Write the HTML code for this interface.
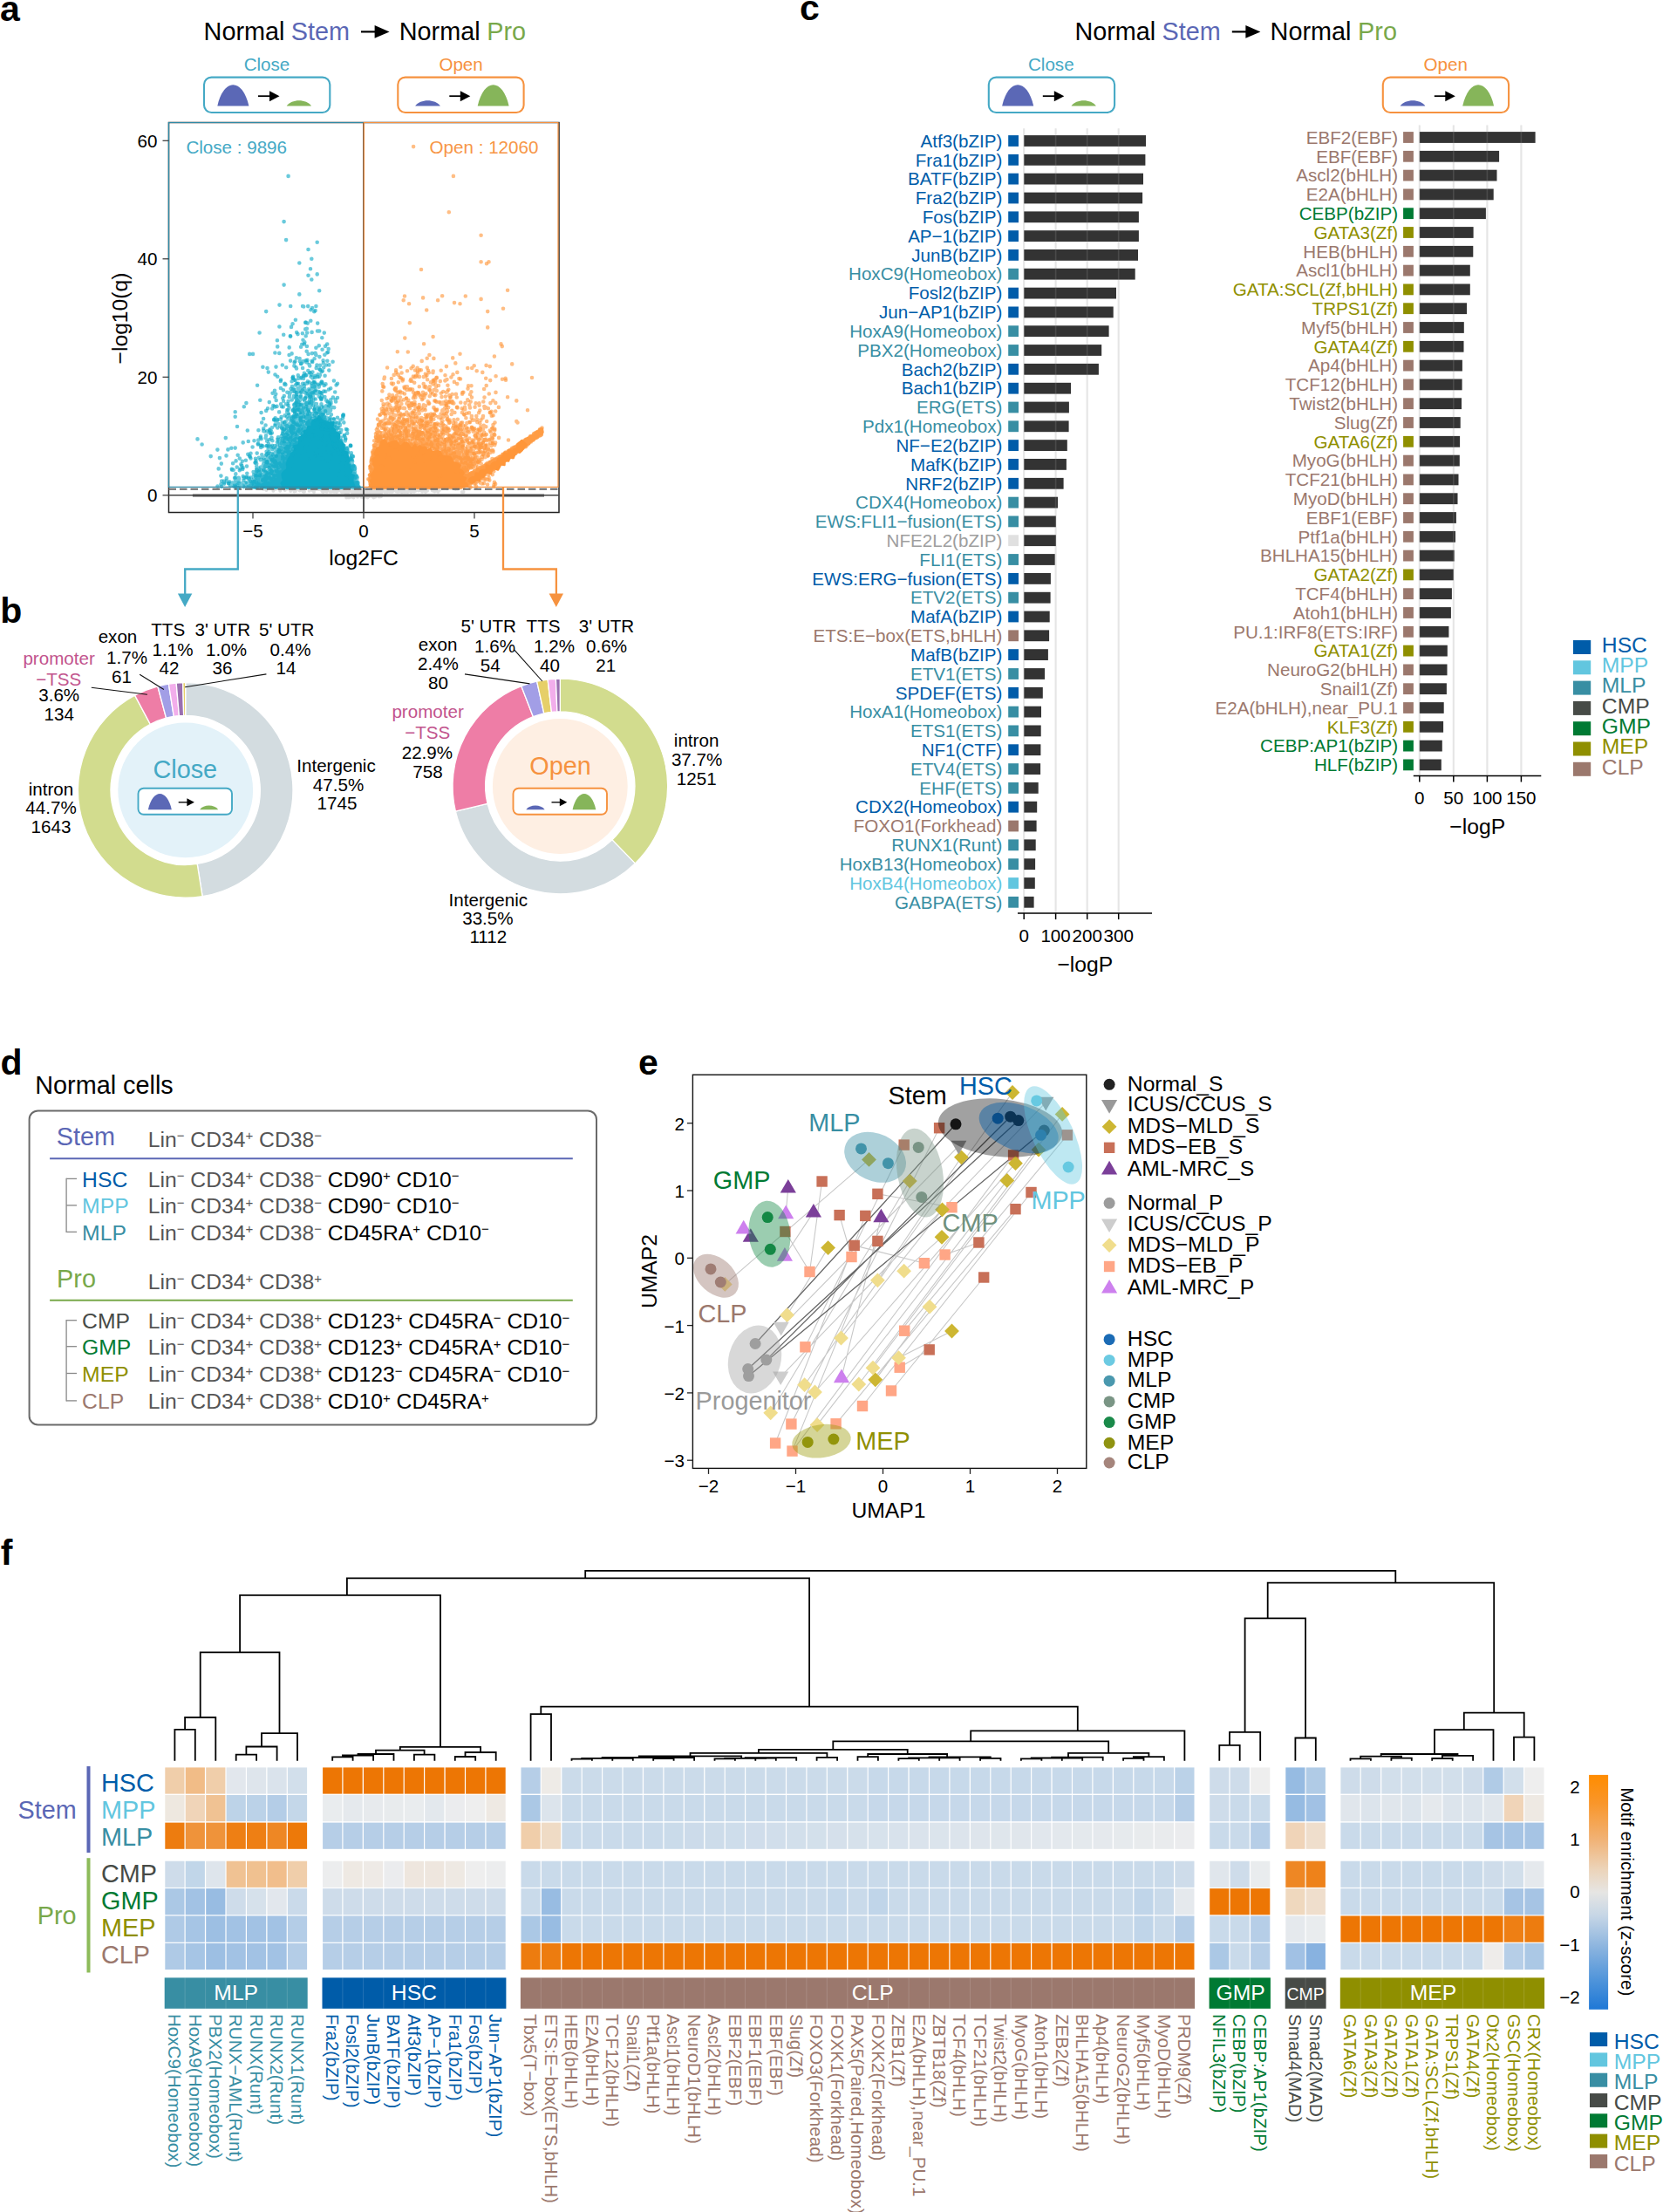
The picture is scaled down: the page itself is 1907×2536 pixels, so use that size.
<!DOCTYPE html>
<html lang="en"><head><meta charset="utf-8"><title>Figure</title>
<style>
html,body{margin:0;padding:0;background:#fff}
body{width:1907px;height:2536px;overflow:hidden}
svg{display:block;font-family:"Liberation Sans",sans-serif}
</style></head><body>
<svg width="1907" height="2536" viewBox="0 0 1907 2536">
<text x="0.0" y="23.6" font-size="41" fill="#000" font-weight="bold">a</text>
<text x="0.3" y="714.4" font-size="41" fill="#000" font-weight="bold">b</text>
<text x="917.0" y="23.3" font-size="41" fill="#000" font-weight="bold">c</text>
<text x="0.5" y="1231.5" font-size="41" fill="#000" font-weight="bold">d</text>
<text x="732.0" y="1231.5" font-size="41" fill="#000" font-weight="bold">e</text>
<text x="0.8" y="1794.3" font-size="41" fill="#000" font-weight="bold">f</text>
<text x="233.6" y="45.6" font-size="28.8" fill="#000">Normal</text>
<text x="333.8" y="45.6" font-size="28.8" fill="#5B67B5">Stem</text>
<line x1="414.0" y1="36.4" x2="430.6" y2="36.4" stroke="#000" stroke-width="2.2"/>
<path d="M446.6 36.4L429.6 29.1L429.6 43.7Z" fill="#000"/>
<text x="457.8" y="45.6" font-size="28.8" fill="#000">Normal</text>
<text x="558.3" y="45.6" font-size="28.8" fill="#78A84A">Pro</text>
<text x="306.0" y="81.0" font-size="20.6" fill="#45A9C5" text-anchor="middle">Close</text>
<text x="528.6" y="81.0" font-size="20.6" fill="#F6923F" text-anchor="middle">Open</text>
<rect x="234.0" y="88.6" width="144.3" height="40.4" fill="#fff" stroke="#45A9C5" stroke-width="2.1" rx="8.5"/>
<path d="M249.3 121.5C256.5 89.1 278.2 89.1 285.4 121.5Z" fill="#5B68B6"/>
<line x1="296.0" y1="110.2" x2="310.0" y2="110.2" stroke="#000" stroke-width="1.8"/>
<path d="M320.5 110.2L309.0 104.2L309.0 116.2Z" fill="#000"/>
<path d="M328.7 121.5C334.4 113.2 351.4 113.2 357.1 121.5Z" fill="#86B55A"/>
<rect x="456.3" y="88.6" width="144.3" height="40.4" fill="#fff" stroke="#F6923F" stroke-width="2.1" rx="8.5"/>
<path d="M476.1 121.5C481.9 113.2 499.1 113.2 504.9 121.5Z" fill="#5B68B6"/>
<line x1="515.3" y1="110.2" x2="528.8" y2="110.2" stroke="#000" stroke-width="1.8"/>
<path d="M539.3 110.2L527.8 104.2L527.8 116.2Z" fill="#000"/>
<path d="M547.7 121.5C554.9 89.1 576.4 89.1 583.6 121.5Z" fill="#86B55A"/>
<rect x="193.5" y="140.5" width="447.5" height="447.0" fill="#fff" stroke="#222" stroke-width="1.5"/>
<path d="M409.1 563.5h0M448.1 563.7h0M374.8 563.8h0M411.2 565.0h0M474.8 563.7h0M434.7 569.5h0M337.4 563.5h0M465.5 563.0h0M336.2 561.3h0M333.5 562.2h0M437.6 560.0h0M419.7 567.4h0M437.8 562.6h0M442.1 560.2h0M450.4 561.0h0M482.9 562.3h0M404.6 569.9h0M416.7 568.3h0M399.4 567.1h0M373.5 561.3h0M381.0 560.3h0M434.5 562.9h0M424.5 564.8h0M488.4 559.9h0M416.7 559.9h0M380.6 563.5h0M347.7 563.4h0M464.1 561.8h0M495.3 560.4h0M440.5 561.4h0M453.3 560.8h0M391.0 561.3h0M372.9 560.1h0M395.1 559.6h0M348.0 563.8h0M434.2 562.9h0M325.6 560.2h0M411.3 563.3h0M471.1 564.0h0M392.2 563.5h0M429.4 569.9h0M425.1 567.8h0M395.5 562.2h0M436.5 565.6h0M407.0 564.6h0M491.9 560.0h0M359.2 562.8h0M380.8 559.9h0M446.4 559.5h0M440.5 563.0h0M447.8 563.0h0M354.6 562.8h0M428.5 570.5h0M379.5 561.4h0M445.9 559.6h0M399.7 563.8h0M365.1 560.9h0M524.8 560.4h0M458.3 559.9h0M437.1 566.2h0M373.6 563.6h0M410.0 569.8h0M408.5 568.2h0M446.3 563.8h0M461.5 564.1h0M435.7 566.6h0M441.2 564.0h0M471.4 563.4h0M372.3 562.9h0M394.3 563.5h0M461.7 560.0h0M478.9 561.8h0M419.6 569.6h0M459.3 562.8h0M449.9 560.1h0M427.9 560.2h0M431.4 564.8h0M460.5 563.9h0M472.7 561.6h0M522.5 560.8h0M408.4 567.7h0M401.5 562.1h0M444.9 561.5h0M430.3 568.1h0M377.4 560.2h0M521.0 560.3h0M412.7 561.6h0M419.8 564.9h0M385.7 562.4h0M434.0 567.5h0M424.3 567.7h0M377.1 562.0h0M303.1 559.6h0M412.6 566.6h0M428.8 568.4h0M457.9 563.1h0M344.5 560.1h0M345.4 561.8h0M369.9 563.7h0M347.4 560.9h0M496.9 560.5h0M374.4 561.8h0M461.0 562.5h0M502.8 560.3h0M472.3 562.2h0M413.0 560.2h0M417.2 569.1h0M391.5 563.4h0M498.2 563.4h0M370.3 560.2h0M495.9 562.4h0M412.9 564.6h0M427.9 560.0h0M428.4 563.5h0M305.4 562.0h0M402.4 561.1h0M438.2 562.9h0M391.0 562.7h0M426.1 567.7h0M489.5 562.1h0M497.8 562.4h0M503.9 561.9h0M326.8 562.1h0M367.0 559.7h0M359.5 561.6h0M421.4 570.3h0M392.0 564.1h0M434.0 561.8h0M449.1 560.6h0M472.9 561.4h0M393.9 561.4h0M476.6 560.4h0M473.3 562.9h0M462.4 562.8h0M430.5 564.4h0M362.2 560.5h0M469.0 561.2h0M393.4 561.7h0M344.3 561.9h0M416.1 564.7h0M302.2 560.8h0M438.7 559.9h0M458.9 561.4h0M408.1 560.3h0M436.9 569.2h0M398.8 565.7h0M455.9 563.7h0M438.7 560.9h0M445.0 563.3h0M316.2 560.7h0M407.0 560.9h0M398.2 560.0h0M445.9 562.2h0M434.4 561.5h0M450.6 561.6h0M467.9 562.5h0M437.0 562.7h0M464.0 564.0h0M370.5 564.0h0M403.8 566.9h0M378.7 563.8h0M379.3 559.4h0M454.5 563.6h0M420.7 562.1h0M436.4 567.6h0M458.6 559.8h0M460.8 560.2h0M420.5 560.5h0M450.9 561.4h0M415.3 569.9h0M401.1 563.0h0M404.5 560.3h0M431.0 563.6h0M428.9 561.2h0M401.9 569.8h0M458.4 562.5h0M379.7 561.5h0M458.0 563.5h0M404.2 564.8h0M423.9 568.8h0M446.5 563.8h0M435.2 567.2h0M464.0 560.5h0M407.2 568.6h0M480.0 562.4h0M460.4 564.0h0M426.5 562.6h0M390.8 561.8h0M411.7 560.4h0M495.8 562.0h0M480.2 561.7h0M447.8 561.7h0M378.3 560.8h0M468.3 560.1h0M417.0 562.8h0M388.1 562.4h0M383.1 563.8h0M435.4 562.5h0M436.2 567.7h0M433.1 561.4h0M440.3 559.9h0M402.3 567.9h0M385.8 562.7h0M393.3 562.0h0M429.6 567.7h0M389.7 561.5h0M426.7 567.2h0M420.6 566.4h0M423.9 565.4h0M388.1 561.7h0M421.5 570.5h0M420.1 566.2h0M444.0 563.9h0M464.9 563.0h0M428.2 564.2h0M338.8 561.0h0M406.6 562.7h0M458.7 562.5h0M387.3 559.4h0M470.2 561.0h0M487.9 563.9h0M476.8 561.1h0M329.9 560.6h0M432.7 564.8h0M396.4 561.7h0M468.8 560.2h0M343.0 561.3h0M482.3 560.8h0M374.1 563.0h0M448.7 562.4h0M427.4 569.4h0M455.4 561.1h0M366.3 561.1h0M397.2 570.5h0M368.7 560.3h0M421.4 564.7h0M362.0 560.9h0M498.0 562.9h0M455.5 563.7h0M414.1 568.3h0M503.8 560.6h0M480.7 562.3h0M413.1 565.3h0M387.0 561.1h0M342.8 561.0h0M447.4 562.9h0M435.5 562.5h0M400.0 570.4h0M484.1 563.8h0M413.2 563.0h0M497.4 560.9h0M406.5 565.5h0M481.3 561.9h0M501.2 563.1h0M495.0 559.4h0M430.9 565.5h0M418.4 561.6h0M476.5 562.8h0M411.0 568.2h0M455.0 561.3h0M410.4 569.0h0M403.2 569.1h0M447.9 559.9h0M367.3 560.7h0M434.7 565.2h0M529.8 564.0h0M481.2 561.9h0M423.4 567.2h0M451.7 562.6h0M458.2 560.1h0M506.8 560.1h0M423.0 569.2h0M493.9 559.8h0M386.3 562.7h0M386.8 559.3h0M458.6 561.3h0M387.7 562.8h0M463.3 563.8h0M499.4 562.7h0M479.6 559.6h0M422.2 565.0h0M462.0 563.2h0M333.2 559.9h0M512.8 560.2h0M345.6 559.6h0M339.7 561.5h0M419.0 562.6h0M406.2 565.6h0M423.3 567.4h0M349.0 563.8h0M445.8 561.8h0M410.3 566.8h0M397.5 559.9h0M501.6 562.8h0M398.1 564.5h0M386.4 562.2h0M437.1 568.3h0M448.3 559.8h0M386.3 559.8h0M422.7 559.7h0M395.6 563.2h0M430.7 569.5h0M410.0 567.9h0M440.7 562.8h0M325.9 560.5h0M377.1 562.1h0M369.0 562.3h0M454.0 562.5h0M460.0 559.5h0M437.6 563.5h0M350.5 560.0h0M420.6 568.2h0M417.0 566.2h0M460.1 562.0h0M516.7 559.9h0M393.9 564.0h0M500.3 559.8h0M438.2 561.8h0M421.3 566.3h0M421.6 560.5h0M467.8 559.5h0M333.2 562.9h0M444.9 561.6h0M440.7 560.8h0M497.9 561.0h0M392.9 560.4h0M360.0 563.9h0M439.1 560.4h0M434.6 563.5h0M413.3 567.8h0M447.2 561.1h0M414.2 569.7h0M398.6 564.8h0M378.4 563.0h0M397.0 564.0h0M465.0 561.9h0M424.9 560.1h0M357.3 561.8h0M339.0 563.0h0M424.5 562.9h0M418.3 565.1h0M432.1 563.2h0M387.7 560.9h0M441.0 559.7h0M424.0 566.8h0M435.3 566.0h0M408.2 561.9h0M391.3 560.6h0M387.7 559.5h0M421.0 567.1h0M437.8 563.0h0M388.8 560.5h0M387.2 561.7h0M435.9 566.0h0M455.4 560.9h0M449.2 562.2h0M413.0 568.2h0M449.8 563.8h0M417.5 569.9h0M337.0 559.9h0M489.5 560.6h0M420.3 566.9h0M469.0 560.5h0M531.5 563.9h0M396.7 566.5h0M379.5 562.5h0M424.0 567.5h0M425.4 566.7h0M447.2 559.5h0M414.9 568.3h0M363.5 560.2h0M496.0 562.0h0M476.9 562.3h0M439.6 559.7h0M439.0 559.8h0M467.4 563.9h0M343.4 560.4h0M471.4 563.9h0M439.9 559.7h0M426.0 567.7h0M420.2 566.8h0M313.4 562.8h0M490.0 562.8h0M403.6 562.7h0M405.5 570.5h0M459.4 560.5h0M484.4 559.6h0M386.0 564.0h0M427.9 560.1h0M479.5 559.5h0M392.9 562.0h0M447.3 561.7h0M451.1 560.3h0M408.0 562.5h0M460.7 561.2h0M343.6 562.5h0M401.7 562.0h0M465.7 563.7h0M449.7 562.9h0M502.4 563.8h0M485.1 562.5h0M435.7 559.9h0M321.2 562.8h0M441.8 561.7h0M433.6 562.8h0M387.0 562.1h0M434.2 563.8h0" fill="none" stroke="#C9C9C9" stroke-width="4" stroke-linecap="round" opacity="0.6"/>
<line x1="193.5" y1="567.8" x2="641.0" y2="567.8" stroke="#444" stroke-width="1.6"/>
<line x1="417.0" y1="140.5" x2="417.0" y2="587.5" stroke="#444" stroke-width="1.8"/>
<line x1="220.9" y1="568.0" x2="624.0" y2="568.0" stroke="#4A4A4A" stroke-width="3.2"/>
<path d="M406.6 557.7L405.4 554.9L404.1 552.1L404.1 548.9L405.9 545.2L401.5 543.3L403.4 539.6L401.2 537.0L401.3 533.8L398.7 531.4L400.5 527.7L399.4 524.8L398.5 521.9L398.2 518.8L393.7 516.9L394.4 513.5L394.1 509.9L392.4 507.1L388.2 505.4L389.0 501.3L388.9 497.7L384.8 495.9L384.1 492.6L381.2 490.3L382.6 484.1L379.0 484.5L375.4 484.7L372.6 483.4L369.6 482.4L365.8 477.2L363.7 480.2L360.4 481.4L357.8 483.6L357.3 488.8L353.3 489.1L353.0 492.9L348.8 494.3L349.1 498.6L345.5 500.3L342.8 502.7L343.3 507.0L342.3 510.2L337.1 511.3L338.1 515.2L337.0 518.2L333.8 520.2L333.2 523.4L330.9 525.8L329.9 528.8L328.8 532.0L329.5 535.5L328.7 538.6L325.5 540.8L323.6 543.5L324.0 547.3L325.4 550.9L322.5 554.0L324.3 557.6L327.3 557.6L330.4 557.6L333.5 557.6L336.5 557.6L339.6 557.6L342.6 557.6L345.7 557.6L348.7 557.6L351.8 557.6L354.9 557.6L357.9 557.6L361.0 557.6L364.0 557.6L367.1 557.6L370.2 557.6L373.2 557.6L376.3 557.6L379.3 557.6L382.4 557.6L385.4 557.6L388.5 557.6L391.6 557.6L394.6 557.6L397.7 557.6L400.7 557.6L403.8 557.6Z" fill="#0BABC8" stroke="#0BABC8" stroke-width="2.4" stroke-linejoin="round"/>
<path d="M423.7 557.5L426.5 554.6L424.8 551.3L427.3 548.4L425.2 545.0L427.7 542.1L429.6 539.1L430.7 536.1L428.3 532.7L428.2 529.5L427.2 526.2L431.7 523.5L429.4 520.1L430.8 517.7L432.1 514.4L435.6 512.6L436.9 509.3L437.2 506.0L440.9 504.4L443.7 509.0L447.4 507.5L451.0 506.4L454.5 506.0L457.2 510.3L460.1 511.3L463.9 507.7L466.9 508.1L469.4 511.2L471.9 513.9L475.7 510.1L478.2 513.3L481.6 511.3L484.3 513.3L487.5 512.8L489.8 516.7L493.5 514.2L495.3 517.9L498.4 518.1L502.1 517.1L504.9 518.2L506.5 522.3L509.4 523.2L512.6 523.4L515.6 523.9L517.6 525.2L518.5 528.5L520.9 530.6L524.7 531.6L527.3 533.5L525.8 538.7L529.7 539.5L531.7 542.2L529.3 546.4L534.2 548.1L531.8 552.4L535.2 554.6L536.4 557.6L533.4 557.6L530.4 557.6L527.4 557.6L524.4 557.6L521.3 557.6L518.3 557.6L515.3 557.6L512.3 557.6L509.3 557.6L506.3 557.6L503.3 557.6L500.3 557.6L497.3 557.6L494.3 557.6L491.3 557.6L488.3 557.6L485.3 557.6L482.3 557.6L479.3 557.6L476.2 557.6L473.2 557.6L470.2 557.6L467.2 557.6L464.2 557.6L461.2 557.6L458.2 557.6L455.2 557.6L452.2 557.6L449.2 557.6L446.2 557.6L443.2 557.6L440.2 557.6L437.2 557.6L434.1 557.6L431.1 557.6L428.1 557.6Z" fill="#FF9639" stroke="#FF9639" stroke-width="2.4" stroke-linejoin="round"/>
<path d="M543.7 552.4L546.0 550.4L550.3 551.4L550.6 546.4L554.5 546.8L555.8 543.1L558.4 541.6L563.1 543.2L563.9 538.9L566.0 536.6L571.0 538.6L572.7 535.7L574.1 532.3L578.5 533.1L578.7 528.1L583.2 528.5L584.0 524.4L588.7 525.0L590.1 521.5L591.3 517.8L596.1 518.7L598.5 516.4L600.3 513.4L603.7 510.0L598.2 505.0L596.0 507.4L593.4 509.1L593.2 514.1L589.9 514.8L588.0 517.4L583.3 516.2L582.6 520.5L578.1 519.4L576.7 523.0L574.5 525.2L571.2 525.7L570.1 529.6L566.7 530.0L564.2 531.8L562.5 534.8L557.7 533.2L557.8 538.7L554.2 538.9L551.0 539.6L549.6 543.0L545.5 542.5L545.0 547.3L541.3 547.3L538.5 549.0L537.7 551.5L540.7 553.5Z" fill="#FF9638" stroke="#FF9638" stroke-width="2.4" stroke-linejoin="round"/>
<path d="M397.7 556.5h0M336.6 536.4h0M365.2 541.5h0M350.8 526.0h0M311.2 531.1h0M321.2 488.4h0M352.6 503.2h0M350.3 531.7h0M361.5 556.3h0M353.1 538.7h0M366.2 539.2h0M395.0 515.5h0M364.0 541.8h0M336.4 551.3h0M343.7 477.3h0M350.5 556.2h0M365.9 469.9h0M348.2 528.5h0M319.5 534.1h0M306.5 422.1h0M391.0 554.7h0M356.5 557.5h0M329.6 490.8h0M347.6 551.4h0M338.1 552.7h0M350.5 540.0h0M346.0 547.8h0M363.7 520.9h0M312.2 556.6h0M370.2 476.8h0M384.9 545.5h0M327.3 557.2h0M343.5 525.7h0M387.0 551.6h0M368.5 549.7h0M384.9 522.5h0M352.9 512.8h0M368.9 450.8h0M353.8 461.4h0M346.3 547.4h0M398.6 557.9h0M364.1 505.3h0M349.3 515.4h0M367.0 549.5h0M363.8 550.6h0M331.9 537.1h0M326.0 484.3h0M306.1 494.2h0M379.9 549.3h0M332.5 526.4h0M306.3 555.1h0M349.2 544.5h0M354.8 552.1h0M386.6 530.7h0M341.6 476.9h0M375.0 542.4h0M339.5 516.6h0M340.3 551.8h0M320.3 552.9h0M359.8 555.8h0M345.7 471.1h0M369.3 552.4h0M349.9 548.3h0M335.9 542.9h0M378.8 496.7h0M303.9 552.5h0M324.2 533.2h0M393.8 552.4h0M386.0 524.8h0M367.3 557.1h0M307.3 553.9h0M380.5 547.9h0M370.4 548.3h0M323.5 555.8h0M332.4 543.4h0M399.3 548.3h0M351.8 534.9h0M393.3 558.9h0M349.5 534.1h0M377.7 540.9h0M318.4 536.3h0M389.1 536.6h0M376.2 535.3h0M323.8 543.0h0M339.6 542.4h0M359.5 543.2h0M341.7 543.9h0M339.2 494.9h0M367.9 550.8h0M354.1 533.7h0M385.0 493.2h0M331.3 542.2h0M369.3 387.2h0M323.1 554.0h0M369.4 507.8h0M291.9 557.4h0M358.9 498.9h0M372.7 553.2h0M339.8 514.2h0M367.8 545.5h0M366.0 549.5h0M378.0 545.6h0M358.1 543.7h0M388.4 502.8h0M257.0 553.2h0M360.0 558.8h0M336.5 434.3h0M345.1 397.7h0M347.1 472.2h0M373.8 556.5h0M392.1 526.5h0M362.3 505.9h0M311.1 523.9h0M346.8 546.3h0M322.4 534.6h0M359.9 542.5h0M275.6 537.5h0M342.7 492.9h0M399.0 552.0h0M306.2 553.8h0M392.6 555.6h0M358.6 545.7h0M368.7 557.1h0M330.8 522.6h0M344.8 554.0h0M336.3 541.4h0M408.9 545.9h0M291.1 544.6h0M341.7 553.4h0M324.9 546.0h0M346.3 538.4h0M339.1 529.6h0M346.8 549.8h0M356.2 554.2h0M339.3 557.8h0M342.3 516.5h0M326.8 541.4h0M345.5 558.6h0M367.4 557.0h0M348.6 502.2h0M361.8 500.8h0M383.3 558.1h0M358.6 543.4h0M326.5 440.9h0M376.7 536.7h0M371.8 539.4h0M369.9 544.9h0M343.3 539.3h0M338.6 555.1h0M385.5 552.5h0M297.9 550.5h0M310.4 512.1h0M368.0 535.5h0M329.3 498.7h0M360.1 554.6h0M364.7 557.4h0M345.7 552.8h0M367.3 515.3h0M336.3 478.6h0M305.6 517.8h0M338.0 473.4h0M377.0 530.6h0M339.3 525.5h0M358.7 543.5h0M380.7 545.5h0M372.4 513.3h0M364.0 379.5h0M372.5 480.7h0M353.3 509.5h0M368.8 556.2h0M357.2 550.0h0M357.0 530.9h0M296.1 540.8h0M363.4 418.6h0M333.8 548.5h0M400.5 536.7h0M402.8 558.2h0M362.3 527.6h0M343.1 552.8h0M313.2 539.5h0M344.7 449.8h0M379.9 553.4h0M338.9 529.2h0M322.9 546.0h0M335.9 554.2h0M390.2 554.2h0M320.6 555.4h0M321.9 554.2h0M312.1 468.4h0M339.2 542.5h0M346.5 558.1h0M343.4 551.5h0M323.2 555.4h0M367.4 534.0h0M290.8 552.3h0M341.0 535.7h0M299.9 558.9h0M343.0 533.9h0M354.8 555.1h0M364.8 558.4h0M322.1 435.5h0M373.7 551.2h0M323.1 547.7h0M353.0 555.7h0M335.9 518.1h0M343.5 509.9h0M266.3 553.5h0M382.5 558.1h0M393.9 552.5h0M355.8 557.5h0M366.8 552.5h0M355.5 515.9h0M367.9 457.1h0M388.1 554.5h0M345.0 454.0h0M323.4 546.0h0M372.0 481.3h0M349.5 535.2h0M323.1 557.2h0M386.2 526.1h0M374.4 548.8h0M407.4 558.9h0M397.0 541.3h0M302.2 491.3h0M357.1 538.6h0M370.1 556.7h0M331.7 557.5h0M388.5 550.6h0M352.3 516.8h0M329.6 551.4h0M350.2 512.3h0M397.5 549.4h0M357.4 493.8h0M355.4 543.8h0M374.5 548.7h0M363.7 314.4h0M365.4 551.7h0M365.6 486.9h0M330.3 555.8h0M407.7 553.2h0M359.1 550.4h0M361.3 556.5h0M327.2 504.1h0M366.9 418.9h0M300.9 555.3h0M329.9 535.2h0M374.4 539.5h0M346.1 539.6h0M338.2 477.0h0M320.9 511.5h0M398.5 556.7h0M324.2 551.6h0M334.6 553.4h0M331.3 550.8h0M362.7 558.7h0M346.7 546.3h0M394.4 554.9h0M393.8 547.9h0M366.5 552.5h0M369.8 512.7h0M362.5 550.3h0M325.3 544.0h0M296.0 546.4h0M367.3 539.4h0M357.3 512.8h0M317.6 551.7h0M323.4 546.1h0M366.0 502.6h0M322.9 466.1h0M388.8 546.0h0M371.8 558.9h0M399.7 555.6h0M395.5 540.3h0M379.8 543.0h0M354.7 544.6h0M337.8 554.6h0M360.3 470.0h0M366.3 551.2h0M338.2 509.8h0M380.2 539.8h0M359.5 502.1h0M381.1 552.4h0M352.0 510.9h0M384.6 516.3h0M324.6 558.6h0M337.7 448.9h0M345.8 515.8h0M347.9 537.4h0M344.6 553.8h0M348.5 464.2h0M368.1 550.7h0M379.9 517.7h0M359.5 457.4h0M339.4 456.2h0M330.6 558.3h0M363.3 546.1h0M393.1 554.3h0M342.4 534.4h0M385.3 490.0h0M323.4 490.7h0M322.2 508.1h0M321.1 509.5h0M317.8 555.5h0M354.5 523.4h0M360.2 526.4h0M342.7 531.6h0M341.1 546.5h0M336.2 538.6h0M383.2 467.3h0M383.4 513.9h0M335.3 488.1h0M331.6 522.6h0M381.6 555.6h0M403.7 538.1h0M355.2 553.9h0M350.0 532.0h0M375.6 553.3h0M354.1 532.4h0M362.1 531.2h0M390.1 558.9h0M378.7 513.7h0M311.1 537.9h0M335.7 510.3h0M357.6 521.4h0M360.1 484.4h0M325.1 459.8h0M358.4 543.3h0M351.8 551.1h0M358.6 540.8h0M338.8 512.9h0M349.9 550.4h0M339.3 541.8h0M359.3 540.6h0M327.0 543.2h0M365.4 506.5h0M322.4 552.0h0M368.7 487.4h0M387.2 550.6h0M347.3 547.2h0M318.8 481.1h0M364.9 524.8h0M292.5 530.5h0M322.3 558.0h0M356.1 539.6h0M309.5 540.3h0M385.9 549.6h0M325.4 526.5h0M369.7 525.2h0M391.3 557.4h0M318.7 517.5h0M402.0 539.7h0M410.3 553.1h0M359.8 542.7h0M389.0 554.5h0M356.2 544.5h0M270.5 554.1h0M393.1 549.4h0M371.0 509.4h0M305.5 556.8h0M265.8 537.8h0M364.3 532.7h0M340.5 534.8h0M345.9 523.9h0M396.9 492.0h0M351.1 549.1h0M390.5 557.6h0M376.3 514.1h0M361.8 534.8h0M322.8 499.8h0M350.9 551.9h0M296.0 508.6h0M345.6 484.0h0M395.4 553.8h0M335.5 516.3h0M338.3 546.6h0M329.4 536.3h0M327.7 537.6h0M345.3 527.6h0M357.1 549.9h0M354.8 542.3h0M366.1 442.2h0M361.8 546.6h0M389.4 542.5h0M394.7 551.5h0M389.2 535.8h0M335.0 487.8h0M361.6 558.2h0M386.1 545.2h0M351.2 463.5h0M334.3 445.8h0M361.7 538.9h0M299.6 539.3h0M380.0 511.7h0M322.0 480.6h0M327.5 441.1h0M371.9 542.5h0M311.8 549.5h0M343.1 470.0h0M364.9 553.7h0M303.2 554.6h0M392.3 553.9h0M360.6 503.5h0M381.5 551.4h0M350.3 540.3h0M388.4 553.8h0M325.2 521.6h0M309.8 496.3h0M342.5 556.9h0M365.9 549.4h0M364.8 482.4h0M394.5 550.2h0M336.4 534.7h0M373.0 557.2h0M390.7 537.7h0M358.9 547.6h0M351.2 557.8h0M388.9 527.3h0M356.9 539.0h0M380.3 526.3h0M306.7 542.2h0M345.4 550.7h0M365.5 556.5h0M394.7 525.7h0M335.1 529.6h0M373.9 555.4h0M389.2 556.5h0M350.7 524.4h0M319.0 546.9h0M373.3 536.2h0M394.3 542.3h0M393.1 479.6h0M364.9 515.4h0M384.8 505.9h0M371.3 550.7h0M399.1 554.5h0M226.5 503.4h0M395.0 530.6h0M335.9 499.0h0M348.3 503.7h0M357.7 509.3h0M350.2 553.9h0M332.1 546.5h0M394.0 543.7h0M341.1 543.6h0M364.9 510.7h0M382.0 487.9h0M385.5 558.5h0M339.2 553.6h0M363.3 547.0h0M400.0 529.6h0M349.7 501.8h0M375.8 533.0h0M353.5 544.4h0M394.2 553.0h0M375.3 542.4h0M330.6 550.2h0M410.1 553.9h0M387.6 554.7h0M378.5 498.1h0M342.6 544.0h0M336.6 549.1h0M336.1 550.9h0M364.5 523.0h0M304.5 527.1h0M353.9 514.3h0M368.1 535.8h0M372.4 558.4h0M326.3 523.3h0M344.6 479.9h0M319.7 532.1h0M383.3 555.9h0M377.1 556.1h0M363.1 534.0h0M363.3 546.2h0M345.5 514.3h0M327.7 530.9h0M329.6 549.7h0M370.9 531.4h0M388.2 484.9h0M348.0 540.9h0M328.9 541.1h0M361.7 552.2h0M334.5 557.7h0M347.0 524.7h0M326.4 555.9h0M312.8 549.2h0M350.9 413.3h0M257.0 551.5h0M316.1 541.7h0M329.3 549.2h0M348.7 503.4h0M339.4 547.8h0M335.7 496.6h0M383.3 550.8h0M336.7 528.8h0M312.1 526.8h0M345.6 541.4h0M335.7 470.7h0M351.9 526.9h0M391.3 556.7h0M339.0 545.9h0M371.2 534.5h0M297.8 542.0h0M378.8 533.3h0M378.7 538.7h0M326.9 503.5h0M322.1 463.2h0M369.4 552.9h0M411.6 559.0h0M344.6 456.7h0M362.0 503.4h0M337.5 512.9h0M312.5 558.2h0M372.4 455.1h0M277.3 533.9h0M302.9 551.2h0M401.4 551.5h0M327.7 543.2h0M331.6 554.3h0M337.9 512.6h0M388.4 545.8h0M333.5 550.3h0M325.0 555.6h0M278.7 507.4h0M363.0 483.5h0M383.7 557.6h0M361.5 539.0h0M373.4 539.0h0M386.4 495.0h0M383.2 543.1h0M367.6 498.6h0M362.2 550.4h0M384.0 532.8h0M387.5 549.7h0M358.1 531.0h0M359.1 545.6h0M271.7 535.6h0M348.2 467.5h0M361.6 547.8h0M337.6 551.0h0M355.2 419.4h0M377.0 516.8h0M334.0 374.9h0M338.7 536.7h0M352.9 513.8h0M331.3 556.3h0M321.1 541.9h0M340.0 422.5h0M332.8 548.7h0M357.0 550.6h0M348.7 539.6h0M366.7 546.9h0M394.0 543.3h0M328.0 463.3h0M282.7 546.8h0M328.5 558.2h0M311.1 538.2h0M339.1 501.5h0M362.8 502.0h0M395.9 555.4h0M340.1 536.0h0M343.1 495.5h0M347.4 483.2h0M349.2 540.4h0M408.1 555.6h0M296.6 548.1h0M350.0 534.9h0M376.9 484.5h0M351.6 484.7h0M361.8 553.6h0M348.9 553.4h0M295.8 545.2h0M342.8 556.2h0M408.1 555.4h0M366.2 531.1h0M357.9 405.1h0M297.2 553.2h0M401.4 548.4h0M353.7 556.0h0M325.6 556.7h0M351.7 550.3h0M333.2 351.0h0M382.3 546.8h0M346.4 549.4h0M346.5 544.5h0M360.7 541.7h0M382.0 557.4h0M402.8 526.0h0M387.6 558.6h0M358.6 525.3h0M381.7 512.8h0M298.9 551.8h0M336.9 510.8h0M315.4 544.4h0M340.7 485.5h0M383.1 525.2h0M348.7 538.9h0M358.4 547.4h0M357.9 543.1h0M334.9 554.6h0M356.5 431.7h0M337.4 435.6h0M376.6 552.5h0M329.1 552.4h0M344.1 477.8h0M351.8 545.1h0M374.1 557.6h0M383.9 554.5h0M360.9 531.9h0M371.1 527.2h0M347.5 389.8h0M327.2 518.1h0M329.5 549.8h0M332.0 555.9h0M398.0 554.8h0M324.3 534.2h0M341.0 500.1h0M348.6 557.0h0M399.6 555.4h0M373.3 532.5h0M305.7 555.7h0M353.1 555.5h0M364.9 517.2h0M407.1 537.5h0M385.6 441.5h0M371.1 525.3h0M307.6 547.1h0M363.0 522.9h0M381.7 547.9h0M326.6 554.8h0M358.5 558.9h0M341.6 549.0h0M322.2 513.0h0M385.3 548.2h0M372.1 543.0h0M349.8 531.4h0M339.7 462.6h0M321.9 445.0h0M344.0 538.5h0M362.4 351.0h0M329.4 512.1h0M330.6 201.9h0M319.7 557.4h0M375.4 558.4h0M360.2 540.4h0M385.7 555.4h0M330.2 548.5h0M326.0 533.2h0M384.4 551.7h0M350.0 552.2h0M351.2 538.1h0M365.1 556.6h0M392.4 554.2h0M399.6 551.5h0M327.9 558.6h0M333.7 546.8h0M391.2 519.2h0M373.3 530.8h0M361.6 501.4h0M410.1 552.7h0M356.4 510.3h0M404.2 556.0h0M322.5 546.9h0M405.4 558.9h0M349.6 529.9h0M386.0 553.4h0M330.1 517.9h0M306.2 555.0h0M342.6 557.8h0M328.2 537.7h0M331.6 524.9h0M398.1 534.0h0M338.0 554.4h0M349.3 392.4h0M334.9 540.7h0M394.9 555.1h0M362.0 502.7h0M331.3 551.9h0M373.6 550.7h0M354.7 531.5h0M385.1 548.7h0M341.8 430.2h0M396.2 541.3h0M320.9 540.0h0M334.7 496.0h0M375.4 541.5h0M314.4 545.6h0M305.4 558.2h0M358.8 528.2h0M397.1 536.1h0M348.1 483.5h0M353.1 531.7h0M371.0 551.5h0M329.0 495.4h0M346.3 394.7h0M359.9 510.7h0M358.7 540.7h0M377.6 558.2h0M331.0 545.5h0M348.8 528.8h0M271.0 554.2h0M364.8 555.7h0M387.2 558.7h0M392.9 529.5h0M380.2 542.3h0M398.6 541.3h0M321.7 531.1h0M351.8 503.2h0M328.7 493.0h0M319.2 556.4h0M383.7 546.1h0M337.1 546.8h0M328.9 488.1h0M355.6 543.1h0M352.8 534.4h0M382.6 520.5h0M320.8 515.2h0M359.2 533.2h0M316.6 553.8h0M382.5 540.9h0M341.8 515.9h0M369.7 540.2h0M337.4 446.7h0M376.9 554.9h0M353.7 500.1h0M336.3 497.1h0M344.2 559.0h0M308.0 508.9h0M364.9 528.8h0M324.1 527.2h0M323.5 545.6h0M340.6 487.1h0M344.6 464.2h0M375.5 536.4h0M319.6 506.8h0M378.9 531.9h0M378.5 522.2h0M355.9 529.2h0M396.0 556.8h0M302.1 554.1h0M359.8 538.1h0M356.7 524.2h0M363.6 534.7h0M334.8 556.9h0M364.0 537.1h0M388.9 532.7h0M317.1 546.5h0M363.7 277.8h0M379.5 550.5h0M330.3 552.0h0M344.0 529.7h0M369.9 475.0h0M349.1 527.7h0M359.0 556.5h0M334.6 523.5h0M358.7 500.8h0M369.7 540.2h0M361.5 558.7h0M371.8 549.7h0M321.8 549.2h0M363.4 539.2h0M357.1 544.6h0M325.5 555.7h0M388.1 544.2h0M380.5 528.5h0M378.7 535.6h0M338.3 536.5h0M355.7 538.3h0M306.9 524.4h0M321.9 536.3h0M343.5 542.1h0M326.5 545.1h0M381.2 553.5h0M382.4 526.5h0M367.5 549.6h0M338.5 545.6h0M320.6 542.6h0M356.5 532.4h0M327.8 558.3h0M369.9 547.5h0M351.0 542.9h0M300.7 555.5h0M381.4 536.2h0M329.7 558.1h0M380.9 548.3h0M342.8 521.8h0M343.1 554.6h0M347.4 556.2h0M350.0 519.3h0M337.8 486.4h0M346.2 518.8h0M342.1 439.7h0M349.6 553.6h0M346.1 537.7h0M308.7 556.7h0M366.0 558.7h0M369.0 481.5h0M361.1 515.0h0M310.4 548.4h0M307.5 553.1h0M347.4 512.5h0M362.9 507.1h0M320.7 548.9h0M331.3 551.1h0M328.1 551.3h0M353.5 528.5h0M361.3 533.1h0M361.8 537.1h0M328.7 532.0h0M368.4 555.4h0M341.9 549.3h0M323.7 532.2h0M401.1 549.4h0M355.0 497.2h0M377.2 558.0h0M315.3 554.8h0M390.8 505.7h0M394.1 530.3h0M324.7 558.9h0M355.7 495.1h0M375.2 529.0h0M367.8 550.3h0M309.6 548.2h0M362.7 527.2h0M381.9 511.4h0M369.9 544.1h0M379.1 553.0h0M343.3 550.8h0M347.5 531.3h0M352.9 474.7h0M337.8 554.1h0M343.5 553.6h0M336.8 542.7h0M352.2 531.5h0M375.5 543.0h0M359.4 547.2h0M357.6 380.9h0M353.3 524.0h0M388.1 558.5h0M371.4 522.1h0M354.2 510.2h0M397.6 538.4h0M358.5 433.4h0M388.2 538.9h0M345.2 539.9h0M375.7 548.2h0M373.9 537.7h0M361.7 522.0h0M332.3 543.7h0M311.5 550.4h0M341.0 467.3h0M382.2 529.7h0M392.1 510.6h0M386.1 546.6h0M362.9 558.5h0M336.5 484.4h0M361.7 548.1h0M339.5 535.6h0M341.5 539.0h0M365.2 551.9h0M336.5 549.6h0M351.7 536.4h0M387.2 554.8h0M350.0 539.9h0M332.4 518.0h0M348.1 466.2h0M358.3 530.6h0M353.9 471.6h0M334.2 508.7h0M314.0 556.7h0M326.6 554.5h0M362.5 555.2h0M337.1 516.6h0M354.7 535.9h0M323.1 535.8h0M330.6 557.7h0M393.2 476.8h0M315.7 479.2h0M345.9 551.4h0M357.0 546.4h0M298.7 543.0h0M279.4 550.9h0M368.3 531.5h0M400.7 547.9h0M342.8 550.6h0M315.4 455.3h0M348.8 538.5h0M365.7 533.3h0M343.9 508.2h0M382.6 535.5h0M324.9 556.7h0M363.4 545.1h0M337.8 536.1h0M358.6 463.3h0M373.4 514.5h0M375.6 528.8h0M366.7 509.2h0M367.2 538.9h0M312.1 529.1h0M343.0 542.2h0M372.3 540.9h0M338.3 550.5h0M378.2 520.9h0M312.9 554.2h0M359.3 551.3h0M381.2 558.8h0M354.8 557.8h0M378.0 557.9h0M328.3 541.7h0M326.5 551.7h0M337.9 553.7h0M307.4 523.8h0M326.0 550.1h0M363.2 523.4h0M360.3 508.6h0M355.9 467.4h0M379.4 557.6h0M341.5 529.1h0M253.8 531.6h0M364.1 544.8h0M363.2 554.1h0M373.3 448.7h0M358.2 498.6h0M312.4 549.5h0M330.6 549.6h0M335.0 548.5h0M309.7 547.3h0M349.0 530.9h0M339.7 557.0h0M353.1 539.7h0M370.2 547.8h0M355.3 451.5h0M344.0 555.8h0M388.3 518.5h0M334.7 547.7h0M349.5 523.0h0M357.9 530.7h0M390.0 542.1h0M323.9 550.5h0M376.8 558.9h0M327.4 551.8h0M360.5 552.0h0M337.5 555.1h0M355.8 553.9h0M318.2 556.3h0M325.2 543.6h0M352.5 519.9h0M363.3 497.4h0M368.9 553.9h0M351.2 546.6h0M344.9 543.7h0M358.2 504.9h0M341.6 513.7h0M337.9 554.8h0M391.5 541.6h0M356.2 500.4h0M318.5 557.7h0M363.9 518.0h0M380.7 534.8h0M366.2 543.1h0M395.4 527.3h0M305.1 556.5h0M372.7 525.1h0M408.9 552.1h0M305.7 547.1h0M325.8 523.6h0M393.9 554.6h0M374.2 541.9h0M338.5 524.1h0M355.5 454.7h0M386.6 553.2h0M350.0 457.1h0M334.4 540.2h0M359.1 509.8h0M367.9 549.6h0M311.1 502.5h0M328.2 558.3h0M375.4 515.7h0M389.7 548.5h0M372.2 548.6h0M384.2 537.2h0M367.2 546.1h0M354.0 529.1h0M273.5 553.8h0M338.9 546.8h0M297.8 539.5h0M369.1 558.3h0M339.1 547.7h0M348.3 457.6h0M315.3 553.2h0M342.8 546.2h0M377.4 554.9h0M339.6 421.4h0M330.5 521.7h0M344.1 539.1h0M371.9 548.8h0M383.8 550.9h0M350.3 430.0h0M371.0 553.4h0M381.5 549.1h0M400.2 539.9h0M398.3 554.5h0M337.1 540.6h0M339.4 551.5h0M359.2 557.0h0M403.0 555.3h0M327.5 514.8h0M341.8 460.7h0M333.7 495.0h0M350.2 556.0h0M332.5 552.4h0M371.5 555.3h0M369.6 554.0h0M347.8 552.2h0M377.9 532.5h0M371.8 554.5h0M337.4 554.1h0M388.2 490.5h0M360.3 549.5h0M342.5 551.6h0M397.3 544.3h0M340.6 554.9h0M402.5 556.5h0M355.4 535.6h0M391.8 555.4h0M356.6 540.3h0M319.8 550.7h0M341.0 524.4h0M358.7 527.5h0M382.7 546.5h0M292.3 554.8h0M358.9 517.8h0M352.7 532.3h0M346.9 531.6h0M346.4 530.6h0M327.6 497.4h0M361.0 479.4h0M394.6 499.7h0M365.6 531.1h0M324.2 524.0h0M402.7 554.4h0M359.7 555.6h0M371.2 421.2h0M398.1 556.8h0M359.0 497.2h0M345.7 496.9h0M382.3 525.7h0M373.1 533.8h0M351.4 523.5h0M394.2 539.8h0M325.6 254.1h0M341.6 516.6h0M365.4 467.2h0M365.9 533.1h0M306.2 554.0h0M324.7 548.6h0M350.0 439.9h0M335.1 556.6h0M347.4 510.3h0M387.1 521.8h0M371.7 503.9h0M301.3 558.5h0M348.2 557.4h0M374.3 557.1h0M403.6 550.4h0M338.9 555.0h0M360.8 554.0h0M352.0 539.9h0M361.3 430.7h0M301.9 549.4h0M371.3 553.5h0M344.2 458.8h0M321.1 541.0h0M363.3 557.0h0M395.1 543.1h0M387.1 548.3h0M387.7 550.0h0M348.2 548.7h0M388.5 541.6h0M329.8 526.6h0M345.2 537.5h0M375.2 505.9h0M379.6 544.8h0M388.3 556.3h0M338.7 546.7h0M291.5 505.3h0M328.0 539.3h0M376.8 551.7h0M346.7 542.7h0M356.3 367.7h0M334.9 510.1h0M352.1 439.4h0M364.1 508.1h0M358.6 522.1h0M405.3 552.9h0M355.9 552.7h0M382.6 555.9h0M351.3 430.0h0M359.6 543.8h0M319.0 539.4h0M314.9 550.2h0M338.0 497.9h0M406.1 547.4h0M373.5 551.1h0M312.8 550.6h0M330.4 525.9h0M330.0 494.1h0M393.3 526.5h0M353.5 514.7h0M296.3 504.6h0M344.9 557.2h0M330.3 470.1h0M385.5 508.5h0M361.3 496.6h0M378.0 465.4h0M388.3 520.7h0M351.7 541.9h0M362.1 513.9h0M355.2 558.1h0M350.3 552.1h0M369.3 553.9h0M342.7 553.1h0M326.2 506.1h0M274.8 525.6h0M371.2 521.0h0M371.7 543.8h0M327.9 555.1h0M338.2 512.5h0M333.7 548.0h0M385.1 527.4h0M345.2 553.5h0M339.2 553.7h0M324.6 547.3h0M347.3 446.6h0M373.6 552.6h0M399.7 534.9h0M315.9 558.6h0M378.4 486.4h0M392.1 546.0h0M328.8 497.2h0M353.9 555.2h0M375.2 545.9h0M330.0 558.3h0M332.0 521.5h0M322.0 532.0h0M371.7 549.3h0M392.7 543.6h0M331.6 407.0h0M340.4 545.7h0M384.7 458.3h0M338.9 523.3h0M351.5 492.2h0M323.6 549.0h0M369.4 483.4h0M378.3 500.3h0M335.6 533.2h0M326.1 533.9h0M362.7 534.1h0M348.4 511.6h0M356.8 461.1h0M337.7 468.4h0M349.2 540.0h0M400.3 555.7h0M350.6 510.1h0M358.0 474.3h0M336.2 539.1h0M336.0 541.4h0M364.0 514.3h0M383.3 538.8h0M345.5 540.5h0M303.7 549.1h0M359.8 541.6h0M334.8 488.6h0M326.1 546.8h0M345.2 545.0h0M393.5 533.0h0M363.0 538.5h0M352.9 540.4h0M334.9 519.0h0M333.3 522.2h0M368.9 536.1h0M333.5 551.6h0M348.4 555.1h0M381.4 467.1h0M386.4 557.9h0M331.4 504.0h0M369.0 536.6h0M331.1 524.8h0M395.9 550.5h0M354.5 522.8h0M325.1 531.6h0M360.6 526.1h0M365.1 551.7h0M322.8 514.5h0M306.4 510.9h0M328.3 496.1h0M337.7 553.6h0M376.3 499.5h0M379.5 542.6h0M333.1 506.2h0M312.5 558.1h0M375.2 549.5h0M398.7 536.2h0M374.7 489.6h0M376.1 550.1h0M341.0 498.2h0M368.3 458.3h0M394.3 484.4h0M273.0 558.9h0M355.2 506.4h0M304.5 529.6h0M331.7 544.6h0M380.0 536.7h0M373.0 558.5h0M304.5 553.1h0M331.6 556.1h0M353.7 555.0h0M368.7 512.9h0M383.0 528.5h0M329.6 512.7h0M378.1 482.0h0M376.0 543.8h0M324.8 554.6h0M366.7 543.9h0M356.7 551.3h0M378.3 547.7h0M333.4 554.8h0M351.5 544.2h0M325.8 454.0h0M372.4 542.1h0M366.7 553.0h0M353.4 541.8h0M377.0 502.9h0M373.9 525.4h0M380.4 489.2h0M346.7 556.3h0M374.6 514.8h0M315.7 486.2h0M366.7 557.7h0M386.2 539.5h0M403.5 553.8h0M298.9 554.9h0M371.7 442.0h0M397.0 543.6h0M353.6 541.3h0M326.3 540.6h0M335.2 533.7h0M363.0 474.0h0M403.9 549.7h0M390.2 550.4h0M376.6 483.8h0M341.5 551.3h0M409.4 548.7h0M311.5 501.7h0M310.5 558.5h0M383.9 520.6h0M392.1 537.0h0M352.1 519.4h0M357.4 510.5h0M378.3 553.0h0M369.8 551.1h0M379.3 513.3h0M338.1 544.3h0M368.7 558.7h0M330.1 538.1h0M348.9 535.5h0M339.7 453.7h0M314.8 548.7h0M352.8 468.7h0M328.1 554.5h0M358.4 426.6h0M337.9 504.8h0M313.3 465.1h0M361.3 521.3h0M330.6 548.5h0M387.2 548.9h0M357.9 506.3h0M322.4 554.0h0M311.4 558.9h0M336.0 547.7h0M361.9 543.0h0M329.0 477.8h0M357.9 498.0h0M398.7 517.4h0M379.1 504.4h0M376.0 494.3h0M385.1 460.5h0M341.6 499.7h0M400.2 532.3h0M341.9 527.3h0M362.4 555.3h0M298.9 500.4h0M326.5 547.9h0M339.0 468.5h0M350.3 555.2h0M359.4 555.2h0M337.0 545.8h0M372.7 543.7h0M351.8 504.8h0M307.6 514.9h0M379.5 540.7h0M388.1 528.6h0M288.1 547.5h0M308.2 522.1h0M336.2 431.7h0M353.2 491.2h0M403.1 522.2h0M397.6 553.7h0M380.8 556.2h0M332.2 556.5h0M319.2 555.4h0M338.0 547.1h0M346.3 534.3h0M339.3 553.6h0M370.4 538.3h0M355.6 507.2h0M308.8 536.2h0M356.0 308.3h0M359.3 461.2h0M323.6 520.8h0M355.7 514.8h0M334.1 493.7h0M359.0 460.2h0M354.7 531.5h0M294.6 556.9h0M308.6 542.4h0M378.4 552.5h0M381.1 548.9h0M343.7 543.7h0M379.4 541.8h0M346.1 539.2h0M331.2 475.2h0M358.0 480.3h0M376.9 556.7h0M312.5 525.6h0M373.6 554.3h0M375.2 551.2h0M318.7 502.5h0M381.8 515.7h0M348.7 511.4h0M341.6 540.8h0M322.0 537.4h0M333.0 502.4h0M344.2 540.1h0M375.3 555.6h0M379.4 518.8h0M328.0 546.3h0M334.0 558.5h0M270.2 557.7h0M366.2 555.1h0M337.2 555.0h0M360.5 540.1h0M345.3 545.9h0M320.0 549.2h0M340.8 466.2h0M333.0 545.3h0M322.5 535.8h0M336.0 539.2h0M350.9 530.2h0M394.4 543.4h0M373.0 496.8h0M358.1 495.4h0M329.7 545.0h0M376.7 498.4h0M328.7 552.2h0M381.7 552.4h0M392.2 526.6h0M391.1 549.6h0M355.7 557.3h0M344.0 541.4h0M382.9 533.0h0M381.8 555.0h0M359.5 548.2h0M330.0 543.3h0M353.3 517.9h0M299.6 473.1h0M370.7 498.9h0M339.3 558.6h0M333.2 385.6h0M343.6 518.8h0M320.3 514.3h0M329.3 498.4h0M353.2 351.1h0M316.0 529.9h0M375.4 507.1h0M333.9 547.7h0M386.6 507.1h0M397.9 533.1h0M345.4 491.6h0M354.9 535.3h0M340.4 508.1h0M359.2 493.9h0M315.2 529.2h0M373.6 532.4h0M337.2 552.1h0M348.7 540.6h0M387.9 544.2h0M409.7 547.6h0M373.0 396.9h0M369.2 548.6h0M346.5 527.7h0M371.5 549.5h0M316.8 533.8h0M360.9 557.9h0M355.3 517.3h0M358.7 551.3h0M360.6 545.9h0M287.3 551.7h0M340.5 517.8h0M394.6 555.8h0M374.2 526.6h0M364.7 528.9h0M351.8 462.1h0M352.4 491.4h0M357.0 454.8h0M337.8 518.6h0M372.1 547.3h0M334.7 495.7h0M371.9 524.7h0M358.8 519.7h0M261.4 515.4h0M368.3 555.7h0M349.0 510.0h0M365.7 443.6h0M339.7 550.9h0M338.5 555.9h0M293.4 555.4h0M370.0 500.4h0M320.6 556.7h0M384.5 539.5h0M348.3 477.8h0M377.2 545.5h0M335.9 548.3h0M347.5 474.3h0M348.3 517.9h0M357.3 492.3h0M367.1 485.8h0M333.1 413.6h0M346.8 546.0h0M346.9 382.3h0M365.3 379.5h0M354.3 483.0h0M372.9 551.3h0M376.2 533.2h0M343.3 510.8h0M375.5 532.9h0M389.3 538.6h0M369.7 549.1h0M306.6 558.3h0M357.8 557.0h0M347.9 555.8h0M338.8 527.4h0M335.1 539.6h0M346.6 543.2h0M324.9 541.4h0M344.3 552.8h0M366.3 548.8h0M360.3 558.0h0M347.8 536.1h0M405.0 534.3h0M330.3 535.3h0M372.5 517.4h0M316.2 482.0h0M404.3 523.1h0M360.4 550.6h0M335.7 558.2h0M335.5 549.3h0M324.3 494.1h0M302.5 555.5h0M320.4 552.7h0M360.6 411.3h0M384.3 539.4h0M354.2 557.8h0M304.3 546.4h0M349.2 526.4h0M356.1 536.3h0M296.9 524.8h0M370.0 489.9h0M359.3 523.4h0M313.5 535.9h0M351.4 448.4h0M368.9 556.9h0M327.2 555.3h0M354.9 531.1h0M331.5 556.0h0M373.6 552.3h0M338.8 514.1h0M334.5 482.0h0M329.4 552.3h0M374.0 541.4h0M312.3 553.1h0M370.3 543.8h0M327.4 555.0h0M369.3 438.2h0M350.8 545.8h0M349.3 445.6h0M379.6 549.2h0M406.3 549.7h0M331.2 557.1h0M369.2 529.1h0M315.2 558.0h0M335.6 551.3h0M370.3 494.8h0M362.6 518.8h0M349.5 527.6h0M375.3 493.8h0M359.2 558.9h0M393.5 545.5h0M373.3 518.5h0M299.2 513.0h0M340.6 525.4h0M346.5 536.2h0M322.4 548.8h0M375.3 505.7h0M386.3 544.3h0M336.6 552.8h0M299.6 503.2h0M316.7 459.0h0M336.2 542.0h0M380.4 502.5h0M385.3 539.1h0M352.5 497.5h0M389.7 539.1h0M338.7 554.8h0M313.0 551.7h0M369.8 553.5h0M393.0 533.4h0M336.7 547.6h0M382.8 553.5h0M348.8 550.6h0M340.2 541.4h0M358.3 493.1h0M368.0 554.5h0M344.0 504.0h0M318.9 538.8h0M383.5 540.3h0M336.1 557.9h0M353.4 542.8h0M350.9 547.2h0M340.8 555.3h0M349.6 511.0h0M336.9 558.8h0M395.8 505.5h0M377.8 552.3h0M362.9 556.0h0M325.4 537.2h0M322.7 552.8h0M362.4 541.3h0M336.1 490.5h0M336.6 525.4h0M344.9 556.0h0M323.8 547.6h0M330.5 541.2h0M337.2 544.4h0M348.2 558.3h0M322.4 555.3h0M395.4 545.3h0M347.6 517.0h0M353.7 521.6h0M296.6 547.4h0M359.4 451.6h0M348.5 558.5h0M366.0 536.8h0M355.0 551.9h0M354.6 418.1h0M306.8 558.7h0M384.7 521.3h0M336.5 470.8h0M316.8 555.1h0M394.6 558.2h0M393.8 556.6h0M341.8 549.2h0M320.5 349.6h0M360.4 557.6h0M334.5 543.5h0M362.4 516.0h0M375.9 558.7h0M358.9 453.9h0M381.8 498.2h0M313.7 549.0h0M341.3 543.7h0M306.2 544.2h0M327.8 558.0h0M354.3 552.6h0M393.9 555.0h0M353.1 525.1h0M332.3 556.1h0M395.8 554.7h0M329.0 536.9h0M359.7 524.3h0M339.8 554.1h0M365.4 555.9h0M350.8 550.4h0M294.2 550.4h0M340.3 544.0h0M373.7 486.7h0M377.3 540.3h0M325.6 531.8h0M294.5 545.5h0M366.6 477.7h0M341.9 501.8h0M369.2 515.5h0M392.1 548.4h0M374.1 553.7h0M312.7 532.9h0M305.4 549.5h0M367.6 456.2h0M364.4 502.0h0M366.0 546.5h0M353.9 551.9h0M336.7 536.5h0M359.3 545.8h0M368.5 521.3h0M338.2 491.8h0M395.9 540.0h0M364.1 533.6h0M406.8 538.4h0M334.6 437.2h0M367.3 481.7h0M360.2 547.4h0M345.0 474.7h0M323.1 534.1h0M410.6 553.6h0M396.0 539.4h0M318.4 545.0h0M357.2 530.0h0M369.1 490.7h0M315.7 554.4h0M324.3 548.1h0M319.0 485.7h0M327.6 550.1h0M286.0 522.8h0M333.5 540.9h0M290.7 555.0h0M358.7 508.8h0M296.6 544.1h0M381.8 513.2h0M375.3 413.8h0M366.2 379.5h0M306.6 530.3h0M360.2 547.7h0M401.6 554.9h0M330.2 549.4h0M369.0 499.2h0M315.6 548.2h0M367.8 540.9h0M362.1 544.7h0M353.8 526.5h0M315.0 447.8h0M332.6 545.3h0M343.5 554.2h0M374.2 514.1h0M350.9 526.9h0M366.6 513.0h0M378.7 492.0h0M341.5 510.2h0M384.0 513.3h0M349.1 540.5h0M382.9 526.9h0M364.7 510.6h0M348.8 553.3h0M359.3 552.2h0M347.2 520.4h0M372.2 554.6h0M347.2 476.4h0M360.6 472.4h0M347.7 510.0h0M385.7 554.2h0M376.9 552.2h0M361.2 541.4h0M329.7 463.2h0M387.1 549.5h0M334.0 550.8h0M364.6 556.3h0M383.0 480.5h0M267.1 553.6h0M313.1 540.5h0M358.2 533.0h0M328.0 539.1h0M292.2 544.7h0M378.1 521.2h0M300.4 546.5h0M326.1 513.6h0M320.6 556.2h0M345.4 512.4h0M335.7 503.5h0M354.1 520.1h0M377.8 514.3h0M358.9 497.1h0M382.1 503.1h0M334.6 405.4h0M394.2 557.7h0M397.3 558.2h0M311.0 554.8h0M361.0 516.9h0M329.0 546.0h0M326.9 524.0h0M302.6 546.2h0M359.0 555.5h0M378.1 462.2h0M298.6 555.2h0M385.1 485.9h0M315.5 429.5h0M331.1 553.3h0M365.9 548.3h0M400.1 545.5h0M344.7 536.8h0M352.8 556.2h0M347.4 528.9h0M308.8 527.4h0M371.0 558.5h0M343.7 554.5h0M328.5 534.8h0M262.3 554.1h0M364.5 504.5h0M350.8 552.0h0M315.3 528.5h0M327.0 544.2h0M398.3 547.9h0M331.2 513.5h0M357.9 557.0h0M354.0 516.6h0M359.6 438.2h0M284.8 506.0h0M341.9 538.8h0M390.6 554.2h0M327.2 544.9h0M370.2 539.4h0M335.3 553.7h0M379.9 548.8h0M361.0 448.1h0M359.2 464.9h0M391.0 537.9h0M369.4 539.6h0M324.6 554.7h0M401.9 510.6h0M339.7 550.4h0M335.8 543.2h0M376.0 539.3h0M366.8 544.4h0M339.1 535.9h0M333.0 520.1h0M368.8 550.8h0M338.2 498.8h0M353.3 505.3h0M379.2 526.9h0M377.6 529.4h0M371.9 524.6h0M343.8 487.6h0M383.1 535.2h0M304.1 540.5h0M393.6 546.1h0M387.9 532.5h0M321.0 507.2h0M321.9 546.4h0M341.1 511.3h0M231.6 509.5h0M339.7 499.5h0M350.0 503.2h0M322.5 558.7h0M358.0 440.1h0M401.4 557.3h0M378.7 548.3h0M345.1 483.5h0M336.7 514.3h0M359.8 533.1h0M382.0 529.2h0M342.9 517.1h0M331.5 467.8h0M308.0 554.7h0M400.2 550.2h0M378.3 547.3h0M333.8 558.8h0M367.6 476.7h0M355.0 517.5h0M360.7 548.7h0M371.0 529.6h0M318.7 535.9h0M389.5 534.8h0M358.4 553.3h0M343.7 557.2h0M359.2 544.6h0M316.8 522.7h0M360.6 545.0h0M383.3 532.5h0M370.0 552.2h0M332.9 492.2h0M320.4 542.9h0M385.0 544.8h0M306.5 557.6h0M338.3 536.7h0M319.7 550.3h0M349.8 544.0h0M332.2 557.0h0M397.4 555.9h0M392.7 525.1h0M333.3 546.6h0M330.7 502.7h0M392.4 539.1h0M320.0 518.3h0M322.3 538.0h0M303.3 545.6h0M382.4 545.3h0M326.9 501.0h0M319.0 501.4h0M372.1 551.9h0M407.1 556.7h0M348.3 495.6h0M390.7 501.6h0M353.4 558.6h0M343.4 553.6h0M407.7 557.5h0M408.5 557.1h0M311.7 542.6h0M410.5 554.5h0M379.5 558.3h0M363.5 519.1h0M324.4 536.4h0M358.9 555.3h0M380.5 526.2h0M358.7 557.4h0M396.4 542.9h0M349.2 535.2h0M338.8 497.4h0M332.0 550.7h0M391.9 553.0h0M338.5 470.5h0M389.1 496.0h0M355.2 524.2h0M350.3 536.9h0M325.7 531.1h0M355.4 552.3h0M353.2 486.8h0M365.7 466.7h0M385.2 544.8h0M350.0 547.2h0M382.5 557.1h0M366.0 543.3h0M406.2 543.5h0M366.4 510.3h0M346.0 548.8h0M330.0 529.4h0M363.4 531.3h0M294.2 557.8h0M354.7 485.4h0M351.7 558.3h0M340.3 457.6h0M326.6 555.0h0M386.3 527.7h0M344.0 547.6h0M407.6 552.4h0M293.0 525.7h0M350.9 554.8h0M385.8 553.2h0M381.3 542.9h0M356.7 519.7h0M362.3 521.3h0M336.6 549.1h0M393.0 518.9h0M358.1 551.3h0M351.0 542.8h0M366.9 529.5h0M354.6 540.5h0M371.4 497.9h0M375.8 545.8h0M315.4 556.9h0M342.2 467.7h0M338.9 532.6h0M354.1 446.4h0M396.0 544.8h0M323.2 554.3h0M312.2 538.5h0M361.9 440.2h0M337.5 537.5h0M332.2 537.7h0M365.3 527.8h0M342.0 496.2h0M359.5 556.5h0M354.8 542.8h0M286.2 405.9h0M405.8 541.6h0M350.9 532.3h0M259.5 522.4h0M368.8 531.8h0M357.8 544.8h0M326.9 557.5h0M355.1 538.1h0M388.5 529.4h0M311.1 549.9h0M371.2 531.4h0M327.4 554.2h0M365.8 543.9h0M370.1 525.8h0M389.6 556.1h0M391.0 548.1h0M401.8 536.1h0M283.0 534.6h0M383.0 555.3h0M338.5 556.6h0M399.6 540.3h0M343.6 558.8h0M349.8 524.9h0M346.1 502.0h0M328.5 538.5h0M353.7 554.0h0M366.3 484.4h0M375.4 551.4h0M331.1 549.8h0M325.4 521.5h0M399.9 556.0h0M333.1 511.1h0M368.4 557.1h0M375.3 557.0h0M374.4 535.0h0M378.0 531.0h0M336.6 521.4h0M397.2 544.6h0M388.7 552.3h0M328.6 523.8h0M348.1 531.0h0M365.9 517.9h0M344.7 535.2h0M331.1 489.2h0M314.5 539.7h0M295.6 558.3h0M341.3 534.1h0M407.1 556.6h0M379.6 523.9h0M380.1 553.9h0M401.6 557.2h0M333.5 445.8h0M375.2 545.5h0M347.4 544.4h0M360.6 556.3h0M352.6 556.6h0M396.0 503.9h0M382.0 558.4h0M331.2 544.9h0M304.9 545.4h0M377.0 537.7h0M360.3 357.2h0M320.4 516.8h0M353.7 531.3h0M371.4 535.7h0M356.4 537.0h0M327.1 556.8h0M355.0 549.3h0M370.7 514.0h0M351.1 517.7h0M332.2 513.8h0M376.9 555.9h0M383.7 546.8h0M390.1 515.3h0M406.9 540.9h0M398.3 549.3h0M367.5 538.2h0M400.0 551.6h0M315.9 553.1h0M397.6 547.0h0M367.1 545.5h0M345.5 432.7h0M380.2 526.0h0M361.0 555.8h0M339.0 546.1h0M346.8 525.1h0M322.5 508.5h0M357.9 542.2h0M363.7 513.4h0M369.9 425.2h0M366.1 534.9h0M368.3 533.8h0M307.3 495.1h0M395.9 555.2h0M374.8 532.4h0M390.1 548.4h0M336.7 526.4h0M350.4 370.0h0M356.1 538.1h0M290.7 558.4h0M332.0 536.0h0M358.5 555.8h0M345.3 416.9h0M371.4 541.7h0M361.7 535.1h0M253.4 555.2h0M340.5 536.2h0M335.1 503.1h0M386.1 553.7h0M388.0 542.7h0M368.8 478.0h0M349.0 550.3h0M295.1 557.1h0M403.3 541.3h0M326.7 531.9h0M382.9 546.2h0M320.4 548.4h0M354.6 517.8h0M333.4 525.0h0M359.5 509.2h0M301.6 511.6h0M346.3 470.4h0M344.8 546.9h0M337.3 522.3h0M356.9 512.8h0M351.1 556.1h0M329.1 556.1h0M388.8 530.0h0M365.2 540.7h0M372.1 549.9h0M348.2 523.5h0" fill="none" stroke="#0FAAC7" stroke-width="4.6" stroke-linecap="round" opacity="0.62"/>
<path d="M372.1 542.6h0M347.1 422.0h0M330.9 529.3h0M393.9 550.4h0M337.1 544.5h0M379.4 548.8h0M350.2 507.8h0M365.8 524.4h0M352.0 548.5h0M365.9 516.8h0M333.9 498.9h0M307.1 535.3h0M368.4 547.0h0M359.4 554.3h0M401.3 543.9h0M345.3 501.5h0M344.3 502.1h0M334.1 478.3h0M377.0 514.2h0M358.4 482.4h0M354.8 488.6h0M347.9 552.0h0M375.6 553.2h0M334.8 555.5h0M329.7 555.3h0M344.2 555.5h0M298.9 510.7h0M324.9 527.1h0M382.1 534.8h0M311.8 525.5h0M321.6 528.7h0M316.8 535.9h0M369.1 475.4h0M393.5 558.0h0M367.0 526.6h0M338.7 557.9h0M336.7 538.1h0M368.8 559.0h0M359.4 544.4h0M351.9 397.0h0M357.8 553.5h0M351.8 498.3h0M343.8 556.8h0M384.7 549.5h0M377.3 530.3h0M372.9 549.4h0M406.8 535.4h0M358.8 450.4h0M369.2 554.4h0M332.5 557.6h0M371.4 550.9h0M396.8 542.0h0M348.7 526.5h0M315.9 550.1h0M381.7 542.6h0M395.0 532.1h0M358.8 541.6h0M344.8 512.6h0M389.8 487.7h0M376.4 556.4h0M316.9 530.6h0M362.3 549.5h0M324.6 518.6h0M331.4 538.8h0M380.7 535.6h0M320.5 524.4h0M377.1 551.2h0M366.9 547.4h0M322.4 551.5h0M329.6 548.6h0M343.1 511.0h0M338.7 542.8h0M357.2 533.5h0M305.9 550.4h0M398.4 528.2h0M331.2 521.3h0M355.7 478.4h0M380.1 557.5h0M360.5 544.3h0M340.8 479.9h0M372.9 514.6h0M363.9 506.8h0M391.0 537.0h0M328.6 511.2h0M375.0 542.6h0M377.2 524.2h0M350.9 551.6h0M345.5 556.5h0M383.1 556.1h0M396.7 554.3h0M367.4 544.2h0M371.9 511.7h0M331.3 542.4h0M325.3 552.2h0M347.1 487.1h0M357.5 442.3h0M325.5 552.9h0M359.7 519.3h0M342.7 541.3h0M374.9 404.5h0M331.0 528.2h0M311.6 556.0h0M379.0 534.1h0M360.4 534.3h0M379.2 544.9h0M331.0 528.0h0M269.9 549.8h0M364.9 520.2h0M338.6 540.6h0M367.8 533.7h0M389.9 547.5h0M365.2 538.7h0M364.1 540.6h0M367.9 514.5h0M375.4 514.0h0M385.0 521.0h0M346.3 543.1h0M332.2 538.5h0M384.7 553.0h0M375.2 469.4h0M351.9 525.2h0M367.0 548.2h0M340.4 439.9h0M401.1 558.3h0M364.1 549.9h0M360.9 502.9h0M327.4 556.3h0M408.0 555.1h0M254.2 551.6h0M308.3 551.3h0M387.6 530.1h0M352.4 482.0h0M352.2 507.8h0M340.5 499.8h0M335.7 542.9h0M360.8 548.8h0M306.3 540.3h0M365.3 525.0h0M404.4 535.7h0M361.5 514.6h0M311.2 558.5h0M381.3 534.7h0M376.8 548.2h0M336.5 483.8h0M379.9 475.2h0M379.6 558.7h0M333.0 556.0h0M356.4 533.8h0M375.0 511.2h0M272.7 521.8h0M375.2 526.8h0M402.5 523.8h0M334.3 542.8h0M361.3 542.7h0M369.9 544.8h0M362.2 544.1h0M317.5 552.9h0M352.5 536.2h0M362.9 527.3h0M404.6 553.0h0M354.5 548.9h0M389.4 551.3h0M382.3 555.4h0M345.8 554.1h0M320.6 521.9h0M340.0 548.5h0M305.2 546.8h0M352.9 554.2h0M392.4 524.1h0M317.2 550.4h0M390.9 558.7h0M360.8 547.1h0M314.0 546.5h0M345.1 507.4h0M327.0 549.7h0M328.9 528.3h0M375.5 555.5h0M365.6 477.7h0M393.1 535.5h0M361.4 536.3h0M327.8 542.5h0M358.9 535.9h0M328.2 520.5h0M360.8 530.8h0M385.8 550.4h0M401.4 550.2h0M342.2 547.8h0M323.7 542.9h0M358.4 532.2h0M392.3 542.5h0M327.2 523.3h0M331.2 540.4h0M367.5 546.7h0M368.1 554.8h0M332.9 527.4h0M384.3 541.7h0M404.3 535.8h0M325.9 502.9h0M348.6 489.6h0M327.9 504.9h0M383.3 541.3h0M372.3 535.4h0M342.0 517.9h0M325.3 505.1h0M371.1 517.1h0M293.9 531.2h0M308.7 536.6h0M335.2 547.9h0M272.0 489.0h0M389.6 519.7h0M337.2 531.6h0M355.9 513.3h0M359.0 502.2h0M353.4 454.4h0M330.0 529.3h0M359.8 556.1h0M374.1 507.0h0M371.1 466.8h0M339.7 512.8h0M339.9 511.5h0M377.3 553.6h0M307.9 547.3h0M329.4 449.7h0M353.8 542.4h0M336.9 533.1h0M378.4 532.5h0M323.0 527.0h0M370.7 500.9h0M303.8 535.4h0M372.4 555.3h0M358.4 535.3h0M322.3 544.0h0M309.9 559.0h0M340.4 501.4h0M348.1 556.8h0M355.5 485.4h0M318.5 526.3h0M367.5 529.3h0M372.9 555.1h0M371.5 539.9h0M382.8 540.0h0M347.2 542.5h0M318.2 557.3h0M351.5 553.7h0M331.2 540.1h0M375.8 549.0h0M350.3 531.3h0M353.0 548.2h0M380.8 552.4h0M405.0 555.6h0M350.6 555.3h0M328.3 554.3h0M340.6 525.0h0M383.9 529.1h0M341.1 555.2h0M380.2 547.6h0M385.8 522.5h0M336.4 489.6h0M391.3 558.8h0M382.0 539.6h0M356.3 454.9h0M304.7 502.1h0M366.2 333.2h0M352.0 547.7h0M335.4 549.8h0M328.4 549.1h0M349.6 540.5h0M295.1 441.8h0M368.4 549.0h0M379.2 532.2h0M342.5 554.9h0M390.7 537.3h0M382.9 555.8h0M294.3 537.4h0M311.3 543.3h0M313.8 522.6h0M377.0 523.9h0M384.6 552.2h0M320.2 549.8h0M383.3 547.6h0M324.6 487.7h0M349.0 556.7h0M323.8 557.4h0M375.3 460.2h0M368.2 499.5h0M379.5 462.6h0M326.1 531.7h0M397.6 558.1h0M389.2 529.1h0M395.2 552.6h0M329.7 550.4h0M345.2 555.3h0M320.4 551.4h0M347.1 495.1h0M370.8 558.9h0M350.7 385.2h0M351.2 451.5h0M303.5 554.7h0M401.7 543.9h0M350.2 377.4h0M330.3 510.4h0M389.0 552.9h0M350.1 548.0h0M403.1 555.4h0M378.2 493.6h0M401.0 540.5h0M343.0 551.9h0M336.4 552.5h0M338.9 528.5h0M376.9 512.7h0M370.3 538.1h0M350.6 553.8h0M369.7 495.8h0M329.9 539.8h0M397.5 550.8h0M323.0 490.6h0M352.4 412.9h0M409.4 553.3h0M378.2 524.4h0M365.9 454.3h0M330.4 514.3h0M406.9 553.0h0M353.4 540.1h0M348.2 551.2h0M315.0 531.5h0M366.5 529.2h0M366.4 517.5h0M342.1 536.6h0M389.8 486.2h0M337.6 546.6h0M374.0 546.3h0M352.6 522.1h0M368.0 553.5h0M392.0 539.8h0M324.0 497.0h0M333.6 538.7h0M355.3 510.0h0M373.6 552.3h0M350.2 513.7h0M318.8 554.7h0M396.8 540.9h0M363.4 543.9h0M365.8 496.3h0M362.4 502.1h0M385.1 533.9h0M397.3 551.0h0M385.8 523.0h0M338.0 540.0h0M301.2 524.0h0M395.2 554.0h0M357.5 543.3h0M339.7 532.3h0M374.4 512.9h0M409.6 556.5h0M375.3 553.0h0M316.3 557.1h0M336.5 532.3h0M331.3 499.3h0M346.6 533.3h0M390.7 540.0h0M362.3 515.5h0M321.0 556.5h0M360.9 527.0h0M396.0 550.0h0M356.0 557.4h0M371.9 552.3h0M343.5 479.3h0M385.0 552.3h0M366.2 554.8h0M361.9 548.1h0M294.1 540.6h0M370.9 549.9h0M354.0 547.9h0M349.4 555.8h0M335.2 481.8h0M361.9 546.2h0M399.4 519.3h0M389.6 548.8h0M388.0 542.7h0M388.1 534.2h0M311.7 533.0h0M388.0 535.9h0M366.0 544.2h0M358.8 557.5h0M356.8 492.2h0M355.0 538.6h0M361.0 529.6h0M357.8 537.9h0M349.8 555.5h0M309.6 556.8h0M345.7 528.8h0M402.7 525.2h0M373.7 550.8h0M383.5 549.2h0M371.3 545.2h0M328.3 498.3h0M393.8 525.9h0M372.9 558.9h0M334.8 543.1h0M308.4 555.6h0M366.9 539.1h0M358.2 505.9h0M364.6 545.0h0M345.5 503.4h0M385.6 489.5h0M398.6 538.2h0M358.0 558.6h0M389.8 541.8h0M347.5 558.5h0M324.1 558.5h0M361.8 529.5h0M361.2 532.6h0M344.2 514.8h0M357.6 514.7h0M372.2 521.7h0M314.6 527.5h0M345.9 544.2h0M357.8 557.4h0M363.5 496.3h0M307.9 552.9h0M409.6 557.0h0M352.3 550.5h0M371.8 381.6h0M294.0 545.3h0M368.7 457.3h0M391.4 505.1h0M338.7 537.4h0M338.4 558.3h0M396.8 556.0h0M324.7 466.5h0M343.6 480.0h0M369.4 482.7h0M387.6 556.6h0M375.1 546.2h0M373.0 545.5h0M333.8 508.8h0M371.9 542.5h0M386.5 526.9h0M341.3 540.4h0M357.3 550.8h0M356.1 533.5h0M406.8 556.0h0M335.9 531.8h0M362.9 550.8h0M324.5 529.0h0M367.7 555.9h0M348.1 493.8h0M368.7 426.2h0M356.7 485.8h0M339.6 556.3h0M342.4 487.9h0M393.5 552.5h0M381.7 543.7h0M362.6 528.7h0M369.1 532.7h0M316.1 553.5h0M380.9 557.1h0M364.2 547.0h0M392.3 554.4h0M322.2 547.3h0M372.7 551.5h0M394.9 556.9h0M296.0 555.1h0M312.1 553.3h0M268.4 557.8h0M406.7 553.3h0M330.0 551.1h0M327.9 522.6h0M358.6 554.7h0M317.5 465.9h0M312.4 505.2h0M337.4 514.4h0M368.6 533.5h0M386.3 558.4h0M358.7 508.3h0M340.7 507.6h0M344.3 454.8h0M342.8 557.6h0M335.2 556.3h0M383.2 551.1h0M351.9 494.7h0M323.7 519.9h0M350.1 503.8h0M323.3 551.5h0M340.2 538.0h0M323.4 557.5h0M364.3 431.9h0M365.7 469.0h0M394.3 557.0h0M353.2 536.9h0M363.8 496.3h0M347.9 555.0h0M332.9 558.1h0M326.1 492.3h0M371.7 512.7h0M365.8 551.5h0M338.7 536.1h0M305.6 546.3h0M355.9 555.6h0M362.2 551.0h0M363.4 486.1h0M372.7 546.4h0M322.0 541.8h0M377.3 547.8h0M340.0 546.7h0M378.4 557.1h0M369.2 519.8h0M352.4 547.6h0M339.0 484.6h0M356.5 514.4h0M374.0 465.4h0M349.1 521.5h0M372.5 507.0h0M336.5 556.8h0M296.7 538.8h0M311.0 549.4h0M352.6 535.9h0M349.4 522.8h0M395.8 558.3h0M359.7 535.2h0M296.4 493.3h0M344.0 528.0h0M331.6 511.5h0M343.3 532.8h0M403.2 551.6h0M354.2 478.8h0M346.6 497.0h0M358.1 538.0h0M356.5 355.2h0M249.5 557.5h0M314.9 551.4h0M343.4 542.7h0M361.9 544.7h0M342.2 494.3h0M378.0 546.4h0M363.4 484.1h0M326.9 530.4h0M379.4 494.5h0M340.7 541.1h0M294.2 553.4h0M362.9 502.0h0M404.0 543.0h0M394.2 543.5h0M328.5 518.3h0M357.2 530.5h0M363.9 502.2h0M386.2 522.5h0M360.5 531.5h0M330.5 549.7h0M376.2 556.4h0M383.0 542.2h0M340.8 542.7h0M338.9 465.2h0M393.0 558.5h0M336.8 495.0h0M389.7 556.5h0M337.0 540.4h0M371.8 513.7h0M373.0 521.9h0M276.4 532.4h0M375.0 500.8h0M359.3 532.6h0M352.0 486.3h0M340.1 551.5h0M368.2 492.7h0M294.9 558.2h0M350.3 547.9h0M306.2 505.8h0M345.9 554.8h0M360.8 468.7h0M374.5 532.1h0M373.4 495.1h0M336.7 501.6h0M369.5 525.9h0M323.1 503.0h0M358.4 490.5h0M370.8 547.1h0M340.1 501.7h0M373.0 550.6h0M325.5 536.4h0M361.0 510.4h0M315.4 545.9h0M389.1 540.0h0M375.0 483.1h0M330.1 549.6h0M338.6 556.1h0M269.7 472.3h0M340.5 513.1h0M390.5 527.3h0M340.2 509.6h0M358.5 554.3h0M341.6 477.7h0M366.1 532.3h0M369.6 513.5h0M327.7 541.2h0M350.7 505.8h0M383.8 558.6h0M379.6 557.5h0M349.6 450.0h0M403.2 542.9h0M374.6 558.9h0M357.6 553.4h0M342.7 525.6h0M402.2 554.6h0M359.4 516.3h0M374.8 528.1h0M397.2 556.3h0M314.7 553.3h0M358.1 554.8h0M397.4 526.6h0M383.5 518.4h0M366.6 550.2h0M328.7 555.4h0M346.9 510.6h0M355.5 554.3h0M342.5 537.0h0M373.9 555.7h0M374.2 547.2h0M391.7 553.2h0M373.4 504.4h0M305.1 499.4h0M378.6 547.7h0M395.6 538.0h0M349.3 558.0h0M342.4 548.7h0M367.5 542.8h0M353.6 551.2h0M354.9 480.2h0M326.6 476.4h0M388.0 552.9h0M251.9 525.1h0M348.2 529.9h0M358.7 499.3h0M395.0 542.6h0M398.3 534.9h0M392.9 553.7h0M353.4 491.9h0M348.6 556.0h0M350.0 539.1h0M369.9 521.3h0M311.9 540.3h0M344.2 486.0h0M374.9 558.9h0M305.2 357.1h0M370.5 555.9h0M375.7 544.2h0M409.9 555.7h0M375.9 539.5h0M344.5 543.9h0M284.3 520.8h0M313.2 530.7h0M380.3 530.0h0M353.2 551.5h0M356.9 457.4h0M391.8 515.9h0M349.2 527.4h0M364.4 497.8h0M375.8 532.1h0M322.5 547.7h0M319.9 555.2h0M324.0 555.7h0M373.1 556.8h0M323.5 522.4h0M340.3 513.2h0M324.7 526.7h0M403.2 542.6h0M337.4 553.3h0M342.2 506.4h0M343.7 473.5h0M377.2 486.7h0M360.0 515.3h0M334.8 488.7h0M362.0 527.3h0M333.2 490.8h0M359.9 557.3h0M345.1 548.3h0M330.1 557.4h0M384.0 525.6h0M319.4 542.0h0M326.6 557.8h0M338.2 526.7h0M368.1 553.0h0M374.5 484.7h0M338.0 469.9h0M374.3 544.8h0M372.5 530.9h0M396.7 532.0h0M373.6 499.4h0M357.9 517.1h0M312.6 450.8h0M330.7 550.6h0M341.5 547.0h0M361.2 444.1h0M350.0 536.9h0M345.8 543.8h0M356.9 507.8h0M347.9 543.6h0M370.2 558.5h0M316.8 523.2h0M368.4 532.3h0M385.1 531.4h0M336.6 552.0h0M337.0 554.9h0M339.9 524.0h0M363.7 536.1h0M318.5 503.8h0M373.7 556.8h0M378.6 556.3h0M270.0 558.0h0M317.1 540.2h0M350.4 430.4h0M359.8 540.0h0M362.7 473.6h0M366.5 521.1h0M340.6 526.3h0M354.4 504.1h0M341.3 533.6h0M361.7 513.9h0M372.0 540.2h0M313.7 513.3h0M336.5 505.6h0M391.2 554.0h0M388.0 553.0h0M386.5 555.7h0M381.8 535.8h0M330.9 556.9h0M328.3 526.8h0M328.4 554.6h0M332.3 545.4h0M328.7 536.5h0M382.6 480.5h0M318.8 544.0h0M369.4 549.1h0M338.1 557.7h0M330.3 534.9h0M375.9 549.5h0M353.1 482.3h0M361.2 543.4h0M337.6 526.4h0M337.6 415.6h0M270.3 543.4h0M373.1 546.6h0M411.5 558.3h0M343.0 536.3h0M378.9 523.5h0M356.8 540.5h0M364.4 541.9h0M316.2 532.2h0M357.3 548.2h0M368.5 529.2h0M366.5 534.4h0M389.3 552.4h0M381.3 540.1h0M329.7 532.5h0M317.3 550.7h0M360.1 553.5h0M333.3 556.0h0M329.4 550.2h0M346.6 511.3h0M358.9 533.0h0M359.4 548.0h0M361.3 543.9h0M350.6 529.7h0M307.2 554.0h0M362.2 447.0h0M350.4 541.2h0M341.0 521.5h0M347.9 541.7h0M330.9 541.4h0M325.3 539.3h0M355.6 528.5h0M357.5 540.5h0M324.6 552.0h0M315.2 511.4h0M349.4 509.6h0M316.0 523.4h0M375.9 495.6h0M354.6 558.8h0M355.4 548.2h0M398.9 539.5h0M398.2 515.2h0M352.1 531.2h0M342.7 515.7h0M376.6 532.9h0M343.1 553.2h0M342.6 521.4h0M319.3 520.5h0M333.8 520.8h0M340.7 546.8h0M359.3 555.6h0M315.6 525.8h0M354.8 557.8h0M392.7 555.0h0M355.9 515.1h0M369.6 400.7h0M357.1 553.0h0M333.8 550.1h0M366.4 409.1h0M340.5 548.3h0M335.4 540.2h0M367.1 518.5h0M371.5 544.8h0M329.5 539.4h0M377.3 501.9h0M383.8 552.5h0M371.4 493.8h0M357.6 510.8h0M386.8 491.0h0M317.4 554.0h0M305.0 522.0h0M346.2 551.9h0M341.0 541.3h0M337.3 464.4h0M361.0 546.1h0M403.4 547.0h0M330.1 540.6h0M356.1 518.5h0M375.2 526.8h0M304.5 533.6h0M382.0 527.9h0M381.5 549.6h0M360.1 506.9h0M376.9 545.5h0M353.7 551.5h0M312.8 555.6h0M330.3 557.7h0M353.9 558.3h0M321.2 551.2h0M263.0 552.3h0M353.7 517.6h0M367.1 530.9h0M384.2 539.9h0M404.0 555.2h0M380.1 552.8h0M379.5 461.0h0M348.1 552.4h0M357.0 537.8h0M377.4 473.0h0M392.5 538.0h0M376.7 526.1h0M357.3 429.7h0M347.8 556.4h0M344.6 533.6h0M332.4 553.5h0M382.8 495.8h0M373.8 532.4h0M305.9 556.9h0M350.0 498.6h0M329.9 554.2h0M365.3 521.9h0M368.4 493.0h0M365.1 489.3h0M386.7 496.8h0M400.3 556.8h0M339.4 552.2h0M351.8 531.8h0M376.2 553.8h0M377.0 506.9h0M386.6 498.6h0M360.2 556.5h0M329.2 471.9h0M379.5 545.6h0M365.0 509.4h0M373.9 524.7h0M310.5 497.2h0M326.7 532.5h0M388.3 542.7h0M363.2 508.4h0M311.2 540.7h0M379.1 549.1h0M352.8 548.1h0M241.7 523.1h0M400.9 557.2h0M347.7 551.3h0M339.8 552.7h0M366.1 530.2h0M358.0 450.2h0M334.5 556.1h0M335.6 371.2h0M347.0 531.5h0M381.5 542.0h0M323.0 551.6h0M339.3 520.0h0M376.9 531.8h0M291.4 549.4h0M359.2 549.7h0M346.5 546.5h0M344.2 558.9h0M351.7 402.8h0M347.1 554.6h0M338.5 541.1h0M363.8 483.7h0M338.9 482.3h0M314.9 545.5h0M361.3 497.8h0M375.5 530.8h0M375.0 519.5h0M345.6 532.7h0M336.7 476.9h0M343.1 491.4h0M382.6 541.5h0M339.5 449.5h0M368.2 516.0h0M338.6 480.7h0M409.8 554.3h0M361.5 542.1h0M267.7 538.7h0M374.1 502.6h0M379.3 458.2h0M358.4 526.1h0M311.5 523.6h0M303.3 556.3h0M375.7 473.9h0M358.5 538.3h0M326.9 544.0h0M355.2 462.5h0M349.3 541.7h0M331.3 537.3h0M345.7 449.8h0M387.0 538.2h0M360.5 484.7h0M394.3 548.1h0M372.2 496.2h0M349.2 517.0h0M375.8 542.4h0M322.5 530.3h0M384.2 555.0h0M390.1 535.6h0M383.6 557.2h0M357.9 544.1h0M353.6 405.9h0M310.5 549.2h0M367.6 531.5h0M377.9 555.0h0M305.2 558.6h0M377.4 548.1h0M389.5 551.1h0M326.4 518.5h0M311.7 523.6h0M294.2 534.4h0M344.8 525.2h0M368.7 553.6h0M329.6 545.9h0M345.5 531.7h0M349.0 506.1h0M335.7 552.8h0M350.3 531.4h0M404.8 556.1h0M311.1 543.7h0M370.1 552.3h0M319.5 541.3h0M379.2 539.4h0M325.4 525.4h0M350.9 548.3h0M362.8 543.2h0M350.7 481.7h0M407.6 544.6h0M388.7 531.2h0M372.3 533.7h0M317.7 524.3h0M302.1 480.0h0M367.8 532.0h0M380.7 556.1h0M373.4 521.2h0M392.0 549.8h0M328.9 500.1h0M345.3 520.8h0M338.4 513.0h0M343.7 527.1h0M390.9 547.6h0M374.3 537.6h0M361.6 474.1h0M290.1 558.2h0M329.4 558.9h0M399.4 556.0h0M364.8 545.1h0M354.2 555.9h0M345.5 528.5h0M407.6 559.0h0M335.1 557.4h0M339.5 552.2h0M353.7 530.8h0M350.4 541.4h0M394.7 528.1h0M342.0 529.3h0M346.3 542.6h0M342.2 549.9h0M351.1 552.6h0M329.0 504.4h0M361.0 475.8h0M293.0 558.4h0M349.8 532.8h0M362.7 539.2h0M352.5 522.4h0M350.9 526.3h0M383.0 543.6h0M326.3 536.5h0M361.1 528.9h0M363.8 500.9h0M352.4 454.2h0M322.6 545.5h0M342.2 549.7h0M348.5 558.5h0M335.8 540.9h0M352.2 505.7h0M309.4 493.2h0M363.3 546.6h0M388.4 545.3h0M381.0 557.7h0M381.6 525.5h0M382.6 535.3h0M380.2 545.1h0M336.8 547.1h0M385.4 554.8h0M325.9 499.8h0M396.2 533.9h0M365.5 553.8h0M309.8 524.5h0M322.4 555.5h0M403.5 545.0h0M273.7 547.8h0M357.3 461.1h0M396.6 550.1h0M355.6 540.3h0M351.5 479.6h0M340.4 534.1h0M400.9 558.8h0M359.9 511.8h0M392.2 521.9h0M388.3 541.4h0M382.3 522.4h0M371.7 532.2h0M367.7 551.1h0M373.5 504.4h0M370.8 416.4h0M358.3 557.8h0M382.3 554.3h0M371.5 500.3h0M401.2 555.3h0M399.0 557.7h0M358.4 546.8h0M313.3 557.3h0M372.1 552.7h0M336.4 540.4h0M301.0 550.2h0M336.2 531.6h0M337.9 472.0h0M357.3 539.7h0M316.3 451.7h0M386.4 554.5h0M348.7 544.8h0M371.4 523.7h0M371.0 470.5h0M323.6 484.9h0M323.8 418.5h0M344.6 548.7h0M353.1 483.4h0M407.7 554.6h0M326.6 439.7h0M380.5 516.6h0M325.5 554.3h0M352.1 552.9h0M332.3 535.2h0M332.1 518.4h0M369.0 496.3h0M341.7 552.3h0M389.9 509.2h0M345.0 502.1h0M337.1 527.5h0M364.9 553.5h0M350.6 510.2h0M333.4 549.6h0M372.3 551.6h0M343.5 463.8h0M373.3 531.3h0M381.9 530.7h0M320.2 529.3h0M325.0 551.1h0M382.9 436.5h0M396.7 538.1h0M360.0 531.0h0M399.4 538.3h0M385.6 552.0h0M368.7 514.6h0M396.7 551.3h0M374.0 458.8h0M355.9 550.8h0M356.4 532.6h0M327.8 513.8h0M382.5 525.1h0M370.7 553.4h0M343.2 538.3h0M357.2 557.6h0M352.3 499.9h0M348.3 541.5h0M303.7 547.0h0M374.6 556.7h0M336.0 433.7h0M394.9 557.5h0M383.1 539.7h0M348.2 555.2h0M384.5 558.3h0M374.2 496.9h0M389.0 543.7h0M336.3 558.1h0M338.2 557.6h0M307.2 542.3h0M362.0 539.4h0M279.8 547.9h0M282.4 462.1h0M314.6 545.6h0M367.3 546.4h0M392.4 531.9h0M374.1 418.5h0M332.3 525.0h0M365.0 556.1h0M373.1 534.8h0M325.1 539.0h0M341.9 530.2h0M352.8 513.6h0M371.6 559.0h0M379.9 547.7h0M360.0 553.7h0M328.2 421.3h0M365.8 548.2h0M335.6 546.5h0M287.8 557.5h0M335.0 535.6h0M283.5 558.3h0M331.7 398.4h0M315.4 488.0h0M362.7 481.5h0M324.3 456.5h0M296.5 555.6h0M335.8 540.7h0M349.6 544.2h0M362.4 398.8h0M347.2 439.8h0M323.9 558.4h0M343.0 544.0h0M337.0 454.0h0M359.1 524.3h0M334.2 506.3h0M398.3 551.4h0M390.9 543.0h0M368.7 556.1h0M357.8 538.8h0M385.8 557.6h0M315.9 529.1h0M399.0 543.8h0M327.2 545.9h0M359.7 527.1h0M402.5 553.4h0M394.7 551.3h0M359.0 533.7h0M370.1 558.2h0M355.0 438.5h0M334.4 547.5h0M386.2 533.6h0M367.2 511.2h0M376.2 549.9h0M335.9 535.0h0M364.8 539.8h0M317.0 558.8h0M362.7 542.8h0M320.1 516.5h0M357.7 497.7h0M388.4 555.8h0M363.8 531.3h0M365.4 545.0h0M334.4 490.9h0M377.1 556.5h0M362.0 537.5h0M335.9 515.0h0M351.8 376.7h0M376.1 472.8h0M340.6 523.5h0M326.6 537.2h0M345.0 549.7h0M348.1 522.5h0M374.5 528.0h0M343.6 550.2h0M372.3 547.5h0M402.7 548.9h0M347.2 546.8h0M370.1 556.0h0M298.3 458.8h0M402.1 543.1h0M330.2 558.2h0M372.5 541.1h0M368.3 531.7h0M340.4 555.7h0M389.1 528.1h0M360.3 533.4h0M330.0 549.1h0M335.0 548.9h0M367.8 439.6h0M382.4 552.5h0M369.3 521.3h0M361.7 540.0h0M330.5 464.6h0M358.3 415.0h0M377.3 424.6h0M385.0 550.7h0M293.0 553.4h0M355.1 539.2h0M327.0 523.8h0M342.2 552.3h0M326.3 509.3h0M400.5 557.4h0M332.8 550.8h0M377.3 516.4h0M353.3 500.7h0M373.5 545.3h0M360.4 557.2h0M327.0 550.3h0M319.0 548.5h0M398.4 537.9h0M344.6 557.7h0M352.7 497.3h0M385.3 541.0h0M338.6 548.0h0M341.6 544.7h0M352.9 540.7h0M359.4 528.2h0M354.8 533.6h0M347.1 514.0h0M398.2 496.7h0M378.4 557.1h0M286.6 557.3h0M329.3 470.1h0M392.2 547.3h0M379.2 510.0h0M377.4 535.1h0M370.7 545.1h0M346.4 551.4h0M368.4 552.9h0M345.2 478.6h0M381.7 533.7h0M337.4 419.4h0M397.7 521.7h0M353.4 542.8h0M387.3 548.2h0M373.6 524.7h0M351.8 549.2h0M316.5 539.1h0M327.4 556.5h0M333.6 527.9h0M372.2 521.5h0M383.5 545.4h0M387.7 557.5h0M359.5 511.3h0M388.7 533.1h0M394.1 521.1h0M368.0 544.5h0M307.2 519.9h0M293.7 558.9h0M347.2 547.2h0M363.4 538.6h0M326.4 547.3h0M343.3 301.5h0M395.4 532.7h0M336.5 547.9h0M356.1 534.6h0M359.6 517.4h0M369.0 534.0h0M330.6 474.1h0M324.5 542.6h0M390.4 552.5h0M323.3 517.7h0M334.9 503.7h0M356.2 510.0h0M329.7 530.1h0M342.0 469.9h0M338.2 506.9h0M325.9 525.6h0M351.3 454.5h0M357.9 536.3h0M324.5 536.1h0M386.8 541.7h0M373.9 557.0h0M375.6 479.6h0M368.2 529.0h0M364.6 547.1h0M333.3 502.4h0M375.8 542.1h0M357.8 514.9h0M404.9 523.4h0M362.0 483.2h0M380.8 557.1h0M373.2 553.1h0M375.2 540.8h0M335.7 551.4h0M360.8 541.0h0M389.6 539.6h0M385.0 511.8h0M401.3 533.8h0M385.4 538.0h0M351.3 556.2h0M403.6 554.4h0M322.7 518.6h0M308.8 461.1h0M314.5 534.0h0M288.5 555.0h0M341.3 556.4h0M375.8 545.6h0M324.0 555.6h0M346.9 549.6h0M396.9 548.5h0M363.7 534.0h0M274.4 558.8h0M352.1 549.7h0M367.2 534.1h0M361.9 498.0h0M378.8 480.7h0M398.3 556.0h0M339.2 542.9h0M354.4 549.7h0M380.5 557.9h0M274.2 549.0h0M328.8 544.2h0M367.7 550.3h0M379.7 517.1h0M322.5 542.1h0M355.7 519.5h0M328.1 275.1h0M350.6 557.9h0M329.3 546.4h0M358.8 527.5h0M382.7 547.4h0M362.6 497.7h0M337.8 531.0h0M347.5 513.7h0M315.3 545.7h0M368.5 463.2h0M391.2 546.4h0M279.8 466.2h0M392.3 555.2h0M377.2 518.2h0M347.9 534.7h0M338.1 545.2h0M376.1 496.0h0M308.6 519.7h0M370.4 557.6h0M366.4 423.3h0M391.3 536.9h0M326.9 554.4h0M389.8 534.0h0M392.3 523.7h0M381.6 557.6h0M384.4 545.8h0M383.0 550.4h0M345.6 521.7h0M385.9 554.5h0M297.9 545.1h0M368.1 517.9h0M323.3 541.6h0M357.5 520.2h0M331.2 546.4h0M329.0 543.1h0M309.0 556.4h0M311.9 527.5h0M371.0 539.8h0M334.0 494.1h0M353.4 543.2h0M292.5 549.4h0M330.1 506.9h0M402.9 547.2h0M311.7 532.7h0M374.9 525.8h0M357.3 486.1h0M339.0 555.5h0M330.6 460.0h0M331.5 544.5h0M352.9 521.4h0M305.3 554.7h0M383.6 543.6h0M379.1 470.6h0M342.1 557.2h0M365.9 487.0h0M297.0 538.7h0M305.8 544.3h0M353.3 555.1h0M361.0 543.2h0M361.5 550.0h0M321.1 554.4h0M384.2 449.5h0M336.7 455.5h0M339.6 549.6h0M346.1 546.4h0M406.4 538.3h0M333.9 551.4h0M319.9 526.0h0M376.2 554.8h0M327.9 548.5h0M347.5 531.2h0M329.1 554.3h0M374.0 556.1h0M388.1 515.5h0M346.6 513.5h0M350.2 552.4h0M355.8 556.0h0M347.6 548.3h0M372.7 556.0h0M347.2 550.9h0M349.3 551.0h0M302.1 539.3h0M331.5 525.4h0M387.6 557.6h0M398.5 553.2h0M362.4 553.7h0M353.3 522.8h0M371.8 555.0h0M368.8 478.3h0M359.7 555.6h0M278.6 536.2h0M364.7 548.3h0M338.0 501.2h0M339.5 539.5h0M351.7 513.8h0M350.7 553.1h0M381.5 545.4h0M293.0 530.4h0M366.5 555.9h0M348.5 550.2h0M369.6 529.0h0M326.0 536.9h0M361.0 438.4h0M354.9 547.1h0M383.3 553.8h0M340.7 545.4h0M355.4 553.5h0M335.5 542.5h0M366.2 473.5h0M371.0 545.2h0M338.5 535.3h0M344.3 543.0h0M352.7 500.5h0M388.7 551.8h0M358.0 443.3h0M370.9 550.8h0M374.0 546.3h0M386.4 556.0h0M379.2 488.9h0M368.7 551.9h0M333.8 494.6h0M307.0 468.2h0M390.7 514.1h0M330.1 523.5h0M371.1 481.8h0M337.9 539.8h0M319.7 550.8h0M339.6 461.6h0M389.4 555.0h0M352.4 477.2h0M339.1 524.0h0M330.2 550.6h0M389.1 519.1h0M364.5 546.4h0M352.9 554.5h0M321.9 552.6h0M341.4 483.3h0M336.8 558.7h0M364.2 558.7h0M330.3 544.0h0M397.1 552.1h0M371.4 553.3h0M338.6 525.2h0M367.1 537.6h0M353.2 520.6h0M351.6 540.1h0M352.2 543.4h0M403.4 547.7h0M343.4 512.6h0M377.9 469.3h0M367.7 556.0h0M369.5 557.6h0M354.6 536.3h0M381.6 531.0h0M317.9 547.0h0M363.3 544.5h0M303.1 494.5h0M337.9 549.3h0M309.3 546.5h0M341.9 545.4h0M372.2 558.0h0M339.5 539.5h0M323.6 549.0h0M390.5 557.1h0M343.3 337.4h0M375.4 542.4h0M307.1 547.7h0M333.9 524.9h0M354.6 487.1h0M368.3 514.9h0M386.3 514.6h0M326.5 533.6h0M336.7 514.1h0M367.4 517.2h0M338.6 529.1h0M402.3 511.1h0M360.1 535.3h0M324.5 556.5h0M327.7 531.0h0M344.8 541.3h0M354.5 539.7h0M382.5 547.0h0M340.8 477.7h0M380.8 522.2h0M390.4 557.6h0M345.7 551.1h0M370.4 551.3h0M395.9 549.9h0M357.3 320.5h0M368.4 528.6h0M344.1 541.8h0M394.1 557.0h0M373.8 511.4h0M358.3 503.5h0M335.9 542.2h0M318.2 397.4h0M361.0 496.6h0M382.0 537.4h0M332.1 541.2h0M337.7 467.9h0M362.8 551.9h0M329.4 473.5h0M375.2 394.5h0M363.4 529.4h0M328.3 523.8h0M369.7 547.5h0M353.7 552.6h0M352.9 558.3h0M355.1 473.9h0M369.1 549.1h0M384.5 547.6h0M323.1 540.6h0M328.4 540.4h0M326.2 538.0h0M371.1 544.7h0M382.9 510.1h0M334.7 458.5h0M289.0 557.0h0M364.2 558.1h0M347.4 543.0h0M394.4 510.7h0M351.3 528.6h0M394.9 551.0h0M392.6 549.4h0M335.7 432.8h0M337.5 535.0h0M328.4 550.0h0M347.6 518.2h0M359.2 518.2h0M335.1 553.9h0M340.2 381.1h0M327.1 549.1h0M345.3 541.1h0M341.0 556.3h0M365.1 522.3h0M374.0 471.5h0M343.8 543.8h0M355.1 533.1h0M366.3 517.1h0M307.6 546.6h0M382.4 539.9h0M306.7 546.5h0M354.4 545.1h0M353.2 484.3h0M402.0 555.7h0M350.4 543.8h0M361.1 505.9h0M385.8 533.3h0M390.4 549.4h0M316.2 555.9h0M379.0 546.7h0M324.7 554.5h0M351.4 466.3h0M408.5 554.4h0M335.3 546.0h0M340.4 550.0h0M369.6 535.5h0M371.9 502.2h0M365.1 547.0h0M284.6 548.6h0M358.6 518.2h0M355.5 427.4h0M331.6 542.0h0M317.1 545.3h0M376.5 532.7h0M378.3 515.1h0M340.4 553.4h0M345.3 482.5h0M284.9 547.5h0M309.5 547.9h0M325.4 531.1h0M355.0 533.9h0M380.0 552.7h0M289.0 555.9h0M338.1 554.5h0M353.3 513.7h0M345.0 550.4h0M366.2 556.9h0M360.9 556.5h0M339.9 554.9h0M354.3 505.5h0M389.9 547.8h0M358.4 486.2h0M269.7 513.6h0M312.8 552.6h0M337.1 557.4h0M327.7 545.8h0M383.1 551.0h0M393.3 556.5h0M405.9 536.9h0M340.3 528.2h0M312.3 558.4h0M372.1 541.3h0M366.0 506.4h0M351.2 509.0h0M353.0 531.3h0M354.9 542.3h0M320.1 472.4h0M365.9 510.0h0M357.5 544.6h0M401.4 550.3h0M333.3 547.0h0M307.4 533.1h0M289.8 552.2h0M358.8 548.6h0M366.7 550.6h0M357.8 512.7h0M378.3 551.1h0M328.6 541.8h0M393.0 551.0h0M368.3 534.9h0M329.9 528.6h0M371.1 482.6h0M409.5 554.2h0M354.0 531.5h0M361.6 356.1h0M329.6 513.7h0M383.5 558.7h0M335.8 507.7h0M342.7 541.9h0M368.5 497.9h0M397.0 551.7h0M358.2 557.6h0M370.2 475.0h0M356.9 463.5h0M365.8 396.2h0M350.3 498.5h0M362.1 539.3h0M338.1 552.3h0M370.0 544.3h0M273.7 551.8h0M300.3 521.3h0M366.2 539.5h0M363.4 526.8h0M358.3 558.4h0M314.7 557.2h0M364.5 537.3h0M381.3 519.5h0M376.7 547.2h0M318.6 530.7h0M399.3 540.6h0M346.3 516.7h0M320.3 549.9h0M319.6 529.0h0M361.3 532.6h0M404.1 548.5h0M329.8 528.9h0M365.1 553.7h0M291.1 549.5h0M326.6 550.3h0M372.3 466.8h0M368.1 540.2h0M257.1 554.6h0M321.6 532.7h0M332.2 523.0h0M366.6 484.1h0M383.5 532.3h0M377.9 513.5h0M305.8 511.3h0M376.8 549.7h0M332.3 546.3h0M340.3 542.2h0M354.3 504.5h0M294.2 531.8h0M378.9 553.2h0M359.2 518.6h0M405.3 534.7h0M369.5 546.4h0M397.4 554.9h0M306.3 530.4h0M336.4 508.8h0M361.8 499.5h0M368.1 556.9h0M346.0 533.8h0M323.4 546.3h0M367.0 449.9h0M394.9 542.9h0M398.6 535.1h0M352.8 555.7h0M348.3 538.3h0M360.3 555.1h0M384.7 533.5h0M365.0 538.9h0M376.0 554.2h0M356.4 486.3h0M340.2 550.9h0M349.7 554.4h0M355.2 496.0h0M379.6 555.5h0M394.0 553.2h0M377.5 558.6h0M367.3 499.2h0M362.2 519.3h0M352.8 551.3h0M391.0 532.9h0M367.3 541.4h0M374.7 523.1h0M303.7 558.5h0M324.6 552.0h0M338.9 484.7h0M386.7 544.0h0M362.8 476.7h0M350.3 556.6h0M352.1 522.0h0M354.3 538.8h0M337.7 504.6h0M374.4 547.8h0M354.9 552.5h0M319.9 519.3h0M339.0 545.3h0M324.8 545.4h0M334.2 541.0h0M360.3 493.0h0M405.8 552.7h0M351.5 545.1h0M259.8 551.5h0M400.0 526.9h0M359.9 511.5h0M364.8 529.7h0M318.0 481.5h0M388.4 525.0h0M334.9 532.2h0M357.2 520.4h0M373.7 522.3h0M317.2 547.0h0M337.2 518.2h0M326.8 557.1h0M387.7 547.6h0M328.2 520.5h0M372.0 556.7h0M342.1 558.8h0M367.8 546.6h0M372.1 549.4h0M329.6 532.5h0M316.7 535.7h0M365.0 558.0h0M389.1 541.9h0M316.6 550.3h0M376.7 541.2h0M403.8 527.1h0M336.9 558.1h0M374.5 558.8h0M358.1 494.8h0M312.4 532.7h0M385.0 533.4h0M372.3 406.7h0M332.1 520.7h0M333.6 532.4h0M356.7 546.7h0M371.5 519.3h0M372.6 550.1h0M356.8 551.3h0M369.1 553.5h0M344.7 532.9h0M328.7 540.4h0M330.6 502.3h0M352.7 544.1h0M270.6 528.4h0M354.7 547.6h0M354.8 557.7h0M365.9 511.8h0M329.6 525.3h0M267.1 531.2h0M317.2 554.4h0M373.8 478.6h0M346.9 447.2h0M361.1 492.2h0M350.6 478.4h0M346.5 551.4h0M387.6 555.3h0M322.0 503.4h0M378.5 512.3h0M368.9 508.3h0M347.3 534.2h0M331.5 502.0h0M352.0 550.2h0M359.7 555.1h0M374.0 539.3h0M324.6 551.8h0M357.1 486.5h0M281.6 553.6h0M373.6 545.8h0M362.3 546.0h0M357.3 516.9h0M287.5 525.5h0M294.7 519.6h0M314.8 511.3h0M407.2 547.5h0M389.4 546.8h0M329.0 554.7h0M280.5 555.9h0M342.5 557.0h0M352.6 470.8h0M340.5 452.0h0M345.8 558.6h0M358.7 528.1h0M346.7 548.7h0M339.3 538.2h0M330.2 552.8h0M317.1 546.5h0M362.2 505.3h0M386.3 538.8h0M396.2 526.7h0M367.3 555.0h0M357.3 499.5h0M337.0 552.9h0M329.5 557.1h0M365.1 516.2h0M368.2 550.1h0M369.9 558.9h0M331.8 557.9h0M353.3 470.0h0M373.5 555.7h0M366.2 540.0h0M326.1 505.4h0M378.1 541.3h0M353.5 286.0h0M311.9 520.1h0M367.4 550.4h0M322.8 535.1h0M352.1 550.7h0M323.4 556.4h0M306.2 529.0h0M372.3 532.0h0M343.4 532.2h0M317.7 555.8h0M368.4 501.8h0M303.9 550.7h0M269.1 548.0h0M309.1 533.6h0M321.6 519.7h0M367.1 552.9h0M329.8 532.9h0M270.0 550.3h0M355.8 517.3h0M363.1 543.3h0M354.5 474.6h0M334.2 552.2h0M368.7 541.0h0M406.4 543.2h0M381.6 414.7h0M397.7 553.8h0M381.4 515.3h0M352.4 556.8h0M345.6 553.6h0M325.8 506.7h0M298.8 556.9h0M301.4 556.1h0M363.7 533.9h0M365.6 556.5h0M377.1 535.1h0M352.2 381.5h0M326.6 540.0h0M365.3 529.3h0M340.5 475.6h0M324.3 553.5h0M372.9 548.2h0M333.2 558.3h0M361.5 531.0h0M393.8 475.6h0M266.2 538.7h0M377.6 555.0h0M348.2 431.1h0M317.6 556.3h0M357.0 553.9h0M341.6 557.4h0M331.5 549.0h0M377.0 553.7h0M336.3 509.6h0M317.4 549.3h0M319.4 555.7h0M350.9 520.8h0M370.6 474.2h0M360.3 559.0h0M362.1 517.5h0M361.6 538.2h0M366.0 554.9h0M407.9 558.5h0M378.0 534.6h0M355.6 557.3h0M336.2 555.4h0M374.3 557.0h0M329.1 537.8h0M384.9 548.0h0M345.9 520.7h0M374.4 558.0h0M391.5 524.5h0M314.3 480.9h0M347.0 555.4h0M345.3 492.6h0M335.0 533.4h0M350.5 521.2h0M358.1 493.8h0M325.1 549.3h0M354.5 498.9h0M337.7 514.2h0M312.2 556.5h0M317.2 534.8h0M373.1 556.6h0M338.6 525.3h0M392.4 558.8h0M343.2 527.1h0M365.5 541.8h0M401.6 548.3h0M375.6 542.8h0M348.2 558.9h0M405.1 542.7h0M344.3 536.8h0M336.0 493.4h0M313.7 546.9h0M367.9 554.9h0M381.1 543.6h0M314.5 557.7h0M369.7 470.4h0M378.7 516.6h0M389.3 541.2h0M377.0 446.6h0M380.3 555.5h0M349.9 546.8h0M384.3 558.4h0M382.7 548.1h0M357.3 296.8h0M402.8 519.3h0M382.2 545.9h0M359.2 489.7h0M334.6 526.1h0M328.2 556.9h0M334.9 528.8h0M302.6 526.0h0M357.3 548.4h0M373.9 494.2h0M319.1 545.1h0M357.1 538.9h0M394.3 516.9h0M338.3 554.9h0M385.0 528.5h0M345.5 518.1h0M379.0 541.4h0M349.2 558.0h0M327.3 543.8h0M354.6 547.0h0M335.0 496.9h0M339.1 496.2h0M379.8 553.2h0M373.5 555.4h0M370.8 508.7h0M328.5 557.4h0M312.5 556.0h0M382.5 540.4h0M302.2 493.9h0M360.7 557.4h0M380.6 548.3h0M346.7 550.9h0M372.3 554.5h0M344.9 543.6h0M373.3 539.8h0M300.8 550.6h0M264.1 557.2h0M344.1 555.0h0M363.1 550.5h0M376.4 549.7h0M391.8 530.8h0M357.8 524.4h0M339.7 486.5h0M371.9 507.7h0M318.7 536.5h0M296.5 536.7h0M388.4 549.7h0M330.7 533.5h0M393.6 556.6h0M309.7 538.1h0M387.0 456.0h0M360.4 547.7h0M360.3 554.3h0M347.5 544.4h0M323.2 504.4h0M340.5 555.8h0M367.9 538.4h0M342.9 504.7h0M300.2 484.5h0M351.0 555.1h0M298.8 501.7h0M394.5 528.8h0M397.2 514.1h0M346.6 520.3h0" fill="none" stroke="#0FAAC7" stroke-width="4.6" stroke-linecap="round" opacity="0.62"/>
<path d="M311.8 553.1h0M341.3 554.6h0M351.3 540.3h0M367.6 513.2h0M371.5 557.9h0M382.9 530.4h0M351.6 510.0h0M349.8 534.4h0M336.5 478.1h0M379.8 558.9h0M308.3 547.8h0M353.7 531.1h0M287.5 519.7h0M352.7 476.0h0M364.7 552.2h0M300.2 555.6h0M358.6 515.9h0M325.2 507.2h0M370.6 486.7h0M405.5 554.3h0M318.9 557.1h0M317.3 557.3h0M318.0 515.5h0M342.4 545.7h0M350.8 476.6h0M351.9 554.5h0M347.5 509.5h0M343.0 508.1h0M370.7 522.0h0M352.9 437.3h0M369.8 510.7h0M386.3 558.6h0M281.9 527.7h0M362.9 491.6h0M330.6 513.3h0M384.5 504.7h0M392.1 524.7h0M388.4 551.4h0M365.6 478.4h0M375.6 548.9h0M353.7 518.3h0M326.6 555.9h0M353.6 551.7h0M326.0 544.6h0M390.4 545.1h0M361.0 558.7h0M395.3 513.8h0M386.3 553.9h0M366.8 554.4h0M404.1 529.1h0M341.1 512.8h0M379.2 556.6h0M337.1 548.7h0M335.8 547.9h0M309.2 494.2h0M351.2 553.6h0M357.5 529.6h0M330.0 542.8h0M384.4 556.7h0M344.2 550.0h0M380.6 556.9h0M333.8 558.8h0M376.7 528.7h0M392.2 546.0h0M383.3 555.1h0M372.3 554.0h0M301.2 551.1h0M375.8 537.4h0M358.1 548.1h0M322.6 557.6h0M364.4 491.5h0M331.9 545.1h0M311.7 527.2h0M353.7 551.6h0M295.8 509.5h0M362.7 550.4h0M357.3 554.0h0M345.5 471.5h0M331.4 495.4h0M349.4 553.1h0M350.2 543.6h0M318.5 533.3h0M290.6 541.0h0M327.6 483.4h0M283.8 493.5h0M385.8 511.8h0M357.8 533.4h0M347.1 529.0h0M361.6 512.4h0M365.5 471.1h0M336.9 555.8h0M272.1 556.4h0M385.1 496.9h0M356.2 453.9h0M353.2 524.4h0M380.4 532.1h0M398.4 554.3h0M322.6 508.2h0M329.2 515.9h0M349.3 524.8h0M355.9 557.4h0M321.0 550.6h0M376.4 542.3h0M397.7 534.5h0M353.1 515.0h0M372.5 515.3h0M360.9 530.0h0M369.4 466.5h0M331.1 548.4h0M357.0 543.4h0M332.3 485.4h0M328.4 554.9h0M384.2 527.0h0M329.8 544.5h0M319.3 553.8h0M380.5 554.3h0M352.5 540.9h0M302.7 538.1h0M342.3 530.0h0M408.7 555.5h0M352.8 529.9h0M337.7 463.5h0M397.8 540.4h0M317.8 522.0h0M352.8 545.9h0M337.3 557.0h0M359.3 552.8h0M371.2 550.5h0M316.2 533.3h0M320.0 523.4h0M369.6 535.2h0M383.8 521.1h0M380.3 532.8h0M365.4 557.5h0M326.4 484.2h0M387.3 525.2h0M318.3 490.5h0M330.3 548.2h0M293.2 555.7h0M353.2 527.5h0M316.0 558.5h0M338.9 441.5h0M330.7 514.7h0M372.0 505.5h0M370.4 554.7h0M372.3 545.1h0M376.4 515.2h0M389.9 558.9h0M342.7 494.0h0M379.4 512.0h0M308.5 534.0h0M353.3 425.1h0M368.4 541.1h0M398.5 549.2h0M401.8 548.9h0M329.8 489.0h0M362.8 527.2h0M345.3 549.7h0M351.5 552.2h0M317.9 522.6h0M377.4 418.4h0M352.3 507.5h0M380.7 536.7h0M253.4 545.6h0M369.5 530.7h0M371.8 554.4h0M334.6 532.8h0M340.9 526.5h0M382.6 539.9h0M379.9 541.7h0M403.3 550.8h0M355.8 477.6h0M385.4 555.7h0M391.3 493.0h0M341.8 541.0h0M371.0 551.4h0M323.1 540.5h0M358.9 545.8h0M347.1 351.0h0M379.4 493.3h0M342.8 517.9h0M369.9 545.3h0M403.5 533.3h0M382.0 546.8h0M319.3 519.0h0M366.6 552.2h0M314.4 548.9h0M376.0 548.2h0M311.1 539.3h0M290.0 405.9h0M318.0 552.2h0M344.4 513.2h0M321.6 538.3h0M374.1 540.5h0M326.8 513.8h0M380.7 554.1h0M324.5 537.1h0M348.3 430.5h0M392.6 527.7h0M349.6 502.2h0M361.4 494.8h0M375.3 500.3h0M353.0 551.4h0M371.0 541.1h0M327.5 553.0h0M319.1 551.9h0M360.5 536.6h0M367.8 521.2h0M377.9 519.3h0M388.1 543.8h0M377.6 534.9h0M338.9 503.6h0M365.1 499.6h0M326.5 508.6h0M358.5 545.8h0M364.4 545.3h0M326.7 534.6h0M340.4 529.9h0M359.5 509.7h0M363.8 550.5h0M390.4 481.6h0M393.8 538.2h0M332.8 553.6h0M340.2 544.7h0M356.5 522.0h0M340.6 543.5h0M349.1 470.2h0M378.6 514.4h0M397.1 545.5h0M407.9 557.4h0M330.8 543.3h0M377.2 535.1h0M391.9 532.1h0M351.1 538.2h0M332.1 480.6h0M336.2 553.7h0M347.8 543.0h0M341.6 539.7h0M366.2 557.5h0M342.0 516.8h0M314.3 481.5h0M361.0 554.2h0M333.2 488.0h0M366.0 516.6h0M312.1 534.6h0M336.2 539.8h0M335.3 523.0h0M341.3 493.3h0M405.7 534.0h0M342.0 549.9h0M366.7 526.2h0M334.8 545.5h0M387.2 528.8h0M351.5 537.1h0M356.7 515.1h0M389.5 546.7h0M394.3 535.5h0M353.2 476.7h0M341.3 515.9h0M339.7 502.8h0M345.6 523.3h0M364.9 528.2h0M375.3 557.8h0M326.8 529.3h0M378.2 558.5h0M349.3 516.9h0M385.2 550.5h0M365.7 511.8h0M387.2 516.5h0M356.4 501.1h0M340.2 465.3h0M321.6 525.0h0M367.1 531.5h0M384.7 553.7h0M336.6 555.5h0M304.9 534.8h0M368.5 527.9h0M397.8 558.0h0M364.6 501.6h0M367.9 456.6h0M366.8 551.4h0M378.9 550.7h0M392.8 554.1h0M390.0 554.5h0M323.2 524.3h0M328.4 545.4h0M337.9 486.3h0M350.2 525.7h0M373.9 557.8h0M365.5 503.3h0M397.3 551.0h0M355.9 531.6h0M357.3 549.6h0M344.1 520.1h0M323.3 546.3h0M355.1 453.4h0M399.8 555.5h0M357.2 536.3h0M355.9 540.0h0M343.3 552.3h0M355.3 452.2h0M366.5 553.5h0M355.0 427.2h0M319.9 547.6h0M349.2 459.6h0M369.1 550.6h0M382.2 539.1h0M313.0 521.2h0M335.5 527.3h0M344.7 546.7h0M327.9 486.5h0M335.9 557.0h0M368.8 505.3h0M381.9 455.6h0M328.8 542.0h0M342.6 551.6h0M386.7 518.5h0M322.6 478.1h0M365.3 547.5h0M324.6 555.1h0M340.9 470.1h0M376.6 553.8h0M327.1 545.8h0M397.0 555.5h0M376.7 465.2h0M353.5 543.8h0M353.7 551.0h0M277.9 528.7h0M373.1 508.6h0M382.3 536.3h0M400.9 531.7h0M323.5 557.2h0M369.9 479.6h0M337.6 491.2h0M373.5 440.4h0M370.5 532.7h0M378.0 489.8h0M346.4 547.4h0M328.9 552.4h0M387.0 439.8h0M403.0 528.8h0M355.6 508.6h0M302.9 555.3h0M383.3 537.0h0M348.0 523.6h0M369.2 453.9h0M373.1 471.4h0M350.7 521.0h0M367.4 556.7h0M369.0 514.9h0M321.8 437.0h0M346.4 525.8h0M326.7 540.1h0M334.2 557.8h0M324.6 550.9h0M331.0 544.0h0M380.3 524.8h0M355.0 458.4h0M309.5 548.3h0M337.5 555.1h0M343.0 515.4h0M306.8 532.8h0M293.3 558.8h0M346.0 536.6h0M361.4 552.0h0M358.0 523.6h0M373.4 538.8h0M370.9 487.7h0M363.3 472.5h0M395.9 501.8h0M317.9 555.4h0M393.7 537.2h0M343.6 551.7h0M328.6 544.6h0M310.9 549.3h0M377.1 506.0h0M408.5 555.9h0M370.5 533.0h0M331.4 540.7h0M355.4 505.4h0M386.3 559.0h0M343.1 550.7h0M304.2 532.7h0M350.8 558.0h0M314.7 551.9h0M394.9 539.9h0M317.0 527.5h0M315.4 404.5h0M363.4 500.9h0M368.4 498.2h0M323.9 540.4h0M336.2 552.9h0M347.9 491.5h0M390.0 508.9h0M319.6 553.9h0M364.7 546.5h0M348.0 434.0h0M338.9 550.4h0M376.7 553.4h0M383.7 551.6h0M336.9 483.2h0M309.8 534.2h0M341.1 507.0h0M380.1 558.3h0M311.5 550.7h0M285.9 549.0h0M371.0 475.6h0M349.9 487.8h0M372.4 553.0h0M336.0 534.6h0M337.4 557.2h0M364.4 558.2h0M377.9 539.7h0M348.8 558.8h0M362.7 546.7h0M381.2 496.2h0M320.5 526.7h0M258.8 502.1h0M354.6 462.2h0M308.8 548.4h0M364.5 532.6h0M312.5 540.7h0M325.8 529.9h0M347.8 499.3h0M350.1 546.1h0M310.1 553.7h0M328.3 544.5h0M369.5 507.8h0M373.2 557.0h0M364.2 545.2h0M324.8 525.7h0M333.0 544.1h0M327.1 540.0h0M394.9 543.0h0M380.2 558.0h0M368.3 504.2h0M330.6 544.9h0M322.5 553.9h0M351.3 522.5h0M310.8 555.1h0M331.6 557.6h0M365.1 506.6h0M315.5 541.7h0M332.2 554.6h0M377.0 549.8h0M314.5 544.8h0M369.1 555.2h0M329.6 538.5h0M361.3 468.0h0M378.8 537.7h0M337.5 547.5h0M399.7 529.6h0M362.5 551.1h0M356.5 537.3h0M337.1 539.5h0M327.8 539.4h0M339.9 554.8h0M359.6 507.8h0M378.2 547.4h0M368.1 554.7h0M337.3 540.8h0M353.5 497.1h0M396.9 558.5h0M346.7 538.4h0M400.4 552.6h0M355.0 447.9h0M376.5 543.4h0M368.9 482.5h0M340.8 551.6h0M368.9 542.3h0M356.8 532.5h0M391.9 555.2h0M295.8 553.9h0M369.4 439.3h0M348.1 536.1h0M347.7 538.0h0M390.3 554.2h0M331.2 524.7h0M333.5 539.5h0M334.5 547.9h0M382.8 488.5h0M344.4 496.9h0M347.5 491.7h0M376.6 522.1h0M338.2 508.0h0M353.5 557.0h0M334.6 548.6h0M348.7 532.9h0M363.5 518.1h0M370.3 482.2h0M308.1 511.5h0M332.6 543.9h0M345.4 553.6h0M332.2 553.6h0M349.5 517.3h0M383.9 541.3h0M361.9 557.0h0M308.1 549.0h0M338.4 549.7h0M352.2 550.6h0M400.7 528.6h0M342.4 492.8h0M334.4 529.2h0M332.3 526.6h0M404.0 532.6h0M354.9 494.4h0M377.1 549.0h0M355.4 546.2h0M342.8 488.7h0M379.3 550.6h0M387.1 551.2h0M381.1 549.5h0M393.6 475.9h0M328.5 548.7h0M352.9 503.3h0M378.3 545.4h0M297.3 555.4h0M305.1 547.2h0M336.8 549.5h0M384.6 523.0h0M336.5 483.3h0M336.4 511.8h0M332.4 521.6h0M351.4 516.8h0M381.8 553.3h0M367.2 424.1h0M382.8 540.6h0M365.3 546.8h0M344.4 519.5h0M371.7 488.1h0M351.5 553.7h0M369.5 558.2h0M390.7 545.5h0M357.4 545.2h0M337.8 554.2h0M371.0 534.7h0M362.6 533.3h0M366.3 532.8h0M373.2 548.4h0M405.8 554.0h0M384.7 557.1h0M335.6 543.0h0M314.7 557.7h0M368.3 498.2h0M360.5 524.9h0M383.7 531.0h0M332.8 385.2h0M332.9 537.2h0M380.4 515.4h0M382.6 553.5h0M383.8 504.8h0M372.4 537.3h0M330.0 558.3h0M361.5 486.7h0M331.5 548.8h0M352.3 464.8h0M317.6 523.0h0M334.2 531.3h0M387.5 508.6h0M353.5 551.6h0M373.6 545.4h0M322.4 516.8h0M391.4 557.9h0M376.1 513.2h0M366.9 430.0h0M371.4 543.4h0M348.8 394.5h0M359.2 554.8h0M377.0 487.9h0M364.5 516.5h0M314.8 554.1h0M374.5 547.0h0M356.1 529.1h0M385.2 533.8h0M364.9 500.7h0M358.5 550.0h0M383.8 543.9h0M316.4 524.0h0M353.4 557.5h0M339.3 518.7h0M367.1 534.6h0M339.9 530.1h0M347.4 499.9h0M351.7 535.3h0M333.2 500.9h0M390.0 512.0h0M347.3 492.9h0M398.0 534.2h0M287.4 553.8h0M367.0 468.5h0M388.5 522.3h0M398.2 543.8h0M317.4 543.1h0M363.4 510.3h0M381.6 545.8h0M339.9 519.3h0M300.5 535.7h0M317.1 556.3h0M368.2 551.6h0M333.8 490.0h0M341.7 522.0h0M369.2 549.3h0M378.0 524.6h0M331.6 543.8h0M328.6 515.3h0M304.5 549.0h0M350.1 456.1h0M279.2 557.6h0M337.4 519.1h0M362.5 537.3h0M349.5 556.0h0M344.9 479.6h0M367.6 546.2h0M356.0 509.2h0M326.7 552.7h0M397.8 551.0h0M380.1 497.8h0M332.9 552.8h0M316.3 553.1h0M374.2 547.5h0M368.6 557.2h0M362.5 407.0h0M365.4 500.5h0M362.9 528.8h0M338.4 551.8h0M366.1 503.7h0M326.8 556.1h0M368.7 513.2h0M361.5 553.0h0M378.2 538.1h0M345.4 513.5h0M364.5 506.6h0M359.7 438.4h0M335.3 497.1h0M359.6 556.4h0M394.4 558.1h0M319.1 529.7h0M373.3 552.3h0M330.9 552.5h0M353.3 552.4h0M380.5 551.0h0M333.9 544.8h0M354.0 517.0h0M374.3 558.9h0M394.2 527.3h0M339.1 545.7h0M332.0 520.8h0M312.8 553.0h0M366.0 552.3h0M339.0 548.9h0M385.6 551.2h0M387.0 553.7h0M368.0 559.0h0M376.3 554.7h0M378.0 543.4h0M331.3 556.0h0M386.3 533.5h0M339.2 554.2h0M410.6 557.4h0M383.3 504.7h0M329.4 536.4h0M324.9 557.7h0M378.5 554.1h0M276.8 554.3h0M337.7 508.8h0M327.8 535.6h0M342.8 541.6h0M293.1 546.6h0M352.1 552.0h0M331.5 550.6h0M360.9 557.7h0M361.5 547.8h0M346.0 541.6h0M349.7 515.8h0M318.9 517.8h0M342.9 529.1h0M375.4 557.6h0M307.4 555.0h0M343.9 545.1h0M320.8 546.0h0M370.3 538.6h0M364.2 370.6h0M362.5 494.3h0M325.7 555.0h0M359.8 552.4h0M385.2 503.2h0M348.7 549.7h0M351.6 488.7h0M318.8 531.9h0M313.0 543.2h0M365.4 532.2h0M339.9 549.9h0M322.1 543.7h0M328.7 553.6h0M339.7 532.3h0M355.3 504.3h0M294.6 538.2h0M358.5 547.2h0M354.8 482.4h0M355.9 548.0h0M345.7 556.1h0M346.6 520.8h0M360.7 543.8h0M400.0 553.2h0M347.8 525.3h0M408.9 546.7h0M387.0 553.2h0M341.2 490.7h0M387.0 478.9h0M311.7 556.4h0M401.9 553.9h0M384.5 518.9h0M367.2 498.6h0M308.6 504.2h0M361.3 538.5h0M328.1 543.8h0M390.6 496.0h0M361.0 477.8h0M347.7 534.4h0M315.6 525.3h0M386.9 558.0h0M380.0 552.9h0M373.5 500.1h0M344.5 481.4h0M304.3 549.7h0M383.6 540.7h0M326.5 533.0h0M366.8 525.8h0M374.8 522.8h0M365.2 449.0h0M347.5 541.4h0M378.2 552.6h0M362.6 538.1h0M350.3 527.6h0M335.5 557.9h0M397.4 538.3h0M358.2 552.7h0M328.1 558.0h0M334.3 555.7h0M389.8 554.6h0M353.7 558.2h0M341.6 526.3h0M375.0 550.0h0M288.4 553.8h0M347.9 483.3h0M369.8 508.0h0M350.3 537.9h0M334.5 557.5h0M339.1 497.6h0M351.9 536.6h0M337.8 544.6h0M370.0 557.2h0M385.7 542.5h0M356.6 541.8h0M389.4 546.7h0M366.0 543.4h0M328.9 530.0h0M367.0 544.5h0M316.0 557.5h0M353.2 556.8h0M353.9 471.8h0M369.1 533.6h0M336.6 529.9h0M359.5 490.0h0M333.0 523.8h0M344.1 527.6h0M308.7 555.9h0M358.4 535.3h0M324.0 555.6h0M399.3 553.9h0M380.8 550.6h0M379.9 542.9h0M319.7 555.6h0M394.0 530.8h0M357.0 507.5h0M368.6 557.6h0M381.5 502.3h0M364.7 489.5h0M393.5 477.0h0M333.8 551.3h0M404.3 552.3h0M371.8 552.2h0M351.7 556.0h0M360.7 469.4h0M360.1 503.2h0M357.5 553.5h0M336.1 543.0h0M324.1 537.4h0M352.2 490.7h0M330.3 537.0h0M329.4 554.8h0M348.2 477.9h0M365.5 558.2h0M323.6 504.1h0M338.9 558.1h0M335.8 553.3h0M283.2 553.5h0M369.5 540.5h0M354.4 553.1h0M370.3 558.4h0M349.2 472.5h0M391.4 550.8h0M368.0 548.2h0M380.1 542.8h0M379.9 488.6h0M335.9 446.9h0M313.6 550.3h0M326.8 536.2h0M381.5 493.7h0M380.9 544.3h0M348.6 530.1h0M373.4 556.1h0M347.1 517.6h0M311.9 496.3h0M382.0 549.2h0M333.4 556.1h0M297.3 541.3h0M363.0 555.4h0M393.5 542.8h0M399.9 552.3h0M342.3 535.6h0M345.2 416.9h0M393.6 557.0h0M382.1 499.5h0M373.8 514.5h0M401.1 557.9h0M350.7 468.9h0M367.5 522.4h0M363.5 553.3h0M376.6 537.6h0M327.5 554.5h0M281.9 547.5h0M355.0 556.6h0M319.1 552.5h0M355.7 510.2h0M350.3 551.7h0M369.5 535.5h0M372.6 515.5h0M319.2 553.2h0M325.1 493.0h0M357.7 485.3h0M389.7 544.8h0M300.6 543.6h0M311.8 555.6h0M409.3 553.4h0M279.5 558.3h0M394.4 549.4h0M318.7 524.6h0M334.7 526.0h0M319.8 557.0h0M396.7 542.8h0M365.9 541.4h0M330.8 520.6h0M376.6 546.0h0M332.7 540.3h0M385.3 545.0h0M349.5 527.3h0M388.6 534.0h0M334.0 553.4h0M325.7 538.8h0M317.3 534.6h0M389.2 525.4h0M353.5 536.7h0M362.0 509.4h0M371.6 531.7h0M358.5 558.9h0M340.1 528.5h0M383.9 527.0h0M359.3 485.2h0M352.0 523.1h0M338.3 531.2h0M374.4 544.1h0M378.3 514.2h0M334.4 552.6h0M374.3 553.9h0M365.4 553.8h0M358.2 519.0h0M374.5 547.5h0M337.9 525.4h0M361.8 507.6h0M360.8 547.7h0M396.3 502.9h0M322.3 525.3h0M341.8 515.5h0M367.7 542.5h0M365.3 507.7h0M359.8 555.3h0M334.9 547.1h0M362.1 465.4h0M325.0 558.9h0M323.8 552.1h0M371.2 555.6h0M361.8 457.5h0M390.7 550.3h0M384.4 531.7h0M348.7 442.4h0M259.8 548.2h0M378.3 521.9h0M374.4 543.9h0M338.2 532.3h0M369.5 522.7h0M377.2 521.4h0M386.7 554.5h0M314.6 535.2h0M298.6 557.8h0M346.9 468.0h0M354.9 481.1h0M320.3 545.4h0M360.7 443.4h0M336.5 482.8h0M351.7 494.2h0M330.7 494.6h0M339.1 557.1h0M378.2 554.3h0M387.4 533.0h0M383.4 499.6h0M347.4 504.7h0M353.7 555.8h0M404.8 554.5h0M283.3 542.7h0M390.0 558.2h0M317.9 390.3h0M348.2 351.5h0M346.1 534.9h0M376.4 544.4h0M344.4 443.4h0M394.7 553.9h0M378.8 533.9h0M385.4 558.7h0M363.3 518.5h0M358.8 449.2h0M372.2 537.6h0M308.6 518.2h0M363.3 554.9h0M346.0 523.1h0M342.5 537.8h0M380.0 553.1h0M341.5 553.7h0M329.7 550.8h0M386.9 523.4h0M325.9 555.5h0M310.3 556.2h0M329.0 552.5h0M377.9 513.7h0M362.9 463.0h0M344.9 528.1h0M383.4 543.0h0M327.1 528.6h0M355.8 553.1h0M382.7 546.5h0M321.5 513.1h0M371.0 521.9h0M397.8 548.5h0M378.8 487.8h0M349.5 543.5h0M375.3 554.3h0M369.2 480.8h0M403.6 538.6h0M322.6 544.1h0M317.1 540.4h0M379.5 535.2h0M348.1 539.9h0M320.7 551.2h0M401.1 547.4h0M368.2 519.1h0M391.8 550.4h0M373.0 555.1h0M391.1 558.4h0M357.6 493.4h0M327.9 501.8h0M356.7 526.5h0M397.8 554.2h0M397.5 554.6h0M388.4 548.6h0M340.1 553.1h0M278.2 537.9h0M336.0 543.4h0M301.9 532.9h0M362.6 533.1h0M332.1 452.5h0M364.8 539.9h0M329.4 517.9h0M362.7 514.7h0M355.1 538.4h0M384.2 517.6h0M304.1 549.0h0M340.0 559.0h0M347.5 552.3h0M375.8 554.1h0M348.6 476.5h0M389.1 556.7h0M398.0 541.5h0M401.4 535.7h0M314.8 526.4h0M331.7 548.5h0M356.1 510.2h0M352.3 552.3h0M373.8 544.5h0M297.1 553.4h0M357.8 557.6h0M353.8 514.9h0M375.5 552.4h0M298.6 527.1h0M375.5 558.4h0M331.3 553.1h0M345.2 433.6h0M350.5 369.5h0M311.0 552.7h0M272.0 555.9h0M385.7 523.4h0M366.4 540.5h0M398.9 548.1h0M346.9 540.9h0M384.3 534.6h0M369.3 529.4h0M347.7 557.9h0M376.0 557.5h0M366.2 547.1h0M371.2 549.8h0M330.7 524.8h0M333.5 523.5h0M336.4 541.2h0M346.2 488.2h0M361.9 503.7h0M343.4 518.2h0M365.7 542.4h0M332.3 511.8h0M390.8 548.0h0M336.1 557.1h0M338.6 436.0h0M387.6 497.7h0M250.7 537.4h0M326.1 553.5h0M335.2 550.9h0M368.3 557.8h0M384.3 545.1h0M324.5 523.9h0M348.2 414.4h0M337.4 530.2h0M334.4 539.6h0M370.2 540.9h0M377.1 544.0h0M292.9 545.3h0M342.9 461.8h0M355.0 526.5h0M328.3 544.1h0M353.6 513.1h0M390.1 506.1h0M348.6 557.9h0M391.9 549.2h0M320.9 541.6h0M395.3 544.0h0M359.7 547.3h0M336.9 551.5h0M349.2 547.8h0M342.3 542.5h0M376.9 552.7h0M382.4 535.9h0M357.5 488.4h0M365.3 555.1h0M353.1 507.5h0M362.3 507.3h0M341.7 459.8h0M344.4 532.0h0M391.2 554.4h0M384.0 537.0h0M330.1 537.8h0M360.5 553.4h0M355.6 528.9h0M374.2 550.4h0M392.5 556.9h0M371.9 536.5h0M310.8 493.5h0M346.2 558.0h0M371.9 542.6h0M381.0 550.7h0M340.8 553.5h0M357.7 540.6h0M366.9 557.9h0M375.3 484.6h0M377.9 521.4h0M372.4 533.5h0M326.7 546.9h0M343.2 533.5h0M356.0 533.9h0M353.4 486.1h0M362.5 513.6h0M362.7 421.9h0M331.2 536.4h0M373.0 483.3h0M368.8 495.2h0M379.9 484.6h0M366.8 552.2h0M391.1 543.8h0M394.0 556.7h0M339.3 462.0h0M347.2 501.6h0M274.8 539.3h0M401.9 540.4h0M345.2 468.1h0M328.0 487.3h0M386.0 509.7h0M307.8 426.6h0M394.9 551.1h0M354.8 526.1h0M355.6 477.6h0M378.1 463.9h0M371.3 448.6h0M373.3 517.9h0M345.1 550.6h0M329.4 509.0h0M362.3 471.0h0M364.6 499.9h0M336.6 446.3h0M375.7 548.8h0M337.6 504.2h0M305.7 520.9h0M320.8 558.2h0M343.9 414.2h0M311.8 557.9h0M254.1 557.9h0M392.8 549.7h0M332.3 549.9h0M385.3 484.3h0M328.2 536.3h0M390.2 557.0h0M344.4 535.6h0M383.6 543.4h0M350.6 506.9h0M353.7 556.5h0M381.1 556.3h0M374.6 496.2h0M335.1 539.4h0M393.0 553.2h0M304.9 556.4h0M327.3 526.2h0M376.2 403.7h0M383.5 554.5h0M339.8 518.3h0M361.1 432.9h0M366.7 548.9h0M339.9 410.4h0M327.7 555.9h0M359.4 552.4h0M371.9 522.4h0M371.1 554.7h0M315.3 466.4h0M400.2 547.5h0M337.4 523.4h0M339.9 450.1h0M323.6 544.3h0M389.5 546.6h0M352.6 451.3h0M398.3 558.0h0M376.2 503.8h0M350.8 513.1h0M324.5 542.5h0M368.4 558.8h0M249.4 515.6h0M386.3 539.8h0M383.8 557.1h0M349.8 557.3h0M305.3 553.6h0M323.9 538.8h0M336.0 539.3h0M345.4 472.9h0M339.8 548.1h0M318.9 531.6h0M337.4 520.3h0M363.0 518.4h0M398.2 492.7h0M400.9 530.3h0M382.3 545.3h0M393.4 553.0h0M365.2 554.6h0M309.4 558.5h0M329.4 534.6h0M330.0 540.8h0M383.8 530.5h0M311.5 549.8h0M348.6 540.1h0M394.6 547.6h0M381.8 542.1h0M347.6 544.1h0M364.0 555.5h0M365.3 554.1h0M352.3 521.4h0M309.6 543.4h0M350.8 548.0h0M324.3 555.5h0M367.1 515.9h0M348.4 549.7h0M361.6 404.7h0M343.6 515.4h0M381.6 551.5h0M347.0 508.1h0M316.5 555.8h0M357.5 527.7h0M328.0 545.4h0M342.5 448.8h0M353.8 531.2h0M327.9 541.3h0M394.6 552.8h0M359.7 506.2h0M332.3 523.0h0M378.0 557.7h0M326.5 550.5h0M347.4 554.9h0M335.5 489.1h0M346.3 544.8h0M395.1 558.6h0M352.2 529.2h0M337.3 534.3h0M353.2 557.5h0M288.9 555.0h0M276.4 555.5h0M328.2 552.9h0M331.9 556.8h0M390.2 557.5h0M363.5 488.7h0M342.3 538.8h0M362.1 558.2h0M366.1 557.8h0M333.6 512.7h0M362.1 406.4h0M374.2 540.6h0M301.4 420.8h0M366.8 555.9h0M361.9 449.6h0M363.8 546.8h0M355.8 555.4h0M347.4 549.8h0M319.9 550.7h0M379.2 551.9h0M327.8 550.0h0M337.3 546.6h0M347.3 414.2h0M330.4 480.3h0M359.9 477.3h0M322.5 538.1h0M300.2 510.9h0M361.0 530.6h0M377.4 528.6h0M378.0 541.6h0M346.8 544.5h0M364.2 450.2h0M324.6 525.0h0M347.8 541.9h0M307.7 553.8h0M340.6 531.2h0M338.3 545.1h0M402.7 547.7h0M323.8 541.4h0M285.8 556.1h0M339.3 470.7h0M353.1 517.5h0M307.6 557.6h0M381.8 546.8h0M343.1 550.8h0M332.4 508.7h0M346.5 540.4h0M328.0 539.8h0M369.5 507.9h0M327.0 538.2h0M393.0 556.5h0M375.9 543.3h0M339.8 531.1h0M322.5 545.1h0M299.9 544.4h0M335.4 534.9h0M289.6 512.5h0M358.2 535.6h0M336.9 554.0h0M331.6 549.5h0M334.1 558.7h0M367.4 528.4h0M382.1 532.9h0M344.8 534.4h0M398.7 546.4h0M382.7 531.2h0M344.6 542.1h0M361.5 540.9h0M362.3 540.5h0M333.8 535.6h0M371.1 495.9h0M359.5 522.7h0M331.8 558.4h0M393.6 538.6h0M383.9 543.3h0M351.9 550.9h0M354.7 503.6h0M372.3 556.9h0M366.5 524.7h0M335.4 505.0h0M305.2 470.9h0M362.5 538.6h0M376.1 554.6h0M352.3 484.7h0M355.4 546.1h0M402.3 546.0h0M401.6 557.6h0M315.8 513.7h0M341.8 492.2h0M343.7 551.0h0M357.9 514.7h0M320.9 548.2h0M376.1 542.6h0M335.6 526.5h0M332.9 539.1h0M335.4 528.5h0M397.9 531.5h0M322.5 547.8h0M331.9 532.7h0M366.0 431.7h0M376.9 522.4h0M365.1 538.6h0M376.7 515.0h0M362.9 491.9h0M328.1 490.8h0M383.6 552.8h0M349.4 542.1h0M358.6 550.6h0M366.0 558.5h0M361.5 557.5h0M380.9 496.5h0M341.6 445.0h0M364.7 429.4h0M339.9 550.6h0M338.2 532.2h0M316.7 557.8h0M366.0 554.4h0M395.8 525.5h0M393.9 511.5h0M381.9 542.5h0M330.7 547.8h0M348.9 545.3h0M351.2 542.5h0M353.6 523.2h0M323.1 538.0h0M373.5 532.6h0M368.0 541.8h0M360.8 537.8h0M390.2 554.9h0M364.7 514.8h0M309.8 558.8h0M341.9 549.5h0M347.7 503.2h0M329.7 543.2h0M339.4 544.4h0M325.2 383.7h0M400.2 546.7h0M343.6 411.0h0M299.1 535.5h0M318.7 546.6h0M321.6 541.4h0M389.6 552.6h0M320.4 374.5h0M350.5 524.7h0M367.3 551.4h0M361.2 515.3h0M357.7 538.2h0M367.0 541.9h0M325.3 491.9h0M333.1 493.1h0M322.5 534.0h0M328.3 541.8h0M363.2 507.1h0M351.9 415.4h0M318.8 522.0h0M284.7 556.9h0M293.3 543.1h0M344.8 553.2h0M320.3 530.2h0M361.6 549.6h0M364.8 440.8h0M347.6 467.8h0M321.5 554.0h0M293.6 528.4h0M375.4 549.5h0M361.9 535.0h0M347.6 542.5h0M353.3 558.4h0M311.4 556.4h0M336.8 485.7h0M352.5 538.4h0M287.0 558.1h0M367.2 533.4h0M357.5 524.4h0M361.6 548.7h0M300.2 555.1h0M351.6 542.6h0M333.3 535.7h0M316.2 552.4h0M361.7 536.9h0M345.6 554.7h0M334.3 557.0h0M357.0 489.6h0M365.9 510.5h0M344.8 465.7h0M336.8 545.7h0M354.7 556.1h0M316.5 420.6h0M316.1 531.1h0M335.5 517.6h0M305.1 545.0h0M353.2 490.0h0M340.7 524.2h0M324.7 537.1h0M315.6 551.8h0M350.4 513.0h0M359.4 557.4h0M378.0 505.8h0M380.8 555.6h0M373.5 527.6h0M355.1 544.1h0M358.5 510.0h0M320.3 540.6h0M346.7 547.1h0M370.0 508.4h0M318.4 524.4h0M370.2 534.3h0M390.8 548.0h0M356.0 539.0h0M372.8 531.2h0M362.4 557.6h0M335.1 527.9h0M379.4 550.8h0M361.9 532.0h0M336.0 556.7h0M340.8 487.2h0M341.9 527.5h0M269.9 547.5h0M392.5 548.1h0M383.8 554.7h0M353.6 486.8h0M375.4 547.5h0M403.2 551.9h0M359.2 557.5h0M320.3 404.9h0M362.4 514.1h0M341.8 515.1h0M307.6 532.3h0M323.9 550.5h0M384.1 552.4h0M388.1 506.2h0M370.3 521.6h0M360.2 528.2h0M296.3 549.7h0M262.1 554.2h0M269.7 477.7h0M389.9 511.8h0M355.2 540.8h0M388.9 535.0h0M399.9 528.4h0M333.0 449.7h0M323.4 555.7h0M364.2 546.1h0M402.3 525.5h0M337.4 550.3h0M314.0 541.2h0M371.8 477.8h0M336.5 519.9h0M353.3 553.0h0M366.5 500.0h0M384.7 558.9h0M357.7 413.9h0M361.6 546.6h0M372.6 430.7h0M338.4 472.3h0M351.8 530.1h0M340.9 548.2h0M353.4 523.1h0M340.8 557.6h0M325.6 326.6h0M398.1 537.9h0M345.5 558.2h0M302.6 550.7h0M365.2 534.2h0M347.3 543.0h0M374.1 534.6h0M330.9 504.0h0M367.8 450.3h0M343.2 546.0h0M316.6 539.9h0M357.2 499.2h0M309.9 553.8h0M300.1 546.9h0M345.2 549.3h0M342.7 528.9h0M392.0 537.8h0M351.7 553.1h0M344.7 513.6h0M407.4 555.0h0M373.6 549.1h0M364.0 484.9h0M339.7 523.8h0M389.5 552.1h0M377.3 552.3h0M344.4 554.2h0M325.0 502.5h0M360.1 548.3h0M353.5 315.8h0M327.7 542.2h0M347.4 548.3h0M356.9 531.8h0M360.5 526.8h0M379.2 445.2h0M376.7 400.1h0M401.5 557.6h0M398.6 555.2h0M336.0 556.6h0M306.4 529.6h0M392.9 549.6h0M394.2 542.5h0M376.2 555.6h0M361.0 541.6h0M368.1 540.3h0M339.2 553.9h0M361.4 541.8h0M369.0 455.3h0M371.2 549.4h0M359.7 511.2h0M347.0 530.8h0M294.3 554.1h0M375.2 517.4h0M319.9 533.1h0M360.3 540.7h0M347.4 534.5h0M378.4 554.8h0M341.7 542.4h0M326.4 555.1h0M331.0 542.8h0M371.1 516.1h0M315.6 550.1h0M332.5 516.2h0M351.1 462.1h0M361.3 471.0h0M324.9 447.2h0M303.6 557.2h0M376.6 533.3h0M337.7 538.2h0M360.2 552.2h0M385.9 522.8h0M369.7 548.7h0M369.6 535.8h0M331.8 479.2h0M359.5 507.9h0M368.6 555.3h0M382.2 494.8h0M318.1 509.9h0M321.3 517.5h0M338.3 533.1h0M394.7 547.0h0M304.1 541.8h0M341.9 520.8h0M389.5 522.3h0M353.9 534.9h0M368.5 554.7h0M358.1 513.1h0M343.0 447.0h0M320.0 532.9h0M359.2 557.8h0M336.0 541.5h0M358.8 535.4h0M346.9 536.9h0M337.9 549.6h0M331.2 529.2h0M357.6 540.8h0M365.2 496.3h0M330.4 556.2h0M372.6 535.5h0M351.4 504.0h0M346.7 481.8h0M407.4 548.4h0M378.1 550.2h0M345.8 521.4h0M297.3 557.3h0M315.6 518.2h0M373.3 547.4h0M365.3 501.9h0M336.2 542.8h0M355.0 556.7h0M335.6 549.6h0M350.3 542.2h0M335.8 556.8h0M354.3 539.7h0M385.7 553.8h0M364.3 532.5h0M335.7 433.6h0M353.2 534.4h0M368.7 516.9h0M354.0 529.5h0M322.8 533.3h0M337.5 530.5h0M409.4 557.1h0M328.1 540.2h0M338.8 509.0h0M367.8 530.0h0M314.1 546.7h0M328.3 554.7h0M357.8 555.2h0M349.8 551.6h0M373.7 517.1h0M346.1 549.8h0M344.0 519.5h0M329.6 558.5h0M365.2 532.3h0M329.2 529.3h0M302.4 530.9h0M368.8 437.6h0M347.5 491.1h0M351.5 479.4h0M377.2 509.3h0M369.5 529.8h0M335.1 541.9h0M295.9 546.3h0M333.7 534.9h0M378.3 530.4h0M319.1 549.0h0M334.2 491.1h0M379.7 550.0h0M318.2 431.8h0M375.8 496.8h0M304.5 530.5h0M332.8 542.6h0M361.1 551.5h0M348.2 442.7h0M345.7 522.5h0M372.8 525.4h0M319.2 558.3h0M304.6 487.5h0M345.2 539.4h0M376.6 546.9h0M339.5 507.8h0M341.5 515.1h0M383.0 538.7h0M339.5 548.7h0M345.0 545.8h0M365.4 525.3h0M358.1 353.0h0M313.1 528.3h0M361.0 521.4h0M331.9 486.6h0M377.1 525.9h0M377.1 552.2h0M325.7 537.5h0M332.1 515.2h0M351.4 556.0h0M353.9 547.4h0M353.9 553.9h0M395.1 498.9h0M362.3 506.8h0M360.5 555.8h0M336.1 550.5h0M379.6 527.7h0M349.8 474.3h0M400.2 551.5h0M364.3 540.9h0M365.1 530.6h0M399.1 553.5h0M337.7 509.6h0M373.0 513.6h0M402.5 533.6h0M265.3 513.8h0M359.6 528.7h0M310.4 542.8h0M377.1 534.3h0M359.0 530.1h0M341.5 542.3h0M329.5 522.7h0M336.1 554.6h0M339.8 557.0h0M333.4 553.1h0M335.0 494.1h0M365.6 529.9h0M318.9 538.3h0M350.3 557.2h0M339.2 538.0h0M361.5 558.0h0M338.1 534.9h0M372.0 505.3h0M357.0 531.1h0M341.9 551.2h0M327.6 514.3h0M341.5 383.1h0M319.7 558.5h0M354.4 484.6h0M340.3 558.5h0M335.5 558.3h0M363.9 499.7h0M329.4 554.7h0M342.1 433.9h0M377.5 556.4h0M355.8 502.2h0M381.1 524.4h0M329.5 553.5h0M385.1 548.3h0M350.1 538.0h0M404.4 547.8h0M371.1 517.6h0M324.1 512.1h0M345.0 511.6h0M338.4 414.2h0M350.4 541.9h0M340.1 459.5h0M346.7 551.5h0M387.9 535.7h0M346.7 551.7h0M392.2 541.4h0M364.1 542.6h0M332.1 556.7h0M374.2 546.7h0M381.6 546.1h0M347.6 542.6h0M402.1 555.8h0M331.4 534.4h0M375.4 516.2h0M314.9 552.8h0M325.6 517.0h0M361.1 551.0h0M343.5 517.4h0M344.1 502.4h0M352.8 370.6h0M383.5 549.6h0M356.0 488.7h0M367.7 538.2h0M318.1 542.3h0M396.7 557.5h0M334.7 557.8h0M387.4 557.5h0M394.0 519.6h0M376.4 487.5h0M370.9 526.7h0M302.8 555.4h0M389.5 549.0h0M384.2 556.9h0M311.9 490.3h0M291.5 551.8h0M333.9 529.2h0M407.9 554.7h0M293.0 540.9h0M308.9 556.8h0M367.5 516.7h0M383.7 526.9h0M368.3 557.6h0M342.2 518.5h0M398.8 548.5h0M399.8 549.9h0M363.1 546.4h0M387.1 558.0h0M332.7 527.1h0M359.1 555.5h0M360.0 523.5h0M340.8 552.8h0M362.2 449.3h0M305.5 542.4h0M368.4 524.5h0M357.5 535.6h0M372.9 540.0h0M349.3 541.1h0M345.3 558.8h0M345.7 463.6h0M329.8 548.6h0M385.7 525.8h0M340.8 458.7h0M397.9 545.2h0M329.3 496.3h0M386.1 557.7h0M346.5 558.3h0M297.6 381.5h0M363.0 451.1h0M386.0 525.8h0M352.6 538.8h0M361.8 498.7h0M333.2 545.2h0M369.3 540.2h0M336.3 544.1h0M312.2 515.1h0M363.2 541.4h0M374.2 503.5h0M325.7 536.5h0M278.8 546.1h0M397.1 519.4h0M338.9 366.8h0M302.4 557.7h0M364.2 512.6h0M337.7 536.6h0M356.5 542.7h0M365.5 499.3h0M379.5 549.6h0M381.7 558.7h0M323.5 542.7h0M344.4 540.0h0M372.2 515.5h0M360.4 487.8h0M297.9 555.7h0M370.4 531.2h0M383.6 518.2h0M387.6 539.0h0M343.5 549.3h0M338.1 512.1h0M364.4 548.0h0M326.1 540.5h0M336.0 550.0h0M367.4 473.2h0M401.2 554.4h0M322.5 549.0h0M393.1 557.5h0M344.1 496.3h0M309.6 492.2h0M331.8 455.1h0M330.8 508.6h0M349.9 522.7h0M336.0 539.7h0M356.0 552.7h0M358.2 546.7h0M392.3 543.9h0M336.1 470.0h0M353.6 541.0h0M302.2 557.2h0M363.0 504.7h0M342.8 545.6h0M341.0 514.0h0M334.7 542.5h0M401.9 511.3h0M325.4 542.3h0M364.6 546.1h0M336.1 549.5h0M353.2 533.9h0M329.8 548.3h0M345.9 554.1h0M328.6 554.5h0M378.3 509.3h0M367.3 522.0h0M384.7 549.1h0M375.8 460.8h0M335.5 551.5h0M376.1 552.2h0M339.8 474.9h0M338.8 529.5h0M338.1 505.7h0M373.5 555.0h0M403.2 536.8h0M357.7 483.2h0M370.3 476.9h0M370.6 413.2h0M348.6 540.4h0M348.4 540.8h0M342.5 521.4h0M324.1 549.1h0M388.9 549.1h0M363.3 558.2h0M346.8 539.7h0M388.9 555.4h0M337.6 539.9h0M333.7 486.1h0M329.7 528.4h0M364.7 556.0h0M378.6 478.7h0M369.8 547.9h0M335.0 443.1h0M353.1 551.6h0M400.1 530.9h0M350.6 524.7h0M340.5 455.1h0M405.8 556.4h0M268.5 556.9h0M395.9 523.5h0M330.5 497.9h0M342.4 467.1h0M340.2 529.8h0M338.1 550.3h0M361.2 551.5h0M339.5 554.8h0M340.6 440.0h0M299.7 558.9h0M344.7 546.7h0M339.3 504.7h0M315.3 530.7h0M359.8 505.5h0M402.9 548.0h0M360.2 494.5h0M386.6 537.1h0M318.1 509.9h0M312.5 554.9h0M322.7 557.4h0M391.1 545.8h0M363.3 547.7h0M309.4 558.3h0M362.0 545.1h0M384.9 556.3h0M371.3 523.3h0M328.7 538.2h0M348.1 558.1h0M338.1 536.5h0M385.6 520.8h0M355.3 558.8h0M331.7 536.5h0M355.3 544.4h0M325.7 555.0h0M337.4 518.6h0M353.1 527.9h0M313.8 557.1h0M334.6 547.4h0M338.0 544.7h0M404.9 548.9h0M393.4 550.9h0M398.2 554.1h0M317.9 507.1h0M382.5 558.2h0M316.5 530.2h0M360.7 558.3h0M340.4 490.5h0M314.7 466.0h0M398.4 513.5h0M356.4 508.4h0M399.0 548.5h0M348.9 427.9h0M363.3 472.4h0M377.2 553.8h0M329.5 511.1h0M337.9 539.4h0M375.9 540.0h0M323.7 551.9h0M334.4 542.5h0M404.0 556.9h0M400.9 542.1h0M345.5 534.1h0M362.0 544.7h0M389.6 519.7h0M369.7 535.3h0M369.1 478.2h0M347.9 505.3h0M384.7 509.7h0M335.5 495.1h0M363.3 545.2h0M355.9 518.0h0M348.8 531.6h0M376.3 541.1h0M286.6 551.2h0M312.1 510.7h0M342.7 516.5h0M347.2 556.1h0M394.1 537.2h0M300.3 545.3h0M350.2 533.8h0M365.0 531.5h0M338.5 478.5h0M393.3 529.4h0M359.8 526.4h0M372.5 555.4h0M358.7 549.9h0M340.6 551.7h0M367.1 509.3h0M336.1 491.1h0M357.1 543.0h0M371.3 557.8h0M392.0 535.3h0M373.2 515.8h0M324.0 519.2h0M357.7 445.1h0M327.4 527.2h0M325.1 536.3h0M376.8 535.1h0M337.2 550.5h0M340.0 543.2h0M344.9 545.1h0M322.5 514.2h0M393.8 534.7h0M329.4 529.3h0M365.4 537.5h0M335.2 521.0h0M389.0 558.0h0M373.3 532.3h0M371.4 503.8h0M328.6 551.6h0M339.2 527.0h0M368.2 557.4h0M286.9 523.7h0M364.3 549.6h0M348.4 546.1h0M331.8 533.5h0M386.3 530.0h0M352.8 551.7h0M393.5 513.8h0M319.7 530.9h0M358.9 490.1h0M332.3 555.5h0M347.5 535.5h0M337.0 548.2h0M350.8 503.3h0M324.4 540.0h0M302.2 543.9h0M300.2 527.0h0M354.5 527.2h0M371.6 510.5h0M330.7 503.5h0M394.3 557.9h0M334.9 448.5h0M365.0 493.8h0M359.1 532.4h0M355.7 495.6h0M324.6 497.5h0M363.2 520.2h0M403.3 557.0h0M391.5 543.7h0M381.9 540.5h0M319.6 551.6h0" fill="none" stroke="#0FAAC7" stroke-width="4.6" stroke-linecap="round" opacity="0.62"/>
<path d="M454.3 544.4h0M601.2 506.8h0M496.2 475.9h0M447.7 503.8h0M433.4 500.0h0M546.9 542.3h0M564.9 531.8h0M436.0 540.1h0M506.0 529.1h0M524.4 488.1h0M462.6 551.7h0M476.2 548.2h0M573.5 525.8h0M551.1 546.3h0M441.4 528.4h0M546.6 547.4h0M545.0 545.3h0M553.8 543.9h0M481.8 531.5h0M470.6 537.0h0M459.8 553.6h0M590.9 513.0h0M484.2 487.6h0M495.8 537.5h0M531.7 548.3h0M438.7 542.9h0M554.0 492.1h0M477.6 542.2h0M442.8 527.9h0M478.6 483.2h0M464.5 551.8h0M441.9 519.5h0M481.1 550.9h0M433.8 552.7h0M477.3 488.9h0M552.0 542.9h0M554.9 540.3h0M497.5 508.0h0M478.2 523.0h0M440.9 526.0h0M524.1 553.4h0M466.7 553.4h0M434.5 536.8h0M480.7 540.5h0M504.8 521.8h0M497.6 524.8h0M563.3 534.3h0M479.2 547.1h0M558.7 518.3h0M464.8 535.6h0M458.6 533.9h0M463.0 486.3h0M428.7 548.0h0M436.2 520.0h0M454.2 426.9h0M465.9 554.1h0M467.2 516.5h0M441.3 537.3h0M442.5 556.1h0M452.7 501.2h0M471.2 548.2h0M448.6 555.2h0M597.4 513.1h0M426.2 541.2h0M502.6 557.9h0M475.9 538.2h0M474.1 168.1h0M445.5 483.4h0M472.1 537.2h0M454.4 511.1h0M602.5 504.7h0M526.2 536.0h0M450.4 556.3h0M453.4 556.2h0M589.0 520.1h0M548.7 540.5h0M432.1 519.0h0M463.2 557.1h0M542.1 548.0h0M466.9 546.7h0M575.2 530.4h0M494.6 558.5h0M460.4 556.7h0M447.9 469.7h0M584.2 517.9h0M508.7 550.6h0M450.4 558.0h0M531.9 552.0h0M440.2 549.0h0M609.8 501.7h0M575.7 529.2h0M521.1 530.8h0M488.6 544.7h0M489.8 557.2h0M602.8 505.9h0M463.9 545.8h0M431.9 540.6h0M444.1 421.5h0M525.0 535.3h0M505.4 537.5h0M467.1 509.1h0M462.1 490.7h0M554.6 548.7h0M520.2 488.4h0M491.5 556.7h0M473.1 524.0h0M553.6 538.3h0M571.4 531.2h0M619.5 496.1h0M582.1 455.3h0M532.2 529.4h0M490.8 484.9h0M499.2 556.1h0M430.7 554.6h0M532.5 540.4h0M574.9 528.7h0M435.3 487.5h0M455.6 555.3h0M481.0 542.0h0M461.5 544.8h0M560.0 539.4h0M460.0 558.8h0M432.0 520.1h0M470.8 550.2h0M460.8 558.4h0M467.5 531.3h0M526.5 547.5h0M520.5 481.3h0M517.4 432.5h0M482.7 556.7h0M600.1 510.2h0M522.8 492.7h0M446.7 549.4h0M476.3 507.2h0M506.3 485.0h0M470.7 556.3h0M515.3 505.4h0M502.1 512.1h0M551.9 544.0h0M443.0 550.3h0M506.0 550.4h0M452.4 467.9h0M455.9 550.5h0M487.0 518.7h0M482.5 525.3h0M496.0 554.0h0M597.6 512.9h0M550.0 509.9h0M438.4 534.4h0M446.4 543.0h0M489.1 554.3h0M476.7 531.0h0M621.4 494.4h0M528.2 548.8h0M439.3 527.4h0M552.0 540.4h0M532.5 552.5h0M456.7 512.4h0M591.5 517.4h0M570.1 529.0h0M544.6 549.4h0M459.0 511.6h0M475.3 538.1h0M430.4 528.0h0M448.2 500.8h0M478.2 520.3h0M534.9 548.3h0M440.6 511.7h0M514.3 522.2h0M586.7 518.2h0M426.4 524.9h0M462.4 533.1h0M471.6 422.2h0M471.7 517.4h0M490.4 529.3h0M535.2 551.1h0M430.4 558.6h0M476.2 543.7h0M516.7 527.4h0M426.5 557.9h0M548.5 538.9h0M575.9 527.7h0M539.0 549.9h0M478.9 516.4h0M498.4 555.1h0M425.7 532.8h0M460.8 529.6h0M563.6 532.9h0M459.3 546.1h0M498.6 558.2h0M506.6 519.9h0M603.7 505.5h0M454.5 537.6h0M439.6 543.1h0M480.6 535.4h0M507.0 541.5h0M482.5 535.6h0M483.8 557.4h0M554.8 543.5h0M491.2 533.2h0M519.8 545.6h0M593.9 511.1h0M539.5 547.0h0M495.0 536.4h0M448.8 550.4h0M579.8 525.4h0M440.6 491.6h0M553.8 537.0h0M447.3 513.8h0M567.3 510.1h0M585.0 517.6h0M585.4 516.0h0M444.9 540.0h0M538.4 543.6h0M557.5 537.9h0M431.2 517.2h0M459.9 504.8h0M469.2 530.9h0M531.7 551.4h0M540.1 551.2h0M579.3 524.9h0M554.6 519.5h0M476.4 534.0h0M569.3 534.2h0M435.1 501.8h0M597.6 509.6h0M454.7 541.3h0M528.4 492.9h0M551.4 543.5h0M607.9 506.1h0M620.3 497.0h0M551.6 538.7h0M478.3 500.2h0M448.8 530.3h0M484.4 515.4h0M441.5 526.3h0M480.3 533.7h0M453.6 525.9h0M431.8 503.9h0M452.2 555.4h0M502.5 546.8h0M561.4 535.6h0M524.1 529.9h0M563.0 530.8h0M527.7 546.8h0M482.0 509.4h0M457.8 551.0h0M535.4 550.0h0M430.8 553.1h0M609.4 503.4h0M501.2 540.2h0M589.4 516.1h0M456.0 536.1h0M450.2 526.7h0M489.5 517.1h0M443.0 526.6h0M490.1 435.2h0M587.2 519.6h0M485.0 548.4h0M481.1 540.0h0M542.8 536.0h0M505.1 554.9h0M447.9 525.2h0M461.1 535.4h0M475.4 539.4h0M427.6 543.0h0M463.6 531.9h0M614.4 501.2h0M578.4 524.7h0M431.8 548.4h0M461.2 549.1h0M483.8 522.7h0M490.4 558.6h0M427.1 554.8h0M479.5 541.2h0M481.7 546.1h0M460.4 483.4h0M438.9 555.0h0M531.8 551.7h0M487.4 552.3h0M601.3 507.2h0M453.3 540.6h0M541.1 527.6h0M449.1 556.1h0M443.1 539.8h0M470.8 555.4h0M446.4 452.6h0M499.0 534.2h0M570.8 525.1h0M442.7 547.5h0M459.9 534.0h0M520.1 546.3h0M575.6 528.4h0M510.2 533.0h0M556.0 538.2h0M510.7 547.6h0M456.2 509.8h0M471.8 518.7h0M535.3 549.9h0M442.7 554.7h0M537.1 533.7h0M597.6 508.6h0M614.4 499.3h0M446.8 553.1h0M442.1 523.4h0M442.8 515.2h0M531.3 552.7h0M424.9 536.6h0M486.5 558.4h0M543.4 549.6h0M592.9 517.4h0M533.9 550.0h0M490.4 503.9h0M454.5 550.2h0M564.6 535.0h0M449.9 552.7h0M503.2 528.2h0M529.8 555.0h0M500.8 531.0h0M590.6 515.3h0M450.8 492.6h0M547.8 500.7h0M605.9 505.8h0M462.3 506.3h0M545.2 545.5h0M528.7 558.8h0M599.8 509.9h0M523.0 496.3h0M524.6 551.0h0M437.5 549.7h0M460.3 556.8h0M434.1 521.3h0M526.2 555.3h0M486.1 518.1h0M540.3 544.7h0M430.7 520.1h0M558.5 543.2h0M518.8 555.4h0M565.6 534.3h0M455.1 487.6h0M456.8 552.2h0M521.6 492.6h0M455.5 500.5h0M583.5 520.5h0M468.2 558.9h0M484.1 544.7h0M466.9 556.3h0M532.7 556.7h0M614.7 499.8h0M477.0 508.4h0M440.8 538.3h0M565.6 476.3h0M461.2 548.0h0M478.7 558.8h0M507.9 539.6h0M429.9 542.6h0M431.7 550.4h0M499.3 437.1h0M494.7 535.1h0M458.4 504.1h0M551.8 502.6h0M495.5 540.6h0M556.3 537.4h0M555.7 542.0h0M426.8 557.5h0M472.0 533.3h0M474.5 538.8h0M550.4 485.5h0M515.0 555.9h0M456.8 481.2h0M490.1 542.1h0M532.3 537.2h0M469.4 556.3h0M446.3 554.8h0M537.0 525.2h0M499.6 543.9h0M476.5 516.3h0M549.1 508.1h0M497.2 520.9h0M518.0 542.6h0M535.9 550.2h0M454.7 544.4h0M610.8 500.9h0M491.4 522.8h0M523.1 557.3h0M553.5 548.9h0M470.1 510.8h0M426.9 526.2h0M477.4 498.9h0M480.1 504.7h0M541.1 529.0h0M432.2 529.9h0M556.7 541.8h0M502.0 506.3h0M483.8 535.4h0M428.6 548.1h0M488.6 552.6h0M535.3 528.2h0M474.1 548.3h0M427.8 541.7h0M553.3 512.7h0M608.9 502.0h0M515.6 481.5h0M490.9 550.0h0M551.9 509.0h0M477.9 520.9h0M520.2 524.4h0M447.6 555.5h0M596.3 515.2h0M445.8 558.9h0M458.2 531.1h0M443.1 515.7h0M509.5 504.1h0M510.2 541.4h0M480.9 452.5h0M481.6 558.2h0M452.8 445.9h0M452.6 522.9h0M482.3 553.0h0M531.5 536.9h0M455.5 512.0h0M556.4 536.0h0M467.1 516.5h0M535.6 545.7h0M472.2 534.5h0M440.5 538.3h0M515.9 540.1h0M511.7 551.6h0M495.8 555.2h0M555.1 504.9h0M546.7 425.3h0M463.0 516.5h0M479.7 549.2h0M496.6 386.1h0M534.0 517.8h0M488.5 536.9h0M554.7 541.8h0M447.4 532.3h0M437.5 540.4h0M475.2 512.1h0M443.7 541.2h0M583.4 518.6h0M569.6 529.4h0M464.3 490.2h0M445.7 533.6h0M435.8 496.0h0M479.9 467.6h0M563.9 532.4h0M616.9 496.4h0M495.0 543.2h0M468.9 550.4h0M488.4 547.7h0M610.1 502.1h0M452.0 509.3h0M449.3 484.2h0M469.3 554.2h0M496.6 440.4h0M532.5 495.7h0M476.5 539.9h0M565.9 535.9h0M557.8 537.9h0M553.3 539.8h0M436.5 554.6h0M451.7 429.9h0M480.6 525.4h0M514.8 531.1h0M428.5 551.4h0M532.0 521.2h0M553.8 537.4h0M435.6 545.3h0M514.7 556.8h0M551.6 542.6h0M493.1 534.0h0M499.3 512.6h0M580.4 522.5h0M456.4 493.9h0M474.4 477.7h0M605.7 503.0h0M443.4 557.7h0M458.5 537.3h0M453.5 553.7h0M524.4 531.9h0M593.6 514.0h0M461.6 528.4h0M552.0 542.7h0M446.5 499.0h0M475.7 529.6h0M575.9 523.8h0M465.3 558.7h0M541.4 543.5h0M454.4 448.2h0M499.3 531.4h0M555.2 540.9h0M541.0 455.6h0M548.5 547.1h0M478.4 526.6h0M556.7 537.6h0M533.4 551.5h0M431.1 552.1h0M512.5 435.1h0M550.8 540.8h0M443.2 549.9h0M499.6 548.0h0M578.0 527.9h0M497.7 452.6h0M453.2 534.1h0M609.1 504.0h0M583.7 520.0h0M523.9 544.3h0M464.3 557.8h0M457.1 554.7h0M449.8 541.5h0M451.7 553.8h0M538.7 549.1h0M537.7 550.4h0M504.8 536.1h0M527.3 551.8h0M568.1 554.9h0M554.3 543.6h0M478.9 526.7h0M431.5 557.6h0M427.9 525.8h0M427.6 537.4h0M550.9 513.1h0M578.7 526.1h0M512.7 525.6h0M502.1 520.8h0M497.3 558.8h0M440.1 534.6h0M540.4 517.1h0M489.4 509.2h0M556.8 511.1h0M438.5 555.4h0M491.0 424.8h0M591.2 513.8h0M439.9 549.2h0M433.0 557.1h0M598.0 509.6h0M488.2 546.9h0M554.9 542.4h0M450.3 553.5h0M456.6 511.3h0M585.5 518.1h0M589.4 515.2h0M493.9 545.0h0M485.7 531.9h0M509.0 540.0h0M585.6 516.7h0M560.5 533.5h0M510.9 548.8h0M451.9 556.7h0M443.8 526.7h0M515.6 554.8h0M506.7 550.2h0M608.0 500.6h0M450.5 538.8h0M485.4 547.4h0M621.5 490.6h0M453.1 456.9h0M426.8 557.8h0M613.5 497.4h0M434.7 547.0h0M466.1 547.9h0M526.4 541.9h0M440.0 555.5h0M513.5 492.2h0M536.5 552.3h0M460.9 544.5h0M520.9 550.0h0M583.3 520.4h0M503.9 532.1h0M463.0 557.5h0M530.1 451.8h0M471.2 552.9h0M484.7 553.9h0M491.9 551.9h0M549.3 542.5h0M523.5 494.8h0M472.3 539.4h0M478.5 537.8h0M459.4 531.9h0M472.8 525.3h0M576.8 523.9h0M509.1 514.3h0M536.5 531.1h0M485.2 496.0h0M517.9 519.9h0M496.1 530.9h0M441.6 516.3h0M426.4 556.9h0M620.4 493.8h0M468.5 515.2h0M464.2 558.9h0M534.6 546.7h0M436.7 514.8h0M438.7 513.1h0M583.7 522.5h0M484.0 525.2h0M506.2 554.2h0M525.0 537.5h0M442.7 551.8h0M461.0 518.7h0M478.7 518.8h0M531.2 541.6h0M523.2 523.7h0M433.6 519.1h0M504.5 534.8h0M455.9 557.0h0M619.4 497.2h0M444.8 532.5h0M443.3 553.4h0M595.8 512.7h0M539.0 534.3h0M576.9 528.3h0M490.7 547.1h0M533.1 548.9h0M519.1 546.0h0M498.6 534.0h0M451.9 520.3h0M514.6 529.7h0M583.4 522.4h0M454.1 554.6h0M553.1 541.1h0M535.9 538.1h0M563.0 534.0h0M612.2 501.3h0M451.0 439.8h0M443.1 523.4h0M518.9 538.6h0M427.1 532.8h0M561.8 531.4h0M480.9 538.5h0M455.1 546.8h0M449.3 558.0h0M618.7 495.1h0M539.9 516.2h0M540.8 529.6h0M437.1 558.3h0M476.7 538.7h0M448.9 434.0h0M548.5 502.8h0M486.8 555.8h0M441.1 534.0h0M560.0 537.3h0M500.5 491.6h0M484.1 556.1h0M450.6 549.8h0M566.9 533.8h0M498.6 552.8h0M438.8 556.6h0M489.1 550.2h0M487.8 546.2h0M518.9 526.1h0M444.7 550.1h0M537.7 554.0h0M433.5 528.4h0M443.1 502.5h0M474.7 551.8h0M564.9 534.7h0M523.9 546.4h0M512.3 532.9h0M468.3 458.7h0M454.6 535.8h0M482.4 508.1h0M584.1 518.6h0M542.0 481.7h0M487.0 557.6h0M504.7 544.1h0M575.5 525.7h0M541.6 534.3h0M452.1 546.2h0M483.4 549.2h0M442.6 546.9h0M488.8 444.4h0M581.0 522.6h0M437.0 546.4h0M481.6 555.2h0M492.2 447.1h0M433.0 558.9h0M468.8 525.0h0M432.4 505.7h0M473.8 530.0h0M566.8 529.6h0M499.3 537.9h0M618.9 496.6h0M493.3 536.4h0M526.3 495.2h0M587.5 521.7h0M530.1 524.5h0M431.0 510.0h0M472.4 530.2h0M533.2 526.8h0M439.5 554.0h0M498.4 534.8h0M471.6 546.9h0M524.2 546.6h0M568.2 471.5h0M525.5 497.6h0M442.1 553.0h0M478.3 450.1h0M455.5 511.7h0M550.2 485.0h0M476.1 533.6h0M454.0 548.2h0M547.9 538.3h0M478.6 425.5h0M508.2 498.0h0M452.7 554.1h0M471.2 518.3h0M423.6 549.7h0M555.2 513.9h0M547.8 497.2h0M430.0 535.7h0M563.8 529.3h0M434.1 518.6h0M620.2 496.1h0M474.4 557.8h0M557.3 542.0h0M458.9 495.4h0M472.7 550.3h0M477.5 523.9h0M479.6 524.7h0M470.7 517.5h0M525.5 536.9h0M609.3 503.8h0M524.3 534.6h0M568.5 529.0h0M577.4 526.3h0M481.5 556.2h0M430.0 552.7h0M574.6 526.8h0M543.3 543.2h0M475.7 556.3h0M485.5 552.4h0M536.7 494.2h0M586.2 521.9h0M619.8 493.0h0M455.4 528.3h0M430.9 538.7h0M572.7 527.5h0M466.4 513.3h0M478.8 478.6h0M446.4 544.4h0M427.1 555.8h0M545.1 545.8h0M473.5 494.9h0M462.1 557.1h0M505.3 545.0h0M472.2 529.2h0M616.3 500.0h0M492.4 537.7h0M495.1 507.4h0M507.0 552.4h0M618.3 497.1h0M443.5 555.7h0M545.6 462.4h0M559.8 535.7h0M477.7 545.8h0M592.2 513.9h0M516.3 557.6h0M557.3 489.2h0M432.4 548.8h0M430.5 514.7h0M469.1 555.5h0M548.6 540.7h0M468.6 529.7h0M491.3 497.4h0M544.4 542.5h0M497.6 447.1h0M498.4 537.4h0M483.5 525.5h0M497.9 534.5h0M467.9 543.0h0M431.5 555.3h0M560.1 515.5h0M497.5 521.0h0M481.7 489.6h0M427.3 552.5h0M463.6 535.6h0M425.9 546.0h0M461.6 535.5h0M439.4 552.3h0M556.4 550.3h0M440.8 534.6h0M457.7 556.6h0M470.9 548.8h0M466.8 510.1h0M453.8 461.5h0M469.5 541.6h0M543.9 547.5h0M508.5 488.4h0M442.8 530.8h0M547.2 546.0h0M619.9 496.9h0M459.6 550.0h0M450.3 551.7h0M500.1 527.6h0M455.9 545.2h0M606.5 503.4h0M436.6 555.6h0M587.8 518.3h0M464.6 544.4h0M548.7 541.3h0M501.4 549.6h0M496.4 549.6h0M511.8 543.0h0M457.9 537.7h0M542.6 546.3h0M535.7 548.9h0M449.7 540.8h0M461.9 549.8h0M462.7 520.8h0M458.1 551.6h0M517.5 519.1h0M450.6 440.6h0M443.1 469.4h0M567.1 527.4h0M542.6 550.9h0M535.5 531.1h0M549.9 493.4h0M436.1 548.4h0M442.5 557.8h0M517.9 541.7h0M551.6 342.9h0M490.8 549.9h0M434.8 548.3h0M434.8 517.0h0M461.4 543.5h0M430.9 550.4h0M512.5 546.4h0M561.2 533.4h0M462.9 546.7h0M557.7 539.6h0M582.8 521.4h0M536.4 506.7h0M594.1 512.3h0M469.5 474.7h0M452.7 490.5h0M436.1 549.4h0M426.8 542.2h0M475.0 553.6h0M432.8 525.1h0M475.6 550.3h0M462.8 537.4h0M445.5 539.9h0M453.8 542.2h0M442.8 484.9h0M446.6 485.3h0M480.8 474.1h0M555.3 536.0h0M585.2 517.5h0M584.2 523.3h0M495.0 529.7h0M543.3 546.6h0M458.4 493.2h0M499.9 521.6h0M515.7 527.3h0M434.0 487.1h0M518.3 506.6h0M568.5 527.1h0M477.8 538.1h0M444.4 558.3h0M493.4 553.7h0M453.6 544.7h0M506.9 552.1h0M603.4 506.6h0M460.9 534.1h0M536.5 445.6h0M603.9 508.5h0M439.3 555.6h0M517.5 543.7h0M509.1 528.7h0M469.1 348.3h0M439.1 533.8h0M507.2 513.0h0M477.7 547.6h0M485.3 523.1h0M592.2 518.4h0M448.9 557.3h0M579.5 523.7h0M503.2 550.4h0M538.1 548.9h0M460.8 556.1h0M426.5 534.7h0M577.7 526.0h0M453.9 506.5h0M575.2 526.7h0M561.8 529.8h0M435.1 548.0h0M500.8 432.9h0M442.0 558.4h0M436.9 514.9h0M457.0 552.8h0M592.0 515.7h0M516.2 524.9h0M442.0 506.9h0M562.3 472.9h0M523.9 548.9h0M482.4 552.7h0M511.3 531.6h0M446.7 539.6h0M597.0 513.5h0M433.5 536.3h0M433.3 552.7h0M572.5 533.3h0M599.6 513.5h0M427.4 553.8h0M565.9 538.1h0M479.6 541.7h0M502.9 478.4h0M440.0 550.9h0M450.9 492.9h0M613.5 499.8h0M553.3 547.3h0M555.2 495.9h0M562.4 532.0h0M467.2 549.1h0M561.0 538.8h0M545.5 524.7h0M567.7 534.9h0M488.8 535.9h0M445.3 536.3h0M603.4 504.2h0M435.0 545.3h0M479.0 547.9h0M444.7 548.9h0M532.8 553.5h0M453.4 553.6h0M539.7 549.3h0M430.3 523.5h0M577.8 523.7h0M455.5 510.4h0M479.8 520.0h0M532.1 549.4h0M606.4 507.8h0M483.6 555.8h0M498.1 493.6h0M523.7 546.5h0M515.5 541.5h0M529.7 543.2h0M437.2 556.5h0M445.3 556.7h0M496.1 552.8h0M543.6 551.0h0M465.2 504.3h0M476.9 556.0h0M492.5 552.1h0M537.8 547.8h0M471.1 557.8h0M486.3 537.4h0M476.7 526.2h0M564.7 536.4h0M488.0 553.6h0M429.4 554.4h0M489.5 517.8h0M533.9 554.0h0M585.5 520.1h0M539.7 517.4h0M491.1 557.1h0M461.5 512.3h0M449.7 472.2h0M533.2 545.4h0M456.6 553.8h0M490.9 519.4h0M553.7 536.8h0M621.3 495.4h0M438.7 528.9h0M473.5 462.2h0M458.9 551.6h0M449.9 539.4h0M496.4 545.8h0M447.9 553.3h0M591.2 518.2h0M490.2 552.3h0M572.1 524.4h0M494.0 558.5h0M531.6 547.8h0M501.3 543.1h0M489.8 555.9h0M523.2 552.7h0M451.8 557.9h0M463.9 493.1h0M505.3 478.8h0M424.1 552.1h0M492.2 552.6h0M515.9 558.5h0M577.0 528.2h0M604.6 506.3h0M527.5 486.6h0M442.0 539.6h0M504.1 500.9h0M503.0 442.0h0M458.8 540.5h0M561.5 534.3h0M433.6 555.0h0M436.1 516.0h0M489.6 540.4h0M427.2 544.5h0M429.6 557.3h0M470.4 537.5h0M475.0 530.7h0M458.4 547.5h0M457.0 550.5h0M557.0 537.1h0M597.0 508.4h0M583.0 519.8h0M578.4 522.2h0M449.1 555.8h0M502.1 529.1h0M425.9 533.8h0M461.5 538.9h0M424.9 549.6h0M575.6 525.5h0M434.4 524.7h0M519.4 513.6h0M443.7 555.6h0M557.2 513.8h0M456.8 490.8h0M457.7 553.1h0M525.1 534.9h0M445.5 520.0h0M458.0 557.1h0M524.2 543.1h0M611.2 501.3h0M480.6 558.9h0M427.4 548.9h0M512.7 551.6h0M513.7 494.5h0M453.3 551.5h0M514.4 543.0h0M581.9 524.7h0M431.7 514.1h0M526.7 546.3h0M477.2 551.1h0M437.5 547.5h0M455.0 453.5h0M617.1 498.7h0M444.5 542.8h0M481.7 535.9h0M501.9 548.0h0M546.0 546.5h0M437.7 536.1h0M526.9 533.2h0M501.5 532.1h0M508.7 524.5h0M487.1 488.1h0M463.7 555.1h0M493.0 518.8h0M468.7 556.6h0M515.4 526.0h0M523.1 554.8h0M443.7 457.0h0M576.9 524.5h0M480.6 558.8h0M473.7 540.4h0M494.2 492.2h0M476.6 550.9h0M440.5 524.6h0M553.4 541.6h0M464.0 549.4h0M527.4 550.0h0M612.1 498.1h0M538.0 552.1h0M503.5 525.0h0M616.6 497.6h0M502.8 549.9h0M485.3 503.4h0M446.3 557.8h0M430.4 547.8h0M451.4 554.7h0M477.6 491.9h0M539.0 555.6h0M510.8 493.3h0M456.7 555.7h0M430.2 513.6h0M507.3 542.6h0M581.6 521.5h0M458.9 557.8h0M460.0 527.1h0M429.8 532.6h0M547.1 481.0h0M449.8 503.6h0M534.6 549.8h0M495.4 544.1h0M513.1 520.4h0M536.3 555.9h0M583.4 517.1h0M489.7 511.8h0M531.9 556.0h0M575.8 397.1h0M456.7 500.1h0M527.6 557.0h0M445.3 519.0h0M443.4 543.9h0M540.3 491.9h0M554.4 537.3h0M580.5 523.7h0M477.4 552.6h0M483.0 521.3h0M430.6 554.5h0M460.3 551.5h0M576.2 526.0h0M534.9 499.1h0M491.6 537.6h0M484.4 549.6h0M505.3 557.8h0M493.7 528.5h0M513.5 544.9h0M473.7 503.4h0M493.0 540.0h0M431.5 538.0h0M472.8 547.9h0M490.4 552.0h0M491.4 540.8h0M561.9 532.4h0M540.8 552.9h0M547.6 541.8h0M467.0 550.6h0M542.9 544.8h0M495.8 510.3h0M430.6 554.7h0M451.2 554.3h0M493.5 540.7h0M534.4 545.8h0M615.1 501.1h0M613.0 498.1h0M458.3 549.1h0M561.0 504.2h0M440.1 532.7h0M497.6 533.9h0M586.6 521.7h0M461.5 530.0h0M431.6 557.6h0M558.0 302.2h0M434.6 555.1h0M431.2 536.5h0M504.4 535.3h0M597.1 514.5h0M454.6 558.1h0M532.3 498.0h0M437.8 538.4h0M488.2 558.0h0M465.5 540.1h0M431.6 532.6h0M511.6 464.0h0M556.7 504.1h0M497.8 540.7h0M470.5 529.3h0M473.0 525.0h0M523.6 546.8h0M589.4 517.9h0M438.3 517.6h0M442.0 540.0h0M469.9 553.0h0M501.4 513.6h0M441.1 556.1h0M542.1 547.5h0M500.7 522.2h0M611.9 499.8h0M620.8 493.0h0M550.8 546.4h0M466.8 483.4h0M531.8 530.5h0M457.0 557.7h0M561.3 535.4h0M483.3 545.8h0M500.5 555.2h0M437.9 490.7h0M435.6 547.2h0M446.0 557.8h0M467.1 550.9h0M449.7 526.0h0M587.6 516.4h0M455.5 556.1h0M507.7 511.1h0M465.2 557.0h0M512.7 555.4h0M449.0 509.3h0M544.3 512.3h0M457.4 544.6h0M442.5 557.2h0M468.4 516.8h0M465.0 533.3h0M570.0 527.9h0M520.3 544.9h0M581.0 523.0h0M499.1 512.7h0M540.2 517.1h0M484.7 551.4h0M424.8 534.7h0M459.5 556.7h0M541.6 543.8h0M545.9 543.0h0M442.1 551.0h0M467.2 534.4h0M532.6 549.6h0M616.1 496.9h0M440.2 554.8h0M446.3 499.6h0M441.6 557.0h0M514.2 544.5h0M502.0 544.2h0M517.8 529.1h0M572.1 527.4h0M464.3 504.8h0M439.0 506.6h0M507.3 538.9h0M514.5 554.5h0M504.9 519.7h0M484.0 540.4h0M441.3 538.0h0M469.5 535.7h0M490.3 545.5h0M469.8 446.9h0M453.7 549.4h0M442.3 504.8h0M606.0 502.9h0M614.4 497.7h0M442.6 529.7h0M462.7 538.4h0M567.2 493.4h0M444.6 541.1h0M545.7 542.0h0M448.6 501.8h0M455.6 533.0h0M509.7 547.0h0M487.9 475.5h0M431.8 544.4h0M452.1 558.6h0M520.0 545.9h0M510.0 523.7h0M495.1 545.9h0M491.8 552.7h0M543.6 545.8h0M545.5 512.4h0M498.2 545.1h0M608.5 500.6h0M612.6 499.9h0M599.6 510.5h0M465.5 542.1h0M540.4 542.9h0M602.5 509.9h0M519.3 557.1h0M476.1 554.7h0M559.6 549.8h0M489.4 549.0h0M562.7 532.3h0M438.1 529.5h0M592.2 516.0h0M457.2 540.6h0M480.7 519.3h0M448.7 512.4h0M451.2 548.7h0M514.9 531.6h0M467.6 556.9h0M595.8 514.4h0M531.9 553.1h0M496.8 539.7h0M586.8 517.6h0M427.4 550.5h0M455.1 556.3h0M543.6 548.4h0M483.9 497.5h0M584.7 520.5h0M429.4 554.2h0M476.1 518.3h0M506.7 543.7h0M455.6 461.6h0M531.4 549.7h0M436.6 542.8h0M549.5 508.8h0M459.2 550.3h0M576.2 524.5h0M452.8 548.9h0M550.8 536.2h0M503.8 557.3h0M563.7 532.3h0M471.6 518.5h0M450.3 507.5h0M476.5 549.9h0M512.8 526.4h0M553.5 544.8h0M429.9 543.7h0M537.9 546.9h0M481.9 555.7h0M542.8 548.9h0M470.8 530.1h0M568.5 449.9h0M590.9 513.0h0M455.2 530.4h0M494.0 481.4h0M484.3 546.2h0M451.9 525.7h0M430.3 540.9h0M614.0 496.4h0M611.1 500.3h0M439.9 528.1h0M471.7 544.9h0M493.2 532.3h0M524.9 491.4h0M495.4 550.3h0M434.2 523.6h0M455.9 556.2h0M455.8 508.2h0M494.7 544.5h0M460.0 475.6h0M437.6 552.9h0M466.7 532.2h0M481.8 502.7h0M582.6 517.9h0M470.6 436.6h0M557.1 539.9h0M546.0 549.5h0M609.3 501.4h0M533.3 546.9h0M459.0 506.8h0M458.7 500.7h0M455.9 541.3h0M458.5 432.7h0M439.7 533.0h0M487.5 518.1h0M524.8 547.6h0M509.9 557.9h0M541.2 513.6h0M501.3 544.8h0M551.6 300.2h0M481.2 557.0h0M506.5 533.7h0M571.2 526.0h0M497.6 549.3h0M461.3 553.4h0M511.3 538.5h0M538.4 546.0h0M460.1 548.4h0M546.8 543.6h0M556.7 542.5h0M499.1 492.8h0M505.6 534.0h0M457.5 551.3h0M440.8 556.1h0M587.1 520.9h0M438.1 526.8h0M523.9 467.0h0M432.6 542.0h0M466.5 550.8h0M431.1 547.2h0M554.7 536.1h0M538.5 517.4h0M455.3 541.0h0M578.4 526.2h0M426.1 555.8h0M519.9 539.8h0M600.2 508.2h0M427.6 552.2h0M486.7 546.5h0M428.8 510.6h0M504.7 526.0h0M441.1 553.0h0M546.0 549.1h0M430.1 543.8h0M457.4 538.0h0M468.7 548.7h0M543.4 543.5h0M610.0 500.5h0M544.9 549.4h0M456.6 555.6h0M530.5 511.7h0M473.9 533.1h0M448.3 542.5h0M507.2 501.4h0M462.6 515.7h0M430.1 551.3h0M472.2 550.5h0M511.5 539.8h0M472.7 535.0h0M431.3 555.9h0M601.4 508.4h0M500.7 516.9h0M511.1 542.6h0M450.9 545.1h0M500.0 511.0h0M537.7 545.3h0M510.9 454.6h0M506.1 550.1h0M542.9 543.8h0M440.6 513.6h0M483.2 536.9h0M440.1 499.8h0M566.6 498.1h0M533.5 528.2h0M455.5 554.5h0M457.9 534.8h0M566.3 528.1h0M436.3 503.7h0M439.3 551.0h0M437.5 525.5h0M502.1 530.1h0M437.8 532.2h0M433.3 556.7h0M494.4 557.8h0M587.3 521.7h0M492.6 558.7h0M534.6 492.9h0M466.0 536.7h0M492.7 494.8h0M532.6 552.5h0M469.3 554.9h0M425.3 549.7h0M486.8 539.0h0M596.7 512.8h0M581.7 521.2h0M436.5 557.2h0M532.9 540.3h0M503.2 553.7h0M434.5 552.9h0M546.5 518.7h0M536.3 491.4h0M466.1 494.9h0M613.0 499.2h0M582.7 517.9h0M521.6 506.2h0M498.2 507.2h0M455.3 544.3h0M544.5 544.9h0M612.1 503.2h0M482.8 424.2h0M606.1 504.4h0M571.9 466.9h0M604.5 507.1h0M541.6 528.3h0M437.5 554.7h0M540.6 533.7h0M584.9 519.7h0M535.4 553.3h0M516.9 519.3h0M478.2 515.7h0M470.8 553.2h0M544.5 519.4h0M557.7 442.1h0M493.5 497.9h0M566.8 533.8h0M484.6 557.2h0M482.6 545.6h0M557.4 532.3h0M457.0 511.5h0M582.9 520.5h0M470.1 551.7h0M534.5 545.5h0M554.9 541.0h0M535.6 546.3h0M453.3 555.3h0M562.2 507.7h0M476.9 451.7h0M574.8 527.1h0M428.4 551.8h0M503.3 540.3h0M502.0 531.6h0M463.5 505.9h0M463.3 480.9h0M555.5 455.6h0M619.5 494.4h0M479.9 541.8h0M485.4 534.8h0M495.5 491.8h0M459.4 420.7h0M445.3 525.3h0M433.1 537.5h0M427.7 556.1h0M571.8 524.6h0M464.5 549.6h0M517.3 558.6h0M437.9 500.0h0M537.2 549.7h0M539.3 549.0h0M594.1 512.9h0M468.5 555.0h0M534.2 514.4h0M462.0 527.3h0M603.2 506.3h0M477.5 504.8h0M507.4 538.1h0M451.0 538.4h0M434.1 495.5h0M539.9 527.1h0M503.1 536.2h0M576.1 525.5h0M487.4 554.6h0M508.1 509.8h0M442.9 539.3h0M463.0 540.5h0M473.5 530.4h0M500.8 448.1h0M434.7 556.6h0M615.7 498.0h0M439.8 552.2h0M468.7 529.5h0M454.1 539.7h0M454.8 558.0h0M440.3 522.2h0M529.6 554.4h0M502.2 552.9h0M528.9 503.6h0M534.2 546.8h0M590.8 518.5h0M551.3 538.6h0M500.2 552.3h0M598.2 512.3h0M480.6 527.5h0M615.3 500.3h0M473.5 496.9h0M455.8 532.7h0M466.6 533.0h0M555.9 537.2h0M428.2 539.9h0M520.9 519.4h0M494.1 509.8h0M488.4 451.3h0M464.2 553.3h0M505.2 526.7h0M557.8 540.7h0M506.8 524.4h0M456.6 525.4h0M442.7 539.8h0M498.8 557.0h0M567.5 526.6h0M448.0 542.2h0M431.0 530.6h0M438.2 537.5h0M443.1 463.3h0M506.6 548.6h0M428.3 540.9h0M469.4 552.3h0M584.6 523.5h0M440.5 434.3h0M489.8 533.9h0M525.1 534.4h0M486.5 542.7h0M478.2 547.2h0M466.9 541.5h0M500.5 493.4h0M589.3 520.7h0M494.4 523.0h0M525.6 532.2h0M473.0 543.9h0M483.4 540.2h0M571.1 528.3h0M449.5 537.2h0M455.3 538.8h0M494.3 474.5h0M497.9 542.4h0M578.5 528.3h0M497.4 410.9h0M486.0 548.5h0M517.2 548.9h0M589.0 516.5h0M599.0 513.4h0M445.1 546.4h0M544.3 549.9h0M456.5 489.4h0M562.8 495.4h0M540.8 542.4h0M548.8 541.5h0M461.9 553.3h0M598.9 510.9h0M475.4 501.3h0M502.4 514.1h0M492.3 493.1h0M445.4 552.4h0M508.6 492.2h0M480.8 498.4h0M563.2 532.2h0M486.2 510.9h0M455.6 534.7h0M569.7 525.6h0M474.2 491.0h0M530.9 507.5h0M465.6 498.7h0M507.2 557.8h0M490.1 512.3h0M549.5 548.0h0M437.1 558.5h0M514.0 550.7h0M564.8 531.8h0M437.4 556.5h0M554.3 521.2h0M483.0 533.2h0M504.0 507.5h0M481.2 549.9h0M447.7 546.1h0M596.5 512.8h0M465.9 531.2h0M455.0 541.8h0M544.2 528.3h0M600.7 505.6h0M429.6 557.8h0M438.8 543.0h0M522.6 484.9h0M556.7 536.9h0M443.7 531.2h0M443.2 556.1h0M603.4 508.7h0M453.3 553.6h0M476.2 498.9h0M441.9 532.6h0M452.5 554.2h0M432.6 519.6h0M538.5 546.7h0M446.3 554.2h0M466.8 546.6h0M450.5 480.1h0M448.5 546.8h0M444.9 541.5h0M468.4 515.0h0M500.3 544.9h0M544.1 491.4h0M475.0 547.0h0M519.9 201.9h0M555.6 539.9h0M498.3 459.5h0M596.9 512.3h0M562.2 532.4h0M456.8 545.8h0M469.3 551.6h0M515.2 536.4h0M468.8 550.2h0M481.9 544.6h0M463.1 549.0h0M453.2 496.0h0M443.6 490.7h0M455.1 548.5h0M436.0 500.9h0M471.1 524.1h0M541.9 534.8h0M479.9 452.5h0M472.0 547.6h0M580.8 520.2h0M579.8 525.0h0M503.9 524.7h0M434.6 538.1h0M604.6 506.6h0M472.3 554.2h0M492.2 462.4h0M485.6 527.8h0M525.2 554.4h0M573.4 525.2h0M440.2 536.0h0M447.0 554.9h0M429.8 558.4h0M580.8 525.8h0M452.7 493.1h0M450.2 530.5h0M444.2 549.0h0M424.2 548.5h0M575.2 523.2h0M503.4 556.5h0M469.9 556.0h0M512.2 469.9h0M531.4 449.7h0M550.6 538.9h0M427.5 535.1h0M502.5 551.3h0M469.3 543.9h0M472.6 472.9h0M451.5 558.7h0M589.8 518.9h0M481.2 515.2h0M448.9 499.5h0M542.2 526.2h0M468.2 506.6h0M543.4 519.9h0M587.5 515.5h0M479.9 543.4h0M478.8 542.9h0M444.6 462.6h0M519.4 550.8h0M444.8 540.4h0M562.0 535.2h0M499.9 550.3h0M501.7 554.3h0M458.6 531.8h0M489.9 494.5h0M471.6 537.9h0M555.2 540.3h0M482.4 542.3h0M554.6 504.0h0M550.2 537.3h0M506.6 547.8h0M438.3 547.6h0M466.1 500.9h0M568.1 526.7h0M473.1 496.3h0M446.2 555.8h0M513.0 555.0h0M450.2 453.2h0M461.2 556.9h0M509.7 488.0h0M594.2 514.8h0M540.2 545.1h0M449.8 535.7h0M476.8 550.4h0M607.1 505.0h0M503.2 525.0h0M491.6 539.7h0M458.0 545.8h0M480.8 443.2h0M550.5 539.2h0M441.4 543.0h0M525.9 508.2h0M494.4 552.9h0M457.2 544.4h0M438.5 556.3h0M458.0 479.7h0M428.0 535.0h0M480.8 552.9h0M454.8 516.9h0M562.5 539.5h0M475.7 544.4h0M577.8 527.0h0M598.1 510.7h0M512.0 542.6h0M428.7 548.6h0M551.2 545.2h0M425.2 548.0h0M445.9 546.0h0M547.5 546.9h0M470.8 476.0h0M430.0 520.2h0M460.5 510.0h0M478.3 542.6h0M478.3 495.3h0M511.4 459.9h0M545.8 547.0h0M435.5 519.2h0M439.8 533.3h0M446.2 552.5h0M537.5 536.6h0M498.7 525.4h0M464.7 529.4h0M531.6 547.5h0M443.2 548.1h0M517.3 517.4h0M531.1 512.4h0M533.5 462.1h0M560.2 535.3h0M523.3 526.3h0M493.5 556.1h0M505.0 549.4h0M466.0 551.5h0M557.6 418.9h0M460.1 536.4h0M465.0 557.0h0M466.3 535.8h0M496.7 508.7h0M456.3 493.4h0M567.9 532.1h0M462.7 547.3h0M471.9 532.5h0M511.4 488.8h0M452.1 538.2h0M554.7 542.8h0M500.9 549.0h0M462.1 434.8h0M453.4 543.7h0M488.6 558.6h0M486.1 557.9h0M544.1 541.9h0M445.1 554.4h0M497.5 552.8h0M542.9 551.6h0M456.0 533.5h0M524.0 536.5h0M459.8 527.5h0M540.9 489.8h0M453.3 541.9h0M495.4 545.2h0M533.0 492.5h0M480.6 531.6h0M595.8 509.4h0M532.9 494.1h0M547.1 546.4h0M587.2 417.4h0M476.0 558.6h0M550.1 544.8h0M445.6 553.7h0M544.5 542.5h0M534.9 546.3h0M486.1 556.3h0M531.5 508.9h0M581.1 525.3h0M446.4 544.9h0M605.3 508.1h0M557.5 542.2h0M453.5 540.1h0M458.6 533.6h0M489.2 555.4h0M433.0 480.6h0M450.9 552.5h0M445.2 497.2h0M512.2 544.2h0M534.7 547.0h0M431.4 533.2h0M594.6 513.4h0M518.5 501.7h0M473.0 506.3h0M475.5 460.7h0M427.4 554.7h0M428.1 539.4h0M466.0 456.6h0M464.5 492.6h0M575.6 527.3h0M546.8 545.7h0M466.3 545.3h0M464.0 544.8h0M457.0 514.9h0M434.1 556.4h0M574.9 524.5h0M440.7 558.9h0M559.2 533.5h0M464.8 490.5h0M425.2 544.9h0M476.8 545.5h0M515.4 540.6h0M507.7 549.1h0M616.2 499.0h0M467.7 556.0h0M460.3 499.6h0M523.8 556.6h0M516.5 455.8h0M484.0 458.1h0M452.0 513.5h0M558.3 541.8h0M513.7 557.3h0M503.8 525.2h0M485.0 453.4h0M553.6 541.1h0M463.6 523.3h0M474.0 535.6h0M496.0 451.4h0M456.3 535.8h0M459.7 542.2h0M478.6 421.7h0M453.4 558.0h0M458.5 548.8h0M445.2 556.9h0M530.1 494.6h0M476.0 524.1h0M526.4 538.2h0M477.9 523.9h0M468.3 524.5h0M549.1 473.3h0M551.6 269.7h0M459.4 541.9h0M599.0 507.5h0M453.1 546.3h0M435.6 540.9h0M455.7 545.1h0M456.2 537.8h0M499.7 470.4h0M484.7 498.5h0M427.9 537.0h0M473.6 506.9h0M533.7 546.0h0M531.3 551.1h0M536.5 552.6h0M452.4 534.4h0M551.1 545.6h0M455.1 536.0h0M507.1 551.3h0M555.7 536.2h0M481.4 497.5h0M515.7 499.4h0M534.5 523.6h0M617.0 494.7h0M509.6 554.6h0M491.2 523.6h0M535.2 550.9h0M529.5 505.8h0M522.7 557.5h0M559.5 540.2h0M466.0 528.5h0M548.5 539.1h0M445.1 552.5h0M472.5 540.4h0M487.0 517.5h0M443.2 548.9h0M465.0 545.4h0M455.6 467.9h0M483.7 550.0h0M483.8 558.6h0M447.1 555.5h0M497.9 500.6h0M505.9 540.9h0M460.7 521.6h0M602.6 510.9h0M583.9 524.7h0M434.1 552.4h0M553.1 539.2h0M482.8 548.5h0M550.6 541.6h0M547.5 539.6h0M619.2 493.9h0M501.7 521.7h0M551.8 492.6h0M433.5 551.0h0M461.1 544.3h0M470.6 554.7h0M459.7 546.8h0M481.1 552.3h0M503.4 532.9h0M425.3 552.1h0M489.4 430.2h0M467.6 551.3h0M564.2 537.1h0M493.5 533.2h0M556.4 544.1h0M486.6 549.2h0M516.8 558.4h0M454.7 463.5h0M441.6 512.0h0M474.4 526.6h0M515.7 557.5h0M599.9 513.0h0M445.7 493.3h0M477.0 524.8h0M511.1 494.1h0M461.3 450.3h0M440.4 474.3h0M542.5 547.6h0M432.5 547.7h0M524.2 440.1h0M589.7 514.4h0M507.6 557.0h0M486.1 557.8h0M517.6 554.8h0M494.2 479.0h0M592.0 512.3h0M603.8 505.2h0M447.0 544.2h0M517.3 549.5h0M437.2 533.8h0M449.4 459.6h0M429.9 554.0h0M483.6 558.2h0M487.3 545.6h0M432.1 546.2h0M596.3 515.3h0M426.4 556.9h0M499.4 550.3h0M488.1 558.5h0M507.5 526.4h0M482.9 519.4h0M612.2 499.0h0M529.4 526.2h0M494.4 493.7h0M537.3 551.6h0M549.6 543.2h0M592.1 512.0h0M427.3 552.6h0M462.0 490.8h0M611.3 501.8h0M582.9 522.5h0M568.6 530.3h0M434.7 557.1h0M497.7 510.9h0M497.8 523.1h0M573.0 527.2h0M430.7 554.6h0M465.7 555.9h0M426.3 552.0h0M443.4 556.1h0M475.9 546.4h0M434.5 554.3h0M487.9 443.0h0M523.9 543.4h0M540.6 544.0h0M507.0 501.1h0M533.7 552.4h0M458.0 553.2h0M447.5 543.3h0M437.8 510.3h0M589.8 517.8h0M440.5 535.5h0M441.5 549.1h0M463.7 555.8h0M468.4 556.9h0M582.9 521.2h0M496.7 538.8h0M486.6 518.0h0M447.0 548.1h0M525.9 544.4h0M466.7 551.6h0M612.5 497.9h0M462.0 535.6h0M610.3 501.4h0M501.1 542.6h0M494.0 558.7h0M516.8 550.2h0M550.5 537.4h0M479.0 538.5h0M432.3 496.1h0M547.4 524.4h0M478.1 543.0h0M482.4 481.7h0M434.3 503.8h0M612.7 501.6h0M489.5 555.5h0M503.5 461.1h0M512.7 477.5h0M535.1 529.0h0M448.0 503.6h0M610.0 433.0h0M511.1 517.5h0M433.6 550.0h0M535.2 520.0h0M469.6 523.2h0M553.7 543.0h0M549.5 518.0h0M505.6 507.2h0M495.5 511.5h0M446.7 531.2h0M444.6 556.6h0M516.4 552.3h0M452.8 487.4h0M550.6 539.0h0M427.6 536.2h0M477.1 430.6h0M512.5 550.3h0M552.2 540.1h0M426.4 543.1h0M549.7 544.6h0M500.5 554.8h0M437.9 525.0h0M452.4 549.2h0M497.3 490.3h0M467.7 514.9h0M472.2 508.6h0M472.2 528.0h0M609.6 504.5h0M444.1 550.4h0M537.2 528.5h0M440.5 513.1h0M565.8 531.0h0M620.4 496.8h0M454.9 557.0h0M555.2 544.0h0M440.5 550.9h0M514.0 554.9h0M499.8 508.0h0M449.3 551.2h0M470.9 548.3h0M528.0 548.6h0M470.5 519.4h0M582.1 526.3h0M446.8 516.1h0M430.4 557.6h0M452.8 538.8h0M465.5 525.4h0M432.5 523.7h0M452.9 556.9h0M521.2 492.4h0M489.1 552.6h0M526.3 557.3h0M488.7 553.5h0M539.1 550.6h0M434.2 520.3h0M516.8 551.9h0M594.2 511.3h0M536.5 555.9h0M611.1 504.2h0M486.9 525.7h0M555.1 541.5h0M479.7 472.4h0M528.6 484.9h0M559.2 522.6h0M444.4 546.3h0M463.9 529.3h0M563.4 507.9h0M508.2 498.6h0M560.8 539.9h0M436.2 556.4h0M435.3 537.0h0M464.0 502.6h0M561.6 531.2h0M469.1 487.8h0M499.7 505.3h0M483.7 413.9h0M450.1 455.4h0M485.3 556.0h0M548.7 504.0h0M535.8 552.8h0M443.2 528.9h0M474.8 513.6h0M513.3 551.6h0M455.5 550.9h0M454.9 520.7h0M480.5 509.3h0M430.8 538.3h0M440.2 538.0h0M464.4 519.3h0M470.0 552.0h0M444.8 545.6h0M598.7 510.1h0M561.3 533.3h0M469.1 519.1h0M579.2 519.9h0M443.7 537.6h0M428.0 532.6h0M510.9 536.1h0M473.2 541.2h0M515.1 558.8h0M542.8 517.1h0M542.7 549.9h0M554.8 487.8h0M486.5 555.2h0M611.6 502.4h0M468.5 536.2h0M450.0 546.1h0M434.6 520.5h0M434.0 556.5h0M463.3 536.8h0M492.7 552.3h0M491.5 551.5h0M524.0 552.6h0M520.7 552.1h0M531.5 546.5h0M462.1 540.3h0M520.8 546.5h0M575.9 525.3h0M432.6 552.0h0M507.1 553.6h0M583.8 521.7h0M536.7 528.1h0M463.8 531.5h0M516.5 520.4h0M498.4 486.4h0M500.6 531.4h0M489.4 536.8h0M450.1 531.7h0M432.5 523.3h0M558.0 536.1h0M448.1 479.1h0M427.6 521.2h0M427.6 549.7h0M512.0 536.5h0M449.3 530.7h0M533.9 547.3h0M467.3 549.8h0M489.6 530.3h0M443.6 553.8h0M495.1 554.0h0M590.2 519.9h0M451.1 509.8h0M460.6 427.5h0M562.7 535.8h0M449.2 555.0h0M444.3 548.3h0M431.1 518.0h0M439.9 517.0h0M454.0 446.7h0M611.8 500.6h0M436.1 526.6h0M539.8 551.1h0M512.6 481.3h0M491.5 530.8h0M559.4 532.9h0M453.9 536.7h0M494.9 540.6h0M544.5 481.5h0M497.8 548.5h0M461.6 542.8h0M559.6 533.5h0M463.7 535.3h0M436.3 543.3h0M589.0 519.7h0M534.0 553.8h0M466.0 516.3h0M454.3 522.7h0M560.2 544.1h0M458.6 545.6h0M490.4 540.3h0M502.3 503.6h0M577.2 524.8h0M460.5 537.4h0M529.0 538.9h0M563.8 530.1h0M556.8 523.7h0M449.8 529.0h0M539.4 545.4h0M461.1 499.1h0M508.0 554.6h0M536.8 550.0h0M552.3 544.7h0M598.4 514.5h0M584.3 522.6h0M456.3 470.8h0M497.9 543.1h0M542.3 518.7h0M490.0 532.8h0M526.4 434.1h0M594.7 512.5h0M429.5 552.7h0M458.2 557.7h0M599.7 512.1h0M439.8 554.7h0M433.7 546.9h0M500.5 556.6h0M562.5 531.9h0M520.8 531.1h0M451.9 511.7h0M472.7 518.2h0M460.3 533.3h0M558.2 538.8h0M538.5 545.7h0M513.2 471.3h0M519.9 511.0h0M515.2 515.8h0M461.4 524.5h0M452.1 543.7h0M461.5 518.0h0M529.8 529.7h0M507.2 515.5h0M463.7 536.9h0M460.9 547.6h0M589.1 515.4h0M487.8 549.3h0M474.1 497.0h0M443.6 552.3h0M541.2 507.3h0M435.5 521.2h0M458.4 556.9h0M482.9 495.6h0M486.7 522.2h0M438.9 543.8h0M487.9 555.9h0M435.6 553.0h0M558.9 537.7h0M439.5 526.0h0M479.1 534.2h0M488.3 550.6h0M596.6 514.4h0M442.2 524.0h0M477.9 549.1h0M445.6 551.0h0M549.4 537.7h0M492.6 530.0h0M477.8 545.0h0M502.7 477.9h0M500.1 554.6h0M499.6 557.7h0M483.0 309.0h0M544.4 543.0h0M571.6 530.5h0M521.4 556.4h0M568.6 528.3h0M441.7 554.5h0M435.2 550.0h0M488.8 478.4h0M505.4 509.2h0M577.0 353.7h0M621.2 493.7h0M545.1 544.7h0M441.4 543.0h0M468.3 505.1h0M439.6 540.4h0M458.9 525.9h0M613.6 500.9h0M463.4 523.5h0M503.2 551.9h0M531.4 552.2h0M592.9 513.3h0M506.1 546.5h0M425.8 548.9h0M460.3 544.9h0M501.1 507.9h0M503.7 550.8h0M532.6 535.9h0M515.1 460.9h0M464.9 556.2h0M570.6 528.0h0M541.4 545.6h0M465.1 527.5h0M587.1 518.9h0M519.7 552.5h0M509.1 555.3h0M438.3 448.4h0M436.9 550.0h0M475.0 486.1h0M597.4 510.0h0M481.8 545.4h0M454.9 536.2h0M483.3 537.5h0M459.5 554.7h0M568.7 533.4h0M446.4 528.9h0M510.4 436.4h0M483.9 523.7h0M476.1 533.2h0M577.9 526.9h0M522.7 535.4h0M507.0 544.7h0M526.5 556.6h0M496.7 555.8h0M512.0 507.0h0M476.1 554.8h0M538.0 473.4h0M485.4 550.3h0M567.5 535.8h0M539.9 548.9h0M556.0 524.2h0M469.4 538.3h0M475.3 555.1h0M458.6 545.4h0M436.5 558.6h0M499.4 520.7h0M480.6 542.0h0M563.8 538.5h0M516.4 551.1h0M441.8 527.9h0M453.7 495.5h0M490.4 555.3h0M470.8 545.0h0M603.5 507.2h0M442.2 531.1h0M454.8 538.5h0M519.2 410.4h0M551.5 488.9h0M434.5 552.4h0M443.5 554.1h0M436.7 506.6h0M466.0 539.1h0M607.3 506.0h0M520.4 553.2h0M437.2 541.5h0M561.4 536.5h0M429.0 518.1h0M452.1 512.6h0M595.7 509.4h0M499.0 505.6h0M566.7 534.9h0M612.8 500.2h0M554.1 498.2h0M533.0 553.0h0M512.6 544.0h0M436.4 541.3h0M592.3 459.4h0M426.7 527.6h0M546.1 549.8h0M431.4 528.7h0M448.0 517.5h0M516.3 558.8h0M532.1 554.4h0M424.8 554.8h0M497.8 531.7h0M574.0 523.5h0M579.3 518.8h0M476.7 553.8h0M480.0 541.0h0M480.9 525.5h0M496.0 552.8h0M492.2 525.4h0M536.4 545.6h0M432.9 555.9h0M427.5 552.0h0M467.1 536.8h0M501.4 485.6h0M480.1 517.2h0M565.2 529.5h0M435.4 534.1h0M509.1 511.1h0M433.6 537.5h0M505.8 553.1h0M440.9 432.6h0M482.7 534.5h0M511.0 532.4h0M451.1 501.1h0M504.7 544.1h0M505.0 540.8h0M566.2 533.7h0M498.1 435.4h0M471.9 535.8h0M450.7 544.7h0M444.9 485.2h0M461.7 553.9h0M462.3 531.5h0M509.2 555.0h0M445.3 526.7h0M437.9 546.4h0M531.5 525.3h0M524.9 525.9h0M476.4 544.0h0M596.9 509.8h0M567.3 532.5h0M561.3 537.7h0M467.1 553.8h0M581.4 522.3h0M483.8 482.5h0M463.5 518.9h0M515.2 503.2h0M501.0 558.6h0M451.0 505.7h0M461.9 537.6h0M586.0 519.3h0M542.3 550.3h0M591.6 517.0h0M526.2 524.7h0M471.6 527.3h0M445.8 538.0h0M579.4 520.7h0M590.2 517.2h0M538.2 546.1h0M475.7 473.7h0M437.6 558.8h0M517.8 510.3h0M433.2 558.0h0M429.3 556.8h0M560.1 539.1h0M599.9 508.8h0M471.4 557.2h0M448.9 530.2h0M498.1 521.5h0M548.1 529.2h0M459.1 450.4h0M603.6 504.6h0M450.8 527.1h0M504.0 525.9h0M619.8 496.5h0M451.6 550.4h0M541.7 543.9h0M457.2 557.3h0M563.8 534.8h0M557.2 503.6h0M607.9 506.1h0M572.7 524.4h0M450.2 553.1h0M492.5 500.8h0" fill="none" stroke="#FF963A" stroke-width="4.6" stroke-linecap="round" opacity="0.62"/>
<path d="M458.5 551.6h0M438.9 482.6h0M541.6 548.4h0M478.2 554.7h0M566.8 529.2h0M514.4 557.8h0M460.5 522.7h0M514.8 243.3h0M443.0 541.0h0M471.3 532.8h0M435.6 534.9h0M470.7 524.1h0M496.9 549.9h0M596.7 509.8h0M451.4 546.8h0M469.7 519.5h0M483.9 537.2h0M516.8 529.5h0M546.1 557.7h0M606.3 504.5h0M492.7 501.4h0M507.4 546.5h0M447.0 534.5h0M557.6 533.4h0M456.8 552.8h0M542.9 548.3h0M520.8 538.0h0M437.0 558.7h0M583.2 523.3h0M486.6 555.1h0M467.6 520.8h0M492.0 537.4h0M516.1 548.9h0M500.2 551.4h0M523.5 553.3h0M502.5 511.3h0M455.3 547.0h0M451.0 533.5h0M475.9 463.8h0M495.4 544.1h0M489.7 548.1h0M453.2 549.8h0M430.7 557.2h0M582.0 519.0h0M565.9 529.7h0M593.2 512.8h0M484.6 539.7h0M513.3 523.2h0M604.5 506.3h0M443.1 556.5h0M430.5 521.5h0M618.9 492.6h0M440.1 524.8h0M424.1 544.5h0M443.0 530.8h0M439.8 541.7h0M509.8 516.8h0M436.1 540.1h0M490.7 495.0h0M598.6 510.3h0M585.2 522.0h0M448.2 551.8h0M451.6 524.6h0M441.1 552.1h0M516.8 545.8h0M444.6 531.0h0M589.0 515.2h0M497.9 554.9h0M468.3 494.2h0M479.3 548.3h0M461.8 517.5h0M534.7 556.5h0M613.5 500.9h0M530.8 532.3h0M568.3 461.9h0M424.9 554.7h0M499.3 542.9h0M557.5 535.8h0M489.2 532.9h0M590.5 514.4h0M515.9 552.1h0M456.0 552.5h0M542.5 549.0h0M615.5 498.4h0M439.1 538.3h0M474.8 521.2h0M515.0 528.3h0M475.8 538.4h0M486.5 549.8h0M561.4 537.2h0M522.1 520.7h0M497.0 555.6h0M442.6 556.3h0M510.2 558.2h0M469.7 553.1h0M469.6 526.5h0M506.1 554.4h0M482.0 554.6h0M482.1 545.4h0M482.6 530.8h0M526.1 520.1h0M459.0 542.4h0M572.7 532.0h0M472.8 535.3h0M440.4 547.3h0M513.6 548.1h0M492.8 557.1h0M429.5 558.4h0M427.6 548.8h0M462.1 541.8h0M476.2 553.9h0M514.4 544.9h0M510.7 541.1h0M563.0 539.2h0M488.3 484.9h0M442.3 515.0h0M491.8 427.2h0M435.5 525.1h0M555.6 513.3h0M528.3 461.5h0M532.9 547.6h0M537.5 547.8h0M558.7 539.4h0M470.9 545.1h0M454.1 545.1h0M591.4 517.3h0M475.5 554.8h0M482.4 551.4h0M510.9 556.7h0M499.2 496.8h0M435.4 543.2h0M431.7 546.8h0M501.1 550.6h0M569.8 534.0h0M524.7 548.8h0M458.1 494.7h0M436.1 537.4h0M537.4 554.9h0M509.8 549.2h0M467.4 557.7h0M463.9 557.2h0M527.5 510.7h0M459.3 546.9h0M483.3 538.5h0M455.9 518.6h0M562.5 537.1h0M549.5 503.9h0M451.4 530.3h0M497.8 553.2h0M432.4 543.7h0M488.1 491.8h0M437.0 543.2h0M424.4 537.3h0M530.9 497.7h0M438.0 531.7h0M492.2 554.2h0M461.2 556.0h0M465.0 535.3h0M509.7 546.4h0M444.6 548.5h0M449.9 538.7h0M428.7 549.1h0M526.6 548.8h0M426.3 557.3h0M431.8 548.1h0M475.8 553.0h0M600.2 511.2h0M473.5 543.4h0M448.3 527.3h0M437.2 548.5h0M553.4 509.7h0M474.7 554.1h0M458.9 554.0h0M442.9 543.3h0M434.9 558.4h0M486.8 518.7h0M545.6 513.6h0M524.3 544.9h0M446.8 509.1h0M557.3 538.9h0M469.5 542.8h0M453.5 476.0h0M489.9 537.0h0M493.5 507.4h0M455.7 528.5h0M474.3 535.2h0M450.0 554.2h0M588.7 516.1h0M599.7 509.6h0M429.8 538.0h0M463.2 536.1h0M568.6 529.1h0M442.1 505.7h0M435.5 544.7h0M468.5 550.5h0M617.0 498.3h0M438.8 553.9h0M427.4 551.1h0M444.1 538.9h0M450.8 501.8h0M505.7 474.6h0M461.2 485.3h0M508.2 515.4h0M442.1 542.7h0M502.2 547.1h0M436.2 519.8h0M429.2 505.3h0M515.7 534.8h0M589.6 520.0h0M541.6 543.0h0M441.4 553.9h0M498.9 499.0h0M456.9 472.6h0M434.4 529.8h0M547.4 542.7h0M468.6 533.1h0M482.9 552.9h0M616.4 500.0h0M514.0 551.6h0M449.1 558.5h0M472.3 500.1h0M476.2 553.8h0M493.1 489.4h0M434.6 537.6h0M455.8 499.2h0M466.2 558.2h0M552.7 544.3h0M590.6 517.6h0M603.1 512.1h0M571.0 528.1h0M489.6 519.4h0M488.0 431.5h0M457.8 504.1h0M498.2 558.3h0M482.1 528.1h0M510.2 510.4h0M563.9 533.5h0M561.8 535.4h0M438.7 440.0h0M549.3 539.0h0M617.4 498.1h0M549.5 546.9h0M448.1 517.0h0M450.3 537.6h0M510.2 557.4h0M432.8 543.2h0M431.8 492.6h0M519.6 550.8h0M473.4 485.0h0M490.7 548.3h0M522.9 451.9h0M571.5 532.8h0M499.6 515.4h0M479.1 558.4h0M519.2 544.7h0M486.1 486.7h0M551.7 539.0h0M493.6 531.3h0M605.8 504.7h0M618.9 496.7h0M459.5 548.3h0M563.6 532.4h0M575.7 522.8h0M435.2 552.8h0M594.0 515.1h0M436.0 547.5h0M565.2 528.9h0M437.8 459.1h0M532.4 547.0h0M461.1 539.8h0M463.5 443.8h0M440.1 513.1h0M444.0 548.8h0M432.7 551.4h0M439.2 539.9h0M429.4 554.9h0M481.3 502.7h0M609.4 503.2h0M555.5 537.8h0M507.6 553.4h0M481.2 546.6h0M471.8 553.1h0M446.6 517.7h0M584.1 521.1h0M528.4 532.9h0M568.5 529.4h0M591.9 514.5h0M488.3 537.1h0M463.4 510.7h0M438.3 518.2h0M460.0 543.4h0M619.8 494.5h0M494.8 483.3h0M569.1 533.5h0M454.8 534.8h0M537.3 523.9h0M455.2 558.8h0M497.1 514.2h0M505.8 549.1h0M442.8 509.7h0M467.6 551.8h0M597.7 512.5h0M430.5 531.5h0M463.7 534.2h0M438.4 536.6h0M514.6 503.1h0M597.3 511.2h0M545.3 548.2h0M568.8 532.2h0M495.6 488.8h0M593.5 511.0h0M595.1 512.2h0M503.0 548.1h0M448.0 546.5h0M608.4 500.4h0M463.4 549.4h0M482.8 550.3h0M478.3 538.1h0M481.2 529.8h0M469.0 519.6h0M599.3 511.0h0M468.7 550.0h0M506.2 542.8h0M515.8 459.7h0M516.6 522.1h0M508.3 528.6h0M601.7 506.6h0M518.7 452.1h0M496.2 554.9h0M528.3 548.3h0M449.1 552.8h0M483.4 467.6h0M552.4 543.3h0M595.7 513.6h0M448.7 516.0h0M525.3 502.6h0M429.2 524.2h0M488.4 537.7h0M473.9 449.7h0M441.2 542.7h0M449.0 493.9h0M448.9 457.1h0M476.6 553.8h0M619.4 494.5h0M456.6 483.5h0M452.5 517.4h0M595.8 514.9h0M522.2 524.1h0M530.3 512.0h0M453.0 556.0h0M486.4 503.6h0M531.5 488.3h0M446.8 556.6h0M443.8 536.5h0M481.0 541.6h0M587.2 513.8h0M505.4 551.9h0M459.6 558.6h0M439.7 525.4h0M454.3 555.0h0M462.6 537.5h0M527.0 534.9h0M506.6 538.4h0M540.6 510.6h0M442.7 543.5h0M584.0 517.9h0M535.4 555.6h0M602.6 507.9h0M467.1 549.3h0M522.6 554.0h0M579.6 433.7h0M460.9 515.8h0M514.1 536.1h0M434.0 558.6h0M495.0 546.6h0M435.3 551.1h0M458.3 528.1h0M481.3 495.3h0M436.2 557.0h0M521.7 551.4h0M524.2 537.0h0M550.8 553.4h0M491.8 494.1h0M448.2 557.3h0M535.8 518.3h0M459.4 553.7h0M479.2 542.8h0M458.7 557.0h0M498.5 486.9h0M588.5 518.6h0M576.7 527.3h0M514.1 549.5h0M479.5 552.1h0M497.5 528.4h0M492.1 509.0h0M538.4 552.0h0M487.1 508.0h0M476.1 532.9h0M613.8 498.2h0M447.9 557.1h0M465.7 548.5h0M474.2 540.2h0M472.3 484.0h0M547.1 537.6h0M517.5 507.2h0M438.3 545.2h0M443.1 521.4h0M540.6 551.5h0M474.7 525.1h0M451.5 478.7h0M426.4 558.5h0M439.6 556.5h0M524.8 480.8h0M483.7 554.0h0M457.0 547.2h0M478.1 524.5h0M481.1 533.4h0M604.1 507.2h0M532.6 545.8h0M437.3 533.6h0M479.5 531.0h0M480.4 519.4h0M432.2 542.0h0M620.6 492.5h0M459.9 549.7h0M437.3 543.8h0M424.5 534.9h0M494.6 526.9h0M425.3 557.7h0M551.4 545.5h0M486.3 546.7h0M523.2 524.4h0M437.8 525.5h0M500.6 470.4h0M533.2 553.5h0M497.3 467.4h0M465.1 550.2h0M449.2 496.5h0M563.9 534.7h0M495.4 527.5h0M617.6 497.4h0M438.6 538.6h0M489.8 535.4h0M440.8 556.3h0M535.0 503.7h0M587.0 519.2h0M500.8 551.9h0M485.5 531.5h0M567.3 498.8h0M431.0 558.7h0M449.8 558.3h0M516.7 539.6h0M509.2 553.0h0M576.7 521.0h0M542.0 548.1h0M495.1 557.9h0M440.4 470.5h0M532.0 553.0h0M591.5 515.2h0M477.8 533.7h0M582.1 520.6h0M564.4 526.1h0M462.6 514.2h0M452.2 479.3h0M507.5 494.0h0M491.4 502.1h0M461.3 536.0h0M532.6 553.2h0M433.4 535.7h0M438.3 548.4h0M511.1 556.8h0M608.4 505.3h0M529.8 521.8h0M439.2 527.7h0M447.7 530.2h0M436.8 522.8h0M498.6 555.3h0M597.8 507.7h0M522.9 505.2h0M619.2 494.1h0M599.3 507.8h0M551.0 545.0h0M574.6 523.2h0M533.0 466.9h0M552.8 554.5h0M526.4 501.1h0M539.0 484.1h0M463.7 534.6h0M505.9 540.6h0M597.1 512.9h0M528.6 487.7h0M448.3 526.8h0M540.9 477.1h0M445.2 556.7h0M458.0 532.1h0M435.6 530.7h0M541.5 547.6h0M439.0 538.2h0M462.6 487.8h0M582.8 523.5h0M612.8 499.8h0M483.4 559.0h0M440.2 443.8h0M450.2 523.7h0M555.9 535.5h0M551.3 545.2h0M453.4 533.9h0M451.1 539.9h0M441.0 558.4h0M517.6 554.0h0M509.8 474.4h0M484.6 533.7h0M482.9 514.6h0M534.6 545.3h0M441.9 492.6h0M451.2 504.9h0M433.1 505.1h0M464.4 498.6h0M437.0 546.4h0M531.4 556.4h0M489.7 558.1h0M436.2 483.3h0M457.4 494.0h0M542.6 494.7h0M489.9 523.4h0M445.9 544.5h0M506.3 538.1h0M448.7 458.2h0M559.8 522.3h0M499.8 519.0h0M427.5 519.1h0M540.8 532.2h0M476.8 511.6h0M473.7 419.9h0M435.1 554.3h0M614.9 501.9h0M545.3 547.1h0M436.7 537.4h0M578.2 520.7h0M425.2 545.3h0M605.9 508.4h0M475.3 533.8h0M525.4 551.8h0M424.4 547.4h0M533.2 538.6h0M496.5 550.5h0M598.4 512.0h0M438.5 553.2h0M431.8 519.6h0M549.6 464.7h0M449.5 517.8h0M578.0 524.0h0M566.8 534.7h0M475.9 548.6h0M459.1 467.7h0M487.8 532.8h0M509.0 542.8h0M438.0 545.4h0M608.6 500.5h0M503.1 527.8h0M539.3 549.3h0M460.1 541.4h0M544.9 525.7h0M558.2 533.9h0M609.4 501.8h0M556.4 540.3h0M435.5 484.6h0M455.3 552.9h0M541.0 542.8h0M497.3 480.7h0M499.2 546.6h0M565.5 487.1h0M478.9 549.5h0M527.6 517.5h0M487.8 537.6h0M606.7 505.9h0M515.4 553.0h0M474.5 479.7h0M489.7 551.7h0M532.9 550.8h0M541.9 546.1h0M448.2 556.1h0M454.3 546.0h0M556.1 541.3h0M539.1 452.2h0M444.6 516.6h0M561.8 473.1h0M543.4 551.7h0M454.5 498.7h0M528.0 545.2h0M455.1 540.6h0M559.0 555.5h0M454.0 508.0h0M503.9 541.7h0M457.5 549.4h0M475.5 557.7h0M576.5 526.8h0M505.8 450.7h0M472.2 514.1h0M461.4 508.3h0M462.4 547.2h0M434.3 506.4h0M619.9 496.5h0M487.7 470.0h0M544.9 545.9h0M450.6 506.1h0M503.0 551.4h0M482.8 542.4h0M438.7 543.3h0M466.0 519.3h0M452.3 518.7h0M438.1 553.6h0M519.5 520.2h0M498.3 548.3h0M478.3 554.6h0M601.7 512.4h0M454.5 527.6h0M436.8 544.6h0M480.9 556.5h0M543.6 541.9h0M477.0 514.2h0M464.2 542.2h0M494.1 478.5h0M475.6 520.8h0M432.0 557.4h0M520.0 520.0h0M452.0 538.9h0M442.5 537.2h0M589.7 516.2h0M441.9 543.8h0M478.6 558.7h0M440.3 540.6h0M469.9 556.9h0M565.6 531.4h0M436.7 557.0h0M434.5 557.2h0M459.5 552.6h0M536.7 543.1h0M541.1 545.5h0M583.0 518.5h0M459.9 532.6h0M485.5 548.3h0M601.1 509.8h0M428.0 557.2h0M489.5 518.3h0M481.3 486.6h0M503.7 557.6h0M449.4 544.6h0M427.5 554.4h0M589.6 513.3h0M503.2 557.4h0M524.3 551.3h0M562.2 436.1h0M516.7 539.3h0M542.1 544.0h0M488.3 533.9h0M444.8 542.8h0M483.8 505.5h0M587.1 515.1h0M464.1 500.7h0M442.8 519.8h0M488.5 518.4h0M443.9 534.9h0M547.6 546.8h0M544.3 549.6h0M435.9 557.6h0M477.1 496.4h0M449.9 509.8h0M537.4 526.0h0M446.3 555.4h0M476.3 491.9h0M582.5 526.4h0M515.9 539.9h0M426.5 529.5h0M513.8 491.1h0M446.4 545.8h0M526.8 549.6h0M460.7 546.5h0M483.2 552.3h0M569.6 533.1h0M429.0 515.7h0M456.6 540.8h0M435.9 548.2h0M537.7 546.8h0M433.4 531.4h0M435.1 531.1h0M454.1 552.4h0M425.5 543.7h0M507.6 506.2h0M557.2 533.5h0M562.6 538.7h0M618.4 497.6h0M506.4 554.9h0M488.7 531.9h0M489.9 547.2h0M615.3 498.7h0M463.3 521.7h0M432.1 532.2h0M445.1 549.1h0M588.4 515.8h0M544.8 499.4h0M514.4 551.9h0M543.7 519.9h0M509.6 542.7h0M462.2 553.7h0M591.0 519.9h0M598.1 514.2h0M511.8 550.4h0M505.7 424.8h0M447.0 520.1h0M537.7 547.6h0M524.4 557.0h0M481.1 547.4h0M480.0 555.4h0M488.8 546.6h0M541.4 545.5h0M472.2 523.6h0M555.8 533.8h0M435.8 539.5h0M446.8 555.4h0M468.3 510.0h0M443.0 530.2h0M453.2 556.0h0M490.1 494.7h0M583.1 520.7h0M521.2 513.7h0M427.4 527.6h0M438.9 544.8h0M494.9 537.2h0M451.0 549.1h0M545.3 523.1h0M464.2 482.6h0M489.0 557.9h0M491.4 462.8h0M472.4 539.7h0M531.2 525.5h0M436.2 545.3h0M548.4 539.0h0M487.3 522.7h0M492.8 443.3h0M599.7 510.8h0M445.2 557.6h0M546.2 513.2h0M507.0 547.1h0M477.4 522.6h0M521.3 549.5h0M494.4 518.5h0M597.0 509.9h0M559.7 537.3h0M520.9 437.9h0M574.9 527.3h0M586.4 523.0h0M479.5 558.2h0M558.1 536.9h0M465.4 505.5h0M446.3 474.2h0M487.1 533.5h0M573.9 523.6h0M484.9 512.1h0M480.0 535.4h0M577.6 527.3h0M464.2 509.5h0M458.6 554.4h0M498.8 550.3h0M554.1 507.3h0M475.5 532.7h0M444.1 502.6h0M594.0 514.5h0M472.0 462.4h0M437.2 524.7h0M443.2 533.5h0M540.4 512.1h0M462.8 467.9h0M443.4 524.3h0M550.4 543.5h0M475.7 432.4h0M473.5 497.0h0M460.0 558.4h0M489.8 421.6h0M606.6 505.8h0M470.5 520.8h0M555.5 543.1h0M463.7 557.9h0M472.8 529.2h0M497.2 547.7h0M427.8 556.0h0M497.5 467.0h0M464.1 544.8h0M511.4 558.2h0M440.3 486.5h0M512.2 537.1h0M480.7 551.6h0M433.0 541.3h0M564.3 534.8h0M586.3 522.2h0M454.8 520.5h0M428.1 524.2h0M513.0 502.9h0M448.3 552.2h0M450.4 554.0h0M519.2 500.3h0M469.5 550.5h0M478.2 552.8h0M473.9 556.4h0M532.9 523.2h0M489.8 557.7h0M517.5 550.4h0M545.7 533.2h0M485.3 509.4h0M607.7 502.2h0M429.8 556.8h0M451.9 518.6h0M563.7 530.2h0M611.8 502.1h0M524.9 534.1h0M448.9 439.6h0M465.6 529.1h0M513.8 514.4h0M481.3 547.5h0M522.6 500.7h0M455.1 530.0h0M548.8 539.9h0M477.3 554.8h0M610.8 500.5h0M458.8 448.8h0M527.9 511.2h0M458.9 467.3h0M561.8 493.6h0M434.5 530.2h0M490.2 476.6h0M498.8 558.0h0M607.3 505.9h0M450.9 544.3h0M462.9 475.5h0M598.9 509.4h0M504.7 499.4h0M567.8 528.6h0M566.9 498.2h0M511.3 520.7h0M459.3 549.2h0M513.8 550.2h0M551.4 481.6h0M463.0 541.1h0M438.3 544.4h0M527.7 522.8h0M547.7 542.4h0M584.7 516.5h0M528.9 518.1h0M429.8 527.4h0M560.6 547.9h0M480.2 524.1h0M433.3 555.1h0M504.4 553.8h0M567.4 531.2h0M501.8 526.4h0M515.7 530.8h0M533.5 531.8h0M455.2 549.9h0M483.5 549.5h0M509.5 558.3h0M461.3 534.3h0M552.1 548.0h0M460.0 544.3h0M494.8 551.0h0M588.7 519.6h0M490.6 558.7h0M450.9 475.1h0M495.8 546.8h0M611.9 501.5h0M440.8 547.4h0M524.4 510.6h0M605.6 508.4h0M566.8 534.4h0M446.2 480.5h0M426.7 550.6h0M455.8 554.0h0M551.4 542.9h0M585.3 518.9h0M507.0 547.7h0M525.9 527.8h0M594.5 512.4h0M540.8 546.9h0M438.9 544.6h0M426.5 546.4h0M448.6 531.2h0M426.0 555.9h0M437.4 556.3h0M550.5 493.4h0M539.1 552.6h0M458.1 521.9h0M505.3 537.5h0M562.5 534.4h0M606.6 504.6h0M449.6 537.7h0M509.1 506.9h0M441.6 555.3h0M561.8 531.7h0M459.1 554.1h0M598.8 507.9h0M488.1 542.0h0M453.1 470.3h0M455.0 558.5h0M444.3 530.3h0M463.3 533.6h0M615.4 495.8h0M453.1 487.7h0M446.8 520.7h0M476.2 551.3h0M509.1 514.7h0M476.3 543.3h0M450.5 480.9h0M491.0 557.3h0M459.2 521.5h0M551.8 531.8h0M549.5 462.2h0M518.1 552.8h0M502.5 521.2h0M439.1 551.5h0M435.5 547.3h0M489.9 502.4h0M576.6 525.9h0M472.9 499.6h0M536.3 517.5h0M527.3 535.9h0M542.8 533.4h0M458.9 488.2h0M556.5 535.6h0M474.8 522.5h0M478.1 545.6h0M509.7 525.1h0M473.4 473.9h0M535.1 554.6h0M457.6 545.0h0M432.8 553.1h0M467.8 539.7h0M538.5 549.7h0M577.8 526.8h0M463.8 529.1h0M509.3 551.7h0M529.7 540.6h0M460.2 537.4h0M541.8 491.3h0M463.4 553.7h0M538.1 502.5h0M528.4 528.7h0M559.2 357.1h0M520.8 536.3h0M555.8 468.0h0M461.4 550.1h0M486.2 540.4h0M448.2 545.8h0M503.4 504.3h0M518.7 542.3h0M428.3 545.1h0M438.3 543.1h0M453.7 503.2h0M542.3 546.8h0M460.9 554.3h0M481.2 545.1h0M584.5 524.3h0M544.9 547.9h0M470.8 549.0h0M502.0 500.9h0M506.8 490.1h0M488.9 558.5h0M588.1 518.1h0M440.2 552.6h0M472.1 484.5h0M525.5 543.5h0M557.0 467.1h0M534.4 552.3h0M620.7 494.9h0M576.6 522.9h0M556.4 541.2h0M612.4 502.8h0M535.4 553.2h0M444.4 467.2h0M498.1 550.9h0M518.0 534.7h0M460.4 513.2h0M555.3 511.4h0M585.3 522.2h0M433.6 518.2h0M537.7 552.1h0M448.1 514.0h0M508.3 526.6h0M479.1 427.7h0M574.0 531.4h0M512.8 540.4h0M434.5 530.2h0M481.4 541.7h0M545.4 502.8h0M508.2 469.7h0M492.7 552.0h0M468.7 530.1h0M427.5 553.9h0M559.0 536.8h0M550.8 527.2h0M492.6 533.4h0M452.9 543.9h0M471.3 434.7h0M433.4 549.2h0M498.1 494.7h0M588.6 515.2h0M470.7 446.0h0M540.9 553.7h0M519.9 520.8h0M528.1 526.7h0M534.7 541.4h0M527.5 526.2h0M578.8 520.6h0M584.1 520.9h0M497.8 558.1h0M492.5 532.0h0M452.6 522.5h0M461.6 546.9h0M619.0 495.0h0M466.1 541.4h0M498.4 552.4h0M433.4 530.6h0M472.2 553.5h0M483.6 525.6h0M473.3 499.2h0M471.4 551.7h0M563.8 476.8h0M516.1 539.1h0M435.1 528.5h0M435.3 556.3h0M530.1 514.6h0M562.8 529.7h0M465.8 457.1h0M463.8 511.0h0M517.7 475.0h0M443.7 501.7h0M552.6 526.7h0M484.0 544.9h0M483.1 548.8h0M470.1 526.4h0M604.9 504.1h0M480.2 485.0h0M439.2 510.5h0M507.6 520.7h0M480.5 555.0h0M435.4 558.3h0M449.9 535.5h0M588.3 518.4h0M462.1 549.3h0M484.5 528.5h0M532.0 523.8h0M438.1 527.7h0M518.5 460.1h0M427.3 558.9h0M452.7 509.9h0M514.5 556.3h0M470.5 514.4h0M523.0 498.5h0M512.2 549.1h0M543.7 419.3h0M433.4 541.8h0M471.0 525.8h0M552.9 537.7h0M527.4 529.4h0M541.3 544.1h0M454.5 544.7h0M566.3 540.2h0M554.7 541.5h0M476.8 468.7h0M457.3 510.6h0M552.3 542.7h0M426.0 530.7h0M491.6 551.2h0M497.0 520.0h0M458.9 455.6h0M463.9 540.3h0M552.0 537.9h0M492.8 549.5h0M521.4 532.9h0M617.4 497.8h0M448.2 539.6h0M545.7 549.0h0M439.5 551.7h0M465.0 490.2h0M450.2 497.1h0M495.3 517.2h0M541.9 542.2h0M436.4 540.4h0M444.1 542.2h0M566.4 531.9h0M545.6 554.3h0M471.2 551.9h0M480.8 469.6h0M544.1 541.9h0M448.0 540.7h0M485.6 528.4h0M558.1 538.3h0M428.9 541.9h0M442.8 547.2h0M484.5 556.6h0M566.0 529.9h0M476.3 502.3h0M461.6 534.6h0M556.7 537.2h0M564.8 544.1h0M451.1 553.1h0M545.0 509.9h0M490.7 460.3h0M527.5 518.2h0M530.2 534.5h0M590.9 517.0h0M428.4 551.5h0M522.6 488.7h0M425.9 540.0h0M502.2 515.9h0M538.2 534.9h0M441.7 506.6h0M591.4 516.9h0M447.9 518.6h0M460.1 505.0h0M431.7 554.6h0M603.7 506.7h0M486.6 443.6h0M542.6 534.3h0M467.1 481.4h0M464.1 523.0h0M424.7 547.2h0M550.2 493.4h0M467.3 543.5h0M458.9 528.7h0M438.9 550.0h0M555.3 466.0h0M500.0 443.6h0M455.5 520.2h0M522.3 555.2h0M526.5 529.7h0M568.6 533.2h0M429.1 513.2h0M533.1 547.6h0M545.0 547.7h0M433.6 518.8h0M522.6 552.4h0M505.2 534.5h0M501.3 557.0h0M469.3 482.9h0M527.6 552.0h0M586.9 515.1h0M460.5 556.6h0M469.8 545.4h0M446.5 540.4h0M446.4 549.8h0M477.8 553.0h0M464.0 506.1h0M463.1 494.6h0M529.5 540.3h0M493.9 541.0h0M490.7 549.6h0M476.6 548.9h0M522.1 535.1h0M497.5 554.9h0M504.1 520.2h0M525.4 558.6h0M545.7 547.1h0M459.2 485.7h0M532.2 551.5h0M566.7 534.7h0M472.2 436.9h0M504.4 539.2h0M587.1 520.9h0M452.2 552.1h0M561.5 536.5h0M523.8 455.5h0M513.5 546.4h0M532.4 555.5h0M436.1 501.4h0M550.5 539.9h0M468.1 529.4h0M565.6 490.9h0M546.4 541.2h0M478.1 530.9h0M550.1 528.6h0M481.1 555.6h0M452.0 538.9h0M511.6 549.3h0M615.5 498.3h0M596.0 508.2h0M452.0 547.3h0M536.7 522.3h0M509.3 553.3h0M559.3 538.2h0M434.6 538.5h0M439.4 549.5h0M469.9 468.2h0M466.4 523.5h0M480.6 540.9h0M535.5 552.8h0M425.6 549.1h0M458.4 551.4h0M481.2 518.5h0M445.1 544.6h0M486.2 551.5h0M562.0 534.4h0M570.6 529.8h0M528.1 538.3h0M530.1 489.8h0M542.5 511.3h0M472.0 557.1h0M493.2 552.7h0M556.6 510.7h0M467.2 555.1h0M602.6 510.6h0M464.2 531.2h0M605.8 507.0h0M497.2 543.7h0M538.8 553.1h0M516.6 557.7h0M559.8 534.7h0M505.4 461.6h0M516.8 505.6h0M489.8 508.7h0M458.8 498.6h0M536.1 553.7h0M445.1 557.3h0M436.6 557.3h0M482.9 533.3h0M427.0 557.2h0M441.9 558.3h0M473.2 552.0h0M600.4 511.1h0M508.3 548.0h0M477.3 494.3h0M459.8 522.5h0M435.3 541.8h0M458.4 517.3h0M526.3 538.4h0M452.8 534.9h0M422.3 549.2h0M584.9 518.7h0M451.0 546.1h0M541.8 551.0h0M591.3 519.4h0M442.4 543.7h0M483.5 501.2h0M541.5 544.6h0M546.7 538.4h0M522.0 511.2h0M502.6 543.3h0M459.7 524.3h0M527.1 490.7h0M482.6 547.9h0M439.4 517.7h0M511.7 549.5h0M608.2 503.1h0M487.2 555.7h0M533.5 524.9h0M459.0 534.0h0M587.4 519.3h0M537.8 553.6h0M488.3 553.8h0M504.2 487.7h0M560.6 540.1h0M543.3 549.0h0M462.9 504.1h0M543.8 546.2h0M441.3 553.2h0M503.2 537.8h0M549.7 543.7h0M497.3 550.8h0M525.6 521.7h0M590.2 517.8h0M493.6 518.1h0M500.7 553.0h0M505.7 524.8h0M489.9 506.7h0M549.0 514.0h0M425.3 550.6h0M540.5 550.1h0M493.0 509.4h0M474.1 535.4h0M485.5 535.5h0M445.4 541.1h0M609.7 500.8h0M533.1 548.1h0M564.7 537.5h0M537.3 551.4h0M495.6 537.1h0M504.1 529.2h0M482.3 552.9h0M546.0 540.7h0M592.8 515.2h0M461.2 555.1h0M557.8 498.1h0M547.2 541.5h0M516.2 557.6h0M617.8 498.3h0M568.4 528.3h0M464.1 468.1h0M487.8 428.9h0M435.9 551.5h0M481.7 551.1h0M502.2 551.1h0M521.1 497.3h0M452.1 549.2h0M621.0 492.1h0M431.7 528.2h0M482.5 555.4h0M583.3 523.3h0M481.1 554.3h0M443.6 535.9h0M597.1 510.1h0M437.8 548.8h0M612.4 502.4h0M450.1 545.8h0M549.3 538.7h0M444.1 521.0h0M552.5 544.2h0M543.3 533.2h0M537.1 548.0h0M515.5 555.2h0M443.7 558.8h0M457.5 534.8h0M441.1 547.0h0M552.0 543.2h0M555.8 540.8h0M508.9 521.7h0M477.0 526.2h0M489.9 501.4h0M430.3 517.9h0M511.8 449.7h0M507.9 486.5h0M439.7 466.1h0M444.2 485.4h0M463.9 495.2h0M607.6 501.6h0M496.6 556.1h0M499.5 441.0h0M446.6 548.4h0M426.4 546.3h0M484.6 553.7h0M609.1 503.8h0M477.2 511.1h0M474.9 542.3h0M471.8 551.0h0M582.6 518.8h0M497.5 550.5h0M466.1 530.9h0M428.2 553.7h0M430.4 525.8h0M432.8 542.9h0M475.2 556.7h0M476.3 546.1h0M525.5 529.3h0M523.5 524.8h0M569.2 532.5h0M449.8 491.2h0M491.0 505.6h0M447.2 547.1h0M449.5 526.1h0M446.8 485.3h0M466.4 499.3h0M486.3 547.5h0M546.8 538.9h0M527.6 527.2h0M568.6 531.5h0M487.0 542.1h0M466.3 545.1h0M511.6 530.0h0M463.5 535.8h0M508.0 516.5h0M501.3 555.9h0M428.1 538.8h0M488.3 544.7h0M620.5 498.4h0M513.3 480.4h0M613.1 502.5h0M508.6 526.5h0M439.2 530.1h0M568.3 536.0h0M501.2 535.2h0M451.4 541.0h0M446.9 553.5h0M584.5 521.7h0M539.9 542.8h0M491.8 547.3h0M460.2 538.5h0M425.5 529.8h0M537.0 526.5h0M428.8 521.2h0M533.8 524.9h0M503.4 534.9h0M512.7 517.0h0M498.2 553.4h0M467.2 558.6h0M508.7 551.1h0M467.2 496.7h0M471.6 551.0h0M559.9 468.3h0M496.9 546.0h0M504.7 543.0h0M454.7 526.4h0M491.1 504.1h0M576.3 523.3h0M470.7 556.8h0M558.8 534.2h0M495.2 509.3h0M433.8 515.0h0M446.0 542.8h0M571.1 532.6h0M524.0 551.5h0M523.7 547.2h0M611.2 503.4h0M471.4 509.5h0M544.4 526.5h0M511.5 504.1h0M471.6 545.2h0M487.1 540.1h0M582.1 332.7h0M473.2 521.4h0M539.5 558.9h0M577.9 522.7h0M488.3 547.1h0M563.8 492.0h0M488.8 544.7h0M459.9 557.5h0M496.6 556.4h0M455.2 543.4h0M573.0 527.6h0M462.8 554.6h0M440.2 555.3h0M498.4 557.8h0M447.9 539.5h0M441.0 548.2h0M481.4 537.9h0M484.8 548.6h0M582.9 521.8h0M529.6 506.0h0M552.4 544.0h0M577.6 521.3h0M602.4 504.4h0M532.7 552.9h0M476.5 545.0h0M450.6 555.0h0M617.0 500.3h0M491.0 529.0h0M482.5 499.2h0M507.8 537.0h0M427.8 529.9h0M481.9 499.8h0M439.5 531.4h0M516.3 535.2h0M448.7 548.0h0M447.6 544.5h0M480.7 558.5h0M509.7 473.8h0M547.8 508.3h0M516.7 549.6h0M454.8 555.6h0M477.0 549.0h0M443.5 512.3h0M512.2 516.4h0M453.9 524.1h0M483.9 527.0h0M571.0 527.2h0M432.6 538.9h0M526.0 499.1h0M524.6 552.2h0M450.9 516.5h0M579.2 522.3h0M554.3 460.5h0M440.4 506.9h0M447.2 538.7h0M482.5 536.8h0M428.9 558.9h0M505.8 555.3h0M484.3 554.8h0M551.9 544.0h0M426.1 528.5h0M557.3 538.3h0M433.3 498.5h0M543.1 544.8h0M492.2 524.2h0M614.0 500.4h0M564.5 529.7h0M483.2 557.0h0M487.1 525.5h0M535.4 546.0h0M487.5 490.3h0M547.7 545.2h0M598.8 507.5h0M469.6 525.9h0M441.5 523.0h0M471.4 527.9h0M528.8 540.0h0M567.9 526.9h0M568.9 529.4h0M530.3 450.1h0M451.1 552.1h0M426.7 525.5h0M439.5 556.9h0M554.3 518.5h0M462.6 538.2h0M451.9 520.5h0M462.9 458.4h0M503.1 538.2h0M441.8 557.0h0M572.3 529.4h0M436.1 558.5h0M526.9 515.3h0M523.1 547.6h0M444.7 521.2h0M456.1 558.6h0M584.1 521.4h0M424.9 548.9h0M454.6 552.0h0M551.4 541.9h0M506.3 550.2h0M499.0 453.3h0M511.2 531.2h0M546.6 541.2h0M463.9 538.8h0M460.4 551.5h0M428.9 539.5h0M449.3 543.0h0M500.9 552.9h0M479.5 532.0h0M492.7 454.2h0M497.9 555.5h0M452.8 539.4h0M454.3 524.8h0M521.0 522.4h0M491.0 540.9h0M430.1 537.4h0M584.1 520.3h0M439.9 550.6h0M476.3 546.2h0M568.6 526.8h0M519.4 536.3h0M431.1 556.6h0M449.8 531.2h0M455.6 557.5h0M574.4 525.6h0M533.3 552.1h0M494.7 512.1h0M535.8 533.2h0M547.8 546.9h0M454.5 498.9h0M455.1 545.9h0M604.3 503.8h0M543.5 547.3h0M499.5 544.5h0M494.6 489.3h0M601.6 509.8h0M503.6 499.0h0M483.4 523.3h0M460.6 538.3h0M468.7 499.0h0M435.4 555.4h0M468.7 558.6h0M426.8 551.2h0M468.9 465.0h0M459.2 533.5h0M510.5 430.3h0M445.8 517.3h0M464.4 551.5h0M465.7 558.2h0M578.5 527.3h0M464.3 558.1h0M579.4 523.5h0M475.1 454.1h0M487.7 499.1h0M478.6 519.2h0M532.5 475.5h0M509.8 518.7h0M454.1 531.4h0M449.0 517.0h0M478.1 553.6h0M452.6 533.2h0M461.4 542.0h0M449.9 532.7h0M607.4 506.2h0M501.2 558.7h0M620.3 494.9h0M514.9 556.0h0M427.5 558.2h0M532.5 549.0h0M515.8 535.1h0M484.8 526.7h0M503.7 547.9h0M571.8 531.8h0M458.1 558.3h0M508.4 546.2h0M473.7 547.8h0M494.2 557.6h0M523.7 558.0h0M530.0 538.0h0M467.7 495.5h0M513.2 505.4h0M546.4 547.9h0M523.3 518.1h0M501.9 551.2h0M438.3 471.7h0M506.5 529.8h0M579.6 525.3h0M454.4 542.4h0M508.4 549.5h0M515.1 484.0h0M606.7 502.3h0M437.4 538.0h0M444.6 550.8h0M616.2 500.8h0M536.5 546.5h0M436.6 535.4h0M591.2 516.3h0M559.3 534.3h0M495.8 499.3h0M496.0 552.3h0M447.3 546.2h0M583.6 518.7h0M500.9 524.9h0M619.0 497.2h0M480.5 545.8h0M449.7 528.2h0M484.9 518.1h0M475.5 536.9h0M614.1 501.3h0M552.2 543.9h0M485.7 489.7h0M480.7 553.9h0M442.9 542.3h0M477.1 520.4h0M476.5 543.9h0M442.0 474.2h0M596.8 512.4h0M475.0 509.2h0M472.0 528.4h0M466.9 557.6h0M538.0 548.8h0M499.2 530.9h0M466.1 546.0h0M486.3 552.9h0M468.7 544.3h0M429.3 558.9h0M596.9 512.2h0M507.7 542.9h0M531.5 548.1h0M589.3 517.9h0M455.6 536.0h0M587.0 519.1h0M542.3 549.2h0M453.8 555.7h0M437.2 553.0h0M536.0 539.9h0M528.0 434.5h0M536.6 526.2h0M466.3 551.9h0M436.5 558.6h0M444.5 514.1h0M531.6 556.4h0M565.6 527.6h0M451.1 558.7h0M492.7 506.1h0M457.3 529.0h0M476.4 455.8h0M514.9 485.0h0M502.1 516.7h0M477.9 549.6h0M455.4 483.0h0M488.7 484.9h0M546.1 527.4h0M535.7 550.3h0M510.3 467.5h0M451.8 525.0h0M425.0 546.0h0M456.9 554.6h0M479.2 558.6h0M445.7 517.6h0M519.4 527.2h0M451.4 547.4h0M509.3 539.5h0M453.7 556.2h0M595.5 510.6h0M538.8 508.3h0M511.0 544.5h0M485.7 440.1h0M534.2 556.7h0M461.7 544.2h0M588.7 517.8h0M436.0 555.4h0M586.9 517.5h0M494.1 549.9h0M444.0 549.0h0M430.4 558.4h0M565.4 538.2h0M483.9 482.7h0M457.0 553.9h0M544.6 466.7h0M517.4 508.6h0M501.8 534.6h0M430.4 514.7h0M565.4 459.3h0M467.4 536.5h0M474.0 538.8h0M595.9 511.4h0M495.2 544.4h0M549.1 530.5h0M520.7 543.2h0M465.0 497.2h0M476.4 467.2h0M457.0 471.2h0M520.2 558.5h0M599.1 508.4h0M522.1 527.1h0M456.5 555.8h0M461.6 436.4h0M454.7 534.3h0M538.0 553.2h0M448.2 555.1h0M583.9 521.9h0M557.7 533.4h0M466.3 523.6h0M492.4 407.0h0M522.3 558.4h0M449.0 509.6h0M476.5 532.3h0M449.4 478.9h0M462.3 557.1h0M516.0 548.5h0M523.5 557.0h0M544.9 529.9h0M492.7 539.0h0M608.8 502.1h0M428.1 545.0h0M435.9 500.8h0M470.3 525.3h0M546.4 540.9h0M512.9 546.1h0M507.2 470.9h0M568.2 526.6h0M496.5 436.3h0M432.6 536.2h0M534.7 551.3h0M526.2 547.8h0M489.4 538.6h0M440.9 539.9h0M499.7 544.0h0M493.7 534.9h0M473.3 547.0h0M448.2 556.3h0M602.1 509.4h0M545.6 501.2h0M514.9 514.0h0M472.5 538.1h0M431.1 553.6h0M431.1 500.9h0M483.3 531.7h0M518.2 545.5h0M497.9 474.6h0M584.4 520.4h0M536.3 549.0h0M605.5 506.2h0M521.0 558.3h0M488.1 550.0h0M586.6 519.9h0M512.9 556.3h0M525.5 552.4h0M469.1 544.7h0M447.3 547.4h0M489.9 546.9h0M481.2 537.8h0M456.1 553.9h0M552.2 497.9h0M580.0 519.8h0M492.4 555.8h0M467.9 557.2h0M429.2 552.3h0M615.3 498.6h0M526.7 529.8h0M550.4 511.8h0M519.2 556.8h0M504.1 511.4h0M608.8 501.9h0M454.1 456.6h0M510.1 513.1h0M493.9 539.0h0M502.2 555.4h0M440.2 556.2h0M468.1 550.8h0M492.3 531.1h0M567.3 491.8h0M509.9 520.1h0M523.5 553.0h0M537.3 550.6h0M537.7 553.9h0M527.9 545.4h0M431.6 558.1h0M501.7 549.3h0M597.1 511.0h0M444.5 540.3h0M464.0 555.1h0M478.8 517.9h0M531.1 537.6h0M463.5 547.3h0M599.2 510.1h0M597.3 510.5h0M491.7 554.2h0M621.4 495.5h0M460.9 552.2h0M563.8 499.9h0M507.3 534.5h0M524.4 550.8h0M495.2 550.7h0M441.5 533.9h0M467.1 493.9h0M563.5 538.6h0M500.8 542.4h0M429.7 539.8h0M542.1 507.9h0M539.4 544.4h0M557.4 539.5h0M465.2 511.3h0M469.1 523.1h0M443.9 538.2h0M455.0 557.5h0M584.1 517.8h0M437.2 523.9h0M552.3 545.5h0M614.9 501.2h0M462.1 557.3h0M541.7 545.8h0M448.2 536.3h0M517.8 552.0h0M452.3 516.8h0M475.0 557.5h0M522.6 542.1h0M545.9 545.2h0M449.4 528.8h0M465.4 492.9h0M593.1 510.7h0M443.6 551.6h0M534.7 547.0h0M431.5 539.0h0M432.7 555.5h0M534.3 538.7h0M529.9 473.1h0M450.7 525.9h0M537.5 554.4h0M487.4 490.6h0M456.0 459.1h0M564.0 516.5h0M467.1 499.2h0M530.4 531.9h0M516.7 536.2h0M475.1 557.1h0M549.1 492.3h0M553.1 535.2h0M519.5 553.0h0M548.2 519.3h0M512.2 550.1h0M454.4 511.1h0M433.0 553.0h0M550.8 491.4h0M528.1 501.0h0M541.3 542.4h0M487.3 545.8h0M448.2 534.1h0M552.0 545.0h0M602.7 509.3h0M562.1 503.6h0M457.6 507.7h0M563.3 533.0h0M529.0 496.9h0M617.4 497.7h0M425.5 554.9h0M600.1 509.5h0M432.6 557.7h0M574.1 526.5h0M531.9 556.0h0M450.6 533.9h0M479.7 513.5h0M502.7 511.2h0M445.9 556.2h0M424.9 544.1h0M453.7 552.6h0M465.2 516.0h0M529.8 522.7h0M466.0 556.0h0M439.4 508.3h0M520.9 524.1h0M528.1 554.6h0M535.3 521.4h0M442.2 520.4h0M529.1 492.2h0M460.0 524.3h0M519.7 543.2h0M485.8 432.1h0M495.8 518.6h0M450.4 558.2h0M581.6 525.2h0M586.9 515.5h0M454.4 547.3h0M502.1 344.2h0M465.7 542.7h0M435.4 475.7h0M449.9 554.1h0M502.9 486.7h0M485.4 540.7h0M538.1 551.5h0M450.0 537.3h0M467.5 527.8h0M531.6 548.5h0M440.1 526.3h0M604.4 510.2h0M452.2 538.9h0M437.3 513.1h0M456.4 539.6h0M552.1 542.4h0M459.9 556.4h0M445.9 555.3h0M456.4 535.2h0M504.3 519.6h0M440.6 556.0h0M610.0 501.0h0M451.4 554.2h0M461.4 477.3h0M447.2 503.6h0M490.9 541.9h0M463.6 540.0h0M432.5 525.3h0M425.0 537.9h0M533.3 469.1h0M543.7 544.4h0M549.1 539.2h0M474.1 485.4h0M460.3 551.2h0M492.0 554.6h0M548.4 541.3h0M502.1 509.7h0M505.8 542.9h0M457.2 556.7h0M465.9 494.9h0M577.2 527.8h0M484.9 526.3h0M518.4 534.9h0M542.7 542.5h0M471.4 551.4h0M447.9 500.9h0M479.6 498.9h0M491.1 527.7h0M433.6 516.2h0M496.4 552.8h0M479.6 542.0h0M429.4 527.1h0M451.6 556.7h0M539.2 523.1h0M512.3 552.4h0M438.7 529.1h0M437.2 558.1h0M472.3 531.0h0M429.9 556.6h0M449.8 534.2h0M454.9 552.1h0M558.6 535.8h0M500.9 550.8h0M445.4 555.8h0M541.2 422.0h0M490.6 489.6h0M439.5 550.3h0M469.8 549.5h0M512.5 537.3h0M467.4 527.9h0M461.2 550.3h0M496.7 425.5h0M478.7 502.6h0M470.7 556.1h0M522.4 510.5h0M535.5 520.8h0M447.9 537.1h0M495.0 523.8h0M445.9 549.8h0M536.3 538.6h0M605.9 508.5h0M550.8 540.6h0M434.3 494.4h0M616.3 495.7h0M454.4 550.7h0M558.2 537.0h0M603.9 507.5h0M545.9 542.7h0M599.4 510.4h0M540.2 547.9h0M461.8 552.7h0M536.1 554.3h0M480.0 450.3h0M554.1 537.1h0M595.1 515.4h0M453.7 544.0h0M593.0 514.4h0M472.2 539.4h0M536.8 459.3h0M506.4 555.6h0M499.4 452.8h0M446.7 541.8h0M559.5 520.8h0M441.4 523.0h0M467.2 541.7h0M434.7 554.8h0M496.4 427.2h0M488.4 555.6h0M446.1 455.8h0M426.1 551.4h0M531.7 469.8h0M456.5 537.5h0M472.8 535.1h0M509.7 532.6h0M527.5 546.0h0M466.8 558.7h0M454.0 556.6h0M525.0 513.8h0M460.0 542.1h0M440.7 536.7h0M425.8 548.3h0M619.9 493.3h0M499.6 552.5h0M516.8 551.0h0M487.6 533.5h0M455.8 514.9h0M475.8 556.7h0M456.6 555.2h0M457.1 556.9h0M590.6 512.7h0M525.0 531.1h0M561.7 537.1h0M566.1 536.4h0M449.3 539.6h0M432.9 552.7h0M469.1 548.7h0M502.2 505.2h0M455.7 553.4h0M496.9 542.3h0M536.6 552.1h0M563.7 538.1h0M607.6 502.9h0M575.5 530.3h0M493.9 438.2h0M504.2 527.2h0M453.3 554.3h0M492.3 557.8h0M532.7 550.3h0M475.9 483.0h0M453.2 548.1h0M489.6 534.8h0M592.7 515.1h0M453.7 551.2h0M459.3 474.3h0M427.6 554.7h0M506.4 497.3h0M583.0 504.5h0M486.2 539.6h0M546.2 548.2h0M482.4 545.2h0M565.2 516.2h0M577.1 522.8h0M495.5 543.4h0M605.8 502.7h0M425.4 546.0h0M597.9 511.6h0M569.3 527.0h0M442.8 555.9h0M457.5 552.9h0M436.0 552.4h0M518.0 547.3h0M567.5 531.3h0M516.8 535.6h0M482.6 538.8h0M549.3 514.7h0M545.9 548.2h0M518.0 529.6h0M565.5 531.8h0M446.2 517.2h0M450.3 533.2h0M539.7 530.7h0M490.4 502.8h0M474.9 551.7h0M531.4 553.8h0M441.1 500.4h0M589.4 516.7h0M456.3 536.3h0M453.2 558.9h0M489.2 355.5h0M434.9 502.9h0M445.3 530.0h0M567.2 531.5h0M471.8 558.7h0M445.8 507.6h0M561.3 550.6h0M467.5 536.4h0M496.7 499.3h0M451.0 540.1h0M539.9 532.1h0M499.7 524.9h0M470.5 557.7h0M460.7 520.8h0M595.7 516.1h0M541.6 546.4h0M464.9 553.3h0M476.2 512.7h0M506.1 503.4h0M512.0 537.5h0M550.1 546.8h0M513.8 555.4h0M493.5 558.8h0M615.3 498.2h0M446.3 499.4h0M552.4 545.2h0M508.8 554.0h0M559.3 535.0h0M554.7 535.7h0M473.8 554.3h0M466.1 519.3h0M436.8 555.5h0M572.2 531.1h0M550.3 519.3h0M466.8 542.7h0M426.7 557.8h0M441.0 527.4h0M460.6 521.1h0M456.2 526.7h0M484.8 529.6h0M530.1 484.6h0M465.0 543.2h0M447.9 504.1h0M452.3 556.2h0M524.8 510.6h0M436.2 531.9h0M514.9 504.9h0M440.8 533.0h0M452.4 513.0h0M604.3 508.3h0M518.4 462.0h0M571.4 528.3h0M540.8 527.6h0M485.3 486.8h0M478.6 468.5h0M508.9 535.2h0M562.8 533.7h0M506.9 551.1h0M474.2 539.8h0M439.1 506.3h0M488.7 558.9h0M544.3 549.3h0M468.8 553.7h0M447.8 477.8h0M507.2 547.4h0M473.3 539.4h0M526.6 551.5h0M533.5 541.8h0M448.1 491.8h0M588.2 515.5h0M583.8 522.7h0M537.8 546.3h0M486.5 527.2h0M431.4 523.2h0M565.1 508.3h0M545.9 540.6h0M508.4 461.3h0M593.7 511.2h0M527.6 538.3h0M449.4 541.9h0M468.1 539.6h0M456.3 515.7h0M467.8 403.5h0M532.7 551.9h0M488.5 545.2h0M534.0 530.2h0M498.8 528.2h0M532.2 547.7h0M443.8 471.4h0M530.1 544.2h0M457.4 474.4h0M451.1 554.6h0M508.7 522.3h0M533.4 555.6h0M540.2 535.5h0M455.3 513.4h0M441.8 536.2h0M456.9 459.5h0M436.0 525.0h0M489.1 525.2h0M469.9 505.1h0M554.8 520.3h0M543.9 540.6h0M440.4 558.1h0M462.4 543.7h0M462.9 555.9h0M534.4 554.1h0M487.5 546.1h0M527.7 487.1h0M574.5 394.4h0M595.4 513.4h0M513.7 527.0h0M460.0 557.4h0M473.8 532.9h0M594.2 516.8h0M551.4 538.5h0M462.5 509.8h0M505.8 463.0h0M463.7 554.1h0M618.8 494.1h0M428.4 548.5h0M566.4 556.0h0M514.2 467.1h0M434.1 487.1h0M444.5 551.8h0M493.1 552.1h0M441.8 516.6h0M494.7 545.1h0M468.0 558.6h0M456.1 534.6h0M539.7 543.4h0M477.0 556.7h0M556.3 548.7h0M464.8 528.0h0M477.7 431.7h0M489.0 555.8h0M493.9 553.9h0M513.5 532.0h0M460.7 557.7h0M441.6 534.8h0M480.6 548.9h0M432.4 543.6h0M504.9 514.5h0M496.2 538.8h0M437.7 557.9h0M540.7 479.2h0M593.2 515.4h0M465.6 557.3h0M444.1 526.3h0M527.1 510.6h0M477.4 552.6h0M503.6 553.8h0M483.2 524.5h0M446.8 521.9h0M587.7 524.1h0M454.0 557.2h0M429.6 548.5h0M479.0 529.6h0M553.9 521.1h0M436.9 502.5h0M480.5 495.1h0M522.4 546.1h0M511.2 462.7h0M462.3 537.1h0M497.0 556.9h0M541.3 551.6h0M541.5 504.6h0M452.2 551.9h0M453.8 558.6h0M426.5 528.4h0M499.1 504.6h0M437.0 543.0h0M479.1 556.8h0M506.4 493.5h0M465.2 547.2h0M489.1 539.2h0M455.0 489.2h0M437.7 557.9h0M464.0 553.3h0M610.7 502.3h0M601.2 509.2h0M478.0 542.3h0M430.6 553.9h0M495.3 550.0h0M562.5 533.5h0M477.2 556.8h0M437.6 545.8h0M462.1 542.7h0M569.1 532.9h0M477.0 499.2h0M466.0 550.1h0M490.1 556.9h0M551.6 498.7h0M453.2 545.8h0M469.0 558.3h0M451.5 507.4h0M578.8 526.0h0M451.4 550.6h0M500.4 460.7h0M526.9 509.3h0M550.0 544.8h0M545.4 533.1h0M434.8 530.7h0M454.2 512.7h0M452.8 540.1h0M497.1 544.9h0M475.2 553.3h0M529.8 515.6h0M466.6 554.7h0M459.0 541.6h0M442.5 497.4h0M467.0 552.7h0M468.7 517.3h0M534.7 535.3h0M581.9 523.0h0M511.7 534.4h0M428.4 527.3h0M483.7 496.4h0M521.8 539.4h0M536.1 555.2h0M602.9 511.4h0M437.5 545.6h0M474.5 512.7h0M448.4 551.2h0M497.0 538.7h0M475.4 521.7h0M485.3 523.3h0M438.7 544.4h0M543.5 532.1h0M488.6 537.6h0M551.6 511.1h0M566.9 408.6h0M472.2 464.8h0M515.6 525.4h0M505.9 524.2h0M565.2 529.3h0M548.4 541.5h0M430.6 550.8h0M452.1 530.3h0M443.5 537.1h0M533.6 555.6h0M521.3 549.7h0M483.1 523.5h0M513.4 546.0h0M429.9 544.6h0M510.0 555.6h0M566.4 528.8h0M443.7 511.0h0M594.0 511.2h0M428.9 531.2h0M604.9 508.6h0M560.0 531.8h0M440.3 538.0h0M592.0 512.9h0M510.4 520.4h0M436.3 551.0h0M430.2 552.1h0M509.1 463.0h0M451.7 486.6h0M529.7 542.9h0M494.9 556.0h0M467.8 546.1h0M462.8 548.7h0M561.4 539.8h0M492.4 551.5h0M544.5 540.2h0M451.9 557.6h0M505.8 558.2h0M438.8 507.4h0M448.7 538.0h0M524.3 426.9h0M435.8 510.1h0M514.1 556.0h0M490.1 478.0h0M447.9 495.7h0M429.3 549.4h0M537.1 544.2h0M483.0 545.4h0M500.0 549.3h0M520.2 557.4h0M485.4 509.3h0M504.4 521.7h0M487.7 513.9h0M517.1 535.9h0M459.5 538.2h0M514.4 516.0h0M429.4 532.0h0M464.2 522.8h0M593.5 514.2h0M524.4 530.9h0M548.5 544.7h0M507.9 506.2h0M444.5 537.2h0M444.7 553.3h0M438.3 538.8h0M540.4 449.3h0M446.9 544.5h0M502.2 537.8h0M460.2 552.3h0M465.6 513.3h0M485.0 449.7h0M494.5 497.9h0M481.1 481.5h0M549.1 540.0h0M488.0 517.6h0M484.2 547.7h0M456.2 503.1h0M520.3 551.4h0M551.6 544.0h0M619.6 499.1h0M477.9 558.0h0M539.2 543.0h0M482.6 536.1h0M582.1 519.7h0M433.0 537.2h0M472.0 479.7h0M443.0 516.5h0M470.5 527.7h0M489.6 485.8h0M564.9 502.5h0M584.0 522.4h0M441.0 558.0h0M443.8 553.4h0M527.1 546.2h0M513.1 448.6h0M594.4 511.4h0M464.8 499.6h0M451.1 539.7h0M609.4 505.0h0M428.3 538.5h0M496.3 521.7h0M466.5 446.9h0M485.1 547.1h0M458.3 542.4h0M438.6 553.5h0M476.9 532.3h0M480.7 464.1h0M468.7 528.6h0M424.5 551.8h0M443.8 519.2h0M494.6 546.8h0M557.2 433.8h0M461.7 548.0h0M498.9 490.8h0M536.2 458.4h0M476.7 538.3h0M547.0 542.3h0M456.2 508.7h0M494.8 556.9h0" fill="none" stroke="#FF963A" stroke-width="4.6" stroke-linecap="round" opacity="0.62"/>
<path d="M538.6 514.6h0M610.4 503.7h0M429.4 532.9h0M562.2 531.8h0M539.0 545.8h0M536.7 549.1h0M562.4 462.1h0M477.8 535.9h0M567.3 534.1h0M570.1 531.1h0M462.7 511.8h0M435.7 536.3h0M610.5 503.2h0M588.7 519.4h0M513.4 547.1h0M526.1 552.0h0M442.3 556.7h0M534.4 479.2h0M525.0 493.9h0M566.3 531.8h0M585.1 523.5h0M481.2 507.5h0M588.6 514.9h0M515.9 484.1h0M544.3 511.6h0M481.9 486.2h0M427.8 535.1h0M454.5 540.6h0M527.5 405.7h0M456.3 552.8h0M468.6 519.4h0M552.1 542.3h0M459.6 544.3h0M575.3 528.1h0M562.6 518.7h0M463.4 524.1h0M448.6 459.6h0M442.7 506.8h0M594.8 510.6h0M536.8 551.7h0M424.9 555.8h0M565.5 517.9h0M462.6 543.5h0M496.2 550.5h0M528.6 509.7h0M489.2 522.6h0M477.5 553.2h0M479.5 467.2h0M471.7 557.8h0M454.6 522.7h0M443.9 517.8h0M457.0 550.6h0M449.2 550.0h0M497.4 555.1h0M439.9 510.8h0M590.5 517.3h0M462.4 541.3h0M445.7 530.8h0M461.2 528.3h0M588.2 516.4h0M548.1 538.7h0M533.0 546.0h0M492.6 503.0h0M612.9 501.3h0M479.4 555.6h0M426.5 550.4h0M503.8 508.2h0M439.3 539.8h0M568.4 528.3h0M499.1 476.7h0M475.7 537.4h0M463.0 554.4h0M452.0 551.7h0M448.8 543.4h0M551.0 544.8h0M513.8 553.3h0M528.8 537.0h0M518.0 526.6h0M453.2 552.2h0M565.5 529.0h0M538.8 552.1h0M546.3 477.1h0M448.0 552.4h0M575.3 531.3h0M446.9 518.1h0M497.0 510.7h0M435.0 544.4h0M479.9 510.8h0M435.5 543.5h0M554.0 477.1h0M428.2 549.1h0M437.3 513.0h0M430.9 501.1h0M449.9 554.7h0M441.1 487.1h0M446.3 547.1h0M490.5 537.0h0M566.8 531.6h0M453.3 553.2h0M440.2 523.4h0M471.4 535.0h0M472.5 521.4h0M598.9 511.1h0M488.7 496.1h0M467.3 552.8h0M599.6 507.1h0M551.4 542.6h0M462.5 556.6h0M432.3 552.2h0M467.0 425.3h0M466.5 554.3h0M469.1 528.3h0M587.4 514.7h0M519.7 547.5h0M588.7 519.9h0M459.3 519.5h0M444.8 542.3h0M441.5 513.5h0M519.5 542.2h0M441.0 554.5h0M510.7 558.0h0M426.9 555.3h0M616.1 495.3h0M436.0 546.0h0M514.3 550.9h0M538.3 544.2h0M490.3 501.7h0M617.7 497.5h0M477.9 551.6h0M518.3 470.8h0M581.2 524.1h0M471.1 518.4h0M551.2 543.1h0M569.5 528.1h0M524.1 536.3h0M524.2 540.7h0M539.9 536.5h0M442.3 542.5h0M440.0 490.2h0M525.2 489.7h0M568.3 531.7h0M520.1 484.7h0M438.1 558.6h0M459.0 552.9h0M475.5 544.9h0M436.6 538.0h0M562.7 533.2h0M567.5 484.5h0M476.6 544.5h0M449.4 538.0h0M431.4 545.4h0M447.1 515.5h0M462.2 544.4h0M431.7 545.4h0M482.0 548.1h0M560.4 535.6h0M560.0 537.9h0M427.6 545.6h0M578.6 527.2h0M589.5 518.3h0M435.7 551.7h0M457.6 547.7h0M541.4 527.0h0M596.7 513.8h0M536.4 495.0h0M513.0 543.3h0M468.7 556.2h0M590.0 516.0h0M511.6 555.4h0M560.1 514.7h0M547.3 484.1h0M433.5 513.9h0M500.6 506.2h0M558.5 531.4h0M426.8 542.0h0M441.2 531.7h0M482.3 556.9h0M445.5 521.1h0M481.5 550.4h0M473.9 456.3h0M592.3 517.1h0M520.4 537.9h0M467.7 547.9h0M454.9 545.5h0M475.3 539.5h0M485.1 509.2h0M585.3 519.6h0M611.4 499.0h0M479.8 547.5h0M493.4 485.9h0M597.2 511.1h0M518.2 520.6h0M468.8 465.8h0M442.2 476.4h0M452.1 556.2h0M499.6 523.2h0M526.4 522.9h0M572.1 501.9h0M466.5 497.1h0M547.6 551.9h0M500.2 551.2h0M439.5 528.2h0M480.0 553.1h0M489.9 539.7h0M515.3 509.2h0M499.7 534.6h0M448.9 540.9h0M564.5 535.5h0M460.4 513.7h0M471.8 517.5h0M473.3 511.1h0M602.9 507.6h0M427.4 556.4h0M557.3 536.8h0M463.7 517.8h0M584.9 521.9h0M518.8 531.1h0M459.7 490.1h0M497.3 550.7h0M497.6 538.1h0M450.5 544.8h0M474.7 534.3h0M468.0 553.6h0M434.7 552.6h0M431.1 558.5h0M518.6 461.1h0M596.9 513.5h0M534.1 556.4h0M564.1 538.1h0M530.3 538.0h0M533.6 517.6h0M588.5 517.5h0M533.3 555.6h0M616.8 497.0h0M433.2 534.6h0M488.9 555.5h0M536.1 549.3h0M481.5 547.4h0M447.5 542.7h0M498.2 524.0h0M480.9 498.6h0M603.6 504.6h0M552.9 539.5h0M478.2 551.3h0M484.6 553.1h0M456.1 547.6h0M501.7 557.8h0M582.2 522.8h0M461.8 533.6h0M551.4 536.2h0M563.1 535.6h0M470.9 554.7h0M457.2 553.6h0M467.0 481.4h0M529.4 536.2h0M479.6 509.4h0M449.5 509.6h0M474.4 557.7h0M521.0 347.1h0M437.7 543.9h0M454.3 556.7h0M541.7 532.1h0M525.2 548.3h0M508.2 549.0h0M439.2 443.3h0M511.8 516.0h0M562.6 531.4h0M462.7 541.8h0M456.3 556.9h0M542.1 544.9h0M486.7 554.5h0M466.6 547.3h0M554.0 540.2h0M507.0 531.7h0M513.0 524.0h0M530.5 528.1h0M539.5 546.1h0M502.0 512.5h0M433.1 538.6h0M437.5 538.4h0M459.2 508.4h0M514.9 542.3h0M522.6 496.9h0M585.5 516.7h0M501.6 504.1h0M428.7 555.9h0M450.9 550.7h0M538.7 548.9h0M553.6 539.2h0M450.7 548.3h0M465.3 514.5h0M455.8 492.7h0M475.4 547.6h0M466.9 510.9h0M594.5 514.6h0M513.6 531.5h0M472.3 544.3h0M430.9 497.3h0M542.4 506.1h0M621.0 492.9h0M535.1 473.7h0M441.7 546.9h0M498.9 469.3h0M467.9 540.5h0M439.6 463.2h0M451.0 500.1h0M581.8 518.5h0M490.1 556.9h0M446.0 526.3h0M446.4 536.8h0M486.4 468.2h0M567.2 536.5h0M487.2 523.8h0M587.2 515.4h0M436.3 546.9h0M464.3 545.1h0M591.9 517.2h0M446.8 535.0h0M522.3 531.3h0M533.5 546.5h0M461.9 545.3h0M440.6 527.4h0M553.0 523.7h0M438.1 473.7h0M490.2 556.7h0M493.6 551.7h0M473.9 431.6h0M491.4 549.4h0M485.0 549.0h0M565.8 534.6h0M433.5 542.4h0M579.9 522.9h0M446.0 540.1h0M495.6 546.5h0M549.5 527.6h0M494.1 509.9h0M510.1 558.3h0M537.8 544.4h0M498.6 555.3h0M472.1 527.8h0M495.9 511.2h0M555.5 541.7h0M448.0 551.5h0M539.7 545.5h0M514.5 482.7h0M431.3 540.3h0M510.0 507.0h0M432.4 558.2h0M492.6 554.5h0M435.6 547.9h0M504.6 543.4h0M554.9 543.6h0M514.9 531.1h0M560.7 510.6h0M603.8 508.4h0M437.4 548.9h0M446.8 544.1h0M533.8 546.2h0M488.9 543.6h0M469.2 526.9h0M561.8 420.1h0M474.5 535.2h0M427.8 555.4h0M494.9 554.4h0M582.7 522.6h0M432.0 539.9h0M566.2 534.2h0M502.8 528.2h0M432.9 524.2h0M558.2 505.2h0M548.9 528.3h0M545.8 545.5h0M516.6 551.3h0M448.7 555.1h0M499.2 528.6h0M477.9 552.9h0M505.1 549.4h0M588.8 519.3h0M597.4 511.1h0M550.9 542.6h0M531.4 555.0h0M462.7 344.2h0M572.4 529.4h0M543.6 546.3h0M547.0 496.2h0M478.4 527.4h0M444.9 542.6h0M561.5 539.2h0M527.5 348.3h0M570.0 531.8h0M464.9 552.3h0M551.5 547.2h0M443.3 548.5h0M438.5 556.8h0M516.6 539.4h0M459.6 459.8h0M431.8 552.5h0M576.2 522.9h0M530.6 511.0h0M457.2 527.6h0M500.6 543.3h0M522.4 514.8h0M586.3 516.5h0M471.0 535.7h0M459.5 537.4h0M517.4 503.0h0M510.7 553.5h0M538.4 549.2h0M609.1 500.8h0M520.9 558.1h0M429.8 539.6h0M503.6 525.4h0M437.1 504.4h0M465.5 443.4h0M448.3 528.6h0M448.2 556.4h0M456.9 429.8h0M543.1 542.0h0M467.0 538.3h0M517.1 533.4h0M490.3 552.5h0M558.1 510.4h0M543.5 549.3h0M514.7 538.4h0M470.6 548.2h0M525.8 548.9h0M583.9 521.5h0M443.1 546.0h0M491.6 554.8h0M614.4 500.4h0M464.1 475.1h0M429.9 538.8h0M536.2 544.5h0M470.1 532.3h0M599.6 512.1h0M569.3 528.2h0M447.4 549.1h0M533.2 518.8h0M559.1 540.4h0M581.8 523.0h0M571.8 526.2h0M506.5 455.1h0M517.1 549.3h0M474.0 553.3h0M531.9 548.1h0M520.5 557.2h0M453.7 522.5h0M486.9 453.7h0M520.5 502.2h0M508.3 531.1h0M454.0 491.9h0M452.3 537.3h0M555.9 541.9h0M475.6 550.8h0M507.1 339.2h0M453.4 545.2h0M555.6 542.7h0M472.0 558.8h0M517.3 515.9h0M442.4 540.4h0M506.9 495.9h0M601.8 508.2h0M484.3 552.6h0M499.7 497.9h0M512.6 492.6h0M469.6 556.4h0M565.3 531.3h0M435.3 544.4h0M528.7 543.7h0M444.6 553.2h0M457.4 550.8h0M459.9 433.5h0M580.9 519.7h0M470.2 478.5h0M443.6 504.4h0M456.8 438.3h0M478.0 502.7h0M428.8 553.2h0M517.2 551.8h0M447.3 515.6h0M463.1 547.0h0M482.7 550.8h0M439.2 557.4h0M435.7 500.5h0M535.2 519.5h0M576.0 522.6h0M454.3 523.5h0M513.8 548.6h0M495.9 507.9h0M595.4 513.0h0M446.6 464.1h0M436.6 554.6h0M445.8 551.4h0M442.0 514.5h0M526.5 550.0h0M478.4 551.3h0M434.3 547.7h0M537.0 532.7h0M519.4 543.8h0M450.3 503.7h0M499.0 536.9h0M484.0 558.4h0M500.9 557.9h0M461.6 485.4h0M481.8 510.7h0M480.7 553.0h0M501.5 537.0h0M433.7 508.7h0M578.8 526.3h0M439.3 504.7h0M609.9 502.0h0M457.1 521.7h0M434.3 553.0h0M525.3 548.9h0M555.9 516.9h0M555.2 536.0h0M482.9 524.4h0M592.2 515.4h0M458.4 528.3h0M485.1 341.4h0M538.4 518.7h0M450.8 519.0h0M592.6 515.2h0M547.1 541.1h0M430.2 543.7h0M434.8 557.9h0M492.9 545.4h0M469.5 526.3h0M560.2 533.2h0M479.7 555.2h0M451.2 455.8h0M525.0 537.6h0M464.8 544.6h0M500.9 557.9h0M515.3 528.4h0M459.7 549.8h0M499.2 557.3h0M480.9 431.9h0M566.4 532.5h0M563.1 539.0h0M489.0 496.3h0M511.8 548.3h0M472.6 545.7h0M499.0 514.3h0M439.9 551.7h0M488.3 517.1h0M558.3 535.9h0M620.9 498.0h0M460.6 501.7h0M456.5 522.2h0M609.9 503.6h0M452.9 446.7h0M492.1 539.7h0M584.4 524.0h0M563.7 535.4h0M443.9 546.2h0M493.3 558.0h0M471.7 501.0h0M450.7 551.0h0M496.7 558.6h0M493.3 520.7h0M616.9 497.5h0M444.4 552.1h0M606.4 503.4h0M585.1 520.3h0M469.6 532.0h0M539.7 460.6h0M548.0 492.7h0M442.5 539.3h0M450.0 546.4h0M481.1 555.8h0M456.6 526.5h0M435.7 548.1h0M601.0 509.0h0M444.6 541.9h0M506.3 509.1h0M493.1 547.4h0M522.6 493.0h0M507.0 539.5h0M484.8 524.1h0M486.9 491.8h0M511.5 526.8h0M478.0 542.1h0M564.4 531.7h0M587.6 520.3h0M556.3 534.4h0M508.8 477.8h0M427.2 557.4h0M484.1 470.5h0M468.2 547.1h0M473.3 533.1h0M512.0 473.7h0M522.7 549.9h0M562.2 532.6h0M545.3 545.2h0M511.7 555.4h0M433.7 555.0h0M474.7 550.1h0M549.3 542.7h0M567.6 533.4h0M559.4 537.8h0M445.8 547.1h0M528.1 545.9h0M493.1 542.2h0M597.9 514.3h0M474.6 549.8h0M461.6 514.6h0M477.3 518.0h0M564.0 534.7h0M537.6 545.9h0M492.2 506.8h0M490.4 557.5h0M440.5 551.3h0M595.6 511.8h0M559.2 530.9h0M526.7 519.1h0M442.8 540.2h0M439.0 526.1h0M434.9 514.5h0M466.6 543.2h0M510.6 541.3h0M543.7 550.3h0M580.0 435.8h0M453.9 538.0h0M435.4 529.6h0M444.9 543.1h0M553.8 535.0h0M557.7 540.9h0M530.7 503.4h0M445.2 541.2h0M521.6 557.3h0M440.2 520.5h0M450.1 536.9h0M477.2 476.6h0M507.4 529.7h0M499.0 535.8h0M537.7 553.6h0M469.7 518.2h0M453.8 484.5h0M477.1 533.7h0M519.5 429.2h0M511.9 513.6h0M434.8 547.4h0M438.5 537.1h0M514.9 519.5h0M531.8 557.9h0M581.0 522.8h0M455.6 544.2h0M442.1 551.4h0M612.6 501.4h0M443.4 551.7h0M565.4 534.1h0M425.8 556.8h0M449.6 534.6h0M491.5 558.3h0M506.4 523.8h0M522.0 550.6h0M455.8 528.6h0M467.4 538.1h0M463.6 529.9h0M545.6 539.8h0M434.1 551.9h0M469.6 547.0h0M467.7 558.9h0M544.5 547.6h0M425.8 527.5h0M449.4 504.3h0M448.5 552.5h0M534.8 546.4h0M559.3 533.9h0M482.4 455.3h0M590.9 519.2h0M604.3 508.1h0M498.6 533.5h0M540.5 442.3h0M499.4 459.6h0M556.8 516.6h0M562.3 530.1h0M441.5 540.3h0M524.3 466.8h0M528.3 511.3h0M558.5 539.5h0M468.4 513.3h0M431.9 548.5h0M499.5 532.4h0M577.1 523.6h0M497.8 549.7h0M606.5 502.7h0M480.7 527.3h0M524.1 553.6h0M504.7 536.9h0M619.7 496.3h0M470.5 517.7h0M565.2 506.5h0M512.8 528.5h0M543.4 547.8h0M447.5 557.9h0M531.8 552.7h0M447.7 544.9h0M556.2 499.0h0M425.9 541.3h0M428.8 527.2h0M494.1 545.5h0M458.5 532.4h0M538.8 531.7h0M483.9 539.3h0M579.0 526.4h0M535.1 556.3h0M462.4 546.2h0M507.6 534.2h0M573.9 527.2h0M453.1 526.0h0M483.9 553.3h0M472.1 549.5h0M612.4 497.0h0M459.1 551.2h0M546.2 545.5h0M488.5 484.0h0M487.0 453.0h0M498.6 546.2h0M600.2 506.9h0M562.3 536.2h0M471.1 541.5h0M532.5 554.2h0M451.8 499.2h0M493.7 510.7h0M516.3 556.3h0M619.4 492.5h0M451.7 556.7h0M470.8 556.6h0M511.5 515.7h0M516.2 544.0h0M455.2 553.9h0M450.2 553.5h0M490.2 526.3h0M459.0 540.3h0M613.0 499.2h0M593.6 514.3h0M462.0 483.0h0M446.5 547.5h0M481.2 545.2h0M466.3 472.6h0M450.7 544.3h0M470.3 534.8h0M606.8 503.2h0M591.7 515.3h0M452.9 552.7h0M443.5 553.5h0M480.9 550.3h0M430.2 541.7h0M509.7 547.3h0M457.3 548.3h0M500.6 551.8h0M495.9 552.7h0M495.4 556.3h0M555.6 541.1h0M529.7 468.2h0M430.9 508.2h0M513.9 555.0h0M454.9 536.5h0M528.2 544.6h0M611.6 500.0h0M491.1 475.3h0M535.9 513.3h0M506.9 555.1h0M475.2 517.4h0M475.2 438.7h0M574.6 526.0h0M450.6 553.6h0M602.2 506.0h0M486.0 511.1h0M502.7 551.1h0M592.0 515.7h0M476.7 549.0h0M609.0 506.4h0M510.4 541.5h0M464.5 495.5h0M548.5 547.6h0M439.8 540.3h0M558.7 533.8h0M438.7 510.4h0M449.7 470.2h0M441.7 543.1h0M595.2 513.0h0M494.9 511.7h0M613.4 502.3h0M575.5 524.3h0M478.6 547.8h0M491.3 525.7h0M441.1 546.2h0M541.8 525.7h0M517.0 538.6h0M583.7 520.8h0M565.1 528.2h0M528.7 557.0h0M524.3 559.0h0M452.5 531.2h0M560.7 536.9h0M447.7 556.5h0M448.5 550.3h0M496.7 548.8h0M428.6 557.7h0M461.1 519.9h0M476.0 553.3h0M505.6 526.4h0M435.6 519.7h0M531.6 549.8h0M579.2 523.3h0M516.1 523.9h0M557.3 538.9h0M571.5 525.4h0M586.1 517.4h0M534.1 537.6h0M426.5 555.4h0M464.7 541.6h0M599.4 508.6h0M481.2 534.7h0M496.4 538.0h0M544.0 531.8h0M591.2 519.4h0M512.5 558.2h0M520.1 533.9h0M488.1 554.7h0M533.8 339.5h0M548.1 530.1h0M619.4 493.5h0M511.4 521.2h0M534.4 555.8h0M490.2 497.6h0M569.7 526.5h0M488.1 500.1h0M539.0 546.5h0M542.4 548.9h0M445.0 548.1h0M445.4 545.9h0M536.6 512.7h0M469.4 488.7h0M564.4 536.3h0M449.1 509.0h0M507.1 535.3h0M531.3 552.2h0M473.4 519.6h0M523.9 539.5h0M530.3 530.7h0M481.5 505.8h0M434.3 555.1h0M619.9 496.8h0M446.6 544.5h0M444.1 552.7h0M612.0 500.1h0M433.0 558.4h0M513.7 553.0h0M570.5 530.2h0M470.4 553.4h0M537.4 551.7h0M485.6 536.3h0M611.2 500.6h0M451.7 538.1h0M449.7 554.5h0M534.9 536.8h0M501.9 554.6h0M477.2 478.6h0M525.2 531.7h0M519.5 499.1h0M483.5 516.9h0M555.4 541.8h0M500.2 514.6h0M590.1 516.2h0M459.0 536.6h0M489.5 488.0h0M540.8 549.4h0M462.4 515.5h0M464.1 545.9h0M473.0 556.5h0M576.6 520.8h0M454.5 487.1h0M491.6 542.2h0M433.3 555.1h0M543.1 505.9h0M532.3 556.0h0M525.4 513.9h0M438.2 496.2h0M511.0 544.4h0M590.0 514.3h0M453.6 544.0h0M565.7 531.0h0M479.3 450.5h0M525.8 503.1h0M458.4 510.3h0M535.3 548.1h0M441.5 494.4h0M614.7 499.7h0M539.3 531.2h0M480.6 542.0h0M495.7 552.6h0M540.4 530.8h0M463.0 557.0h0M615.0 499.5h0M599.9 508.8h0M514.1 552.2h0M486.1 394.3h0M524.9 517.0h0M604.9 509.3h0M433.0 543.6h0M440.4 537.9h0M478.8 542.3h0M600.5 509.8h0M445.5 526.9h0M552.0 524.0h0M483.3 540.4h0M473.8 545.7h0M432.6 502.7h0M473.6 499.5h0M531.6 529.5h0M441.3 554.6h0M479.0 512.4h0M456.9 545.4h0M523.1 555.7h0M510.0 556.0h0M445.9 535.2h0M464.9 531.5h0M453.3 557.5h0M522.0 549.3h0M483.3 479.0h0M511.9 511.1h0M452.9 549.4h0M434.7 550.1h0M480.4 522.0h0M543.4 541.0h0M564.2 531.0h0M548.7 509.9h0M434.3 531.6h0M476.5 558.9h0M528.0 539.2h0M445.2 554.4h0M481.3 524.7h0M517.2 512.8h0M462.8 504.8h0M518.8 517.4h0M525.4 518.7h0M479.6 558.6h0M442.1 539.7h0M488.5 544.9h0M470.2 556.6h0M464.1 445.2h0M533.7 549.1h0M522.4 554.0h0M444.3 545.7h0M596.7 510.9h0M618.4 495.3h0M461.5 507.1h0M428.8 547.4h0M447.1 550.5h0M499.7 516.1h0M488.3 523.4h0M574.0 525.3h0M430.3 531.7h0M488.4 522.1h0M549.3 511.0h0M605.8 505.5h0M493.0 544.6h0M515.2 533.6h0M597.5 514.3h0M450.6 511.6h0M451.0 511.0h0M586.6 518.4h0M600.3 510.0h0M498.9 551.5h0M467.0 548.3h0M453.9 533.8h0M445.0 502.0h0M480.3 532.4h0M597.2 511.3h0M464.7 523.7h0M464.2 525.1h0M451.8 516.6h0M433.9 550.3h0M537.0 548.6h0M432.1 530.1h0M570.2 527.1h0M460.0 536.6h0M456.6 522.8h0M577.7 522.5h0M469.8 370.2h0M504.7 551.0h0M549.7 539.7h0M478.9 537.3h0M437.0 558.9h0M569.8 526.8h0M566.4 535.0h0M503.6 532.8h0M521.4 473.0h0M517.7 507.4h0M479.4 513.0h0M434.2 554.1h0M613.7 501.5h0M492.3 511.8h0M596.8 508.9h0M509.2 492.9h0M555.9 504.0h0M424.4 544.9h0M449.4 558.6h0M563.1 533.0h0M462.9 543.3h0M453.9 505.3h0M512.6 557.4h0M558.4 535.5h0M520.9 519.7h0M485.7 554.7h0M562.1 538.9h0M510.1 542.9h0M543.0 550.1h0M519.6 500.6h0M541.0 543.8h0M518.4 545.5h0M449.9 528.8h0M455.1 553.3h0M554.0 540.3h0M428.5 534.5h0M536.6 516.2h0M488.0 550.0h0M425.1 544.3h0M618.2 498.7h0M537.0 547.5h0M490.4 532.5h0M431.9 535.4h0M578.3 525.5h0M460.6 556.5h0M427.8 558.5h0M467.9 489.7h0M539.2 543.9h0M491.6 530.8h0M520.8 545.8h0M438.0 550.2h0M444.3 558.2h0M610.9 502.7h0M481.0 552.6h0M438.3 515.2h0M425.3 546.5h0M511.4 534.2h0M540.6 547.3h0M467.0 461.7h0M504.9 558.0h0M578.7 524.1h0M466.5 462.8h0M542.2 549.1h0M457.9 512.7h0M467.2 553.2h0M434.7 552.7h0M452.0 491.9h0M446.0 545.5h0M544.3 540.2h0M487.9 558.7h0M513.0 544.9h0M438.2 556.6h0M448.2 467.0h0M508.2 558.2h0M432.3 525.5h0M436.0 537.5h0M443.8 554.6h0M436.7 483.8h0M501.2 535.3h0M528.3 514.1h0M443.6 552.4h0M550.3 470.5h0M541.2 549.6h0M531.7 551.8h0M470.8 555.3h0M471.3 546.4h0M439.8 526.1h0M433.5 516.3h0M467.5 535.2h0M524.4 520.3h0M497.9 514.2h0M445.0 537.2h0M438.4 520.6h0M453.0 557.6h0M521.6 508.8h0M435.6 543.5h0M434.8 512.9h0M457.3 547.7h0M467.4 500.3h0M443.0 511.2h0M452.0 533.0h0M450.7 556.3h0M467.2 553.7h0M580.7 524.1h0M553.2 544.2h0M493.2 532.4h0M502.5 540.0h0M449.9 521.1h0M507.7 530.9h0M438.1 498.0h0M442.4 544.0h0M619.5 499.2h0M434.5 548.4h0M451.4 532.2h0M601.9 511.8h0M513.4 441.7h0M446.7 534.6h0M488.3 552.7h0M468.0 552.1h0M493.2 521.3h0M562.2 518.9h0M529.3 529.1h0M471.0 545.0h0M604.3 508.7h0M564.1 531.4h0M490.7 508.2h0M500.2 506.2h0M603.3 507.7h0M493.8 497.9h0M454.3 538.7h0M440.6 514.9h0M444.3 543.8h0M469.9 542.0h0M487.8 514.1h0M467.8 545.7h0M500.5 542.6h0M561.9 540.7h0M443.0 545.7h0M490.7 529.4h0M483.6 542.1h0M525.2 554.5h0M500.8 495.3h0M582.8 517.4h0M448.8 509.2h0M435.5 500.4h0M599.1 513.9h0M555.0 544.4h0M515.7 552.8h0M442.7 501.7h0M553.4 540.0h0M524.3 537.8h0M483.8 542.2h0M504.0 558.1h0M469.0 549.0h0M493.1 545.6h0M460.5 536.5h0M471.0 558.7h0M529.0 526.7h0M453.1 535.4h0M463.5 548.9h0M429.4 510.7h0M617.3 498.8h0M431.8 546.4h0M480.9 509.9h0M453.1 537.7h0M543.0 543.6h0M549.1 543.2h0M460.8 534.6h0M529.4 538.8h0M538.5 546.0h0M446.0 495.2h0M522.9 556.9h0M446.1 538.3h0M621.0 495.8h0M426.7 541.7h0M429.3 525.4h0M541.2 546.6h0M469.6 498.2h0M506.3 554.4h0M460.3 517.2h0M465.1 548.8h0M456.0 533.4h0M490.5 519.8h0M532.7 532.6h0M425.2 556.5h0M536.1 544.4h0M542.4 543.1h0M478.3 500.3h0M537.9 551.3h0M575.6 529.1h0M430.8 558.9h0M543.9 520.7h0M452.5 552.9h0M591.1 512.7h0M496.1 543.6h0M595.4 511.1h0M507.5 526.9h0M489.5 477.5h0M437.4 555.9h0M604.9 507.6h0M463.4 530.6h0M457.5 548.2h0M503.0 537.3h0M562.1 533.4h0M472.9 544.8h0M550.9 541.2h0M474.8 541.9h0M462.3 541.5h0M491.7 555.3h0M458.1 519.4h0M590.4 512.9h0M514.3 446.8h0M496.6 533.2h0M450.1 552.6h0M575.4 524.4h0M449.7 516.4h0M563.6 511.1h0M524.2 545.9h0M597.5 511.0h0M527.9 552.0h0M449.8 552.7h0M525.3 532.8h0M553.6 535.7h0M616.3 501.0h0M599.3 509.1h0M438.5 556.3h0M519.2 490.6h0M466.5 551.5h0M440.9 544.9h0M497.0 550.7h0M566.3 530.3h0M438.3 514.9h0M461.7 550.0h0M444.3 546.7h0M555.1 446.0h0M525.3 544.9h0M437.7 468.7h0M593.5 484.5h0M459.6 520.1h0M500.3 549.1h0M603.6 503.6h0M448.5 498.4h0M529.9 547.0h0M546.5 539.5h0M504.1 519.7h0M447.9 519.9h0M542.3 547.4h0M563.9 531.6h0M605.4 508.4h0M535.1 490.8h0M611.1 499.9h0M486.0 527.8h0M591.0 516.0h0M491.4 550.4h0M497.2 436.9h0M453.0 534.7h0M568.1 529.1h0M439.3 500.0h0M470.8 532.0h0M505.8 541.7h0M480.9 424.4h0M442.8 548.0h0M431.2 553.8h0M528.2 499.0h0M434.2 557.2h0M611.5 500.2h0M554.4 543.3h0M480.8 537.3h0M525.8 557.3h0M515.1 499.6h0M427.6 532.7h0M493.2 534.6h0M511.9 420.1h0M427.6 522.6h0M553.8 507.3h0M505.8 552.2h0M563.9 531.4h0M484.7 533.5h0M442.0 549.1h0M583.8 517.8h0M463.9 555.9h0M527.6 512.2h0M535.8 504.5h0M557.1 540.5h0M543.6 545.7h0M541.2 490.3h0M473.7 541.9h0M480.6 550.9h0M559.2 375.4h0M453.4 533.8h0M527.7 513.8h0M464.2 531.8h0M566.1 533.5h0M486.3 480.1h0M448.6 556.9h0M481.6 540.7h0M494.9 477.0h0M441.7 554.3h0M547.9 547.9h0M433.3 517.0h0M496.7 534.5h0M450.9 494.8h0M463.9 546.3h0M435.1 545.0h0M485.6 544.4h0M438.6 516.5h0M508.5 537.8h0M542.7 548.9h0M533.3 529.2h0M456.0 509.8h0M535.0 554.1h0M617.4 495.7h0M442.9 516.9h0M608.3 503.8h0M525.7 523.7h0M432.4 556.2h0M455.9 429.0h0M472.0 553.0h0M528.0 525.7h0M494.6 539.9h0M450.1 545.2h0M429.9 553.2h0M485.0 456.8h0M582.7 519.5h0M454.3 552.2h0M514.6 558.3h0M452.4 557.8h0M464.1 530.8h0M472.5 544.6h0M517.7 537.6h0M428.3 547.0h0M503.9 520.7h0M437.0 551.7h0M499.5 507.6h0M481.5 495.4h0M482.4 511.3h0M486.3 548.8h0M474.8 551.3h0M469.9 522.1h0M540.9 545.6h0M460.8 520.7h0M487.9 465.4h0M520.3 462.4h0M461.5 555.9h0M496.9 542.4h0M473.7 492.4h0M536.5 529.6h0M608.2 506.0h0M485.8 551.6h0M455.4 502.8h0M534.4 555.9h0M549.5 545.8h0M517.6 524.5h0M460.8 497.3h0M437.5 548.1h0M438.9 536.9h0M489.7 410.8h0M479.3 494.6h0M446.0 549.1h0M435.0 558.9h0M431.3 542.0h0M495.0 508.8h0M500.8 517.8h0M489.4 546.7h0M581.4 523.6h0M554.6 537.5h0M620.8 495.4h0M536.5 518.5h0M434.8 519.5h0M483.6 533.2h0M440.0 471.9h0M450.6 517.0h0M586.9 517.5h0M459.5 547.7h0M476.0 424.5h0M498.0 475.9h0M525.3 547.1h0M474.5 495.4h0M460.5 544.3h0M441.6 486.1h0M577.5 521.7h0M477.8 515.6h0M472.4 542.6h0M527.7 511.7h0M576.9 529.1h0M482.3 529.2h0M489.0 522.2h0M523.7 545.4h0M595.5 509.5h0M444.2 542.6h0M491.5 537.7h0M444.2 536.4h0M436.8 528.6h0M572.7 523.8h0M537.8 495.6h0M609.8 502.1h0M581.4 522.0h0M468.0 476.4h0M430.6 525.1h0M509.1 545.0h0M442.7 549.9h0M545.8 500.6h0M426.7 538.0h0M438.7 507.0h0M459.5 507.1h0M511.1 504.0h0M470.3 518.2h0M432.7 510.5h0M542.4 542.0h0M513.9 503.6h0M458.0 503.1h0M454.1 444.8h0M491.5 500.3h0M474.9 535.5h0M544.4 554.7h0M443.5 544.5h0M469.3 551.4h0M490.0 523.9h0M617.0 498.0h0M536.3 422.0h0M561.5 538.1h0M599.1 509.9h0M551.1 517.5h0M505.4 522.6h0M591.6 516.6h0M544.7 542.8h0M473.9 550.9h0M500.4 487.5h0M497.7 549.5h0M472.3 482.8h0M428.1 534.0h0M535.4 546.7h0M466.4 556.2h0M487.1 532.6h0M472.2 464.8h0M496.5 533.4h0M436.9 556.6h0M425.6 540.5h0M440.4 516.9h0M446.3 549.8h0M571.1 531.5h0M485.7 532.8h0M438.3 487.9h0M544.5 543.2h0M462.1 510.3h0M486.9 509.5h0M537.2 550.9h0M602.3 510.0h0M451.2 557.1h0M525.7 553.4h0M473.4 484.7h0M425.0 543.8h0M555.2 534.5h0M508.2 449.0h0M434.3 554.8h0M606.4 508.3h0M456.1 543.0h0M455.0 554.9h0M598.7 513.9h0M478.3 553.7h0M460.7 484.6h0M487.0 542.9h0M471.8 543.4h0M533.9 500.0h0M507.6 518.4h0M432.5 551.8h0M458.9 556.4h0M541.0 545.1h0M511.5 527.8h0M456.9 484.2h0M596.4 512.3h0M448.8 536.3h0M524.7 510.7h0M442.3 557.1h0M432.3 556.3h0M494.2 450.3h0M594.9 511.8h0M507.5 482.6h0M558.2 483.0h0M542.8 547.2h0M474.7 471.1h0M567.2 531.5h0M497.2 519.2h0M453.7 511.8h0M499.6 550.6h0M554.9 554.1h0M494.6 480.2h0M472.9 526.7h0M536.3 512.1h0M498.1 551.9h0M568.6 431.3h0M472.3 536.1h0M435.3 555.3h0M503.5 552.1h0M539.0 467.4h0M512.7 512.2h0M475.7 527.7h0M593.1 514.1h0M430.5 558.3h0M490.3 551.2h0M487.7 555.1h0M467.5 519.2h0M446.2 552.7h0M498.0 554.9h0M480.5 546.1h0M455.5 529.6h0M441.4 553.4h0M489.4 520.1h0M561.3 531.9h0M570.0 530.8h0M608.6 502.5h0M499.3 546.1h0M615.8 500.0h0M444.1 552.6h0M552.9 538.8h0M446.2 557.5h0M567.1 535.6h0M614.0 501.6h0M556.9 538.7h0M570.6 525.9h0M463.4 551.2h0M462.3 544.5h0M579.1 524.1h0M470.0 552.3h0M479.8 556.8h0M578.6 523.7h0M546.6 547.9h0M616.6 500.2h0M435.4 526.7h0M594.0 516.9h0M615.9 496.0h0M489.8 531.2h0M457.9 558.8h0M477.6 547.9h0M550.1 542.1h0M569.2 530.4h0M560.4 538.3h0M479.3 502.2h0M475.8 548.9h0M461.9 534.2h0M618.7 496.2h0M494.9 536.6h0M456.5 449.7h0M482.4 548.1h0M452.2 556.4h0M498.3 545.2h0M583.8 520.2h0M473.6 521.0h0M447.0 528.2h0M455.3 509.9h0M441.9 541.3h0M483.5 487.7h0M442.1 549.1h0M560.5 300.2h0M446.1 539.8h0M438.3 552.2h0M439.1 499.3h0M439.5 550.7h0M431.6 536.6h0M502.6 550.7h0M427.4 542.1h0M496.8 534.5h0M454.3 525.3h0M608.8 505.2h0M534.8 549.2h0M522.3 416.4h0M519.7 525.8h0M561.6 538.9h0M499.1 490.4h0M506.4 551.9h0M449.2 552.9h0M481.6 521.7h0M459.0 519.1h0M484.1 538.8h0M448.3 548.0h0M428.7 554.1h0M457.7 467.8h0M465.9 510.0h0M450.8 546.2h0M570.7 525.5h0M472.4 486.1h0M521.6 538.2h0M608.1 505.4h0M560.6 536.3h0M496.6 523.2h0M514.8 548.0h0M426.5 529.3h0M524.7 490.0h0M585.7 518.1h0M484.1 518.1h0M519.2 541.4h0M474.0 523.2h0M431.8 551.1h0M493.4 537.3h0M427.1 518.0h0M459.0 499.9h0M449.4 469.3h0M582.8 524.8h0M505.5 521.2h0M516.7 550.4h0M429.2 540.7h0M615.3 499.6h0M451.4 540.0h0M452.4 528.1h0M467.8 542.6h0M539.9 552.5h0M533.4 525.2h0M471.5 548.9h0M564.8 536.0h0M547.3 544.5h0M499.2 502.5h0M468.5 545.1h0M479.9 547.2h0M457.1 551.0h0M522.6 558.1h0M427.2 547.6h0M587.1 518.3h0M492.1 499.4h0M585.3 520.9h0M487.7 540.9h0M497.3 496.4h0M539.9 526.3h0M512.6 531.5h0M463.2 543.2h0M436.5 528.9h0M480.6 552.3h0M432.7 508.4h0M429.1 539.0h0M464.1 558.9h0M512.0 519.9h0M451.4 558.7h0M554.6 542.9h0M430.2 534.6h0M463.5 518.2h0M484.7 555.9h0M548.0 543.2h0M476.7 544.9h0M451.4 543.4h0M573.6 526.7h0M526.6 520.7h0M460.6 525.7h0M466.9 443.4h0M535.8 546.1h0M474.6 516.7h0M440.1 545.1h0M461.5 558.0h0M571.1 528.4h0M475.3 494.2h0M431.2 545.7h0M464.3 387.6h0M493.8 536.6h0M484.4 517.7h0M551.6 508.6h0M443.5 550.1h0M446.4 538.3h0M454.1 556.4h0M513.1 517.0h0M427.4 547.7h0M462.7 481.2h0M475.8 542.7h0M437.8 515.4h0M466.4 492.3h0M444.5 547.9h0M464.8 521.8h0M576.3 526.2h0M466.9 533.6h0M461.1 546.1h0M495.4 558.2h0M548.8 545.0h0M439.5 469.2h0M500.0 511.2h0M550.9 542.6h0M429.2 559.0h0M543.5 507.1h0M588.6 519.5h0M499.0 486.0h0M452.9 556.7h0M468.7 533.2h0M485.9 464.3h0M448.2 535.0h0M509.0 541.8h0M495.8 554.4h0M435.5 557.1h0M448.8 544.1h0M444.9 553.8h0M598.8 508.3h0M555.5 541.0h0M497.6 555.5h0M471.8 517.2h0M487.3 535.2h0M426.4 555.5h0M428.0 546.6h0M561.9 533.8h0M547.5 545.7h0M479.6 498.4h0M433.0 550.8h0M527.7 558.9h0M454.0 517.9h0M443.2 504.5h0M593.7 515.3h0M439.8 555.7h0M588.5 517.9h0M497.3 502.9h0M457.6 527.6h0M502.1 554.7h0M566.8 536.0h0M446.6 549.6h0M535.7 540.0h0M539.4 527.8h0M543.7 540.4h0M473.1 446.5h0M544.5 550.1h0M444.8 526.5h0M491.9 550.7h0M439.5 546.1h0M441.2 531.1h0M433.6 503.5h0M613.6 499.7h0M553.3 426.9h0M462.7 554.3h0M456.1 518.4h0M515.3 493.0h0M445.4 552.4h0M458.6 553.8h0M549.6 514.6h0M485.0 556.9h0M530.9 516.4h0M607.3 505.0h0M482.6 538.0h0M456.3 543.2h0M528.3 488.2h0M477.5 556.7h0M602.3 507.7h0M504.8 437.1h0M541.6 547.8h0M448.7 557.4h0M515.9 519.5h0M485.7 516.8h0M446.7 558.0h0M490.3 482.8h0M553.5 544.1h0M544.8 540.1h0M494.3 492.5h0M564.1 516.9h0M464.4 558.2h0M474.9 463.7h0M467.6 521.8h0M440.3 556.9h0M456.2 466.4h0M533.0 555.0h0M552.3 536.2h0M438.5 556.2h0M575.3 529.2h0M469.8 462.3h0M543.8 545.2h0M548.5 542.7h0M558.1 510.9h0M433.1 490.5h0M490.2 513.3h0M504.0 551.5h0M430.8 510.5h0M512.8 541.0h0M555.2 542.4h0M549.6 513.4h0M532.6 556.4h0M430.1 520.5h0M470.6 519.8h0M498.3 524.1h0M490.0 545.2h0M546.9 548.9h0M538.3 534.4h0M497.6 556.5h0M451.5 522.2h0M568.1 507.6h0M440.5 515.4h0M491.3 496.4h0M486.4 455.8h0M536.3 534.1h0M502.6 529.0h0M438.6 543.2h0M437.7 526.4h0M492.5 518.0h0M425.1 549.6h0M500.9 534.6h0M467.5 486.7h0M469.1 493.0h0M482.9 528.5h0M521.7 523.5h0M499.1 507.9h0M511.0 491.2h0M509.3 520.5h0M447.3 543.2h0M524.8 547.0h0M608.2 506.5h0M562.2 540.1h0M535.4 485.1h0M515.4 551.8h0M438.9 549.5h0M446.6 544.7h0M467.6 515.1h0M449.8 551.5h0M532.0 550.2h0M426.3 536.4h0M591.2 516.7h0M444.7 558.7h0M453.5 557.0h0M440.3 517.2h0M607.0 502.7h0M443.1 550.0h0M620.0 496.8h0M453.4 557.0h0M436.1 475.4h0M475.1 555.8h0M440.2 542.4h0M590.2 519.3h0M469.4 528.0h0M440.9 508.7h0M448.9 503.8h0M451.9 544.1h0M440.7 527.5h0M445.8 525.2h0M435.8 545.3h0M468.2 496.3h0M478.8 537.8h0M568.5 528.7h0M519.9 485.2h0M542.5 525.3h0M469.1 552.2h0M588.3 516.6h0M589.5 512.8h0M448.8 557.3h0M452.3 530.8h0M454.6 516.7h0M460.9 558.5h0M535.4 554.2h0M518.7 552.8h0M451.3 540.7h0M471.7 539.7h0M435.1 545.3h0M454.9 557.5h0M486.4 558.9h0M454.8 547.6h0M494.8 540.0h0M439.0 528.9h0M536.9 544.7h0M589.4 515.9h0M534.4 550.6h0M534.1 535.8h0M501.4 551.7h0M508.2 528.3h0M621.0 493.8h0M577.6 525.4h0M611.4 504.4h0M433.0 558.3h0M477.1 558.8h0M441.0 558.5h0M470.8 510.8h0M551.7 541.8h0M549.3 537.3h0M456.3 537.6h0M518.4 558.6h0M542.5 546.8h0M540.0 545.6h0M539.3 549.9h0M464.8 552.5h0M609.7 505.2h0M499.0 525.9h0M471.1 529.7h0M448.5 549.6h0M508.5 549.9h0M461.2 555.2h0M445.4 506.5h0M534.0 528.0h0M605.0 470.2h0M490.3 537.3h0M616.7 497.9h0M530.2 506.7h0M453.5 547.8h0M517.0 541.0h0M496.0 502.9h0M467.5 550.2h0M600.3 511.6h0M521.8 552.3h0M530.1 517.6h0M503.2 544.9h0M438.2 509.7h0M436.5 510.3h0M472.8 503.1h0M428.0 549.2h0M472.7 526.8h0M565.9 532.9h0M584.6 523.2h0M440.6 547.0h0M598.8 511.6h0M523.0 534.4h0M510.7 557.9h0M514.5 461.4h0M481.1 554.5h0M435.9 549.8h0M613.0 497.7h0M554.9 543.1h0M457.6 478.6h0M452.4 507.6h0M459.5 496.2h0M455.5 500.8h0M547.1 541.4h0M598.5 511.2h0M552.7 499.5h0M462.2 537.4h0M516.3 510.0h0M473.1 544.5h0M449.8 520.8h0M500.5 531.0h0M531.5 557.1h0M485.4 508.7h0M579.9 520.7h0M500.4 433.4h0M506.1 553.0h0M454.0 509.1h0M469.8 528.2h0M541.5 550.5h0M602.5 508.1h0M590.5 519.4h0M487.2 545.8h0M517.3 512.0h0M607.6 502.4h0M539.8 516.0h0M589.1 513.3h0M476.4 507.1h0M512.4 535.0h0M427.8 541.9h0M521.0 506.9h0M448.8 551.5h0M492.4 521.4h0M602.8 507.1h0M433.8 546.7h0M462.5 554.2h0M440.9 540.3h0M448.7 503.3h0M503.2 537.1h0M524.7 548.1h0M437.7 523.0h0M569.6 528.2h0M440.9 522.3h0M481.1 536.0h0M566.4 527.8h0M560.8 451.5h0M433.8 537.8h0M452.5 542.7h0M507.7 557.6h0M539.5 519.3h0M497.1 526.4h0M426.2 545.5h0M463.9 546.5h0M512.2 537.8h0M509.2 535.0h0M564.6 490.7h0M487.5 516.2h0M457.7 513.9h0M431.3 545.7h0M434.2 508.5h0M484.5 504.2h0M525.3 517.7h0M487.1 481.1h0M433.6 549.2h0M457.7 540.3h0M478.1 553.5h0M456.3 520.1h0M593.1 513.0h0M524.6 467.4h0M431.5 528.9h0M486.0 556.6h0M469.1 534.0h0M435.0 505.7h0M500.9 517.5h0M527.8 532.5h0M487.6 511.4h0M435.1 506.4h0M518.9 551.8h0M455.3 461.5h0M598.2 510.2h0M499.0 524.1h0M602.8 509.9h0M612.3 500.0h0M463.0 536.3h0M539.3 551.6h0M440.9 549.8h0M531.9 552.2h0M549.1 540.4h0M550.1 528.6h0M428.4 545.7h0M471.6 532.4h0M618.8 496.6h0M610.3 502.0h0M442.9 557.6h0M436.0 551.4h0M620.9 494.9h0M435.6 556.7h0M579.3 523.2h0M522.3 535.5h0M431.9 553.8h0M435.2 507.8h0M480.0 550.6h0M482.9 556.7h0M563.6 471.9h0M444.3 551.8h0M543.1 545.7h0M523.3 505.2h0M458.3 524.4h0M485.2 558.7h0M591.8 517.5h0M617.5 498.5h0M466.1 551.5h0M455.3 550.9h0M602.1 508.4h0M443.7 514.1h0M489.7 500.2h0M429.8 544.2h0M448.2 547.5h0M598.4 510.3h0M465.1 534.1h0M515.7 528.2h0M479.9 520.5h0M545.2 542.9h0M443.0 551.0h0M435.0 546.0h0M467.0 528.6h0M486.0 538.0h0M455.8 403.2h0M532.9 546.4h0M500.8 512.8h0M553.6 478.9h0M536.9 524.9h0M436.3 537.3h0M525.2 551.0h0M480.2 528.1h0M533.0 505.8h0M463.1 535.5h0M431.7 552.9h0M454.8 542.6h0M603.5 505.8h0M526.1 532.2h0M615.0 500.6h0M578.9 528.3h0M532.8 555.5h0M482.0 529.8h0M492.2 521.1h0M469.1 489.7h0M531.4 532.2h0M445.1 538.1h0M477.1 508.3h0M462.2 519.7h0M485.0 547.9h0M584.5 523.3h0M447.3 519.6h0M469.3 508.7h0M438.8 550.4h0M516.1 512.7h0M566.2 558.3h0M502.1 493.7h0M461.3 547.9h0M458.8 541.1h0M495.8 541.7h0M517.8 535.7h0M538.2 464.3h0M554.6 536.2h0M459.2 531.8h0M482.2 491.1h0M475.1 537.1h0M435.1 539.9h0M443.3 499.3h0M485.8 558.4h0M436.6 552.9h0M541.3 544.1h0M457.3 558.4h0M536.2 522.6h0M497.7 535.5h0M450.9 554.7h0M442.1 543.8h0M507.1 531.5h0M512.2 465.1h0M463.5 555.6h0M481.2 533.6h0M534.4 551.0h0M536.8 524.4h0M578.7 526.3h0M491.5 543.4h0M430.7 557.1h0M482.9 508.8h0M548.0 535.6h0M442.2 540.8h0M506.3 480.9h0M516.2 558.0h0M569.2 532.9h0M576.0 434.8h0M462.5 522.0h0M427.2 554.5h0M522.1 516.3h0M490.0 552.3h0M602.5 505.3h0M428.7 527.4h0M490.1 532.6h0M450.0 547.4h0M430.6 556.8h0M458.8 557.1h0M456.2 551.3h0M522.6 554.2h0M581.1 521.8h0M532.1 542.7h0M432.5 557.7h0M441.6 540.3h0M574.3 529.2h0M521.0 557.3h0M532.8 540.4h0M537.6 508.4h0M478.3 541.5h0M586.1 518.4h0M587.8 515.5h0M534.1 534.2h0M601.5 510.6h0M604.4 506.8h0M438.4 555.5h0M485.1 508.2h0M502.4 554.9h0M454.5 495.0h0M473.7 546.5h0M454.9 520.0h0M478.9 551.4h0M596.6 514.7h0M603.7 506.7h0M450.5 558.4h0M480.6 531.4h0M488.7 555.7h0M465.2 533.2h0M535.5 554.2h0M575.8 529.5h0M508.9 517.5h0M523.4 505.3h0M495.6 547.9h0M562.0 535.0h0M493.7 552.5h0M520.7 523.2h0M464.1 549.0h0M579.9 523.1h0M557.5 536.4h0M559.6 533.2h0M424.8 534.7h0M506.3 542.2h0M594.1 512.7h0M594.1 511.3h0M478.3 553.1h0M594.3 514.3h0M493.5 502.7h0M573.1 530.1h0M607.1 504.4h0M620.6 494.5h0M467.1 502.4h0M534.4 549.0h0M434.2 552.9h0M583.5 524.5h0M464.0 339.5h0M559.2 538.3h0M594.9 516.0h0M431.8 556.6h0M445.4 557.5h0M452.1 538.8h0M438.3 488.2h0M557.9 514.6h0M432.0 549.2h0M443.5 541.0h0M476.9 556.8h0M491.7 548.9h0M441.0 555.7h0M580.1 518.9h0M465.5 539.1h0M464.0 451.5h0M509.5 555.1h0M587.6 519.1h0M541.9 544.7h0M541.3 519.8h0M502.9 498.6h0M427.3 540.8h0M449.3 531.1h0M484.5 496.4h0M489.1 540.2h0M442.3 530.4h0M441.8 558.8h0M571.8 530.0h0M479.2 551.5h0M592.3 483.1h0M546.1 541.1h0M552.3 538.7h0M475.5 453.4h0M617.0 498.2h0M482.7 453.8h0M554.7 541.1h0M437.2 546.5h0M480.0 539.8h0M533.1 548.2h0M461.0 547.0h0M521.9 556.7h0M502.2 533.3h0M510.9 496.5h0M509.3 521.1h0M453.9 550.2h0M458.1 534.6h0M426.9 556.2h0M548.3 538.0h0M438.1 530.3h0M450.1 522.4h0M602.0 507.9h0M588.8 516.2h0M502.3 530.6h0M442.8 535.9h0M538.1 484.0h0M470.4 557.4h0M447.6 538.7h0M464.4 484.9h0M493.5 548.0h0M507.6 540.5h0M493.6 539.8h0M446.8 556.7h0M498.7 529.7h0M561.8 536.3h0M436.1 555.6h0M476.6 451.1h0M568.2 533.7h0M438.1 549.5h0M502.7 527.7h0M431.9 532.9h0M444.6 554.6h0M613.0 499.3h0M448.2 545.7h0M438.4 544.0h0M450.4 524.5h0M432.5 516.1h0M576.2 523.7h0M616.0 496.7h0M546.4 496.1h0M481.0 548.7h0M506.4 552.8h0M467.4 555.1h0M545.5 544.2h0M485.2 535.1h0M515.3 453.4h0M511.4 533.5h0M431.5 511.1h0M444.3 548.0h0M452.1 519.5h0M469.3 500.4h0M551.8 513.0h0M481.8 545.2h0M497.4 523.9h0M607.9 504.7h0M605.6 504.2h0M614.1 501.7h0M430.1 550.9h0M458.1 465.4h0M433.5 534.7h0M454.1 424.4h0M451.1 458.4h0M459.0 530.7h0M518.5 533.1h0M547.1 542.0h0M452.5 517.2h0M456.7 529.7h0M587.9 520.1h0M535.5 551.4h0M441.4 557.5h0M454.3 558.2h0M483.1 544.4h0M457.6 553.2h0M441.8 480.0h0M524.8 510.6h0M488.5 496.9h0M446.4 514.6h0M448.3 551.0h0M449.1 536.4h0M496.3 529.7h0M552.8 541.7h0M469.9 556.1h0M471.9 527.2h0M572.8 532.1h0M447.2 555.6h0M483.7 518.1h0M542.7 543.1h0M453.6 542.4h0M474.7 558.3h0M451.5 545.1h0M566.9 552.9h0M508.9 554.2h0M462.8 529.1h0M428.2 516.5h0M572.6 527.5h0M558.1 535.1h0M438.2 551.6h0M539.3 549.4h0M564.6 502.3h0M426.6 545.7h0M450.1 488.6h0M463.6 545.2h0M542.3 524.5h0M496.9 496.2h0M466.9 556.8h0M457.8 477.0h0M456.9 558.3h0M435.3 554.4h0M607.4 503.7h0M450.2 546.5h0M562.7 533.3h0M532.3 542.3h0M445.0 538.2h0M465.2 493.9h0M516.1 454.9h0M435.0 539.9h0M446.6 545.1h0M513.7 551.6h0M454.3 485.5h0M508.5 475.8h0M444.2 554.4h0M550.4 544.1h0M473.5 520.6h0M480.3 467.1h0M486.0 511.1h0M615.7 497.6h0M611.8 501.4h0M486.5 527.9h0M441.0 531.4h0M513.9 556.0h0M518.5 524.1h0M460.4 463.0h0M571.5 525.7h0M544.9 543.6h0M442.5 549.1h0M454.7 537.8h0M513.3 497.5h0M559.2 538.0h0M495.4 545.0h0M612.0 503.7h0M444.0 543.9h0M493.2 447.2h0M532.3 475.1h0M501.8 558.2h0M501.1 538.2h0M483.8 482.6h0M588.7 516.3h0M512.7 532.7h0M466.2 493.2h0M492.4 518.3h0M529.1 532.1h0M522.8 490.4h0M604.8 507.0h0M505.1 537.0h0M439.4 543.7h0M451.6 547.6h0M493.7 558.9h0M521.7 533.2h0M569.0 527.8h0M536.1 511.6h0M472.8 555.3h0M561.4 538.4h0M439.4 506.7h0M525.2 493.0h0M497.9 527.0h0M487.0 548.0h0M441.6 496.8h0M478.8 535.2h0M560.8 534.6h0M516.8 500.2h0M597.5 509.9h0M448.9 555.1h0M544.7 499.2h0M501.2 469.5h0M581.5 519.7h0M460.8 551.5h0M563.9 531.5h0M442.6 538.2h0M468.9 544.1h0M442.0 543.1h0M537.1 442.3h0M448.2 531.8h0M489.5 554.7h0M540.2 547.8h0M539.5 544.7h0M443.7 533.0h0M529.5 557.7h0M487.1 506.5h0M468.7 534.2h0M430.6 545.9h0M543.6 492.4h0M457.9 548.4h0M481.2 545.1h0M546.1 545.2h0M509.6 519.2h0M425.7 554.0h0M471.9 489.6h0M541.5 544.1h0M467.8 524.8h0M559.2 539.3h0M498.5 532.9h0M447.6 556.6h0M436.4 537.2h0M534.1 487.9h0M446.7 519.5h0M462.6 542.5h0M609.0 501.8h0M495.8 475.8h0M597.1 512.6h0M584.7 516.2h0M499.6 516.9h0M480.0 529.8h0M460.0 519.8h0M426.7 549.3h0M478.9 548.3h0M497.6 557.0h0M482.8 551.9h0M576.0 528.4h0M427.1 553.9h0M423.9 544.8h0M511.7 496.7h0M477.3 550.3h0M472.1 552.0h0M485.5 537.5h0M518.1 554.6h0M603.7 507.3h0M443.6 530.3h0M574.8 524.1h0M471.4 509.4h0M517.2 515.7h0M602.7 505.0h0M452.6 539.2h0M471.7 529.8h0M469.2 552.4h0M481.4 544.6h0M454.4 466.6h0M563.1 535.0h0M438.5 545.4h0M445.4 554.9h0M493.9 520.4h0M548.0 542.6h0M464.4 530.4h0M497.6 552.1h0M496.0 505.5h0M528.4 553.4h0M428.0 543.3h0M433.9 557.3h0M519.9 544.6h0M502.7 538.9h0M546.5 546.6h0M432.9 549.8h0" fill="none" stroke="#FF963A" stroke-width="4.6" stroke-linecap="round" opacity="0.62"/>
<line x1="193.5" y1="560.7" x2="641.0" y2="560.7" stroke="#6A6A6A" stroke-width="2.1" stroke-dasharray="8.5 4"/>
<path d="M416.6 140.5L193.5 140.5L193.5 558.4L416.5 558.4" fill="none" stroke="#2F8AA6" stroke-width="1.2"/>
<path d="M417.3 558.4L417.3 140.5L640.0 140.5L640.0 558.4L417.3 558.4" fill="none" stroke="#F6923F" stroke-width="1.2"/>
<text x="213.4" y="176.0" font-size="20.6" fill="#45A9C5">Close : 9896</text>
<text x="492.6" y="176.0" font-size="20.6" fill="#F79646">Open : 12060</text>
<line x1="186.5" y1="567.8" x2="193.5" y2="567.8" stroke="#333" stroke-width="1.2"/>
<text x="180.5" y="575.1" font-size="20.6" fill="#000" text-anchor="end">0</text>
<line x1="186.5" y1="432.3" x2="193.5" y2="432.3" stroke="#333" stroke-width="1.2"/>
<text x="180.5" y="439.6" font-size="20.6" fill="#000" text-anchor="end">20</text>
<line x1="186.5" y1="296.8" x2="193.5" y2="296.8" stroke="#333" stroke-width="1.2"/>
<text x="180.5" y="304.1" font-size="20.6" fill="#000" text-anchor="end">40</text>
<line x1="186.5" y1="161.3" x2="193.5" y2="161.3" stroke="#333" stroke-width="1.2"/>
<text x="180.5" y="168.6" font-size="20.6" fill="#000" text-anchor="end">60</text>
<line x1="290.0" y1="587.5" x2="290.0" y2="594.5" stroke="#333" stroke-width="1.2"/>
<text x="290.0" y="616.0" font-size="20.6" fill="#000" text-anchor="middle">−5</text>
<line x1="417.0" y1="587.5" x2="417.0" y2="594.5" stroke="#333" stroke-width="1.2"/>
<text x="417.0" y="616.0" font-size="20.6" fill="#000" text-anchor="middle">0</text>
<line x1="544.0" y1="587.5" x2="544.0" y2="594.5" stroke="#333" stroke-width="1.2"/>
<text x="544.0" y="616.0" font-size="20.6" fill="#000" text-anchor="middle">5</text>
<text x="417.0" y="648.0" font-size="24.7" fill="#000" text-anchor="middle">log2FC</text>
<text x="145.5" y="365.0" font-size="24.7" fill="#000" text-anchor="middle" transform="rotate(-90 145.5 365.0)">−log10(q)</text>
<path d="M272.8 558.5V652.5H212.2V682" fill="none" stroke="#45A9C5" stroke-width="2.3"/>
<path d="M203.9 680.5H220.3L212.1 696Z" fill="#45A9C5"/>
<path d="M577 558.5V652.5H637.9V682" fill="none" stroke="#F6923F" stroke-width="2.3"/>
<path d="M629.6 680.5H646L637.8 696Z" fill="#F6923F"/>
<path d="M212.70 782.60A123.3 123.3 0 0 1 232.12 1027.66L226.18 990.43A85.6 85.6 0 0 0 212.70 820.30Z" fill="#D3DCE0" stroke="#fff" stroke-width="1.3" stroke-linejoin="round"/>
<path d="M232.12 1027.66A123.3 123.3 0 0 1 154.60 797.15L172.36 830.40A85.6 85.6 0 0 0 226.18 990.43Z" fill="#D2DC8E" stroke="#fff" stroke-width="1.3" stroke-linejoin="round"/>
<path d="M154.60 797.15A123.3 123.3 0 0 1 180.81 786.79L190.56 823.21A85.6 85.6 0 0 0 172.36 830.40Z" fill="#EE7DA6" stroke="#fff" stroke-width="1.3" stroke-linejoin="round"/>
<path d="M180.81 786.79A123.3 123.3 0 0 1 193.39 784.12L199.29 821.36A85.6 85.6 0 0 0 190.56 823.21Z" fill="#A29EE6" stroke="#fff" stroke-width="1.3" stroke-linejoin="round"/>
<path d="M193.39 784.12A123.3 123.3 0 0 1 202.17 783.05L205.39 820.61A85.6 85.6 0 0 0 199.29 821.36Z" fill="#F2AEEB" stroke="#fff" stroke-width="1.3" stroke-linejoin="round"/>
<path d="M202.17 783.05A123.3 123.3 0 0 1 209.75 782.64L210.65 820.32A85.6 85.6 0 0 0 205.39 820.61Z" fill="#9A6FB0" stroke="#fff" stroke-width="1.3" stroke-linejoin="round"/>
<path d="M209.75 782.64A123.3 123.3 0 0 1 212.70 782.60L212.70 820.30A85.6 85.6 0 0 0 210.65 820.32Z" fill="#E6CF69" stroke="#fff" stroke-width="1.3" stroke-linejoin="round"/>
<circle cx="212.7" cy="905.9" r="77.4" fill="#E3F2F9"/>
<text x="212.3" y="892.0" font-size="28.8" fill="#45A9C5" text-anchor="middle">Close</text>
<rect x="158.5" y="903.7" width="107.5" height="30.1" fill="#fff" stroke="#45A9C5" stroke-width="1.9" rx="6.3"/>
<path d="M169.9 928.2C175.3 904.1 191.4 904.1 196.8 928.2Z" fill="#5B68B6"/>
<line x1="204.7" y1="919.8" x2="215.4" y2="919.8" stroke="#000" stroke-width="1.341"/>
<path d="M222.9 919.8L214.4 915.3L214.4 924.3Z" fill="#000"/>
<path d="M229.1 928.2C233.3 922.1 246.0 922.1 250.2 928.2Z" fill="#86B55A"/>
<line x1="104.8" y1="788.2" x2="168.9" y2="796.3" stroke="#111" stroke-width="1.1"/>
<line x1="160.2" y1="773.2" x2="187.9" y2="790.5" stroke="#111" stroke-width="1.1"/>
<line x1="305.4" y1="772.9" x2="212.1" y2="787.7" stroke="#111" stroke-width="1.1"/>
<text x="192.7" y="729.2" font-size="20.6" fill="#000" text-anchor="middle">TTS</text>
<text x="198.0" y="752.0" font-size="20.6" fill="#000" text-anchor="middle">1.1%</text>
<text x="194.0" y="773.0" font-size="20.6" fill="#000" text-anchor="middle">42</text>
<text x="255.3" y="729.2" font-size="20.6" fill="#000" text-anchor="middle">3' UTR</text>
<text x="259.5" y="752.0" font-size="20.6" fill="#000" text-anchor="middle">1.0%</text>
<text x="255.0" y="773.0" font-size="20.6" fill="#000" text-anchor="middle">36</text>
<text x="328.7" y="729.2" font-size="20.6" fill="#000" text-anchor="middle">5' UTR</text>
<text x="333.0" y="752.0" font-size="20.6" fill="#000" text-anchor="middle">0.4%</text>
<text x="328.0" y="773.0" font-size="20.6" fill="#000" text-anchor="middle">14</text>
<text x="135.0" y="737.4" font-size="20.6" fill="#000" text-anchor="middle">exon</text>
<text x="145.5" y="760.5" font-size="20.6" fill="#000" text-anchor="middle">1.7%</text>
<text x="139.5" y="782.6" font-size="20.6" fill="#000" text-anchor="middle">61</text>
<text x="67.6" y="762.2" font-size="20.6" fill="#C2548D" text-anchor="middle">promoter</text>
<text x="67.3" y="785.7" font-size="20.6" fill="#C2548D" text-anchor="middle">−TSS</text>
<text x="67.7" y="803.5" font-size="20.6" fill="#000" text-anchor="middle">3.6%</text>
<text x="67.7" y="826.4" font-size="20.6" fill="#000" text-anchor="middle">134</text>
<text x="385.5" y="884.9" font-size="20.6" fill="#000" text-anchor="middle">Intergenic</text>
<text x="388.0" y="906.6" font-size="20.6" fill="#000" text-anchor="middle">47.5%</text>
<text x="386.5" y="928.2" font-size="20.6" fill="#000" text-anchor="middle">1745</text>
<text x="58.5" y="911.5" font-size="20.6" fill="#000" text-anchor="middle">intron</text>
<text x="58.5" y="933.2" font-size="20.6" fill="#000" text-anchor="middle">44.7%</text>
<text x="58.5" y="954.9" font-size="20.6" fill="#000" text-anchor="middle">1643</text>
<path d="M642.30 778.20A123.3 123.3 0 0 1 728.24 989.92L701.96 962.88A85.6 85.6 0 0 0 642.30 815.90Z" fill="#D2DC8E" stroke="#fff" stroke-width="1.3" stroke-linejoin="round"/>
<path d="M728.24 989.92A123.3 123.3 0 0 1 522.39 930.20L559.05 921.43A85.6 85.6 0 0 0 701.96 962.88Z" fill="#D3DCE0" stroke="#fff" stroke-width="1.3" stroke-linejoin="round"/>
<path d="M522.39 930.20A123.3 123.3 0 0 1 597.77 786.52L611.39 821.68A85.6 85.6 0 0 0 559.05 921.43Z" fill="#EE7DA6" stroke="#fff" stroke-width="1.3" stroke-linejoin="round"/>
<path d="M597.77 786.52A123.3 123.3 0 0 1 615.64 781.12L623.79 817.92A85.6 85.6 0 0 0 611.39 821.68Z" fill="#A29EE6" stroke="#fff" stroke-width="1.3" stroke-linejoin="round"/>
<path d="M615.64 781.12A123.3 123.3 0 0 1 628.08 779.02L632.43 816.47A85.6 85.6 0 0 0 623.79 817.92Z" fill="#E6CF69" stroke="#fff" stroke-width="1.3" stroke-linejoin="round"/>
<path d="M628.08 779.02A123.3 123.3 0 0 1 637.40 778.30L638.89 815.97A85.6 85.6 0 0 0 632.43 816.47Z" fill="#F2AEEB" stroke="#fff" stroke-width="1.3" stroke-linejoin="round"/>
<path d="M637.40 778.30A123.3 123.3 0 0 1 642.30 778.20L642.30 815.90A85.6 85.6 0 0 0 638.89 815.97Z" fill="#9A6FB0" stroke="#fff" stroke-width="1.3" stroke-linejoin="round"/>
<circle cx="642.3" cy="901.5" r="77.4" fill="#FEEFE3"/>
<text x="642.5" y="887.8" font-size="28.8" fill="#F6923F" text-anchor="middle">Open</text>
<rect x="588.5" y="903.7" width="107.5" height="30.1" fill="#fff" stroke="#F6923F" stroke-width="1.9" rx="6.3"/>
<path d="M603.3 928.2C607.5 922.1 620.4 922.1 624.7 928.2Z" fill="#5B68B6"/>
<line x1="632.5" y1="919.8" x2="642.8" y2="919.8" stroke="#000" stroke-width="1.341"/>
<path d="M650.3 919.8L641.8 915.3L641.8 924.3Z" fill="#000"/>
<path d="M656.6 928.2C661.9 904.1 678.0 904.1 683.3 928.2Z" fill="#86B55A"/>
<line x1="533.0" y1="772.9" x2="607.5" y2="783.9" stroke="#111" stroke-width="1.1"/>
<line x1="589.6" y1="744.9" x2="621.9" y2="781.0" stroke="#111" stroke-width="1.1"/>
<text x="560.2" y="724.7" font-size="20.6" fill="#000" text-anchor="middle">5' UTR</text>
<text x="567.5" y="747.8" font-size="20.6" fill="#000" text-anchor="middle">1.6%</text>
<text x="562.3" y="769.5" font-size="20.6" fill="#000" text-anchor="middle">54</text>
<text x="623.0" y="724.7" font-size="20.6" fill="#000" text-anchor="middle">TTS</text>
<text x="635.5" y="747.8" font-size="20.6" fill="#000" text-anchor="middle">1.2%</text>
<text x="630.5" y="769.5" font-size="20.6" fill="#000" text-anchor="middle">40</text>
<text x="695.5" y="724.7" font-size="20.6" fill="#000" text-anchor="middle">3' UTR</text>
<text x="695.5" y="747.8" font-size="20.6" fill="#000" text-anchor="middle">0.6%</text>
<text x="694.8" y="769.5" font-size="20.6" fill="#000" text-anchor="middle">21</text>
<text x="502.2" y="745.8" font-size="20.6" fill="#000" text-anchor="middle">exon</text>
<text x="502.4" y="767.5" font-size="20.6" fill="#000" text-anchor="middle">2.4%</text>
<text x="502.4" y="789.7" font-size="20.6" fill="#000" text-anchor="middle">80</text>
<text x="490.6" y="822.9" font-size="20.6" fill="#C2548D" text-anchor="middle">promoter</text>
<text x="490.3" y="847.4" font-size="20.6" fill="#C2548D" text-anchor="middle">−TSS</text>
<text x="489.9" y="869.9" font-size="20.6" fill="#000" text-anchor="middle">22.9%</text>
<text x="490.5" y="892.1" font-size="20.6" fill="#000" text-anchor="middle">758</text>
<text x="798.6" y="855.5" font-size="20.6" fill="#000" text-anchor="middle">intron</text>
<text x="799.1" y="877.7" font-size="20.6" fill="#000" text-anchor="middle">37.7%</text>
<text x="798.7" y="899.9" font-size="20.6" fill="#000" text-anchor="middle">1251</text>
<text x="559.8" y="1038.5" font-size="20.6" fill="#000" text-anchor="middle">Intergenic</text>
<text x="559.4" y="1060.4" font-size="20.6" fill="#000" text-anchor="middle">33.5%</text>
<text x="559.8" y="1081.2" font-size="20.6" fill="#000" text-anchor="middle">1112</text>
<text x="1232.4" y="45.6" font-size="28.8" fill="#000">Normal</text>
<text x="1332.6" y="45.6" font-size="28.8" fill="#5B67B5">Stem</text>
<line x1="1412.8" y1="36.4" x2="1429.4" y2="36.4" stroke="#000" stroke-width="2.2"/>
<path d="M1445.4 36.4L1428.4 29.1L1428.4 43.7Z" fill="#000"/>
<text x="1456.6" y="45.6" font-size="28.8" fill="#000">Normal</text>
<text x="1557.1" y="45.6" font-size="28.8" fill="#78A84A">Pro</text>
<text x="1205.3" y="81.0" font-size="20.6" fill="#45A9C5" text-anchor="middle">Close</text>
<text x="1657.7" y="81.0" font-size="20.6" fill="#F6923F" text-anchor="middle">Open</text>
<rect x="1133.8" y="88.6" width="144.3" height="40.4" fill="#fff" stroke="#45A9C5" stroke-width="2.1" rx="8.5"/>
<path d="M1149.1 121.5C1156.3 89.1 1178.0 89.1 1185.2 121.5Z" fill="#5B68B6"/>
<line x1="1195.8" y1="110.2" x2="1209.8" y2="110.2" stroke="#000" stroke-width="1.8"/>
<path d="M1220.3 110.2L1208.8 104.2L1208.8 116.2Z" fill="#000"/>
<path d="M1228.5 121.5C1234.2 113.2 1251.2 113.2 1256.9 121.5Z" fill="#86B55A"/>
<rect x="1585.8" y="88.6" width="144.3" height="40.4" fill="#fff" stroke="#F6923F" stroke-width="2.1" rx="8.5"/>
<path d="M1605.6 121.5C1611.4 113.2 1628.6 113.2 1634.4 121.5Z" fill="#5B68B6"/>
<line x1="1644.8" y1="110.2" x2="1658.3" y2="110.2" stroke="#000" stroke-width="1.8"/>
<path d="M1668.8 110.2L1657.3 104.2L1657.3 116.2Z" fill="#000"/>
<path d="M1677.2 121.5C1684.4 89.1 1705.9 89.1 1713.1 121.5Z" fill="#86B55A"/>
<line x1="1174.2" y1="147.3" x2="1174.2" y2="1047.1" stroke="#E2E2E2" stroke-width="2.0"/>
<line x1="1210.6" y1="147.3" x2="1210.6" y2="1047.1" stroke="#E2E2E2" stroke-width="2.0"/>
<line x1="1246.7" y1="147.3" x2="1246.7" y2="1047.1" stroke="#E2E2E2" stroke-width="2.0"/>
<line x1="1282.7" y1="147.3" x2="1282.7" y2="1047.1" stroke="#E2E2E2" stroke-width="2.0"/>
<rect x="1174.2" y="155.1" width="139.8" height="12.8" fill="#333333"/>
<rect x="1156.2" y="155.1" width="11.8" height="12.8" fill="#005CA9"/>
<text x="1149.3" y="168.7" font-size="20.6" fill="#005CA9" text-anchor="end">Atf3(bZIP)</text>
<rect x="1174.2" y="176.9" width="139.2" height="12.8" fill="#333333"/>
<rect x="1156.2" y="176.9" width="11.8" height="12.8" fill="#005CA9"/>
<text x="1149.3" y="190.5" font-size="20.6" fill="#005CA9" text-anchor="end">Fra1(bZIP)</text>
<rect x="1174.2" y="198.7" width="136.8" height="12.8" fill="#333333"/>
<rect x="1156.2" y="198.7" width="11.8" height="12.8" fill="#005CA9"/>
<text x="1149.3" y="212.3" font-size="20.6" fill="#005CA9" text-anchor="end">BATF(bZIP)</text>
<rect x="1174.2" y="220.6" width="135.9" height="12.8" fill="#333333"/>
<rect x="1156.2" y="220.6" width="11.8" height="12.8" fill="#005CA9"/>
<text x="1149.3" y="234.2" font-size="20.6" fill="#005CA9" text-anchor="end">Fra2(bZIP)</text>
<rect x="1174.2" y="242.4" width="131.7" height="12.8" fill="#333333"/>
<rect x="1156.2" y="242.4" width="11.8" height="12.8" fill="#005CA9"/>
<text x="1149.3" y="256.0" font-size="20.6" fill="#005CA9" text-anchor="end">Fos(bZIP)</text>
<rect x="1174.2" y="264.2" width="131.7" height="12.8" fill="#333333"/>
<rect x="1156.2" y="264.2" width="11.8" height="12.8" fill="#005CA9"/>
<text x="1149.3" y="277.8" font-size="20.6" fill="#005CA9" text-anchor="end">AP−1(bZIP)</text>
<rect x="1174.2" y="286.0" width="130.8" height="12.8" fill="#333333"/>
<rect x="1156.2" y="286.0" width="11.8" height="12.8" fill="#005CA9"/>
<text x="1149.3" y="299.6" font-size="20.6" fill="#005CA9" text-anchor="end">JunB(bZIP)</text>
<rect x="1174.2" y="307.8" width="127.5" height="12.8" fill="#333333"/>
<rect x="1156.2" y="307.8" width="11.8" height="12.8" fill="#388EA3"/>
<text x="1149.3" y="321.4" font-size="20.6" fill="#388EA3" text-anchor="end">HoxC9(Homeobox)</text>
<rect x="1174.2" y="329.7" width="105.8" height="12.8" fill="#333333"/>
<rect x="1156.2" y="329.7" width="11.8" height="12.8" fill="#005CA9"/>
<text x="1149.3" y="343.3" font-size="20.6" fill="#005CA9" text-anchor="end">Fosl2(bZIP)</text>
<rect x="1174.2" y="351.5" width="102.5" height="12.8" fill="#333333"/>
<rect x="1156.2" y="351.5" width="11.8" height="12.8" fill="#005CA9"/>
<text x="1149.3" y="365.1" font-size="20.6" fill="#005CA9" text-anchor="end">Jun−AP1(bZIP)</text>
<rect x="1174.2" y="373.3" width="97.4" height="12.8" fill="#333333"/>
<rect x="1156.2" y="373.3" width="11.8" height="12.8" fill="#388EA3"/>
<text x="1149.3" y="386.9" font-size="20.6" fill="#388EA3" text-anchor="end">HoxA9(Homeobox)</text>
<rect x="1174.2" y="395.1" width="89.0" height="12.8" fill="#333333"/>
<rect x="1156.2" y="395.1" width="11.8" height="12.8" fill="#388EA3"/>
<text x="1149.3" y="408.7" font-size="20.6" fill="#388EA3" text-anchor="end">PBX2(Homeobox)</text>
<rect x="1174.2" y="416.9" width="85.7" height="12.8" fill="#333333"/>
<rect x="1156.2" y="416.9" width="11.8" height="12.8" fill="#005CA9"/>
<text x="1149.3" y="430.5" font-size="20.6" fill="#005CA9" text-anchor="end">Bach2(bZIP)</text>
<rect x="1174.2" y="438.8" width="53.8" height="12.8" fill="#333333"/>
<rect x="1156.2" y="438.8" width="11.8" height="12.8" fill="#005CA9"/>
<text x="1149.3" y="452.4" font-size="20.6" fill="#005CA9" text-anchor="end">Bach1(bZIP)</text>
<rect x="1174.2" y="460.6" width="51.7" height="12.8" fill="#333333"/>
<rect x="1156.2" y="460.6" width="11.8" height="12.8" fill="#388EA3"/>
<text x="1149.3" y="474.2" font-size="20.6" fill="#388EA3" text-anchor="end">ERG(ETS)</text>
<rect x="1174.2" y="482.4" width="51.4" height="12.8" fill="#333333"/>
<rect x="1156.2" y="482.4" width="11.8" height="12.8" fill="#388EA3"/>
<text x="1149.3" y="496.0" font-size="20.6" fill="#388EA3" text-anchor="end">Pdx1(Homeobox)</text>
<rect x="1174.2" y="504.2" width="49.6" height="12.8" fill="#333333"/>
<rect x="1156.2" y="504.2" width="11.8" height="12.8" fill="#005CA9"/>
<text x="1149.3" y="517.8" font-size="20.6" fill="#005CA9" text-anchor="end">NF−E2(bZIP)</text>
<rect x="1174.2" y="526.0" width="48.7" height="12.8" fill="#333333"/>
<rect x="1156.2" y="526.0" width="11.8" height="12.8" fill="#005CA9"/>
<text x="1149.3" y="539.6" font-size="20.6" fill="#005CA9" text-anchor="end">MafK(bZIP)</text>
<rect x="1174.2" y="547.9" width="45.4" height="12.8" fill="#333333"/>
<rect x="1156.2" y="547.9" width="11.8" height="12.8" fill="#005CA9"/>
<text x="1149.3" y="561.5" font-size="20.6" fill="#005CA9" text-anchor="end">NRF2(bZIP)</text>
<rect x="1174.2" y="569.7" width="38.8" height="12.8" fill="#333333"/>
<rect x="1156.2" y="569.7" width="11.8" height="12.8" fill="#388EA3"/>
<text x="1149.3" y="583.3" font-size="20.6" fill="#388EA3" text-anchor="end">CDX4(Homeobox)</text>
<rect x="1174.2" y="591.5" width="36.7" height="12.8" fill="#333333"/>
<rect x="1156.2" y="591.5" width="11.8" height="12.8" fill="#388EA3"/>
<text x="1149.3" y="605.1" font-size="20.6" fill="#388EA3" text-anchor="end">EWS:FLI1−fusion(ETS)</text>
<rect x="1174.2" y="613.3" width="36.7" height="12.8" fill="#333333"/>
<rect x="1156.2" y="613.3" width="11.8" height="12.8" fill="#E0E0E0"/>
<text x="1149.3" y="626.9" font-size="20.6" fill="#9E9E9E" text-anchor="end">NFE2L2(bZIP)</text>
<rect x="1174.2" y="635.1" width="35.5" height="12.8" fill="#333333"/>
<rect x="1156.2" y="635.1" width="11.8" height="12.8" fill="#388EA3"/>
<text x="1149.3" y="648.7" font-size="20.6" fill="#388EA3" text-anchor="end">FLI1(ETS)</text>
<rect x="1174.2" y="657.0" width="30.7" height="12.8" fill="#333333"/>
<rect x="1156.2" y="657.0" width="11.8" height="12.8" fill="#005CA9"/>
<text x="1149.3" y="670.6" font-size="20.6" fill="#005CA9" text-anchor="end">EWS:ERG−fusion(ETS)</text>
<rect x="1174.2" y="678.8" width="30.4" height="12.8" fill="#333333"/>
<rect x="1156.2" y="678.8" width="11.8" height="12.8" fill="#388EA3"/>
<text x="1149.3" y="692.4" font-size="20.6" fill="#388EA3" text-anchor="end">ETV2(ETS)</text>
<rect x="1174.2" y="700.6" width="29.5" height="12.8" fill="#333333"/>
<rect x="1156.2" y="700.6" width="11.8" height="12.8" fill="#005CA9"/>
<text x="1149.3" y="714.2" font-size="20.6" fill="#005CA9" text-anchor="end">MafA(bZIP)</text>
<rect x="1174.2" y="722.4" width="28.9" height="12.8" fill="#333333"/>
<rect x="1156.2" y="722.4" width="11.8" height="12.8" fill="#9B786D"/>
<text x="1149.3" y="736.0" font-size="20.6" fill="#9B786D" text-anchor="end">ETS:E−box(ETS,bHLH)</text>
<rect x="1174.2" y="744.2" width="27.7" height="12.8" fill="#333333"/>
<rect x="1156.2" y="744.2" width="11.8" height="12.8" fill="#005CA9"/>
<text x="1149.3" y="757.8" font-size="20.6" fill="#005CA9" text-anchor="end">MafB(bZIP)</text>
<rect x="1174.2" y="766.1" width="23.8" height="12.8" fill="#333333"/>
<rect x="1156.2" y="766.1" width="11.8" height="12.8" fill="#388EA3"/>
<text x="1149.3" y="779.7" font-size="20.6" fill="#388EA3" text-anchor="end">ETV1(ETS)</text>
<rect x="1174.2" y="787.9" width="21.6" height="12.8" fill="#333333"/>
<rect x="1156.2" y="787.9" width="11.8" height="12.8" fill="#005CA9"/>
<text x="1149.3" y="801.5" font-size="20.6" fill="#005CA9" text-anchor="end">SPDEF(ETS)</text>
<rect x="1174.2" y="809.7" width="19.8" height="12.8" fill="#333333"/>
<rect x="1156.2" y="809.7" width="11.8" height="12.8" fill="#388EA3"/>
<text x="1149.3" y="823.3" font-size="20.6" fill="#388EA3" text-anchor="end">HoxA1(Homeobox)</text>
<rect x="1174.2" y="831.5" width="19.5" height="12.8" fill="#333333"/>
<rect x="1156.2" y="831.5" width="11.8" height="12.8" fill="#388EA3"/>
<text x="1149.3" y="845.1" font-size="20.6" fill="#388EA3" text-anchor="end">ETS1(ETS)</text>
<rect x="1174.2" y="853.3" width="19.2" height="12.8" fill="#333333"/>
<rect x="1156.2" y="853.3" width="11.8" height="12.8" fill="#005CA9"/>
<text x="1149.3" y="866.9" font-size="20.6" fill="#005CA9" text-anchor="end">NF1(CTF)</text>
<rect x="1174.2" y="875.2" width="18.9" height="12.8" fill="#333333"/>
<rect x="1156.2" y="875.2" width="11.8" height="12.8" fill="#388EA3"/>
<text x="1149.3" y="888.8" font-size="20.6" fill="#388EA3" text-anchor="end">ETV4(ETS)</text>
<rect x="1174.2" y="897.0" width="16.5" height="12.8" fill="#333333"/>
<rect x="1156.2" y="897.0" width="11.8" height="12.8" fill="#388EA3"/>
<text x="1149.3" y="910.6" font-size="20.6" fill="#388EA3" text-anchor="end">EHF(ETS)</text>
<rect x="1174.2" y="918.8" width="15.0" height="12.8" fill="#333333"/>
<rect x="1156.2" y="918.8" width="11.8" height="12.8" fill="#005CA9"/>
<text x="1149.3" y="932.4" font-size="20.6" fill="#005CA9" text-anchor="end">CDX2(Homeobox)</text>
<rect x="1174.2" y="940.6" width="14.4" height="12.8" fill="#333333"/>
<rect x="1156.2" y="940.6" width="11.8" height="12.8" fill="#9B786D"/>
<text x="1149.3" y="954.2" font-size="20.6" fill="#9B786D" text-anchor="end">FOXO1(Forkhead)</text>
<rect x="1174.2" y="962.4" width="13.5" height="12.8" fill="#333333"/>
<rect x="1156.2" y="962.4" width="11.8" height="12.8" fill="#388EA3"/>
<text x="1149.3" y="976.0" font-size="20.6" fill="#388EA3" text-anchor="end">RUNX1(Runt)</text>
<rect x="1174.2" y="984.3" width="12.9" height="12.8" fill="#333333"/>
<rect x="1156.2" y="984.3" width="11.8" height="12.8" fill="#388EA3"/>
<text x="1149.3" y="997.9" font-size="20.6" fill="#388EA3" text-anchor="end">HoxB13(Homeobox)</text>
<rect x="1174.2" y="1006.1" width="12.6" height="12.8" fill="#333333"/>
<rect x="1156.2" y="1006.1" width="11.8" height="12.8" fill="#62C6DF"/>
<text x="1149.3" y="1019.7" font-size="20.6" fill="#62C6DF" text-anchor="end">HoxB4(Homeobox)</text>
<rect x="1174.2" y="1027.9" width="11.4" height="12.8" fill="#333333"/>
<rect x="1156.2" y="1027.9" width="11.8" height="12.8" fill="#388EA3"/>
<text x="1149.3" y="1041.5" font-size="20.6" fill="#388EA3" text-anchor="end">GABPA(ETS)</text>
<line x1="1174.2" y1="147.3" x2="1174.2" y2="1047.1" stroke="#fff" stroke-width="1.6" opacity="0.11"/>
<line x1="1210.6" y1="147.3" x2="1210.6" y2="1047.1" stroke="#fff" stroke-width="1.6" opacity="0.11"/>
<line x1="1246.7" y1="147.3" x2="1246.7" y2="1047.1" stroke="#fff" stroke-width="1.6" opacity="0.11"/>
<line x1="1282.7" y1="147.3" x2="1282.7" y2="1047.1" stroke="#fff" stroke-width="1.6" opacity="0.11"/>
<line x1="1167.0" y1="1047.1" x2="1321.0" y2="1047.1" stroke="#000" stroke-width="1.5"/>
<line x1="1174.2" y1="1047.1" x2="1174.2" y2="1054.1" stroke="#000" stroke-width="1.5"/>
<text x="1174.2" y="1080.3" font-size="20.6" fill="#000" text-anchor="middle">0</text>
<line x1="1210.6" y1="1047.1" x2="1210.6" y2="1054.1" stroke="#000" stroke-width="1.5"/>
<text x="1210.6" y="1080.3" font-size="20.6" fill="#000" text-anchor="middle">100</text>
<line x1="1246.7" y1="1047.1" x2="1246.7" y2="1054.1" stroke="#000" stroke-width="1.5"/>
<text x="1246.7" y="1080.3" font-size="20.6" fill="#000" text-anchor="middle">200</text>
<line x1="1282.7" y1="1047.1" x2="1282.7" y2="1054.1" stroke="#000" stroke-width="1.5"/>
<text x="1282.7" y="1080.3" font-size="20.6" fill="#000" text-anchor="middle">300</text>
<text x="1244.3" y="1113.6" font-size="24.7" fill="#000" text-anchor="middle">−logP</text>
<line x1="1627.8" y1="143.5" x2="1627.8" y2="889.5" stroke="#E2E2E2" stroke-width="2.0"/>
<line x1="1666.8" y1="143.5" x2="1666.8" y2="889.5" stroke="#E2E2E2" stroke-width="2.0"/>
<line x1="1705.4" y1="143.5" x2="1705.4" y2="889.5" stroke="#E2E2E2" stroke-width="2.0"/>
<line x1="1744.4" y1="143.5" x2="1744.4" y2="889.5" stroke="#E2E2E2" stroke-width="2.0"/>
<rect x="1627.8" y="151.1" width="132.8" height="12.8" fill="#333333"/>
<rect x="1609.1" y="151.1" width="11.8" height="12.8" fill="#9B786D"/>
<text x="1603.0" y="164.7" font-size="20.6" fill="#9B786D" text-anchor="end">EBF2(EBF)</text>
<rect x="1627.8" y="172.9" width="91.3" height="12.8" fill="#333333"/>
<rect x="1609.1" y="172.9" width="11.8" height="12.8" fill="#9B786D"/>
<text x="1603.0" y="186.5" font-size="20.6" fill="#9B786D" text-anchor="end">EBF(EBF)</text>
<rect x="1627.8" y="194.7" width="88.7" height="12.8" fill="#333333"/>
<rect x="1609.1" y="194.7" width="11.8" height="12.8" fill="#9B786D"/>
<text x="1603.0" y="208.3" font-size="20.6" fill="#9B786D" text-anchor="end">Ascl2(bHLH)</text>
<rect x="1627.8" y="216.5" width="84.9" height="12.8" fill="#333333"/>
<rect x="1609.1" y="216.5" width="11.8" height="12.8" fill="#9B786D"/>
<text x="1603.0" y="230.1" font-size="20.6" fill="#9B786D" text-anchor="end">E2A(bHLH)</text>
<rect x="1627.8" y="238.3" width="76.1" height="12.8" fill="#333333"/>
<rect x="1609.1" y="238.3" width="11.8" height="12.8" fill="#007A33"/>
<text x="1603.0" y="251.9" font-size="20.6" fill="#007A33" text-anchor="end">CEBP(bZIP)</text>
<rect x="1627.8" y="260.1" width="61.8" height="12.8" fill="#333333"/>
<rect x="1609.1" y="260.1" width="11.8" height="12.8" fill="#8F8F00"/>
<text x="1603.0" y="273.7" font-size="20.6" fill="#8F8F00" text-anchor="end">GATA3(Zf)</text>
<rect x="1627.8" y="281.9" width="61.5" height="12.8" fill="#333333"/>
<rect x="1609.1" y="281.9" width="11.8" height="12.8" fill="#9B786D"/>
<text x="1603.0" y="295.5" font-size="20.6" fill="#9B786D" text-anchor="end">HEB(bHLH)</text>
<rect x="1627.8" y="303.7" width="58.0" height="12.8" fill="#333333"/>
<rect x="1609.1" y="303.7" width="11.8" height="12.8" fill="#9B786D"/>
<text x="1603.0" y="317.3" font-size="20.6" fill="#9B786D" text-anchor="end">Ascl1(bHLH)</text>
<rect x="1627.8" y="325.5" width="58.0" height="12.8" fill="#333333"/>
<rect x="1609.1" y="325.5" width="11.8" height="12.8" fill="#8F8F00"/>
<text x="1603.0" y="339.1" font-size="20.6" fill="#8F8F00" text-anchor="end">GATA:SCL(Zf,bHLH)</text>
<rect x="1627.8" y="347.3" width="54.2" height="12.8" fill="#333333"/>
<rect x="1609.1" y="347.3" width="11.8" height="12.8" fill="#8F8F00"/>
<text x="1603.0" y="360.9" font-size="20.6" fill="#8F8F00" text-anchor="end">TRPS1(Zf)</text>
<rect x="1627.8" y="369.1" width="51.0" height="12.8" fill="#333333"/>
<rect x="1609.1" y="369.1" width="11.8" height="12.8" fill="#9B786D"/>
<text x="1603.0" y="382.7" font-size="20.6" fill="#9B786D" text-anchor="end">Myf5(bHLH)</text>
<rect x="1627.8" y="390.9" width="50.7" height="12.8" fill="#333333"/>
<rect x="1609.1" y="390.9" width="11.8" height="12.8" fill="#8F8F00"/>
<text x="1603.0" y="404.5" font-size="20.6" fill="#8F8F00" text-anchor="end">GATA4(Zf)</text>
<rect x="1627.8" y="412.7" width="49.1" height="12.8" fill="#333333"/>
<rect x="1609.1" y="412.7" width="11.8" height="12.8" fill="#9B786D"/>
<text x="1603.0" y="426.3" font-size="20.6" fill="#9B786D" text-anchor="end">Ap4(bHLH)</text>
<rect x="1627.8" y="434.5" width="48.8" height="12.8" fill="#333333"/>
<rect x="1609.1" y="434.5" width="11.8" height="12.8" fill="#9B786D"/>
<text x="1603.0" y="448.1" font-size="20.6" fill="#9B786D" text-anchor="end">TCF12(bHLH)</text>
<rect x="1627.8" y="456.3" width="48.2" height="12.8" fill="#333333"/>
<rect x="1609.1" y="456.3" width="11.8" height="12.8" fill="#9B786D"/>
<text x="1603.0" y="469.9" font-size="20.6" fill="#9B786D" text-anchor="end">Twist2(bHLH)</text>
<rect x="1627.8" y="478.1" width="46.9" height="12.8" fill="#333333"/>
<rect x="1609.1" y="478.1" width="11.8" height="12.8" fill="#9B786D"/>
<text x="1603.0" y="491.7" font-size="20.6" fill="#9B786D" text-anchor="end">Slug(Zf)</text>
<rect x="1627.8" y="499.9" width="46.3" height="12.8" fill="#333333"/>
<rect x="1609.1" y="499.9" width="11.8" height="12.8" fill="#8F8F00"/>
<text x="1603.0" y="513.5" font-size="20.6" fill="#8F8F00" text-anchor="end">GATA6(Zf)</text>
<rect x="1627.8" y="521.7" width="46.0" height="12.8" fill="#333333"/>
<rect x="1609.1" y="521.7" width="11.8" height="12.8" fill="#9B786D"/>
<text x="1603.0" y="535.3" font-size="20.6" fill="#9B786D" text-anchor="end">MyoG(bHLH)</text>
<rect x="1627.8" y="543.5" width="44.7" height="12.8" fill="#333333"/>
<rect x="1609.1" y="543.5" width="11.8" height="12.8" fill="#9B786D"/>
<text x="1603.0" y="557.1" font-size="20.6" fill="#9B786D" text-anchor="end">TCF21(bHLH)</text>
<rect x="1627.8" y="565.3" width="43.7" height="12.8" fill="#333333"/>
<rect x="1609.1" y="565.3" width="11.8" height="12.8" fill="#9B786D"/>
<text x="1603.0" y="578.9" font-size="20.6" fill="#9B786D" text-anchor="end">MyoD(bHLH)</text>
<rect x="1627.8" y="587.1" width="42.1" height="12.8" fill="#333333"/>
<rect x="1609.1" y="587.1" width="11.8" height="12.8" fill="#9B786D"/>
<text x="1603.0" y="600.7" font-size="20.6" fill="#9B786D" text-anchor="end">EBF1(EBF)</text>
<rect x="1627.8" y="608.9" width="41.2" height="12.8" fill="#333333"/>
<rect x="1609.1" y="608.9" width="11.8" height="12.8" fill="#9B786D"/>
<text x="1603.0" y="622.5" font-size="20.6" fill="#9B786D" text-anchor="end">Ptf1a(bHLH)</text>
<rect x="1627.8" y="630.7" width="39.9" height="12.8" fill="#333333"/>
<rect x="1609.1" y="630.7" width="11.8" height="12.8" fill="#9B786D"/>
<text x="1603.0" y="644.3" font-size="20.6" fill="#9B786D" text-anchor="end">BHLHA15(bHLH)</text>
<rect x="1627.8" y="652.5" width="39.0" height="12.8" fill="#333333"/>
<rect x="1609.1" y="652.5" width="11.8" height="12.8" fill="#8F8F00"/>
<text x="1603.0" y="666.1" font-size="20.6" fill="#8F8F00" text-anchor="end">GATA2(Zf)</text>
<rect x="1627.8" y="674.3" width="37.1" height="12.8" fill="#333333"/>
<rect x="1609.1" y="674.3" width="11.8" height="12.8" fill="#9B786D"/>
<text x="1603.0" y="687.9" font-size="20.6" fill="#9B786D" text-anchor="end">TCF4(bHLH)</text>
<rect x="1627.8" y="696.1" width="36.1" height="12.8" fill="#333333"/>
<rect x="1609.1" y="696.1" width="11.8" height="12.8" fill="#9B786D"/>
<text x="1603.0" y="709.7" font-size="20.6" fill="#9B786D" text-anchor="end">Atoh1(bHLH)</text>
<rect x="1627.8" y="717.9" width="33.6" height="12.8" fill="#333333"/>
<rect x="1609.1" y="717.9" width="11.8" height="12.8" fill="#9B786D"/>
<text x="1603.0" y="731.5" font-size="20.6" fill="#9B786D" text-anchor="end">PU.1:IRF8(ETS:IRF)</text>
<rect x="1627.8" y="739.7" width="32.0" height="12.8" fill="#333333"/>
<rect x="1609.1" y="739.7" width="11.8" height="12.8" fill="#8F8F00"/>
<text x="1603.0" y="753.3" font-size="20.6" fill="#8F8F00" text-anchor="end">GATA1(Zf)</text>
<rect x="1627.8" y="761.5" width="31.7" height="12.8" fill="#333333"/>
<rect x="1609.1" y="761.5" width="11.8" height="12.8" fill="#9B786D"/>
<text x="1603.0" y="775.1" font-size="20.6" fill="#9B786D" text-anchor="end">NeuroG2(bHLH)</text>
<rect x="1627.8" y="783.3" width="31.1" height="12.8" fill="#333333"/>
<rect x="1609.1" y="783.3" width="11.8" height="12.8" fill="#9B786D"/>
<text x="1603.0" y="796.9" font-size="20.6" fill="#9B786D" text-anchor="end">Snail1(Zf)</text>
<rect x="1627.8" y="805.1" width="27.9" height="12.8" fill="#333333"/>
<rect x="1609.1" y="805.1" width="11.8" height="12.8" fill="#9B786D"/>
<text x="1603.0" y="818.7" font-size="20.6" fill="#9B786D" text-anchor="end">E2A(bHLH),near_PU.1</text>
<rect x="1627.8" y="826.9" width="27.3" height="12.8" fill="#333333"/>
<rect x="1609.1" y="826.9" width="11.8" height="12.8" fill="#8F8F00"/>
<text x="1603.0" y="840.5" font-size="20.6" fill="#8F8F00" text-anchor="end">KLF3(Zf)</text>
<rect x="1627.8" y="848.7" width="26.0" height="12.8" fill="#333333"/>
<rect x="1609.1" y="848.7" width="11.8" height="12.8" fill="#007A33"/>
<text x="1603.0" y="862.3" font-size="20.6" fill="#007A33" text-anchor="end">CEBP:AP1(bZIP)</text>
<rect x="1627.8" y="870.5" width="25.0" height="12.8" fill="#333333"/>
<rect x="1609.1" y="870.5" width="11.8" height="12.8" fill="#007A33"/>
<text x="1603.0" y="884.1" font-size="20.6" fill="#007A33" text-anchor="end">HLF(bZIP)</text>
<line x1="1627.8" y1="143.5" x2="1627.8" y2="889.5" stroke="#fff" stroke-width="1.6" opacity="0.11"/>
<line x1="1666.8" y1="143.5" x2="1666.8" y2="889.5" stroke="#fff" stroke-width="1.6" opacity="0.11"/>
<line x1="1705.4" y1="143.5" x2="1705.4" y2="889.5" stroke="#fff" stroke-width="1.6" opacity="0.11"/>
<line x1="1744.4" y1="143.5" x2="1744.4" y2="889.5" stroke="#fff" stroke-width="1.6" opacity="0.11"/>
<line x1="1620.8" y1="889.5" x2="1767.3" y2="889.5" stroke="#000" stroke-width="1.5"/>
<line x1="1627.8" y1="889.5" x2="1627.8" y2="896.5" stroke="#000" stroke-width="1.5"/>
<text x="1627.8" y="921.9" font-size="20.6" fill="#000" text-anchor="middle">0</text>
<line x1="1666.8" y1="889.5" x2="1666.8" y2="896.5" stroke="#000" stroke-width="1.5"/>
<text x="1666.8" y="921.9" font-size="20.6" fill="#000" text-anchor="middle">50</text>
<line x1="1705.4" y1="889.5" x2="1705.4" y2="896.5" stroke="#000" stroke-width="1.5"/>
<text x="1705.4" y="921.9" font-size="20.6" fill="#000" text-anchor="middle">100</text>
<line x1="1744.4" y1="889.5" x2="1744.4" y2="896.5" stroke="#000" stroke-width="1.5"/>
<text x="1744.4" y="921.9" font-size="20.6" fill="#000" text-anchor="middle">150</text>
<text x="1694.2" y="955.7" font-size="24.7" fill="#000" text-anchor="middle">−logP</text>
<rect x="1804.0" y="734.0" width="20.2" height="16.0" fill="#005CA9"/>
<text x="1836.8" y="747.7" font-size="24.7" fill="#005CA9">HSC</text>
<rect x="1804.0" y="757.3" width="20.2" height="16.0" fill="#62C6DF"/>
<text x="1836.8" y="771.0" font-size="24.7" fill="#62C6DF">MPP</text>
<rect x="1804.0" y="780.6" width="20.2" height="16.0" fill="#388EA3"/>
<text x="1836.8" y="794.3" font-size="24.7" fill="#388EA3">MLP</text>
<rect x="1804.0" y="803.9" width="20.2" height="16.0" fill="#474B47"/>
<text x="1836.8" y="817.6" font-size="24.7" fill="#474B47">CMP</text>
<rect x="1804.0" y="827.2" width="20.2" height="16.0" fill="#007A33"/>
<text x="1836.8" y="840.9" font-size="24.7" fill="#007A33">GMP</text>
<rect x="1804.0" y="850.5" width="20.2" height="16.0" fill="#8F8F00"/>
<text x="1836.8" y="864.2" font-size="24.7" fill="#8F8F00">MEP</text>
<rect x="1804.0" y="873.8" width="20.2" height="16.0" fill="#9B786D"/>
<text x="1836.8" y="887.5" font-size="24.7" fill="#9B786D">CLP</text>
<text x="40.3" y="1254.0" font-size="28.8" fill="#000">Normal cells</text>
<rect x="33.6" y="1273.4" width="650.4" height="360.0" fill="#fff" stroke="#6A6A6A" stroke-width="2" rx="10"/>
<text x="64.8" y="1312.6" font-size="28.8" fill="#5B67B5">Stem</text>
<text x="169.8" y="1314.6" font-size="24.7" xml:space="preserve"><tspan fill="#555">Lin</tspan><tspan fill="#555" font-size="15" dy="-7.3">−</tspan><tspan dy="7.3" font-size="24.7">​</tspan><tspan fill="#555"> CD34</tspan><tspan fill="#555" font-size="15" dy="-7.3">+</tspan><tspan dy="7.3" font-size="24.7">​</tspan><tspan fill="#555"> CD38</tspan><tspan fill="#555" font-size="15" dy="-7.3">−</tspan><tspan dy="7.3" font-size="24.7">​</tspan></text>
<line x1="57.1" y1="1328.2" x2="656.8" y2="1328.2" stroke="#5B67B5" stroke-width="2"/>
<text x="94.1" y="1360.7" font-size="24.7" fill="#005CA9">HSC</text>
<text x="169.8" y="1360.7" font-size="24.7" xml:space="preserve"><tspan fill="#555">Lin</tspan><tspan fill="#555" font-size="15" dy="-7.3">−</tspan><tspan dy="7.3" font-size="24.7">​</tspan><tspan fill="#555"> CD34</tspan><tspan fill="#555" font-size="15" dy="-7.3">+</tspan><tspan dy="7.3" font-size="24.7">​</tspan><tspan fill="#555"> CD38</tspan><tspan fill="#555" font-size="15" dy="-7.3">−</tspan><tspan dy="7.3" font-size="24.7">​</tspan><tspan fill="#000"> CD90</tspan><tspan fill="#000" font-size="15" dy="-7.3">+</tspan><tspan dy="7.3" font-size="24.7">​</tspan><tspan fill="#000"> CD10</tspan><tspan fill="#000" font-size="15" dy="-7.3">−</tspan><tspan dy="7.3" font-size="24.7">​</tspan></text>
<line x1="76.1" y1="1351.4" x2="88.0" y2="1351.4" stroke="#888" stroke-width="1.3"/>
<text x="94.1" y="1391.2" font-size="24.7" fill="#62C6DF">MPP</text>
<text x="169.8" y="1391.2" font-size="24.7" xml:space="preserve"><tspan fill="#555">Lin</tspan><tspan fill="#555" font-size="15" dy="-7.3">−</tspan><tspan dy="7.3" font-size="24.7">​</tspan><tspan fill="#555"> CD34</tspan><tspan fill="#555" font-size="15" dy="-7.3">+</tspan><tspan dy="7.3" font-size="24.7">​</tspan><tspan fill="#555"> CD38</tspan><tspan fill="#555" font-size="15" dy="-7.3">−</tspan><tspan dy="7.3" font-size="24.7">​</tspan><tspan fill="#000"> CD90</tspan><tspan fill="#000" font-size="15" dy="-7.3">−</tspan><tspan dy="7.3" font-size="24.7">​</tspan><tspan fill="#000"> CD10</tspan><tspan fill="#000" font-size="15" dy="-7.3">−</tspan><tspan dy="7.3" font-size="24.7">​</tspan></text>
<line x1="76.1" y1="1381.9" x2="88.0" y2="1381.9" stroke="#888" stroke-width="1.3"/>
<text x="94.1" y="1421.7" font-size="24.7" fill="#388EA3">MLP</text>
<text x="169.8" y="1421.7" font-size="24.7" xml:space="preserve"><tspan fill="#555">Lin</tspan><tspan fill="#555" font-size="15" dy="-7.3">−</tspan><tspan dy="7.3" font-size="24.7">​</tspan><tspan fill="#555"> CD34</tspan><tspan fill="#555" font-size="15" dy="-7.3">+</tspan><tspan dy="7.3" font-size="24.7">​</tspan><tspan fill="#555"> CD38</tspan><tspan fill="#555" font-size="15" dy="-7.3">−</tspan><tspan dy="7.3" font-size="24.7">​</tspan><tspan fill="#000"> CD45RA</tspan><tspan fill="#000" font-size="15" dy="-7.3">+</tspan><tspan dy="7.3" font-size="24.7">​</tspan><tspan fill="#000"> CD10</tspan><tspan fill="#000" font-size="15" dy="-7.3">−</tspan><tspan dy="7.3" font-size="24.7">​</tspan></text>
<line x1="76.1" y1="1412.4" x2="88.0" y2="1412.4" stroke="#888" stroke-width="1.3"/>
<line x1="76.1" y1="1350.8" x2="76.1" y2="1413.0" stroke="#888" stroke-width="1.3"/>
<text x="65.1" y="1476.4" font-size="28.8" fill="#78A84A">Pro</text>
<text x="169.8" y="1478.2" font-size="24.7" xml:space="preserve"><tspan fill="#555">Lin</tspan><tspan fill="#555" font-size="15" dy="-7.3">−</tspan><tspan dy="7.3" font-size="24.7">​</tspan><tspan fill="#555"> CD34</tspan><tspan fill="#555" font-size="15" dy="-7.3">+</tspan><tspan dy="7.3" font-size="24.7">​</tspan><tspan fill="#555"> CD38</tspan><tspan fill="#555" font-size="15" dy="-7.3">+</tspan><tspan dy="7.3" font-size="24.7">​</tspan></text>
<line x1="57.1" y1="1490.7" x2="656.8" y2="1490.7" stroke="#78A84A" stroke-width="2"/>
<text x="94.1" y="1523.0" font-size="24.7" fill="#474B47">CMP</text>
<text x="169.8" y="1523.0" font-size="24.7" xml:space="preserve"><tspan fill="#555">Lin</tspan><tspan fill="#555" font-size="15" dy="-7.3">−</tspan><tspan dy="7.3" font-size="24.7">​</tspan><tspan fill="#555"> CD34</tspan><tspan fill="#555" font-size="15" dy="-7.3">+</tspan><tspan dy="7.3" font-size="24.7">​</tspan><tspan fill="#555"> CD38</tspan><tspan fill="#555" font-size="15" dy="-7.3">+</tspan><tspan dy="7.3" font-size="24.7">​</tspan><tspan fill="#000"> CD123</tspan><tspan fill="#000" font-size="15" dy="-7.3">+</tspan><tspan dy="7.3" font-size="24.7">​</tspan><tspan fill="#000"> CD45RA</tspan><tspan fill="#000" font-size="15" dy="-7.3">−</tspan><tspan dy="7.3" font-size="24.7">​</tspan><tspan fill="#000"> CD10</tspan><tspan fill="#000" font-size="15" dy="-7.3">−</tspan><tspan dy="7.3" font-size="24.7">​</tspan></text>
<line x1="76.1" y1="1513.7" x2="88.0" y2="1513.7" stroke="#888" stroke-width="1.3"/>
<text x="94.1" y="1553.0" font-size="24.7" fill="#007A33">GMP</text>
<text x="169.8" y="1553.0" font-size="24.7" xml:space="preserve"><tspan fill="#555">Lin</tspan><tspan fill="#555" font-size="15" dy="-7.3">−</tspan><tspan dy="7.3" font-size="24.7">​</tspan><tspan fill="#555"> CD34</tspan><tspan fill="#555" font-size="15" dy="-7.3">+</tspan><tspan dy="7.3" font-size="24.7">​</tspan><tspan fill="#555"> CD38</tspan><tspan fill="#555" font-size="15" dy="-7.3">+</tspan><tspan dy="7.3" font-size="24.7">​</tspan><tspan fill="#000"> CD123</tspan><tspan fill="#000" font-size="15" dy="-7.3">+</tspan><tspan dy="7.3" font-size="24.7">​</tspan><tspan fill="#000"> CD45RA</tspan><tspan fill="#000" font-size="15" dy="-7.3">+</tspan><tspan dy="7.3" font-size="24.7">​</tspan><tspan fill="#000"> CD10</tspan><tspan fill="#000" font-size="15" dy="-7.3">−</tspan><tspan dy="7.3" font-size="24.7">​</tspan></text>
<line x1="76.1" y1="1543.7" x2="88.0" y2="1543.7" stroke="#888" stroke-width="1.3"/>
<text x="94.1" y="1583.8" font-size="24.7" fill="#8F8F00">MEP</text>
<text x="169.8" y="1583.8" font-size="24.7" xml:space="preserve"><tspan fill="#555">Lin</tspan><tspan fill="#555" font-size="15" dy="-7.3">−</tspan><tspan dy="7.3" font-size="24.7">​</tspan><tspan fill="#555"> CD34</tspan><tspan fill="#555" font-size="15" dy="-7.3">+</tspan><tspan dy="7.3" font-size="24.7">​</tspan><tspan fill="#555"> CD38</tspan><tspan fill="#555" font-size="15" dy="-7.3">+</tspan><tspan dy="7.3" font-size="24.7">​</tspan><tspan fill="#000"> CD123</tspan><tspan fill="#000" font-size="15" dy="-7.3">−</tspan><tspan dy="7.3" font-size="24.7">​</tspan><tspan fill="#000"> CD45RA</tspan><tspan fill="#000" font-size="15" dy="-7.3">−</tspan><tspan dy="7.3" font-size="24.7">​</tspan><tspan fill="#000"> CD10</tspan><tspan fill="#000" font-size="15" dy="-7.3">−</tspan><tspan dy="7.3" font-size="24.7">​</tspan></text>
<line x1="76.1" y1="1574.5" x2="88.0" y2="1574.5" stroke="#888" stroke-width="1.3"/>
<text x="94.1" y="1615.2" font-size="24.7" fill="#9B786D">CLP</text>
<text x="169.8" y="1615.2" font-size="24.7" xml:space="preserve"><tspan fill="#555">Lin</tspan><tspan fill="#555" font-size="15" dy="-7.3">−</tspan><tspan dy="7.3" font-size="24.7">​</tspan><tspan fill="#555"> CD34</tspan><tspan fill="#555" font-size="15" dy="-7.3">+</tspan><tspan dy="7.3" font-size="24.7">​</tspan><tspan fill="#555"> CD38</tspan><tspan fill="#555" font-size="15" dy="-7.3">+</tspan><tspan dy="7.3" font-size="24.7">​</tspan><tspan fill="#000"> CD10</tspan><tspan fill="#000" font-size="15" dy="-7.3">+</tspan><tspan dy="7.3" font-size="24.7">​</tspan><tspan fill="#000"> CD45RA</tspan><tspan fill="#000" font-size="15" dy="-7.3">+</tspan><tspan dy="7.3" font-size="24.7">​</tspan></text>
<line x1="76.1" y1="1605.9" x2="88.0" y2="1605.9" stroke="#888" stroke-width="1.3"/>
<line x1="76.1" y1="1513.1" x2="76.1" y2="1606.5" stroke="#888" stroke-width="1.3"/>
<rect x="794.4" y="1232.2" width="451.4" height="451.2" fill="#fff" stroke="#111" stroke-width="1.4"/>
<line x1="812.5" y1="1683.4" x2="812.5" y2="1689.9" stroke="#222" stroke-width="1.3"/>
<text x="812.5" y="1710.6" font-size="20.6" fill="#000" text-anchor="middle">−2</text>
<line x1="912.5" y1="1683.4" x2="912.5" y2="1689.9" stroke="#222" stroke-width="1.3"/>
<text x="912.5" y="1710.6" font-size="20.6" fill="#000" text-anchor="middle">−1</text>
<line x1="1012.5" y1="1683.4" x2="1012.5" y2="1689.9" stroke="#222" stroke-width="1.3"/>
<text x="1012.5" y="1710.6" font-size="20.6" fill="#000" text-anchor="middle">0</text>
<line x1="1112.5" y1="1683.4" x2="1112.5" y2="1689.9" stroke="#222" stroke-width="1.3"/>
<text x="1112.5" y="1710.6" font-size="20.6" fill="#000" text-anchor="middle">1</text>
<line x1="1212.5" y1="1683.4" x2="1212.5" y2="1689.9" stroke="#222" stroke-width="1.3"/>
<text x="1212.5" y="1710.6" font-size="20.6" fill="#000" text-anchor="middle">2</text>
<line x1="787.9" y1="1674.2" x2="794.4" y2="1674.2" stroke="#222" stroke-width="1.3"/>
<text x="784.9" y="1682.2" font-size="20.6" fill="#000" text-anchor="end">−3</text>
<line x1="787.9" y1="1596.9" x2="794.4" y2="1596.9" stroke="#222" stroke-width="1.3"/>
<text x="784.9" y="1604.9" font-size="20.6" fill="#000" text-anchor="end">−2</text>
<line x1="787.9" y1="1519.6" x2="794.4" y2="1519.6" stroke="#222" stroke-width="1.3"/>
<text x="784.9" y="1527.6" font-size="20.6" fill="#000" text-anchor="end">−1</text>
<line x1="787.9" y1="1442.3" x2="794.4" y2="1442.3" stroke="#222" stroke-width="1.3"/>
<text x="784.9" y="1450.3" font-size="20.6" fill="#000" text-anchor="end">0</text>
<line x1="787.9" y1="1365.0" x2="794.4" y2="1365.0" stroke="#222" stroke-width="1.3"/>
<text x="784.9" y="1373.0" font-size="20.6" fill="#000" text-anchor="end">1</text>
<line x1="787.9" y1="1287.7" x2="794.4" y2="1287.7" stroke="#222" stroke-width="1.3"/>
<text x="784.9" y="1295.7" font-size="20.6" fill="#000" text-anchor="end">2</text>
<text x="1019.0" y="1739.7" font-size="24.7" fill="#000" text-anchor="middle">UMAP1</text>
<text x="752.5" y="1457.5" font-size="24.7" fill="#000" text-anchor="middle" transform="rotate(-90 752.5 1457.5)">UMAP2</text>
<path d="M942.6 1354.5L928.5 1458.0M900.4 1412.0L928.5 1458.0M962.6 1393.1L976.5 1441.0M1036.7 1312.6L923.4 1544.3M1006.4 1368.8L1091.5 1384.2M992.3 1393.9L889.1 1654.5M1077.1 1293.2L907.4 1632.6M979.7 1427.9L1059.9 1448.2M1006.4 1422.9L908.5 1663.6M1162.1 1324.4L908.5 1663.6M1122.4 1424.5L1083.6 1438.5M1223.9 1301.3L1037.2 1525.7M1164.5 1386.2L958.6 1632.3M1182.5 1367.0L989.0 1612.0M1065.7 1547.4L1031.7 1567.7M1128.2 1464.5L1022.0 1594.5M996.5 1329.4L831.3 1472.4M949.6 1430.6L902.6 1507.7M1043.3 1354.1L883.7 1619.8M1102.4 1326.8L1006.4 1467.8M1161.0 1252.5L922.6 1587.7M1080.5 1386.8L964.5 1534.0M1080.0 1418.3L1036.6 1457.2M1164.5 1333.7L934.5 1596.0M1154.8 1353.4L937.1 1633.6M1218.1 1277.4L984.8 1587.0M1191.0 1318.2L1001.0 1568.2M1003.8 1581.8L1066.0 1498.2M1091.5 1526.0L1030.5 1556.7M860.8 1417.8L852.7 1408.4M903.8 1361.5L901.2 1391.2M932.9 1389.6L899.9 1439.7M1010.4 1395.3L965.0 1579.2M1099.3 1313.8L895.7 1521.8M1199.3 1263.8L895.2 1578.4" fill="none" stroke="#C8C8C8" stroke-width="1.1"/>
<path d="M1096.0 1288.8L866.1 1540.5M1158.7 1280.2L878.8 1559.1M1167.8 1284.6L857.7 1569.5M1197.3 1296.1L858.5 1577.6" fill="none" stroke="#666" stroke-width="1.3"/>
<rect x="936.4" y="1348.3" width="12.4" height="12.4" fill="#C87058"/>
<rect x="1000.2" y="1362.6" width="12.4" height="12.4" fill="#C87058"/>
<rect x="956.4" y="1386.9" width="12.4" height="12.4" fill="#C87058"/>
<rect x="986.1" y="1387.7" width="12.4" height="12.4" fill="#C87058"/>
<rect x="973.5" y="1421.7" width="12.4" height="12.4" fill="#C87058"/>
<rect x="1000.2" y="1416.7" width="12.4" height="12.4" fill="#C87058"/>
<rect x="1030.5" y="1306.4" width="12.4" height="12.4" fill="#C87058"/>
<rect x="894.2" y="1405.8" width="12.4" height="12.4" fill="#C87058"/>
<rect x="1070.9" y="1287.0" width="12.4" height="12.4" fill="#C87058"/>
<rect x="1155.9" y="1318.2" width="12.4" height="12.4" fill="#C87058"/>
<rect x="1176.3" y="1360.8" width="12.4" height="12.4" fill="#C87058"/>
<rect x="1158.3" y="1380.0" width="12.4" height="12.4" fill="#C87058"/>
<rect x="1116.2" y="1418.3" width="12.4" height="12.4" fill="#C87058"/>
<rect x="1122.0" y="1458.3" width="12.4" height="12.4" fill="#C87058"/>
<rect x="1059.5" y="1541.2" width="12.4" height="12.4" fill="#C87058"/>
<rect x="1217.7" y="1295.1" width="12.4" height="12.4" fill="#C87058"/>
<rect x="970.3" y="1434.8" width="12.4" height="12.4" fill="#FFA686"/>
<rect x="922.3" y="1451.8" width="12.4" height="12.4" fill="#FFA686"/>
<rect x="1085.3" y="1378.0" width="12.4" height="12.4" fill="#FFA686"/>
<rect x="1077.4" y="1432.3" width="12.4" height="12.4" fill="#FFA686"/>
<rect x="1053.7" y="1442.0" width="12.4" height="12.4" fill="#FFA686"/>
<rect x="917.2" y="1538.1" width="12.4" height="12.4" fill="#FFA686"/>
<rect x="1031.0" y="1519.5" width="12.4" height="12.4" fill="#FFA686"/>
<rect x="1025.5" y="1561.5" width="12.4" height="12.4" fill="#FFA686"/>
<rect x="1015.8" y="1588.3" width="12.4" height="12.4" fill="#FFA686"/>
<rect x="982.8" y="1605.8" width="12.4" height="12.4" fill="#FFA686"/>
<rect x="901.2" y="1626.4" width="12.4" height="12.4" fill="#FFA686"/>
<rect x="952.4" y="1626.1" width="12.4" height="12.4" fill="#FFA686"/>
<rect x="882.9" y="1648.3" width="12.4" height="12.4" fill="#FFA686"/>
<rect x="902.3" y="1657.4" width="12.4" height="12.4" fill="#FFA686"/>
<path d="M996.5 1321.0l8.4 8.4l-8.4 8.4l-8.4 -8.4z" fill="#CDB632"/>
<path d="M949.6 1422.2l8.4 8.4l-8.4 8.4l-8.4 -8.4z" fill="#CDB632"/>
<path d="M1161.0 1244.1l8.4 8.4l-8.4 8.4l-8.4 -8.4z" fill="#CDB632"/>
<path d="M1218.1 1269.0l8.4 8.4l-8.4 8.4l-8.4 -8.4z" fill="#CDB632"/>
<path d="M1102.4 1318.4l8.4 8.4l-8.4 8.4l-8.4 -8.4z" fill="#CDB632"/>
<path d="M1164.5 1325.3l8.4 8.4l-8.4 8.4l-8.4 -8.4z" fill="#CDB632"/>
<path d="M1154.8 1345.0l8.4 8.4l-8.4 8.4l-8.4 -8.4z" fill="#CDB632"/>
<path d="M1043.3 1345.7l8.4 8.4l-8.4 8.4l-8.4 -8.4z" fill="#CDB632"/>
<path d="M1080.5 1378.4l8.4 8.4l-8.4 8.4l-8.4 -8.4z" fill="#CDB632"/>
<path d="M1080.0 1409.9l8.4 8.4l-8.4 8.4l-8.4 -8.4z" fill="#CDB632"/>
<path d="M1191.0 1309.8l8.4 8.4l-8.4 8.4l-8.4 -8.4z" fill="#CDB632"/>
<path d="M1003.8 1573.4l8.4 8.4l-8.4 8.4l-8.4 -8.4z" fill="#CDB632"/>
<path d="M1091.5 1517.6l8.4 8.4l-8.4 8.4l-8.4 -8.4z" fill="#CDB632"/>
<path d="M831.3 1464.0l8.4 8.4l-8.4 8.4l-8.4 -8.4z" fill="#F0DD8C"/>
<path d="M902.6 1499.3l8.4 8.4l-8.4 8.4l-8.4 -8.4z" fill="#F0DD8C"/>
<path d="M964.5 1525.6l8.4 8.4l-8.4 8.4l-8.4 -8.4z" fill="#F0DD8C"/>
<path d="M1006.4 1459.4l8.4 8.4l-8.4 8.4l-8.4 -8.4z" fill="#F0DD8C"/>
<path d="M1036.6 1448.8l8.4 8.4l-8.4 8.4l-8.4 -8.4z" fill="#F0DD8C"/>
<path d="M1030.5 1548.3l8.4 8.4l-8.4 8.4l-8.4 -8.4z" fill="#F0DD8C"/>
<path d="M1001.0 1559.8l8.4 8.4l-8.4 8.4l-8.4 -8.4z" fill="#F0DD8C"/>
<path d="M922.6 1579.3l8.4 8.4l-8.4 8.4l-8.4 -8.4z" fill="#F0DD8C"/>
<path d="M934.5 1587.6l8.4 8.4l-8.4 8.4l-8.4 -8.4z" fill="#F0DD8C"/>
<path d="M984.8 1578.6l8.4 8.4l-8.4 8.4l-8.4 -8.4z" fill="#F0DD8C"/>
<path d="M883.7 1611.4l8.4 8.4l-8.4 8.4l-8.4 -8.4z" fill="#F0DD8C"/>
<path d="M937.1 1625.2l8.4 8.4l-8.4 8.4l-8.4 -8.4z" fill="#F0DD8C"/>
<path d="M1066.0 1489.8l8.4 8.4l-8.4 8.4l-8.4 -8.4z" fill="#F0DD8C"/>
<path d="M903.8 1351.9l9.1 15.6h-18.2z" fill="#7B3F99"/>
<path d="M932.9 1380.0l9.1 15.6h-18.2z" fill="#7B3F99"/>
<path d="M1010.4 1385.7l9.1 15.6h-18.2z" fill="#7B3F99"/>
<path d="M860.8 1408.2l9.1 15.6h-18.2z" fill="#7B3F99"/>
<path d="M901.2 1381.6l9.1 15.6h-18.2z" fill="#CD80EE"/>
<path d="M852.7 1398.8l9.1 15.6h-18.2z" fill="#CD80EE"/>
<path d="M899.9 1430.1l9.1 15.6h-18.2z" fill="#CD80EE"/>
<path d="M965.0 1569.6l9.1 15.6h-18.2z" fill="#CD80EE"/>
<path d="M1099.3 1323.4l9.1 -15.6h-18.2z" fill="#999999"/>
<path d="M1199.3 1273.4l9.1 -15.6h-18.2z" fill="#999999"/>
<path d="M895.7 1531.4l9.1 -15.6h-18.2z" fill="#CDCDCD"/>
<path d="M895.2 1588.0l9.1 -15.6h-18.2z" fill="#CDCDCD"/>
<circle cx="1096.0" cy="1288.8" r="6.5" fill="#222222"/>
<circle cx="1158.7" cy="1280.2" r="6.5" fill="#222222"/>
<circle cx="1167.8" cy="1284.6" r="6.5" fill="#222222"/>
<circle cx="1197.3" cy="1296.1" r="6.5" fill="#222222"/>
<circle cx="866.1" cy="1540.5" r="6.5" fill="#9C9C9C"/>
<circle cx="878.8" cy="1559.1" r="6.5" fill="#9C9C9C"/>
<circle cx="857.7" cy="1569.5" r="6.5" fill="#9C9C9C"/>
<circle cx="858.5" cy="1577.6" r="6.5" fill="#9C9C9C"/>
<circle cx="1144.2" cy="1282.2" r="6.5" fill="#1B6BB5"/>
<circle cx="1193.6" cy="1301.3" r="6.5" fill="#1B6BB5"/>
<circle cx="1188.7" cy="1261.9" r="6.5" fill="#6CCAE2"/>
<circle cx="1225.1" cy="1338.0" r="6.5" fill="#6CCAE2"/>
<circle cx="987.5" cy="1316.9" r="6.5" fill="#4A98AE"/>
<circle cx="1018.4" cy="1333.7" r="6.5" fill="#4A98AE"/>
<circle cx="1053.2" cy="1315.4" r="6.5" fill="#7A9585"/>
<circle cx="1056.8" cy="1372.4" r="6.5" fill="#7A9585"/>
<circle cx="880.2" cy="1395.6" r="6.5" fill="#1A8A4A"/>
<circle cx="883.3" cy="1432.3" r="6.5" fill="#1A8A4A"/>
<circle cx="926.2" cy="1653.4" r="6.5" fill="#8F9311"/>
<circle cx="955.9" cy="1650.0" r="6.5" fill="#8F9311"/>
<circle cx="815.0" cy="1454.9" r="6.5" fill="#A5857C"/>
<circle cx="826.3" cy="1470.0" r="6.5" fill="#A5857C"/>
<ellipse cx="1147.0" cy="1293.0" rx="71.5" ry="33.0" transform="rotate(6 1147.0 1293.0)" fill="#000000" opacity="0.37"/>
<ellipse cx="865.5" cy="1558.5" rx="39.5" ry="30.0" transform="rotate(-75 865.5 1558.5)" fill="#A0A0A0" opacity="0.41"/>
<ellipse cx="1168.2" cy="1293.0" rx="47.5" ry="26.0" transform="rotate(20 1168.2 1293.0)" fill="#005CA9" opacity="0.43"/>
<ellipse cx="1207.6" cy="1301.5" rx="61.0" ry="23.5" transform="rotate(65 1207.6 1301.5)" fill="#62C6DF" opacity="0.41"/>
<ellipse cx="1003.6" cy="1326.8" rx="37.0" ry="27.0" transform="rotate(25 1003.6 1326.8)" fill="#388EA3" opacity="0.41"/>
<ellipse cx="1055.0" cy="1344.6" rx="51.5" ry="26.0" transform="rotate(80 1055.0 1344.6)" fill="#7A9585" opacity="0.41"/>
<ellipse cx="882.4" cy="1414.7" rx="38.2" ry="23.8" transform="rotate(84 882.4 1414.7)" fill="#0B853E" opacity="0.41"/>
<ellipse cx="942.0" cy="1652.2" rx="34.0" ry="19.0" transform="rotate(-8 942.0 1652.2)" fill="#989804" opacity="0.41"/>
<ellipse cx="821.0" cy="1462.7" rx="30.0" ry="20.0" transform="rotate(42 821.0 1462.7)" fill="#967168" opacity="0.41"/>
<text x="1018.5" y="1266.3" font-size="28.8" fill="#000">Stem</text>
<text x="1100.0" y="1255.0" font-size="28.8" fill="#005CA9">HSC</text>
<text x="927.2" y="1296.9" font-size="28.8" fill="#388EA3">MLP</text>
<text x="817.8" y="1362.9" font-size="28.8" fill="#007A33">GMP</text>
<text x="1080.6" y="1412.0" font-size="28.8" fill="#6F917E">CMP</text>
<text x="1182.4" y="1386.3" font-size="28.8" fill="#62C6DF">MPP</text>
<text x="800.4" y="1515.5" font-size="28.8" fill="#9B786D">CLP</text>
<text x="797.6" y="1616.3" font-size="28.8" fill="#9A9A9A">Progenitor</text>
<text x="981.2" y="1662.4" font-size="28.8" fill="#8F8F00">MEP</text>
<circle cx="1272.1" cy="1243.3" r="6.5" fill="#222222"/>
<text x="1292.8" y="1250.5" font-size="24.7" fill="#000">Normal_S</text>
<path d="M1272.1 1276.7l9.1 -15.6h-18.2z" fill="#999999"/>
<text x="1292.8" y="1274.3" font-size="24.7" fill="#000">ICUS/CCUS_S</text>
<path d="M1272.1 1283.3l8.4 8.4l-8.4 8.4l-8.4 -8.4z" fill="#CDB632"/>
<text x="1292.8" y="1298.9" font-size="24.7" fill="#000">MDS−MLD_S</text>
<rect x="1265.9" y="1309.6" width="12.4" height="12.4" fill="#C87058"/>
<text x="1292.8" y="1323.0" font-size="24.7" fill="#000">MDS−EB_S</text>
<path d="M1272.1 1330.8l9.1 15.6h-18.2z" fill="#7B3F99"/>
<text x="1292.8" y="1347.6" font-size="24.7" fill="#000">AML-MRC_S</text>
<circle cx="1272.1" cy="1379.3" r="6.5" fill="#9C9C9C"/>
<text x="1292.8" y="1386.5" font-size="24.7" fill="#000">Normal_P</text>
<path d="M1272.1 1413.1l9.1 -15.6h-18.2z" fill="#CDCDCD"/>
<text x="1292.8" y="1410.7" font-size="24.7" fill="#000">ICUS/CCUS_P</text>
<path d="M1272.1 1419.2l8.4 8.4l-8.4 8.4l-8.4 -8.4z" fill="#F0DD8C"/>
<text x="1292.8" y="1434.8" font-size="24.7" fill="#000">MDS−MLD_P</text>
<rect x="1265.9" y="1445.8" width="12.4" height="12.4" fill="#FFA686"/>
<text x="1292.8" y="1459.2" font-size="24.7" fill="#000">MDS−EB_P</text>
<path d="M1272.1 1467.0l9.1 15.6h-18.2z" fill="#CD80EE"/>
<text x="1292.8" y="1483.8" font-size="24.7" fill="#000">AML-MRC_P</text>
<circle cx="1272.1" cy="1535.7" r="6.5" fill="#1B6BB5"/>
<text x="1292.8" y="1542.9" font-size="24.7" fill="#000">HSC</text>
<circle cx="1272.1" cy="1559.4" r="6.5" fill="#6CCAE2"/>
<text x="1292.8" y="1566.6" font-size="24.7" fill="#000">MPP</text>
<circle cx="1272.1" cy="1583.2" r="6.5" fill="#4A98AE"/>
<text x="1292.8" y="1590.4" font-size="24.7" fill="#000">MLP</text>
<circle cx="1272.1" cy="1606.9" r="6.5" fill="#7A9585"/>
<text x="1292.8" y="1614.1" font-size="24.7" fill="#000">CMP</text>
<circle cx="1272.1" cy="1630.6" r="6.5" fill="#1A8A4A"/>
<text x="1292.8" y="1637.8" font-size="24.7" fill="#000">GMP</text>
<circle cx="1272.1" cy="1654.3" r="6.5" fill="#8F9311"/>
<text x="1292.8" y="1661.5" font-size="24.7" fill="#000">MEP</text>
<circle cx="1272.1" cy="1677.0" r="6.5" fill="#A5857C"/>
<text x="1292.8" y="1684.2" font-size="24.7" fill="#000">CLP</text>
<rect x="189.3" y="2026.4" width="22.2" height="30.2" fill="#F0CEAA"/>
<rect x="212.7" y="2026.4" width="22.2" height="30.2" fill="#F1BC87"/>
<rect x="236.2" y="2026.4" width="22.2" height="30.2" fill="#F0CEAA"/>
<rect x="259.6" y="2026.4" width="22.2" height="30.2" fill="#E2E7ED"/>
<rect x="283.0" y="2026.4" width="22.2" height="30.2" fill="#DEE5EC"/>
<rect x="306.5" y="2026.4" width="22.2" height="30.2" fill="#DAE3EC"/>
<rect x="329.9" y="2026.4" width="22.2" height="30.2" fill="#D2DFEB"/>
<rect x="189.3" y="2058.0" width="22.2" height="30.2" fill="#EEE8E0"/>
<rect x="212.7" y="2058.0" width="22.2" height="30.2" fill="#F0D4B8"/>
<rect x="236.2" y="2058.0" width="22.2" height="30.2" fill="#F0C293"/>
<rect x="259.6" y="2058.0" width="22.2" height="30.2" fill="#BDD3E8"/>
<rect x="283.0" y="2058.0" width="22.2" height="30.2" fill="#BBD2E8"/>
<rect x="306.5" y="2058.0" width="22.2" height="30.2" fill="#B4CDE7"/>
<rect x="329.9" y="2058.0" width="22.2" height="30.2" fill="#C4D7E9"/>
<rect x="189.3" y="2089.6" width="22.2" height="30.2" fill="#ED7C0F"/>
<rect x="212.7" y="2089.6" width="22.2" height="30.2" fill="#EF933A"/>
<rect x="236.2" y="2089.6" width="22.2" height="30.2" fill="#EF933A"/>
<rect x="259.6" y="2089.6" width="22.2" height="30.2" fill="#EE7F14"/>
<rect x="283.0" y="2089.6" width="22.2" height="30.2" fill="#EE7F14"/>
<rect x="306.5" y="2089.6" width="22.2" height="30.2" fill="#EE8724"/>
<rect x="329.9" y="2089.6" width="22.2" height="30.2" fill="#ED7909"/>
<rect x="189.3" y="2133.7" width="22.2" height="30.2" fill="#CEDCEA"/>
<rect x="212.7" y="2133.7" width="22.2" height="30.2" fill="#C1D6E9"/>
<rect x="236.2" y="2133.7" width="22.2" height="30.2" fill="#DEE5EC"/>
<rect x="259.6" y="2133.7" width="22.2" height="30.2" fill="#F0C293"/>
<rect x="283.0" y="2133.7" width="22.2" height="30.2" fill="#F0C190"/>
<rect x="306.5" y="2133.7" width="22.2" height="30.2" fill="#F1BE8C"/>
<rect x="329.9" y="2133.7" width="22.2" height="30.2" fill="#F0CEAA"/>
<rect x="189.3" y="2165.1" width="22.2" height="30.2" fill="#ABC8E5"/>
<rect x="212.7" y="2165.1" width="22.2" height="30.2" fill="#A2C2E4"/>
<rect x="236.2" y="2165.1" width="22.2" height="30.2" fill="#98BCE2"/>
<rect x="259.6" y="2165.1" width="22.2" height="30.2" fill="#CEDCEA"/>
<rect x="283.0" y="2165.1" width="22.2" height="30.2" fill="#D6E1EB"/>
<rect x="306.5" y="2165.1" width="22.2" height="30.2" fill="#E2E7ED"/>
<rect x="329.9" y="2165.1" width="22.2" height="30.2" fill="#CADAEA"/>
<rect x="189.3" y="2196.5" width="22.2" height="30.2" fill="#AFCAE6"/>
<rect x="212.7" y="2196.5" width="22.2" height="30.2" fill="#A6C5E5"/>
<rect x="236.2" y="2196.5" width="22.2" height="30.2" fill="#9DBFE3"/>
<rect x="259.6" y="2196.5" width="22.2" height="30.2" fill="#A2C2E4"/>
<rect x="283.0" y="2196.5" width="22.2" height="30.2" fill="#A2C2E4"/>
<rect x="306.5" y="2196.5" width="22.2" height="30.2" fill="#A2C2E4"/>
<rect x="329.9" y="2196.5" width="22.2" height="30.2" fill="#B4CDE7"/>
<rect x="189.3" y="2227.9" width="22.2" height="30.2" fill="#AFCAE6"/>
<rect x="212.7" y="2227.9" width="22.2" height="30.2" fill="#A6C5E5"/>
<rect x="236.2" y="2227.9" width="22.2" height="30.2" fill="#9DBFE3"/>
<rect x="259.6" y="2227.9" width="22.2" height="30.2" fill="#A2C2E4"/>
<rect x="283.0" y="2227.9" width="22.2" height="30.2" fill="#A2C2E4"/>
<rect x="306.5" y="2227.9" width="22.2" height="30.2" fill="#A2C2E4"/>
<rect x="329.9" y="2227.9" width="22.2" height="30.2" fill="#B4CDE7"/>
<rect x="188.7" y="2267.4" width="164.0" height="35.4" fill="#388EA3"/>
<line x1="212.1" y1="2267.4" x2="212.1" y2="2302.8" stroke="#fff" stroke-width="0.8" opacity="0.18"/>
<line x1="235.6" y1="2267.4" x2="235.6" y2="2302.8" stroke="#fff" stroke-width="0.8" opacity="0.18"/>
<line x1="259.0" y1="2267.4" x2="259.0" y2="2302.8" stroke="#fff" stroke-width="0.8" opacity="0.18"/>
<line x1="282.4" y1="2267.4" x2="282.4" y2="2302.8" stroke="#fff" stroke-width="0.8" opacity="0.18"/>
<line x1="305.9" y1="2267.4" x2="305.9" y2="2302.8" stroke="#fff" stroke-width="0.8" opacity="0.18"/>
<line x1="329.3" y1="2267.4" x2="329.3" y2="2302.8" stroke="#fff" stroke-width="0.8" opacity="0.18"/>
<text x="270.7" y="2293.4" font-size="24.7" fill="#fff" text-anchor="middle">MLP</text>
<rect x="370.1" y="2026.4" width="22.2" height="30.2" fill="#ED7604"/>
<rect x="393.5" y="2026.4" width="22.2" height="30.2" fill="#ED7604"/>
<rect x="417.0" y="2026.4" width="22.2" height="30.2" fill="#ED7604"/>
<rect x="440.4" y="2026.4" width="22.2" height="30.2" fill="#ED7604"/>
<rect x="463.8" y="2026.4" width="22.2" height="30.2" fill="#ED7604"/>
<rect x="487.2" y="2026.4" width="22.2" height="30.2" fill="#ED7604"/>
<rect x="510.7" y="2026.4" width="22.2" height="30.2" fill="#ED7604"/>
<rect x="534.1" y="2026.4" width="22.2" height="30.2" fill="#ED7604"/>
<rect x="557.5" y="2026.4" width="22.2" height="30.2" fill="#ED7604"/>
<rect x="370.1" y="2058.0" width="22.2" height="30.2" fill="#E9ECEE"/>
<rect x="393.5" y="2058.0" width="22.2" height="30.2" fill="#E5E9ED"/>
<rect x="417.0" y="2058.0" width="22.2" height="30.2" fill="#E7EAED"/>
<rect x="440.4" y="2058.0" width="22.2" height="30.2" fill="#E8EBED"/>
<rect x="463.8" y="2058.0" width="22.2" height="30.2" fill="#E9ECEE"/>
<rect x="487.2" y="2058.0" width="22.2" height="30.2" fill="#E3E8ED"/>
<rect x="510.7" y="2058.0" width="22.2" height="30.2" fill="#EBECEE"/>
<rect x="534.1" y="2058.0" width="22.2" height="30.2" fill="#EEEEEE"/>
<rect x="557.5" y="2058.0" width="22.2" height="30.2" fill="#EEE9E3"/>
<rect x="370.1" y="2089.6" width="22.2" height="30.2" fill="#B6CEE7"/>
<rect x="393.5" y="2089.6" width="22.2" height="30.2" fill="#B6CEE7"/>
<rect x="417.0" y="2089.6" width="22.2" height="30.2" fill="#B6CEE7"/>
<rect x="440.4" y="2089.6" width="22.2" height="30.2" fill="#B6CEE7"/>
<rect x="463.8" y="2089.6" width="22.2" height="30.2" fill="#B6CEE7"/>
<rect x="487.2" y="2089.6" width="22.2" height="30.2" fill="#B6CEE7"/>
<rect x="510.7" y="2089.6" width="22.2" height="30.2" fill="#B6CEE7"/>
<rect x="534.1" y="2089.6" width="22.2" height="30.2" fill="#B6CEE7"/>
<rect x="557.5" y="2089.6" width="22.2" height="30.2" fill="#B6CEE7"/>
<rect x="370.1" y="2133.7" width="22.2" height="30.2" fill="#ECEDEE"/>
<rect x="393.5" y="2133.7" width="22.2" height="30.2" fill="#EEE9E3"/>
<rect x="417.0" y="2133.7" width="22.2" height="30.2" fill="#EEEAE6"/>
<rect x="440.4" y="2133.7" width="22.2" height="30.2" fill="#EBECEE"/>
<rect x="463.8" y="2133.7" width="22.2" height="30.2" fill="#EEE6DE"/>
<rect x="487.2" y="2133.7" width="22.2" height="30.2" fill="#EEE6DE"/>
<rect x="510.7" y="2133.7" width="22.2" height="30.2" fill="#EEE9E3"/>
<rect x="534.1" y="2133.7" width="22.2" height="30.2" fill="#EEEEEE"/>
<rect x="557.5" y="2133.7" width="22.2" height="30.2" fill="#ECEDEE"/>
<rect x="370.1" y="2165.1" width="22.2" height="30.2" fill="#CEDCEA"/>
<rect x="393.5" y="2165.1" width="22.2" height="30.2" fill="#CEDCEA"/>
<rect x="417.0" y="2165.1" width="22.2" height="30.2" fill="#CEDCEA"/>
<rect x="440.4" y="2165.1" width="22.2" height="30.2" fill="#CEDCEA"/>
<rect x="463.8" y="2165.1" width="22.2" height="30.2" fill="#CEDCEA"/>
<rect x="487.2" y="2165.1" width="22.2" height="30.2" fill="#CEDCEA"/>
<rect x="510.7" y="2165.1" width="22.2" height="30.2" fill="#CEDCEA"/>
<rect x="534.1" y="2165.1" width="22.2" height="30.2" fill="#CEDCEA"/>
<rect x="557.5" y="2165.1" width="22.2" height="30.2" fill="#CEDCEA"/>
<rect x="370.1" y="2196.5" width="22.2" height="30.2" fill="#B6CEE7"/>
<rect x="393.5" y="2196.5" width="22.2" height="30.2" fill="#B6CEE7"/>
<rect x="417.0" y="2196.5" width="22.2" height="30.2" fill="#B6CEE7"/>
<rect x="440.4" y="2196.5" width="22.2" height="30.2" fill="#B6CEE7"/>
<rect x="463.8" y="2196.5" width="22.2" height="30.2" fill="#B6CEE7"/>
<rect x="487.2" y="2196.5" width="22.2" height="30.2" fill="#B6CEE7"/>
<rect x="510.7" y="2196.5" width="22.2" height="30.2" fill="#B6CEE7"/>
<rect x="534.1" y="2196.5" width="22.2" height="30.2" fill="#B6CEE7"/>
<rect x="557.5" y="2196.5" width="22.2" height="30.2" fill="#B6CEE7"/>
<rect x="370.1" y="2227.9" width="22.2" height="30.2" fill="#B6CEE7"/>
<rect x="393.5" y="2227.9" width="22.2" height="30.2" fill="#B6CEE7"/>
<rect x="417.0" y="2227.9" width="22.2" height="30.2" fill="#B6CEE7"/>
<rect x="440.4" y="2227.9" width="22.2" height="30.2" fill="#B6CEE7"/>
<rect x="463.8" y="2227.9" width="22.2" height="30.2" fill="#B6CEE7"/>
<rect x="487.2" y="2227.9" width="22.2" height="30.2" fill="#B6CEE7"/>
<rect x="510.7" y="2227.9" width="22.2" height="30.2" fill="#B6CEE7"/>
<rect x="534.1" y="2227.9" width="22.2" height="30.2" fill="#B6CEE7"/>
<rect x="557.5" y="2227.9" width="22.2" height="30.2" fill="#B6CEE7"/>
<rect x="369.5" y="2267.4" width="210.9" height="35.4" fill="#005CA9"/>
<line x1="392.9" y1="2267.4" x2="392.9" y2="2302.8" stroke="#fff" stroke-width="0.8" opacity="0.18"/>
<line x1="416.4" y1="2267.4" x2="416.4" y2="2302.8" stroke="#fff" stroke-width="0.8" opacity="0.18"/>
<line x1="439.8" y1="2267.4" x2="439.8" y2="2302.8" stroke="#fff" stroke-width="0.8" opacity="0.18"/>
<line x1="463.2" y1="2267.4" x2="463.2" y2="2302.8" stroke="#fff" stroke-width="0.8" opacity="0.18"/>
<line x1="486.6" y1="2267.4" x2="486.6" y2="2302.8" stroke="#fff" stroke-width="0.8" opacity="0.18"/>
<line x1="510.1" y1="2267.4" x2="510.1" y2="2302.8" stroke="#fff" stroke-width="0.8" opacity="0.18"/>
<line x1="533.5" y1="2267.4" x2="533.5" y2="2302.8" stroke="#fff" stroke-width="0.8" opacity="0.18"/>
<line x1="556.9" y1="2267.4" x2="556.9" y2="2302.8" stroke="#fff" stroke-width="0.8" opacity="0.18"/>
<text x="474.9" y="2293.4" font-size="24.7" fill="#fff" text-anchor="middle">HSC</text>
<rect x="597.5" y="2026.4" width="22.2" height="30.2" fill="#B6CEE7"/>
<rect x="620.9" y="2026.4" width="22.2" height="30.2" fill="#EEEBE7"/>
<rect x="644.4" y="2026.4" width="22.2" height="30.2" fill="#CBDBEA"/>
<rect x="667.8" y="2026.4" width="22.2" height="30.2" fill="#CBDBEA"/>
<rect x="691.2" y="2026.4" width="22.2" height="30.2" fill="#CBDBEA"/>
<rect x="714.6" y="2026.4" width="22.2" height="30.2" fill="#CBDBEA"/>
<rect x="738.1" y="2026.4" width="22.2" height="30.2" fill="#CBDBEA"/>
<rect x="761.5" y="2026.4" width="22.2" height="30.2" fill="#CBDBEA"/>
<rect x="784.9" y="2026.4" width="22.2" height="30.2" fill="#CBDBEA"/>
<rect x="808.4" y="2026.4" width="22.2" height="30.2" fill="#CBDBEA"/>
<rect x="831.8" y="2026.4" width="22.2" height="30.2" fill="#CBDBEA"/>
<rect x="855.2" y="2026.4" width="22.2" height="30.2" fill="#CBDBEA"/>
<rect x="878.7" y="2026.4" width="22.2" height="30.2" fill="#CBDBEA"/>
<rect x="902.1" y="2026.4" width="22.2" height="30.2" fill="#CBDBEA"/>
<rect x="925.5" y="2026.4" width="22.2" height="30.2" fill="#CBDBEA"/>
<rect x="948.9" y="2026.4" width="22.2" height="30.2" fill="#CBDBEA"/>
<rect x="972.4" y="2026.4" width="22.2" height="30.2" fill="#CBDBEA"/>
<rect x="995.8" y="2026.4" width="22.2" height="30.2" fill="#C7D9EA"/>
<rect x="1019.2" y="2026.4" width="22.2" height="30.2" fill="#C7D9EA"/>
<rect x="1042.7" y="2026.4" width="22.2" height="30.2" fill="#C7D9EA"/>
<rect x="1066.1" y="2026.4" width="22.2" height="30.2" fill="#C7D9EA"/>
<rect x="1089.5" y="2026.4" width="22.2" height="30.2" fill="#C7D9EA"/>
<rect x="1113.0" y="2026.4" width="22.2" height="30.2" fill="#C7D9EA"/>
<rect x="1136.4" y="2026.4" width="22.2" height="30.2" fill="#C7D9EA"/>
<rect x="1159.8" y="2026.4" width="22.2" height="30.2" fill="#C7D9EA"/>
<rect x="1183.2" y="2026.4" width="22.2" height="30.2" fill="#C7D9EA"/>
<rect x="1206.7" y="2026.4" width="22.2" height="30.2" fill="#C7D9EA"/>
<rect x="1230.1" y="2026.4" width="22.2" height="30.2" fill="#C7D9EA"/>
<rect x="1253.5" y="2026.4" width="22.2" height="30.2" fill="#C7D9EA"/>
<rect x="1277.0" y="2026.4" width="22.2" height="30.2" fill="#C7D9EA"/>
<rect x="1300.4" y="2026.4" width="22.2" height="30.2" fill="#C7D9EA"/>
<rect x="1323.8" y="2026.4" width="22.2" height="30.2" fill="#C7D9EA"/>
<rect x="1347.3" y="2026.4" width="22.2" height="30.2" fill="#BBD2E8"/>
<rect x="597.5" y="2058.0" width="22.2" height="30.2" fill="#ABC8E5"/>
<rect x="620.9" y="2058.0" width="22.2" height="30.2" fill="#DCE4EC"/>
<rect x="644.4" y="2058.0" width="22.2" height="30.2" fill="#C9DAEA"/>
<rect x="667.8" y="2058.0" width="22.2" height="30.2" fill="#C9DAEA"/>
<rect x="691.2" y="2058.0" width="22.2" height="30.2" fill="#C9DAEA"/>
<rect x="714.6" y="2058.0" width="22.2" height="30.2" fill="#C9DAEA"/>
<rect x="738.1" y="2058.0" width="22.2" height="30.2" fill="#C9DAEA"/>
<rect x="761.5" y="2058.0" width="22.2" height="30.2" fill="#C9DAEA"/>
<rect x="784.9" y="2058.0" width="22.2" height="30.2" fill="#C9DAEA"/>
<rect x="808.4" y="2058.0" width="22.2" height="30.2" fill="#C9DAEA"/>
<rect x="831.8" y="2058.0" width="22.2" height="30.2" fill="#C9DAEA"/>
<rect x="855.2" y="2058.0" width="22.2" height="30.2" fill="#C9DAEA"/>
<rect x="878.7" y="2058.0" width="22.2" height="30.2" fill="#C9DAEA"/>
<rect x="902.1" y="2058.0" width="22.2" height="30.2" fill="#C9DAEA"/>
<rect x="925.5" y="2058.0" width="22.2" height="30.2" fill="#C9DAEA"/>
<rect x="948.9" y="2058.0" width="22.2" height="30.2" fill="#C9DAEA"/>
<rect x="972.4" y="2058.0" width="22.2" height="30.2" fill="#C9DAEA"/>
<rect x="995.8" y="2058.0" width="22.2" height="30.2" fill="#C6D8EA"/>
<rect x="1019.2" y="2058.0" width="22.2" height="30.2" fill="#C6D8EA"/>
<rect x="1042.7" y="2058.0" width="22.2" height="30.2" fill="#C6D8EA"/>
<rect x="1066.1" y="2058.0" width="22.2" height="30.2" fill="#C6D8EA"/>
<rect x="1089.5" y="2058.0" width="22.2" height="30.2" fill="#C6D8EA"/>
<rect x="1113.0" y="2058.0" width="22.2" height="30.2" fill="#C6D8EA"/>
<rect x="1136.4" y="2058.0" width="22.2" height="30.2" fill="#C6D8EA"/>
<rect x="1159.8" y="2058.0" width="22.2" height="30.2" fill="#C6D8EA"/>
<rect x="1183.2" y="2058.0" width="22.2" height="30.2" fill="#C6D8EA"/>
<rect x="1206.7" y="2058.0" width="22.2" height="30.2" fill="#C6D8EA"/>
<rect x="1230.1" y="2058.0" width="22.2" height="30.2" fill="#C6D8EA"/>
<rect x="1253.5" y="2058.0" width="22.2" height="30.2" fill="#C6D8EA"/>
<rect x="1277.0" y="2058.0" width="22.2" height="30.2" fill="#C6D8EA"/>
<rect x="1300.4" y="2058.0" width="22.2" height="30.2" fill="#C6D8EA"/>
<rect x="1323.8" y="2058.0" width="22.2" height="30.2" fill="#C6D8EA"/>
<rect x="1347.3" y="2058.0" width="22.2" height="30.2" fill="#B6CEE7"/>
<rect x="597.5" y="2089.6" width="22.2" height="30.2" fill="#F0CEAA"/>
<rect x="620.9" y="2089.6" width="22.2" height="30.2" fill="#EFDBC5"/>
<rect x="644.4" y="2089.6" width="22.2" height="30.2" fill="#C9DAEA"/>
<rect x="667.8" y="2089.6" width="22.2" height="30.2" fill="#C9DAEA"/>
<rect x="691.2" y="2089.6" width="22.2" height="30.2" fill="#C9DAEA"/>
<rect x="714.6" y="2089.6" width="22.2" height="30.2" fill="#C9DAEA"/>
<rect x="738.1" y="2089.6" width="22.2" height="30.2" fill="#C9DAEA"/>
<rect x="761.5" y="2089.6" width="22.2" height="30.2" fill="#CADBEA"/>
<rect x="784.9" y="2089.6" width="22.2" height="30.2" fill="#CCDBEA"/>
<rect x="808.4" y="2089.6" width="22.2" height="30.2" fill="#CDDCEA"/>
<rect x="831.8" y="2089.6" width="22.2" height="30.2" fill="#CEDDEB"/>
<rect x="855.2" y="2089.6" width="22.2" height="30.2" fill="#D0DDEB"/>
<rect x="878.7" y="2089.6" width="22.2" height="30.2" fill="#D1DEEB"/>
<rect x="902.1" y="2089.6" width="22.2" height="30.2" fill="#D2DFEB"/>
<rect x="925.5" y="2089.6" width="22.2" height="30.2" fill="#D3E0EB"/>
<rect x="948.9" y="2089.6" width="22.2" height="30.2" fill="#D5E0EB"/>
<rect x="972.4" y="2089.6" width="22.2" height="30.2" fill="#D6E1EB"/>
<rect x="995.8" y="2089.6" width="22.2" height="30.2" fill="#D7E2EC"/>
<rect x="1019.2" y="2089.6" width="22.2" height="30.2" fill="#D8E2EC"/>
<rect x="1042.7" y="2089.6" width="22.2" height="30.2" fill="#DAE3EC"/>
<rect x="1066.1" y="2089.6" width="22.2" height="30.2" fill="#DBE4EC"/>
<rect x="1089.5" y="2089.6" width="22.2" height="30.2" fill="#DCE4EC"/>
<rect x="1113.0" y="2089.6" width="22.2" height="30.2" fill="#DEE5EC"/>
<rect x="1136.4" y="2089.6" width="22.2" height="30.2" fill="#DFE6EC"/>
<rect x="1159.8" y="2089.6" width="22.2" height="30.2" fill="#E0E6EC"/>
<rect x="1183.2" y="2089.6" width="22.2" height="30.2" fill="#E1E7ED"/>
<rect x="1206.7" y="2089.6" width="22.2" height="30.2" fill="#E3E8ED"/>
<rect x="1230.1" y="2089.6" width="22.2" height="30.2" fill="#E4E9ED"/>
<rect x="1253.5" y="2089.6" width="22.2" height="30.2" fill="#E5E9ED"/>
<rect x="1277.0" y="2089.6" width="22.2" height="30.2" fill="#E6EAED"/>
<rect x="1300.4" y="2089.6" width="22.2" height="30.2" fill="#E8EBED"/>
<rect x="1323.8" y="2089.6" width="22.2" height="30.2" fill="#E9EBED"/>
<rect x="1347.3" y="2089.6" width="22.2" height="30.2" fill="#EBECEE"/>
<rect x="597.5" y="2133.7" width="22.2" height="30.2" fill="#C9DAEA"/>
<rect x="620.9" y="2133.7" width="22.2" height="30.2" fill="#C9DAEA"/>
<rect x="644.4" y="2133.7" width="22.2" height="30.2" fill="#C9DAEA"/>
<rect x="667.8" y="2133.7" width="22.2" height="30.2" fill="#C9DAEA"/>
<rect x="691.2" y="2133.7" width="22.2" height="30.2" fill="#C9DAEA"/>
<rect x="714.6" y="2133.7" width="22.2" height="30.2" fill="#C9DAEA"/>
<rect x="738.1" y="2133.7" width="22.2" height="30.2" fill="#C9DAEA"/>
<rect x="761.5" y="2133.7" width="22.2" height="30.2" fill="#C9DAEA"/>
<rect x="784.9" y="2133.7" width="22.2" height="30.2" fill="#C9DAEA"/>
<rect x="808.4" y="2133.7" width="22.2" height="30.2" fill="#C9DAEA"/>
<rect x="831.8" y="2133.7" width="22.2" height="30.2" fill="#C9DAEA"/>
<rect x="855.2" y="2133.7" width="22.2" height="30.2" fill="#C9DAEA"/>
<rect x="878.7" y="2133.7" width="22.2" height="30.2" fill="#C9DAEA"/>
<rect x="902.1" y="2133.7" width="22.2" height="30.2" fill="#C9DAEA"/>
<rect x="925.5" y="2133.7" width="22.2" height="30.2" fill="#C9DAEA"/>
<rect x="948.9" y="2133.7" width="22.2" height="30.2" fill="#C9DAEA"/>
<rect x="972.4" y="2133.7" width="22.2" height="30.2" fill="#C9DAEA"/>
<rect x="995.8" y="2133.7" width="22.2" height="30.2" fill="#C9DAEA"/>
<rect x="1019.2" y="2133.7" width="22.2" height="30.2" fill="#C9DAEA"/>
<rect x="1042.7" y="2133.7" width="22.2" height="30.2" fill="#C9DAEA"/>
<rect x="1066.1" y="2133.7" width="22.2" height="30.2" fill="#C9DAEA"/>
<rect x="1089.5" y="2133.7" width="22.2" height="30.2" fill="#C9DAEA"/>
<rect x="1113.0" y="2133.7" width="22.2" height="30.2" fill="#C9DAEA"/>
<rect x="1136.4" y="2133.7" width="22.2" height="30.2" fill="#C9DAEA"/>
<rect x="1159.8" y="2133.7" width="22.2" height="30.2" fill="#C9DAEA"/>
<rect x="1183.2" y="2133.7" width="22.2" height="30.2" fill="#C9DAEA"/>
<rect x="1206.7" y="2133.7" width="22.2" height="30.2" fill="#C9DAEA"/>
<rect x="1230.1" y="2133.7" width="22.2" height="30.2" fill="#C9DAEA"/>
<rect x="1253.5" y="2133.7" width="22.2" height="30.2" fill="#C9DAEA"/>
<rect x="1277.0" y="2133.7" width="22.2" height="30.2" fill="#C9DAEA"/>
<rect x="1300.4" y="2133.7" width="22.2" height="30.2" fill="#C9DAEA"/>
<rect x="1323.8" y="2133.7" width="22.2" height="30.2" fill="#C9DAEA"/>
<rect x="1347.3" y="2133.7" width="22.2" height="30.2" fill="#CEDCEA"/>
<rect x="597.5" y="2165.1" width="22.2" height="30.2" fill="#C9DAEA"/>
<rect x="620.9" y="2165.1" width="22.2" height="30.2" fill="#98BCE2"/>
<rect x="644.4" y="2165.1" width="22.2" height="30.2" fill="#C9DAEA"/>
<rect x="667.8" y="2165.1" width="22.2" height="30.2" fill="#C9DAEA"/>
<rect x="691.2" y="2165.1" width="22.2" height="30.2" fill="#C9DAEA"/>
<rect x="714.6" y="2165.1" width="22.2" height="30.2" fill="#C9DAEA"/>
<rect x="738.1" y="2165.1" width="22.2" height="30.2" fill="#C9DAEA"/>
<rect x="761.5" y="2165.1" width="22.2" height="30.2" fill="#C9DAEA"/>
<rect x="784.9" y="2165.1" width="22.2" height="30.2" fill="#C9DAEA"/>
<rect x="808.4" y="2165.1" width="22.2" height="30.2" fill="#C9DAEA"/>
<rect x="831.8" y="2165.1" width="22.2" height="30.2" fill="#C9DAEA"/>
<rect x="855.2" y="2165.1" width="22.2" height="30.2" fill="#C9DAEA"/>
<rect x="878.7" y="2165.1" width="22.2" height="30.2" fill="#C9DAEA"/>
<rect x="902.1" y="2165.1" width="22.2" height="30.2" fill="#C9DAEA"/>
<rect x="925.5" y="2165.1" width="22.2" height="30.2" fill="#C9DAEA"/>
<rect x="948.9" y="2165.1" width="22.2" height="30.2" fill="#C5D8EA"/>
<rect x="972.4" y="2165.1" width="22.2" height="30.2" fill="#C9DAEA"/>
<rect x="995.8" y="2165.1" width="22.2" height="30.2" fill="#C0D5E9"/>
<rect x="1019.2" y="2165.1" width="22.2" height="30.2" fill="#C9DAEA"/>
<rect x="1042.7" y="2165.1" width="22.2" height="30.2" fill="#C9DAEA"/>
<rect x="1066.1" y="2165.1" width="22.2" height="30.2" fill="#C9DAEA"/>
<rect x="1089.5" y="2165.1" width="22.2" height="30.2" fill="#C9DAEA"/>
<rect x="1113.0" y="2165.1" width="22.2" height="30.2" fill="#C9DAEA"/>
<rect x="1136.4" y="2165.1" width="22.2" height="30.2" fill="#C9DAEA"/>
<rect x="1159.8" y="2165.1" width="22.2" height="30.2" fill="#C9DAEA"/>
<rect x="1183.2" y="2165.1" width="22.2" height="30.2" fill="#C9DAEA"/>
<rect x="1206.7" y="2165.1" width="22.2" height="30.2" fill="#C9DAEA"/>
<rect x="1230.1" y="2165.1" width="22.2" height="30.2" fill="#C9DAEA"/>
<rect x="1253.5" y="2165.1" width="22.2" height="30.2" fill="#C9DAEA"/>
<rect x="1277.0" y="2165.1" width="22.2" height="30.2" fill="#C9DAEA"/>
<rect x="1300.4" y="2165.1" width="22.2" height="30.2" fill="#C0D5E9"/>
<rect x="1323.8" y="2165.1" width="22.2" height="30.2" fill="#C9DAEA"/>
<rect x="1347.3" y="2165.1" width="22.2" height="30.2" fill="#E5E9ED"/>
<rect x="597.5" y="2196.5" width="22.2" height="30.2" fill="#ABC8E5"/>
<rect x="620.9" y="2196.5" width="22.2" height="30.2" fill="#98BCE2"/>
<rect x="644.4" y="2196.5" width="22.2" height="30.2" fill="#C9DAEA"/>
<rect x="667.8" y="2196.5" width="22.2" height="30.2" fill="#C9DAEA"/>
<rect x="691.2" y="2196.5" width="22.2" height="30.2" fill="#C9DAEA"/>
<rect x="714.6" y="2196.5" width="22.2" height="30.2" fill="#C9DAEA"/>
<rect x="738.1" y="2196.5" width="22.2" height="30.2" fill="#C9DAEA"/>
<rect x="761.5" y="2196.5" width="22.2" height="30.2" fill="#C9DAEA"/>
<rect x="784.9" y="2196.5" width="22.2" height="30.2" fill="#C9DAEA"/>
<rect x="808.4" y="2196.5" width="22.2" height="30.2" fill="#C9DAEA"/>
<rect x="831.8" y="2196.5" width="22.2" height="30.2" fill="#C9DAEA"/>
<rect x="855.2" y="2196.5" width="22.2" height="30.2" fill="#C9DAEA"/>
<rect x="878.7" y="2196.5" width="22.2" height="30.2" fill="#C9DAEA"/>
<rect x="902.1" y="2196.5" width="22.2" height="30.2" fill="#C9DAEA"/>
<rect x="925.5" y="2196.5" width="22.2" height="30.2" fill="#C9DAEA"/>
<rect x="948.9" y="2196.5" width="22.2" height="30.2" fill="#C9DAEA"/>
<rect x="972.4" y="2196.5" width="22.2" height="30.2" fill="#C9DAEA"/>
<rect x="995.8" y="2196.5" width="22.2" height="30.2" fill="#C9DAEA"/>
<rect x="1019.2" y="2196.5" width="22.2" height="30.2" fill="#C9DAEA"/>
<rect x="1042.7" y="2196.5" width="22.2" height="30.2" fill="#C9DAEA"/>
<rect x="1066.1" y="2196.5" width="22.2" height="30.2" fill="#C9DAEA"/>
<rect x="1089.5" y="2196.5" width="22.2" height="30.2" fill="#C9DAEA"/>
<rect x="1113.0" y="2196.5" width="22.2" height="30.2" fill="#C9DAEA"/>
<rect x="1136.4" y="2196.5" width="22.2" height="30.2" fill="#C9DAEA"/>
<rect x="1159.8" y="2196.5" width="22.2" height="30.2" fill="#C9DAEA"/>
<rect x="1183.2" y="2196.5" width="22.2" height="30.2" fill="#C9DAEA"/>
<rect x="1206.7" y="2196.5" width="22.2" height="30.2" fill="#C9DAEA"/>
<rect x="1230.1" y="2196.5" width="22.2" height="30.2" fill="#C9DAEA"/>
<rect x="1253.5" y="2196.5" width="22.2" height="30.2" fill="#C9DAEA"/>
<rect x="1277.0" y="2196.5" width="22.2" height="30.2" fill="#C9DAEA"/>
<rect x="1300.4" y="2196.5" width="22.2" height="30.2" fill="#C0D5E9"/>
<rect x="1323.8" y="2196.5" width="22.2" height="30.2" fill="#C9DAEA"/>
<rect x="1347.3" y="2196.5" width="22.2" height="30.2" fill="#B6CEE7"/>
<rect x="597.5" y="2227.9" width="22.2" height="30.2" fill="#ED7C0F"/>
<rect x="620.9" y="2227.9" width="22.2" height="30.2" fill="#ED7C0F"/>
<rect x="644.4" y="2227.9" width="22.2" height="30.2" fill="#ED7604"/>
<rect x="667.8" y="2227.9" width="22.2" height="30.2" fill="#ED7604"/>
<rect x="691.2" y="2227.9" width="22.2" height="30.2" fill="#ED7604"/>
<rect x="714.6" y="2227.9" width="22.2" height="30.2" fill="#ED7604"/>
<rect x="738.1" y="2227.9" width="22.2" height="30.2" fill="#ED7604"/>
<rect x="761.5" y="2227.9" width="22.2" height="30.2" fill="#ED7604"/>
<rect x="784.9" y="2227.9" width="22.2" height="30.2" fill="#ED7604"/>
<rect x="808.4" y="2227.9" width="22.2" height="30.2" fill="#ED7604"/>
<rect x="831.8" y="2227.9" width="22.2" height="30.2" fill="#ED7604"/>
<rect x="855.2" y="2227.9" width="22.2" height="30.2" fill="#ED7604"/>
<rect x="878.7" y="2227.9" width="22.2" height="30.2" fill="#ED7604"/>
<rect x="902.1" y="2227.9" width="22.2" height="30.2" fill="#ED7604"/>
<rect x="925.5" y="2227.9" width="22.2" height="30.2" fill="#ED7604"/>
<rect x="948.9" y="2227.9" width="22.2" height="30.2" fill="#ED7604"/>
<rect x="972.4" y="2227.9" width="22.2" height="30.2" fill="#ED7604"/>
<rect x="995.8" y="2227.9" width="22.2" height="30.2" fill="#ED7604"/>
<rect x="1019.2" y="2227.9" width="22.2" height="30.2" fill="#ED7604"/>
<rect x="1042.7" y="2227.9" width="22.2" height="30.2" fill="#ED7604"/>
<rect x="1066.1" y="2227.9" width="22.2" height="30.2" fill="#ED7604"/>
<rect x="1089.5" y="2227.9" width="22.2" height="30.2" fill="#ED7604"/>
<rect x="1113.0" y="2227.9" width="22.2" height="30.2" fill="#ED7604"/>
<rect x="1136.4" y="2227.9" width="22.2" height="30.2" fill="#ED7604"/>
<rect x="1159.8" y="2227.9" width="22.2" height="30.2" fill="#ED7604"/>
<rect x="1183.2" y="2227.9" width="22.2" height="30.2" fill="#ED7604"/>
<rect x="1206.7" y="2227.9" width="22.2" height="30.2" fill="#ED7604"/>
<rect x="1230.1" y="2227.9" width="22.2" height="30.2" fill="#ED7604"/>
<rect x="1253.5" y="2227.9" width="22.2" height="30.2" fill="#ED7604"/>
<rect x="1277.0" y="2227.9" width="22.2" height="30.2" fill="#ED7604"/>
<rect x="1300.4" y="2227.9" width="22.2" height="30.2" fill="#ED7604"/>
<rect x="1323.8" y="2227.9" width="22.2" height="30.2" fill="#ED7604"/>
<rect x="1347.3" y="2227.9" width="22.2" height="30.2" fill="#ED7604"/>
<rect x="596.9" y="2267.4" width="773.2" height="35.4" fill="#9B786D"/>
<line x1="620.3" y1="2267.4" x2="620.3" y2="2302.8" stroke="#fff" stroke-width="0.8" opacity="0.18"/>
<line x1="643.8" y1="2267.4" x2="643.8" y2="2302.8" stroke="#fff" stroke-width="0.8" opacity="0.18"/>
<line x1="667.2" y1="2267.4" x2="667.2" y2="2302.8" stroke="#fff" stroke-width="0.8" opacity="0.18"/>
<line x1="690.6" y1="2267.4" x2="690.6" y2="2302.8" stroke="#fff" stroke-width="0.8" opacity="0.18"/>
<line x1="714.0" y1="2267.4" x2="714.0" y2="2302.8" stroke="#fff" stroke-width="0.8" opacity="0.18"/>
<line x1="737.5" y1="2267.4" x2="737.5" y2="2302.8" stroke="#fff" stroke-width="0.8" opacity="0.18"/>
<line x1="760.9" y1="2267.4" x2="760.9" y2="2302.8" stroke="#fff" stroke-width="0.8" opacity="0.18"/>
<line x1="784.3" y1="2267.4" x2="784.3" y2="2302.8" stroke="#fff" stroke-width="0.8" opacity="0.18"/>
<line x1="807.8" y1="2267.4" x2="807.8" y2="2302.8" stroke="#fff" stroke-width="0.8" opacity="0.18"/>
<line x1="831.2" y1="2267.4" x2="831.2" y2="2302.8" stroke="#fff" stroke-width="0.8" opacity="0.18"/>
<line x1="854.6" y1="2267.4" x2="854.6" y2="2302.8" stroke="#fff" stroke-width="0.8" opacity="0.18"/>
<line x1="878.1" y1="2267.4" x2="878.1" y2="2302.8" stroke="#fff" stroke-width="0.8" opacity="0.18"/>
<line x1="901.5" y1="2267.4" x2="901.5" y2="2302.8" stroke="#fff" stroke-width="0.8" opacity="0.18"/>
<line x1="924.9" y1="2267.4" x2="924.9" y2="2302.8" stroke="#fff" stroke-width="0.8" opacity="0.18"/>
<line x1="948.3" y1="2267.4" x2="948.3" y2="2302.8" stroke="#fff" stroke-width="0.8" opacity="0.18"/>
<line x1="971.8" y1="2267.4" x2="971.8" y2="2302.8" stroke="#fff" stroke-width="0.8" opacity="0.18"/>
<line x1="995.2" y1="2267.4" x2="995.2" y2="2302.8" stroke="#fff" stroke-width="0.8" opacity="0.18"/>
<line x1="1018.6" y1="2267.4" x2="1018.6" y2="2302.8" stroke="#fff" stroke-width="0.8" opacity="0.18"/>
<line x1="1042.1" y1="2267.4" x2="1042.1" y2="2302.8" stroke="#fff" stroke-width="0.8" opacity="0.18"/>
<line x1="1065.5" y1="2267.4" x2="1065.5" y2="2302.8" stroke="#fff" stroke-width="0.8" opacity="0.18"/>
<line x1="1088.9" y1="2267.4" x2="1088.9" y2="2302.8" stroke="#fff" stroke-width="0.8" opacity="0.18"/>
<line x1="1112.4" y1="2267.4" x2="1112.4" y2="2302.8" stroke="#fff" stroke-width="0.8" opacity="0.18"/>
<line x1="1135.8" y1="2267.4" x2="1135.8" y2="2302.8" stroke="#fff" stroke-width="0.8" opacity="0.18"/>
<line x1="1159.2" y1="2267.4" x2="1159.2" y2="2302.8" stroke="#fff" stroke-width="0.8" opacity="0.18"/>
<line x1="1182.7" y1="2267.4" x2="1182.7" y2="2302.8" stroke="#fff" stroke-width="0.8" opacity="0.18"/>
<line x1="1206.1" y1="2267.4" x2="1206.1" y2="2302.8" stroke="#fff" stroke-width="0.8" opacity="0.18"/>
<line x1="1229.5" y1="2267.4" x2="1229.5" y2="2302.8" stroke="#fff" stroke-width="0.8" opacity="0.18"/>
<line x1="1252.9" y1="2267.4" x2="1252.9" y2="2302.8" stroke="#fff" stroke-width="0.8" opacity="0.18"/>
<line x1="1276.4" y1="2267.4" x2="1276.4" y2="2302.8" stroke="#fff" stroke-width="0.8" opacity="0.18"/>
<line x1="1299.8" y1="2267.4" x2="1299.8" y2="2302.8" stroke="#fff" stroke-width="0.8" opacity="0.18"/>
<line x1="1323.2" y1="2267.4" x2="1323.2" y2="2302.8" stroke="#fff" stroke-width="0.8" opacity="0.18"/>
<line x1="1346.7" y1="2267.4" x2="1346.7" y2="2302.8" stroke="#fff" stroke-width="0.8" opacity="0.18"/>
<text x="1000.8" y="2293.4" font-size="24.7" fill="#fff" text-anchor="middle">CLP</text>
<rect x="1387.2" y="2026.4" width="22.2" height="30.2" fill="#CEDCEA"/>
<rect x="1410.6" y="2026.4" width="22.2" height="30.2" fill="#CEDCEA"/>
<rect x="1434.1" y="2026.4" width="22.2" height="30.2" fill="#EEEEEE"/>
<rect x="1387.2" y="2058.0" width="22.2" height="30.2" fill="#CEDCEA"/>
<rect x="1410.6" y="2058.0" width="22.2" height="30.2" fill="#C9DAEA"/>
<rect x="1434.1" y="2058.0" width="22.2" height="30.2" fill="#C9DAEA"/>
<rect x="1387.2" y="2089.6" width="22.2" height="30.2" fill="#C9DAEA"/>
<rect x="1410.6" y="2089.6" width="22.2" height="30.2" fill="#C9DAEA"/>
<rect x="1434.1" y="2089.6" width="22.2" height="30.2" fill="#B6CEE7"/>
<rect x="1387.2" y="2133.7" width="22.2" height="30.2" fill="#E0E6EC"/>
<rect x="1410.6" y="2133.7" width="22.2" height="30.2" fill="#CEDCEA"/>
<rect x="1434.1" y="2133.7" width="22.2" height="30.2" fill="#E9ECEE"/>
<rect x="1387.2" y="2165.1" width="22.2" height="30.2" fill="#ED7604"/>
<rect x="1410.6" y="2165.1" width="22.2" height="30.2" fill="#ED7604"/>
<rect x="1434.1" y="2165.1" width="22.2" height="30.2" fill="#ED7604"/>
<rect x="1387.2" y="2196.5" width="22.2" height="30.2" fill="#C9DAEA"/>
<rect x="1410.6" y="2196.5" width="22.2" height="30.2" fill="#C9DAEA"/>
<rect x="1434.1" y="2196.5" width="22.2" height="30.2" fill="#B6CEE7"/>
<rect x="1387.2" y="2227.9" width="22.2" height="30.2" fill="#ABC8E5"/>
<rect x="1410.6" y="2227.9" width="22.2" height="30.2" fill="#C9DAEA"/>
<rect x="1434.1" y="2227.9" width="22.2" height="30.2" fill="#B6CEE7"/>
<rect x="1386.6" y="2267.4" width="70.3" height="35.4" fill="#007A33"/>
<line x1="1410.0" y1="2267.4" x2="1410.0" y2="2302.8" stroke="#fff" stroke-width="0.8" opacity="0.18"/>
<line x1="1433.5" y1="2267.4" x2="1433.5" y2="2302.8" stroke="#fff" stroke-width="0.8" opacity="0.18"/>
<text x="1422.6" y="2293.4" font-size="24.7" fill="#fff" text-anchor="middle">GMP</text>
<rect x="1474.3" y="2026.4" width="22.2" height="30.2" fill="#96BBE2"/>
<rect x="1497.7" y="2026.4" width="22.2" height="30.2" fill="#B0CBE6"/>
<rect x="1474.3" y="2058.0" width="22.2" height="30.2" fill="#96BBE2"/>
<rect x="1497.7" y="2058.0" width="22.2" height="30.2" fill="#A1C1E4"/>
<rect x="1474.3" y="2089.6" width="22.2" height="30.2" fill="#F0D4B8"/>
<rect x="1497.7" y="2089.6" width="22.2" height="30.2" fill="#EFDECC"/>
<rect x="1474.3" y="2133.7" width="22.2" height="30.2" fill="#EE8724"/>
<rect x="1497.7" y="2133.7" width="22.2" height="30.2" fill="#EE821A"/>
<rect x="1474.3" y="2165.1" width="22.2" height="30.2" fill="#EFD8BE"/>
<rect x="1497.7" y="2165.1" width="22.2" height="30.2" fill="#EFDECC"/>
<rect x="1474.3" y="2196.5" width="22.2" height="30.2" fill="#E5E9ED"/>
<rect x="1497.7" y="2196.5" width="22.2" height="30.2" fill="#E9ECEE"/>
<rect x="1474.3" y="2227.9" width="22.2" height="30.2" fill="#A1C1E4"/>
<rect x="1497.7" y="2227.9" width="22.2" height="30.2" fill="#88B2E0"/>
<rect x="1473.7" y="2267.4" width="46.9" height="35.4" fill="#474B47"/>
<line x1="1497.1" y1="2267.4" x2="1497.1" y2="2302.8" stroke="#fff" stroke-width="0.8" opacity="0.18"/>
<text x="1497.1" y="2293.4" font-size="20" fill="#fff" text-anchor="middle" textLength="43" lengthAdjust="spacingAndGlyphs">CMP</text>
<rect x="1537.4" y="2026.4" width="22.2" height="30.2" fill="#CEDCEA"/>
<rect x="1560.8" y="2026.4" width="22.2" height="30.2" fill="#CEDCEA"/>
<rect x="1584.3" y="2026.4" width="22.2" height="30.2" fill="#D2DFEB"/>
<rect x="1607.7" y="2026.4" width="22.2" height="30.2" fill="#D2DFEB"/>
<rect x="1631.1" y="2026.4" width="22.2" height="30.2" fill="#D2DFEB"/>
<rect x="1654.5" y="2026.4" width="22.2" height="30.2" fill="#D2DFEB"/>
<rect x="1678.0" y="2026.4" width="22.2" height="30.2" fill="#CEDCEA"/>
<rect x="1701.4" y="2026.4" width="22.2" height="30.2" fill="#B0CBE6"/>
<rect x="1724.8" y="2026.4" width="22.2" height="30.2" fill="#D2DFEB"/>
<rect x="1748.3" y="2026.4" width="22.2" height="30.2" fill="#EEEEEE"/>
<rect x="1537.4" y="2058.0" width="22.2" height="30.2" fill="#E0E6EC"/>
<rect x="1560.8" y="2058.0" width="22.2" height="30.2" fill="#DCE4EC"/>
<rect x="1584.3" y="2058.0" width="22.2" height="30.2" fill="#E0E6EC"/>
<rect x="1607.7" y="2058.0" width="22.2" height="30.2" fill="#DCE4EC"/>
<rect x="1631.1" y="2058.0" width="22.2" height="30.2" fill="#E5E9ED"/>
<rect x="1654.5" y="2058.0" width="22.2" height="30.2" fill="#DCE4EC"/>
<rect x="1678.0" y="2058.0" width="22.2" height="30.2" fill="#DCE4EC"/>
<rect x="1701.4" y="2058.0" width="22.2" height="30.2" fill="#E0E6EC"/>
<rect x="1724.8" y="2058.0" width="22.2" height="30.2" fill="#F0D4B8"/>
<rect x="1748.3" y="2058.0" width="22.2" height="30.2" fill="#EEE9E3"/>
<rect x="1537.4" y="2089.6" width="22.2" height="30.2" fill="#C9DAEA"/>
<rect x="1560.8" y="2089.6" width="22.2" height="30.2" fill="#C9DAEA"/>
<rect x="1584.3" y="2089.6" width="22.2" height="30.2" fill="#C9DAEA"/>
<rect x="1607.7" y="2089.6" width="22.2" height="30.2" fill="#C9DAEA"/>
<rect x="1631.1" y="2089.6" width="22.2" height="30.2" fill="#C9DAEA"/>
<rect x="1654.5" y="2089.6" width="22.2" height="30.2" fill="#C9DAEA"/>
<rect x="1678.0" y="2089.6" width="22.2" height="30.2" fill="#C9DAEA"/>
<rect x="1701.4" y="2089.6" width="22.2" height="30.2" fill="#A6C4E4"/>
<rect x="1724.8" y="2089.6" width="22.2" height="30.2" fill="#A6C4E4"/>
<rect x="1748.3" y="2089.6" width="22.2" height="30.2" fill="#A6C4E4"/>
<rect x="1537.4" y="2133.7" width="22.2" height="30.2" fill="#C9DAEA"/>
<rect x="1560.8" y="2133.7" width="22.2" height="30.2" fill="#C9DAEA"/>
<rect x="1584.3" y="2133.7" width="22.2" height="30.2" fill="#C9DAEA"/>
<rect x="1607.7" y="2133.7" width="22.2" height="30.2" fill="#C9DAEA"/>
<rect x="1631.1" y="2133.7" width="22.2" height="30.2" fill="#C9DAEA"/>
<rect x="1654.5" y="2133.7" width="22.2" height="30.2" fill="#C9DAEA"/>
<rect x="1678.0" y="2133.7" width="22.2" height="30.2" fill="#C9DAEA"/>
<rect x="1701.4" y="2133.7" width="22.2" height="30.2" fill="#CEDCEA"/>
<rect x="1724.8" y="2133.7" width="22.2" height="30.2" fill="#D2DFEB"/>
<rect x="1748.3" y="2133.7" width="22.2" height="30.2" fill="#E5E9ED"/>
<rect x="1537.4" y="2165.1" width="22.2" height="30.2" fill="#C9DAEA"/>
<rect x="1560.8" y="2165.1" width="22.2" height="30.2" fill="#C9DAEA"/>
<rect x="1584.3" y="2165.1" width="22.2" height="30.2" fill="#C9DAEA"/>
<rect x="1607.7" y="2165.1" width="22.2" height="30.2" fill="#C9DAEA"/>
<rect x="1631.1" y="2165.1" width="22.2" height="30.2" fill="#C9DAEA"/>
<rect x="1654.5" y="2165.1" width="22.2" height="30.2" fill="#C9DAEA"/>
<rect x="1678.0" y="2165.1" width="22.2" height="30.2" fill="#C9DAEA"/>
<rect x="1701.4" y="2165.1" width="22.2" height="30.2" fill="#C9DAEA"/>
<rect x="1724.8" y="2165.1" width="22.2" height="30.2" fill="#A6C4E4"/>
<rect x="1748.3" y="2165.1" width="22.2" height="30.2" fill="#A6C4E4"/>
<rect x="1537.4" y="2196.5" width="22.2" height="30.2" fill="#ED7604"/>
<rect x="1560.8" y="2196.5" width="22.2" height="30.2" fill="#ED7604"/>
<rect x="1584.3" y="2196.5" width="22.2" height="30.2" fill="#ED7604"/>
<rect x="1607.7" y="2196.5" width="22.2" height="30.2" fill="#ED7604"/>
<rect x="1631.1" y="2196.5" width="22.2" height="30.2" fill="#ED7604"/>
<rect x="1654.5" y="2196.5" width="22.2" height="30.2" fill="#ED7604"/>
<rect x="1678.0" y="2196.5" width="22.2" height="30.2" fill="#ED7604"/>
<rect x="1701.4" y="2196.5" width="22.2" height="30.2" fill="#ED7604"/>
<rect x="1724.8" y="2196.5" width="22.2" height="30.2" fill="#EE7F14"/>
<rect x="1748.3" y="2196.5" width="22.2" height="30.2" fill="#ED7C0F"/>
<rect x="1537.4" y="2227.9" width="22.2" height="30.2" fill="#C9DAEA"/>
<rect x="1560.8" y="2227.9" width="22.2" height="30.2" fill="#C9DAEA"/>
<rect x="1584.3" y="2227.9" width="22.2" height="30.2" fill="#C9DAEA"/>
<rect x="1607.7" y="2227.9" width="22.2" height="30.2" fill="#C9DAEA"/>
<rect x="1631.1" y="2227.9" width="22.2" height="30.2" fill="#C9DAEA"/>
<rect x="1654.5" y="2227.9" width="22.2" height="30.2" fill="#C9DAEA"/>
<rect x="1678.0" y="2227.9" width="22.2" height="30.2" fill="#C9DAEA"/>
<rect x="1701.4" y="2227.9" width="22.2" height="30.2" fill="#EEECEA"/>
<rect x="1724.8" y="2227.9" width="22.2" height="30.2" fill="#B6CEE7"/>
<rect x="1748.3" y="2227.9" width="22.2" height="30.2" fill="#ABC8E5"/>
<rect x="1536.8" y="2267.4" width="234.3" height="35.4" fill="#8F8F00"/>
<line x1="1560.2" y1="2267.4" x2="1560.2" y2="2302.8" stroke="#fff" stroke-width="0.8" opacity="0.18"/>
<line x1="1583.7" y1="2267.4" x2="1583.7" y2="2302.8" stroke="#fff" stroke-width="0.8" opacity="0.18"/>
<line x1="1607.1" y1="2267.4" x2="1607.1" y2="2302.8" stroke="#fff" stroke-width="0.8" opacity="0.18"/>
<line x1="1630.5" y1="2267.4" x2="1630.5" y2="2302.8" stroke="#fff" stroke-width="0.8" opacity="0.18"/>
<line x1="1654.0" y1="2267.4" x2="1654.0" y2="2302.8" stroke="#fff" stroke-width="0.8" opacity="0.18"/>
<line x1="1677.4" y1="2267.4" x2="1677.4" y2="2302.8" stroke="#fff" stroke-width="0.8" opacity="0.18"/>
<line x1="1700.8" y1="2267.4" x2="1700.8" y2="2302.8" stroke="#fff" stroke-width="0.8" opacity="0.18"/>
<line x1="1724.2" y1="2267.4" x2="1724.2" y2="2302.8" stroke="#fff" stroke-width="0.8" opacity="0.18"/>
<line x1="1747.7" y1="2267.4" x2="1747.7" y2="2302.8" stroke="#fff" stroke-width="0.8" opacity="0.18"/>
<text x="1643.4" y="2293.4" font-size="24.7" fill="#fff" text-anchor="middle">MEP</text>
<text x="116.0" y="2054.4" font-size="28.8" fill="#005CA9">HSC</text>
<text x="116.0" y="2084.9" font-size="28.8" fill="#62C6DF">MPP</text>
<text x="116.0" y="2116.3" font-size="28.8" fill="#388EA3">MLP</text>
<text x="116.0" y="2158.4" font-size="28.8" fill="#474B47">CMP</text>
<text x="116.0" y="2189.2" font-size="28.8" fill="#007A33">GMP</text>
<text x="116.0" y="2220.3" font-size="28.8" fill="#8F8F00">MEP</text>
<text x="116.0" y="2251.2" font-size="28.8" fill="#9B786D">CLP</text>
<rect x="99.5" y="2025.0" width="4.0" height="99.0" fill="#5B67B5"/>
<rect x="99.5" y="2130.2" width="4.0" height="131.3" fill="#8DBB5A"/>
<text x="20.5" y="2084.9" font-size="28.8" fill="#5B67B5">Stem</text>
<text x="42.8" y="2206.2" font-size="28.8" fill="#78A84A">Pro</text>
<text x="193.1" y="2309.0" font-size="20.6" fill="#388EA3" transform="rotate(90 193.1 2309.0)">HoxC9(Homeobox)</text>
<text x="216.5" y="2309.0" font-size="20.6" fill="#388EA3" transform="rotate(90 216.5 2309.0)">HoxA9(Homeobox)</text>
<text x="240.0" y="2309.0" font-size="20.6" fill="#388EA3" transform="rotate(90 240.0 2309.0)">PBX2(Homeobox)</text>
<text x="263.4" y="2309.0" font-size="20.6" fill="#388EA3" transform="rotate(90 263.4 2309.0)">RUNX−AML(Runt)</text>
<text x="286.8" y="2309.0" font-size="20.6" fill="#388EA3" transform="rotate(90 286.8 2309.0)">RUNX(Runt)</text>
<text x="310.3" y="2309.0" font-size="20.6" fill="#388EA3" transform="rotate(90 310.3 2309.0)">RUNX2(Runt)</text>
<text x="333.7" y="2309.0" font-size="20.6" fill="#388EA3" transform="rotate(90 333.7 2309.0)">RUNX1(Runt)</text>
<text x="373.9" y="2309.0" font-size="20.6" fill="#005CA9" transform="rotate(90 373.9 2309.0)">Fra2(bZIP)</text>
<text x="397.3" y="2309.0" font-size="20.6" fill="#005CA9" transform="rotate(90 397.3 2309.0)">Fosl2(bZIP)</text>
<text x="420.8" y="2309.0" font-size="20.6" fill="#005CA9" transform="rotate(90 420.8 2309.0)">JunB(bZIP)</text>
<text x="444.2" y="2309.0" font-size="20.6" fill="#005CA9" transform="rotate(90 444.2 2309.0)">BATF(bZIP)</text>
<text x="467.6" y="2309.0" font-size="20.6" fill="#005CA9" transform="rotate(90 467.6 2309.0)">Atf3(bZIP)</text>
<text x="491.1" y="2309.0" font-size="20.6" fill="#005CA9" transform="rotate(90 491.1 2309.0)">AP−1(bZIP)</text>
<text x="514.5" y="2309.0" font-size="20.6" fill="#005CA9" transform="rotate(90 514.5 2309.0)">Fra1(bZIP)</text>
<text x="537.9" y="2309.0" font-size="20.6" fill="#005CA9" transform="rotate(90 537.9 2309.0)">Fos(bZIP)</text>
<text x="561.4" y="2309.0" font-size="20.6" fill="#005CA9" transform="rotate(90 561.4 2309.0)">Jun−AP1(bZIP)</text>
<text x="601.3" y="2309.0" font-size="20.6" fill="#9B786D" transform="rotate(90 601.3 2309.0)">Tbx5(T−box)</text>
<text x="624.7" y="2309.0" font-size="20.6" fill="#9B786D" transform="rotate(90 624.7 2309.0)">ETS:E−box(ETS,bHLH)</text>
<text x="648.2" y="2309.0" font-size="20.6" fill="#9B786D" transform="rotate(90 648.2 2309.0)">HEB(bHLH)</text>
<text x="671.6" y="2309.0" font-size="20.6" fill="#9B786D" transform="rotate(90 671.6 2309.0)">E2A(bHLH)</text>
<text x="695.0" y="2309.0" font-size="20.6" fill="#9B786D" transform="rotate(90 695.0 2309.0)">TCF12(bHLH)</text>
<text x="718.5" y="2309.0" font-size="20.6" fill="#9B786D" transform="rotate(90 718.5 2309.0)">Snail1(Zf)</text>
<text x="741.9" y="2309.0" font-size="20.6" fill="#9B786D" transform="rotate(90 741.9 2309.0)">Ptf1a(bHLH)</text>
<text x="765.3" y="2309.0" font-size="20.6" fill="#9B786D" transform="rotate(90 765.3 2309.0)">Ascl1(bHLH)</text>
<text x="788.8" y="2309.0" font-size="20.6" fill="#9B786D" transform="rotate(90 788.8 2309.0)">NeuroD1(bHLH)</text>
<text x="812.2" y="2309.0" font-size="20.6" fill="#9B786D" transform="rotate(90 812.2 2309.0)">Ascl2(bHLH)</text>
<text x="835.6" y="2309.0" font-size="20.6" fill="#9B786D" transform="rotate(90 835.6 2309.0)">EBF2(EBF)</text>
<text x="859.0" y="2309.0" font-size="20.6" fill="#9B786D" transform="rotate(90 859.0 2309.0)">EBF1(EBF)</text>
<text x="882.5" y="2309.0" font-size="20.6" fill="#9B786D" transform="rotate(90 882.5 2309.0)">EBF(EBF)</text>
<text x="905.9" y="2309.0" font-size="20.6" fill="#9B786D" transform="rotate(90 905.9 2309.0)">Slug(Zf)</text>
<text x="929.3" y="2309.0" font-size="20.6" fill="#9B786D" transform="rotate(90 929.3 2309.0)">FOXO3(Forkhead)</text>
<text x="952.8" y="2309.0" font-size="20.6" fill="#9B786D" transform="rotate(90 952.8 2309.0)">FOXK1(Forkhead)</text>
<text x="976.2" y="2309.0" font-size="20.6" fill="#9B786D" transform="rotate(90 976.2 2309.0)">PAX5(Paired,Homeobox)</text>
<text x="999.6" y="2309.0" font-size="20.6" fill="#9B786D" transform="rotate(90 999.6 2309.0)">FOXK2(Forkhead)</text>
<text x="1023.1" y="2309.0" font-size="20.6" fill="#9B786D" transform="rotate(90 1023.1 2309.0)">ZEB1(Zf)</text>
<text x="1046.5" y="2309.0" font-size="20.6" fill="#9B786D" transform="rotate(90 1046.5 2309.0)">E2A(bHLH),near_PU.1</text>
<text x="1069.9" y="2309.0" font-size="20.6" fill="#9B786D" transform="rotate(90 1069.9 2309.0)">ZBTB18(Zf)</text>
<text x="1093.3" y="2309.0" font-size="20.6" fill="#9B786D" transform="rotate(90 1093.3 2309.0)">TCF4(bHLH)</text>
<text x="1116.8" y="2309.0" font-size="20.6" fill="#9B786D" transform="rotate(90 1116.8 2309.0)">TCF21(bHLH)</text>
<text x="1140.2" y="2309.0" font-size="20.6" fill="#9B786D" transform="rotate(90 1140.2 2309.0)">Twist2(bHLH)</text>
<text x="1163.6" y="2309.0" font-size="20.6" fill="#9B786D" transform="rotate(90 1163.6 2309.0)">MyoG(bHLH)</text>
<text x="1187.1" y="2309.0" font-size="20.6" fill="#9B786D" transform="rotate(90 1187.1 2309.0)">Atoh1(bHLH)</text>
<text x="1210.5" y="2309.0" font-size="20.6" fill="#9B786D" transform="rotate(90 1210.5 2309.0)">ZEB2(Zf)</text>
<text x="1233.9" y="2309.0" font-size="20.6" fill="#9B786D" transform="rotate(90 1233.9 2309.0)">BHLHA15(bHLH)</text>
<text x="1257.4" y="2309.0" font-size="20.6" fill="#9B786D" transform="rotate(90 1257.4 2309.0)">Ap4(bHLH)</text>
<text x="1280.8" y="2309.0" font-size="20.6" fill="#9B786D" transform="rotate(90 1280.8 2309.0)">NeuroG2(bHLH)</text>
<text x="1304.2" y="2309.0" font-size="20.6" fill="#9B786D" transform="rotate(90 1304.2 2309.0)">Myf5(bHLH)</text>
<text x="1327.6" y="2309.0" font-size="20.6" fill="#9B786D" transform="rotate(90 1327.6 2309.0)">MyoD(bHLH)</text>
<text x="1351.1" y="2309.0" font-size="20.6" fill="#9B786D" transform="rotate(90 1351.1 2309.0)">PRDM9(Zf)</text>
<text x="1391.0" y="2309.0" font-size="20.6" fill="#007A33" transform="rotate(90 1391.0 2309.0)">NFIL3(bZIP)</text>
<text x="1414.4" y="2309.0" font-size="20.6" fill="#007A33" transform="rotate(90 1414.4 2309.0)">CEBP(bZIP)</text>
<text x="1437.9" y="2309.0" font-size="20.6" fill="#007A33" transform="rotate(90 1437.9 2309.0)">CEBP:AP1(bZIP)</text>
<text x="1478.1" y="2309.0" font-size="20.6" fill="#474B47" transform="rotate(90 1478.1 2309.0)">Smad4(MAD)</text>
<text x="1501.5" y="2309.0" font-size="20.6" fill="#474B47" transform="rotate(90 1501.5 2309.0)">Smad2(MAD)</text>
<text x="1541.2" y="2309.0" font-size="20.6" fill="#8F8F00" transform="rotate(90 1541.2 2309.0)">GATA6(Zf)</text>
<text x="1564.6" y="2309.0" font-size="20.6" fill="#8F8F00" transform="rotate(90 1564.6 2309.0)">GATA3(Zf)</text>
<text x="1588.1" y="2309.0" font-size="20.6" fill="#8F8F00" transform="rotate(90 1588.1 2309.0)">GATA2(Zf)</text>
<text x="1611.5" y="2309.0" font-size="20.6" fill="#8F8F00" transform="rotate(90 1611.5 2309.0)">GATA1(Zf)</text>
<text x="1634.9" y="2309.0" font-size="20.6" fill="#8F8F00" transform="rotate(90 1634.9 2309.0)">GATA:SCL(Zf,bHLH)</text>
<text x="1658.4" y="2309.0" font-size="20.6" fill="#8F8F00" transform="rotate(90 1658.4 2309.0)">TRPS1(Zf)</text>
<text x="1681.8" y="2309.0" font-size="20.6" fill="#8F8F00" transform="rotate(90 1681.8 2309.0)">GATA4(Zf)</text>
<text x="1705.2" y="2309.0" font-size="20.6" fill="#8F8F00" transform="rotate(90 1705.2 2309.0)">Otx2(Homeobox)</text>
<text x="1728.7" y="2309.0" font-size="20.6" fill="#8F8F00" transform="rotate(90 1728.7 2309.0)">GSC(Homeobox)</text>
<text x="1752.1" y="2309.0" font-size="20.6" fill="#8F8F00" transform="rotate(90 1752.1 2309.0)">CRX(Homeobox)</text>
<defs><linearGradient id="cb" x1="0" y1="0" x2="0" y2="1">
<stop offset="0" stop-color="#FF8C00"/>
<stop offset="0.12" stop-color="#F9962A"/>
<stop offset="0.27" stop-color="#F1B173"/>
<stop offset="0.4" stop-color="#ECD3B8"/>
<stop offset="0.5" stop-color="#E6E5E3"/>
<stop offset="0.6" stop-color="#C6D6E6"/>
<stop offset="0.73" stop-color="#8DB5DF"/>
<stop offset="0.88" stop-color="#4D93DA"/>
<stop offset="1" stop-color="#1F78D6"/>
</linearGradient></defs>
<rect x="1822.1" y="2034.9" width="22.0" height="268.9" fill="url(#cb)"/>
<text x="1811.8" y="2055.8" font-size="20.6" fill="#000" text-anchor="end">2</text>
<text x="1811.8" y="2116.1" font-size="20.6" fill="#000" text-anchor="end">1</text>
<text x="1811.8" y="2176.4" font-size="20.6" fill="#000" text-anchor="end">0</text>
<text x="1811.8" y="2236.7" font-size="20.6" fill="#000" text-anchor="end">−1</text>
<text x="1811.8" y="2297.0" font-size="20.6" fill="#000" text-anchor="end">−2</text>
<text x="1858.6" y="2168.8" font-size="20.6" fill="#000" text-anchor="middle" transform="rotate(90 1858.6 2168.8)">Motif enrichment (z-score)</text>
<rect x="1823.0" y="2330.1" width="20.2" height="16.0" fill="#005CA9"/>
<text x="1850.7" y="2348.8" font-size="24.7" fill="#005CA9">HSC</text>
<rect x="1823.0" y="2353.4" width="20.2" height="16.0" fill="#62C6DF"/>
<text x="1850.7" y="2372.1" font-size="24.7" fill="#62C6DF">MPP</text>
<rect x="1823.0" y="2376.7" width="20.2" height="16.0" fill="#388EA3"/>
<text x="1850.7" y="2395.4" font-size="24.7" fill="#388EA3">MLP</text>
<rect x="1823.0" y="2400.0" width="20.2" height="16.0" fill="#474B47"/>
<text x="1850.7" y="2418.7" font-size="24.7" fill="#474B47">CMP</text>
<rect x="1823.0" y="2423.3" width="20.2" height="16.0" fill="#007A33"/>
<text x="1850.7" y="2442.0" font-size="24.7" fill="#007A33">GMP</text>
<rect x="1823.0" y="2446.6" width="20.2" height="16.0" fill="#8F8F00"/>
<text x="1850.7" y="2465.3" font-size="24.7" fill="#8F8F00">MEP</text>
<rect x="1823.0" y="2469.9" width="20.2" height="16.0" fill="#9B786D"/>
<text x="1850.7" y="2488.6" font-size="24.7" fill="#9B786D">CLP</text>
<path d="M200.4 2018.8V1982.8H223.8V2018.8M212.1 1982.8V1969.0H247.3V2018.8M270.7 2018.8V2011.7H294.1V2018.8M282.4 2011.7V2002.5H317.6V2018.8M300.0 2002.5V1987.1H341.0V2018.8M229.7 1969.0V1894.3H320.5V1987.1M381.2 2018.8V2014.4H404.6V2018.8M392.9 2014.4V2012.5H428.1V2018.8M410.5 2012.5V2011.0H451.5V2018.8M474.9 2018.8V2011.7H498.4V2018.8M431.0 2011.0V2006.7H486.6V2011.7M521.8 2018.8V2014.0H545.2V2018.8M533.5 2014.0V2009.0H568.7V2018.8M458.8 2006.7V2002.9H551.1V2009.0M275.1 1894.3V1828.9H505.0V2002.9M608.6 2018.8V1965.1H632.0V2018.8M655.5 2018.8V2016.6H678.9V2018.8M702.3 2018.8V2015.8H725.8V2018.8M749.2 2018.8V2016.2H772.6V2018.8M667.2 2016.6V2015.8H714.0V2015.8M760.9 2016.2V2015.0H796.1V2018.8M690.6 2015.8V2015.0H778.5V2015.0M819.5 2018.8V2016.4H842.9V2018.8M866.3 2018.8V2015.6H889.8V2018.8M831.2 2016.4V2015.8H878.1V2015.6M854.6 2015.8V2015.2H913.2V2018.8M732.8 2015.0V2013.3H850.2V2015.2M936.6 2018.8V2014.8H960.1V2018.8M791.5 2013.3V2009.8H948.4V2014.8M983.5 2018.8V2014.2H1006.9V2018.8M1030.4 2018.8V2016.2H1053.8V2018.8M1077.2 2018.8V2015.4H1100.6V2018.8M1124.1 2018.8V2015.8H1147.5V2018.8M1042.1 2016.2V2015.3H1088.9V2015.4M1065.5 2015.3V2014.4H1135.8V2015.8M995.2 2014.2V2011.0H1086.1V2014.4M869.9 2009.8V2005.9H1040.7V2011.0M1170.9 2018.8V2016.4H1194.4V2018.8M1217.8 2018.8V2015.6H1241.2V2018.8M1182.7 2016.4V2015.5H1229.5V2015.6M1206.1 2015.5V2014.6H1264.7V2018.8M1288.1 2018.8V2015.8H1311.5V2018.8M1299.8 2015.8V2014.2H1334.9V2018.8M1225.0 2014.6V2009.8H1317.4V2014.2M955.3 2005.9V1996.3H1271.2V2009.8M1113.2 1996.3V1984.4H1358.4V2018.8M620.3 1965.1V1956.7H1235.8V1984.4M397.9 1828.9V1809.3H928.1V1956.7M1398.3 2018.8V2000.9H1421.7V2018.8M1410.0 2000.9V1985.9H1445.2V2018.8M1485.4 2018.8V1992.5H1508.8V2018.8M1427.6 1985.9V1855.4H1497.1V1992.5M1548.5 2018.8V2016.4H1571.9V2018.8M1595.4 2018.8V2015.6H1618.8V2018.8M1642.2 2018.8V2016.0H1665.7V2018.8M1560.2 2016.4V2013.7H1607.1V2015.6M1653.9 2016.0V2012.9H1689.1V2018.8M1583.7 2013.7V2011.0H1671.5V2012.9M1645.0 2011.0V1983.2H1712.5V2018.8M1736.0 2018.8V1991.7H1759.4V2018.8M1678.8 1983.2V1963.6H1747.7V1991.7M1453.7 1855.4V1814.6H1713.2V1963.6M671.2 1809.3V1800.8H1600.3V1814.6" fill="none" stroke="#000" stroke-width="1.8" stroke-linejoin="miter"/>
</svg>
</body></html>
